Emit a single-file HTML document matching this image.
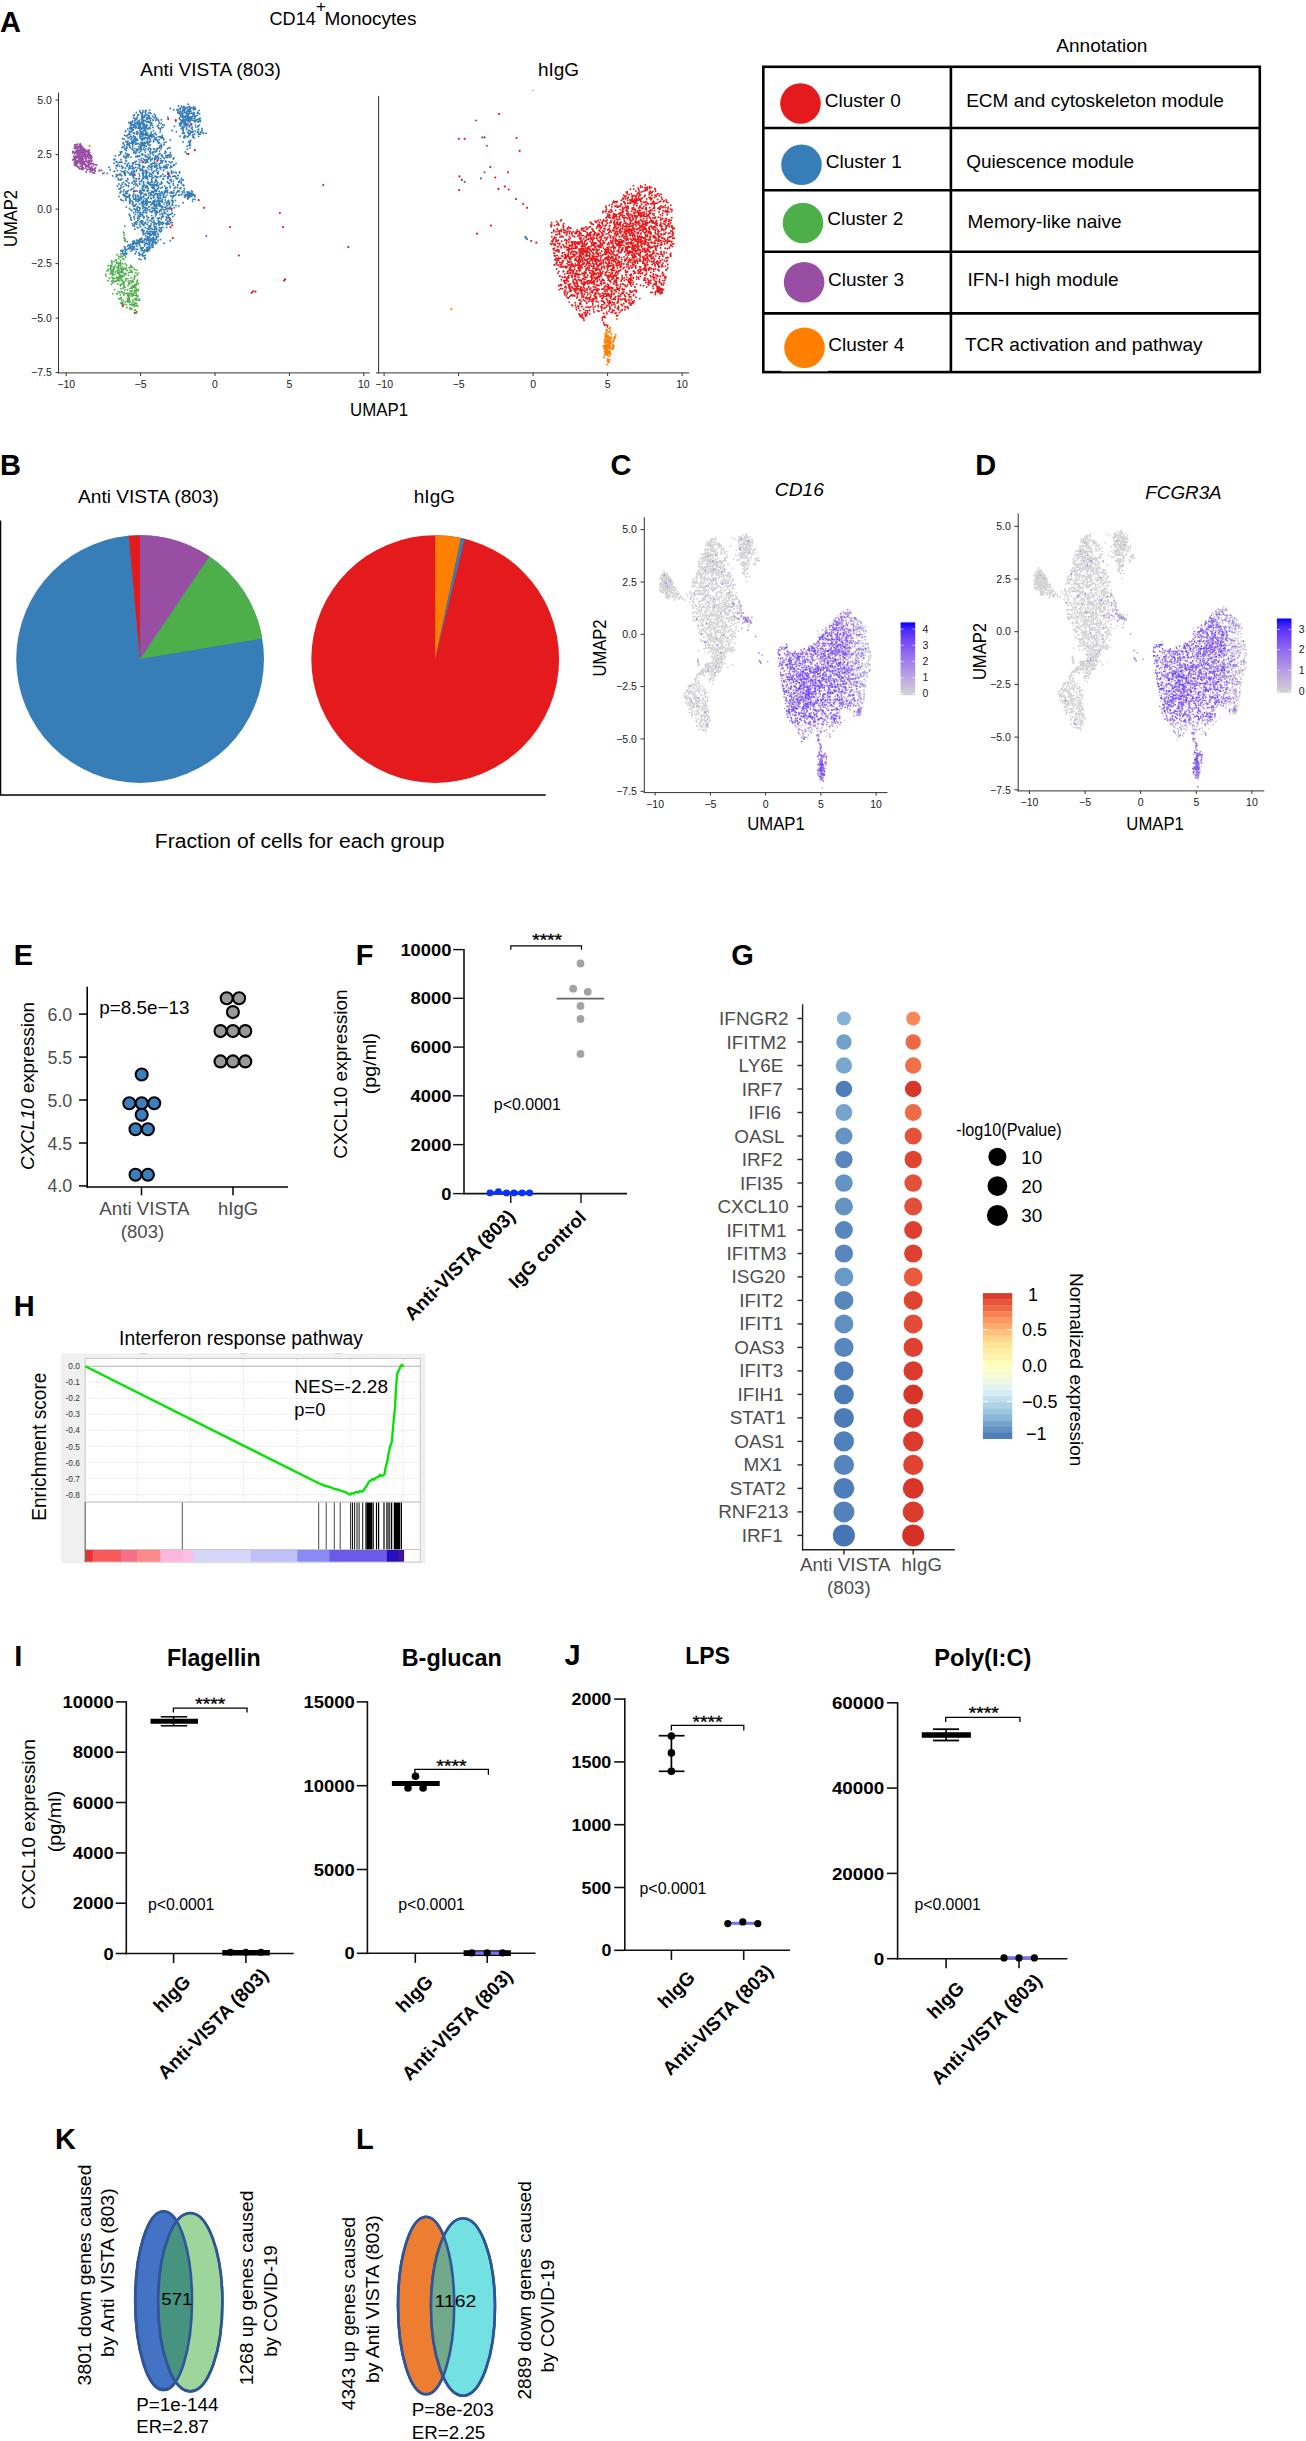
<!DOCTYPE html>
<html><head><meta charset="utf-8"><title>Figure</title>
<style>html,body{margin:0;padding:0;background:#fff}svg{display:block}text{font-family:"Liberation Sans",sans-serif}</style>
</head><body>
<svg width="1306" height="2441" viewBox="0 0 1306 2441">
<rect width="1306" height="2441" fill="#fff"/>
<text x="0.0" y="31.8" font-size="29" font-weight="bold">A</text>
<text x="269.5" y="25.1" font-size="18.5" textLength="46.3" lengthAdjust="spacingAndGlyphs">CD14</text>
<text x="316.0" y="12.0" font-size="17">+</text>
<text x="324.5" y="25.1" font-size="19" textLength="91.9" lengthAdjust="spacingAndGlyphs">Monocytes</text>
<text x="210.6" y="75.6" font-size="19" text-anchor="middle" textLength="140.6" lengthAdjust="spacingAndGlyphs">Anti VISTA (803)</text>
<text x="558.5" y="75.6" font-size="19" text-anchor="middle">hIgG</text>
<line x1="531.5" y1="90.2" x2="534.5" y2="90.2" stroke="#b0b0b0" stroke-width="1"/>
<line x1="58.5" y1="92.8" x2="58.5" y2="373.4" stroke="#333" stroke-width="1"/>
<line x1="58.0" y1="372.9" x2="369.7" y2="372.9" stroke="#333" stroke-width="1"/>
<line x1="55.5" y1="100.1" x2="58.5" y2="100.1" stroke="#333" stroke-width="1"/>
<text x="51.8" y="103.8" font-size="10.5" text-anchor="end" fill="#1a1a1a">5.0</text>
<line x1="55.5" y1="154.6" x2="58.5" y2="154.6" stroke="#333" stroke-width="1"/>
<text x="51.8" y="158.3" font-size="10.5" text-anchor="end" fill="#1a1a1a">2.5</text>
<line x1="55.5" y1="209.1" x2="58.5" y2="209.1" stroke="#333" stroke-width="1"/>
<text x="51.8" y="212.8" font-size="10.5" text-anchor="end" fill="#1a1a1a">0.0</text>
<line x1="55.5" y1="263.6" x2="58.5" y2="263.6" stroke="#333" stroke-width="1"/>
<text x="51.8" y="267.3" font-size="10.5" text-anchor="end" fill="#1a1a1a">−2.5</text>
<line x1="55.5" y1="318.1" x2="58.5" y2="318.1" stroke="#333" stroke-width="1"/>
<text x="51.8" y="321.8" font-size="10.5" text-anchor="end" fill="#1a1a1a">−5.0</text>
<line x1="55.5" y1="372.6" x2="58.5" y2="372.6" stroke="#333" stroke-width="1"/>
<text x="51.8" y="376.3" font-size="10.5" text-anchor="end" fill="#1a1a1a">−7.5</text>
<line x1="66.2" y1="372.9" x2="66.2" y2="376.0" stroke="#333" stroke-width="1"/>
<text x="66.2" y="388.3" font-size="10.5" text-anchor="middle" fill="#1a1a1a">−10</text>
<line x1="384.1" y1="372.9" x2="384.1" y2="376.0" stroke="#333" stroke-width="1"/>
<text x="384.1" y="388.3" font-size="10.5" text-anchor="middle" fill="#1a1a1a">−10</text>
<line x1="140.6" y1="372.9" x2="140.6" y2="376.0" stroke="#333" stroke-width="1"/>
<text x="140.6" y="388.3" font-size="10.5" text-anchor="middle" fill="#1a1a1a">−5</text>
<line x1="458.6" y1="372.9" x2="458.6" y2="376.0" stroke="#333" stroke-width="1"/>
<text x="458.6" y="388.3" font-size="10.5" text-anchor="middle" fill="#1a1a1a">−5</text>
<line x1="215.0" y1="372.9" x2="215.0" y2="376.0" stroke="#333" stroke-width="1"/>
<text x="215.0" y="388.3" font-size="10.5" text-anchor="middle" fill="#1a1a1a">0</text>
<line x1="533.1" y1="372.9" x2="533.1" y2="376.0" stroke="#333" stroke-width="1"/>
<text x="533.1" y="388.3" font-size="10.5" text-anchor="middle" fill="#1a1a1a">0</text>
<line x1="289.4" y1="372.9" x2="289.4" y2="376.0" stroke="#333" stroke-width="1"/>
<text x="289.4" y="388.3" font-size="10.5" text-anchor="middle" fill="#1a1a1a">5</text>
<line x1="607.6" y1="372.9" x2="607.6" y2="376.0" stroke="#333" stroke-width="1"/>
<text x="607.6" y="388.3" font-size="10.5" text-anchor="middle" fill="#1a1a1a">5</text>
<line x1="363.8" y1="372.9" x2="363.8" y2="376.0" stroke="#333" stroke-width="1"/>
<text x="363.8" y="388.3" font-size="10.5" text-anchor="middle" fill="#1a1a1a">10</text>
<line x1="682.1" y1="372.9" x2="682.1" y2="376.0" stroke="#333" stroke-width="1"/>
<text x="682.1" y="388.3" font-size="10.5" text-anchor="middle" fill="#1a1a1a">10</text>
<line x1="378.6" y1="95.9" x2="378.6" y2="373.4" stroke="#333" stroke-width="1"/>
<line x1="376.0" y1="372.9" x2="689.0" y2="372.9" stroke="#333" stroke-width="1"/>
<text font-size="19" text-anchor="middle" textLength="57.0" lengthAdjust="spacingAndGlyphs" transform="translate(17.3 218.5) rotate(-90)">UMAP2</text>
<text x="379.0" y="415.8" font-size="19" text-anchor="middle" textLength="58.0" lengthAdjust="spacingAndGlyphs">UMAP1</text>
<path d="M140.3 240.0h0M159.5 206.2h0M149.5 135.2h0M162.4 201.9h0M139.5 136.1h0M167.2 205.7h0M170.6 195.8h0M151.9 218.4h0M132.1 174.9h0M149.0 145.4h0M116.1 161.5h0M171.6 172.0h0M154.4 160.1h0M146.6 159.9h0M146.9 128.3h0M160.4 129.0h0M135.6 197.2h0M132.2 188.7h0M145.4 176.2h0M156.8 168.2h0M147.2 200.6h0M142.3 254.8h0M134.1 209.0h0M152.9 188.2h0M142.3 222.7h0M135.7 204.8h0M158.1 142.4h0M132.0 183.0h0M135.7 156.7h0M184.0 190.7h0M121.0 162.3h0M177.6 187.6h0M141.9 139.9h0M147.0 117.9h0M126.3 136.0h0M142.8 178.3h0M156.5 118.4h0M134.3 216.4h0M136.0 196.7h0M141.6 193.6h0M147.8 121.8h0M151.8 234.6h0M127.3 191.4h0M139.4 183.8h0M121.8 175.8h0M177.7 185.5h0M190.3 195.5h0M155.7 155.9h0M153.2 120.2h0M123.6 194.5h0M119.3 162.2h0M125.7 153.2h0M148.2 188.1h0M125.9 196.6h0M129.4 214.1h0M160.9 195.0h0M168.2 182.8h0M134.4 241.8h0M161.8 155.0h0M173.3 196.3h0M150.0 211.5h0M135.1 243.1h0M139.5 216.8h0M155.5 235.3h0M175.9 177.0h0M154.4 133.7h0M141.8 136.4h0M147.8 209.2h0M136.6 224.4h0M126.0 191.5h0M140.0 208.0h0M153.7 184.3h0M138.0 227.7h0M146.5 212.8h0M176.1 163.4h0M123.2 182.4h0M171.3 156.0h0M159.8 167.5h0M155.7 180.9h0M153.9 203.8h0M170.0 157.2h0M156.6 191.3h0M151.7 219.0h0M131.3 172.4h0M183.9 185.7h0M132.4 124.8h0M151.8 215.6h0M141.0 133.6h0M145.6 202.4h0M143.6 196.7h0M137.2 118.1h0M155.2 231.7h0M175.5 195.1h0M152.8 208.3h0M168.2 217.0h0M130.0 123.5h0M151.4 240.9h0M142.0 248.0h0M161.5 127.5h0M147.7 181.6h0M156.2 166.6h0M135.3 223.9h0M146.9 122.2h0M158.6 158.6h0M153.2 177.6h0M132.2 122.1h0M167.5 155.2h0M157.3 172.7h0M139.6 192.4h0M133.9 225.3h0M154.9 158.7h0M141.5 198.8h0M156.6 231.5h0M131.2 143.3h0M155.3 232.9h0M125.7 199.5h0M169.2 203.9h0M137.0 209.0h0M143.6 137.6h0M144.9 120.5h0M147.9 138.3h0M142.8 221.4h0M134.9 151.9h0M134.5 190.5h0M145.0 223.7h0M164.5 211.5h0M129.6 146.7h0M142.3 114.3h0M136.1 249.2h0M173.6 193.0h0M165.9 161.3h0M161.3 206.2h0M134.8 223.3h0M160.4 210.6h0M156.6 228.7h0M154.3 138.9h0M186.9 191.9h0M163.9 166.5h0M134.3 171.3h0M181.2 178.4h0M146.4 178.6h0M126.2 155.4h0M138.7 115.0h0M145.0 201.6h0M143.8 233.2h0M147.7 135.5h0M153.1 237.7h0M119.7 166.2h0M158.0 119.7h0M147.6 133.3h0M130.7 201.5h0M116.2 176.7h0M163.6 178.9h0M147.7 172.5h0M152.0 195.2h0M154.8 228.6h0M151.6 235.1h0M124.4 196.0h0M156.3 204.9h0M155.2 116.1h0M155.9 120.6h0M156.5 213.6h0M127.8 141.3h0M167.9 208.5h0M164.3 125.1h0M166.9 203.0h0M143.1 145.0h0M162.9 160.7h0M163.9 196.6h0M131.5 173.5h0M167.3 187.9h0M121.8 166.1h0M148.2 222.1h0M160.4 209.9h0M134.9 123.6h0M148.7 225.6h0M128.7 169.4h0M140.7 216.0h0M176.5 192.5h0M132.1 246.3h0M141.0 149.6h0M160.4 197.1h0M135.9 164.3h0M134.9 229.2h0M132.4 124.5h0M152.5 135.8h0M149.6 151.8h0M132.3 166.0h0M142.5 241.0h0M171.7 167.1h0M117.4 170.5h0M167.1 218.4h0M140.6 197.6h0M136.5 152.1h0M149.4 142.6h0M159.0 229.9h0M155.2 139.2h0M142.3 132.3h0M173.5 185.2h0M165.9 207.5h0M145.3 125.7h0M158.3 148.4h0M143.4 210.9h0M169.8 147.7h0M179.6 172.9h0M133.5 212.7h0M175.9 194.5h0M146.6 142.4h0M167.5 190.5h0M148.0 149.6h0M161.4 147.3h0M167.3 191.6h0M121.3 200.0h0M165.9 223.8h0M165.2 202.1h0M128.5 163.3h0M127.3 143.1h0M120.2 174.9h0M157.0 165.7h0M148.2 115.5h0M147.9 143.4h0M143.1 253.0h0M148.4 154.8h0M132.8 149.3h0M131.1 139.1h0M124.2 144.9h0M153.2 173.6h0M143.5 166.4h0M152.5 217.8h0M144.5 223.5h0M136.5 224.0h0M149.0 165.7h0M124.6 135.2h0M169.3 224.0h0M132.5 143.0h0M164.1 144.7h0M128.4 156.7h0M149.7 127.4h0M151.9 240.6h0M160.4 130.1h0M152.1 178.1h0M145.1 198.6h0M168.3 164.8h0M140.2 112.0h0M173.5 164.9h0M142.8 190.2h0M129.9 195.3h0M153.9 221.2h0M140.8 212.7h0M165.2 167.9h0M169.9 192.9h0M169.5 207.8h0M160.6 222.1h0M138.9 198.6h0M117.7 175.5h0M192.2 194.1h0M147.7 247.7h0M164.9 153.2h0M134.4 114.7h0M114.1 163.2h0M140.1 148.8h0M143.2 173.8h0M124.4 139.1h0M165.7 197.3h0M163.2 216.8h0M142.5 170.0h0M162.8 214.4h0M143.7 158.9h0M149.5 174.7h0M162.5 222.3h0M141.2 250.4h0M130.4 147.8h0M164.2 158.5h0M134.7 148.5h0M153.7 171.6h0M127.6 154.0h0M147.3 183.1h0M121.9 166.2h0M163.7 209.8h0M161.5 223.7h0M158.7 128.3h0M165.3 199.9h0M133.6 178.2h0M169.7 202.2h0M135.9 210.1h0M169.7 217.9h0M134.3 243.7h0M132.6 120.9h0M126.1 192.6h0M151.8 211.7h0M174.8 176.0h0M135.9 198.8h0M126.4 185.2h0M153.6 218.1h0M145.6 110.5h0M129.1 196.3h0M128.0 145.1h0M164.8 185.9h0M165.6 155.4h0M175.5 200.5h0M128.3 134.5h0M145.4 171.3h0M151.8 182.4h0M139.3 152.3h0M156.6 181.3h0M128.3 245.0h0M162.0 182.9h0M154.9 185.3h0M146.2 243.0h0M125.3 175.4h0M146.5 199.3h0M146.7 119.1h0M131.4 210.1h0M118.9 184.0h0M133.6 198.7h0M150.2 185.2h0M167.4 222.8h0M158.8 121.3h0M157.9 196.4h0M139.6 162.3h0M135.3 191.3h0M137.7 199.5h0M120.8 180.1h0M161.9 161.2h0M151.6 179.4h0M139.5 224.3h0M146.2 172.7h0M159.9 184.1h0M138.2 143.8h0M188.1 194.8h0M150.8 149.3h0M141.8 160.4h0M183.0 185.0h0M178.1 191.4h0M176.4 172.7h0M162.0 200.8h0M164.0 204.1h0M145.7 176.8h0M155.8 193.7h0M124.8 174.6h0M149.5 122.8h0M162.3 187.3h0M156.8 184.3h0M142.3 169.3h0M171.3 181.5h0M145.7 177.5h0M151.1 166.8h0M158.5 136.6h0M189.2 197.4h0M156.7 184.6h0M165.3 167.3h0M147.6 140.2h0M155.3 176.2h0M162.3 199.2h0M156.5 137.6h0M174.3 207.7h0M161.9 208.9h0M150.4 167.2h0M139.9 125.5h0M155.2 115.7h0M137.9 128.1h0M144.0 234.3h0M158.2 203.3h0M143.0 224.4h0M170.3 208.9h0M150.8 134.9h0M141.6 149.8h0M155.6 227.7h0M143.8 225.5h0M156.5 177.6h0M145.1 162.1h0M146.8 247.7h0M141.0 160.1h0M143.6 185.5h0M140.2 226.8h0M138.0 201.8h0M114.9 159.2h0M147.9 162.3h0M139.3 204.1h0M150.0 157.6h0M122.6 138.8h0M172.2 204.4h0M137.5 249.4h0M167.6 192.7h0M149.8 184.4h0M136.1 179.1h0M160.0 224.1h0M147.8 231.3h0M173.4 159.0h0M157.5 194.8h0M139.0 125.7h0M140.1 138.0h0M126.5 161.1h0M144.2 230.8h0M129.2 154.8h0M140.2 190.3h0M120.8 152.8h0M121.6 187.4h0M168.7 223.6h0M129.6 166.8h0M127.7 143.8h0M143.3 176.6h0M161.8 167.8h0M155.4 185.3h0M150.9 113.6h0M150.4 233.6h0M136.2 161.2h0M141.0 197.2h0M137.4 195.1h0M129.1 248.7h0M170.4 167.8h0M167.3 214.9h0M171.8 193.2h0M143.8 172.9h0M161.5 201.4h0M133.9 248.4h0M154.8 176.3h0M122.1 184.2h0M146.3 250.7h0M159.9 153.5h0M147.2 236.9h0M134.0 205.5h0M130.8 217.8h0M126.4 146.7h0M161.0 137.8h0M170.9 222.6h0M122.5 138.5h0M137.2 156.8h0M140.5 239.7h0M128.0 138.0h0M153.9 239.4h0M131.0 125.6h0M126.3 207.1h0M146.9 208.4h0M139.2 258.9h0M170.1 219.6h0M133.3 175.8h0M161.7 145.7h0M166.6 164.6h0M138.7 146.8h0M166.4 209.3h0M139.7 110.7h0M144.1 241.9h0M151.0 194.7h0M138.4 216.8h0M141.9 142.8h0M119.0 188.9h0M145.8 233.3h0M142.3 240.6h0M140.3 148.5h0M171.6 210.5h0M116.1 165.4h0M163.8 223.3h0M165.2 151.1h0M157.8 172.9h0M164.2 212.8h0M149.8 220.4h0M153.6 163.1h0M117.4 185.9h0M167.5 211.1h0M141.4 122.8h0M117.1 162.3h0M116.4 174.8h0M135.2 195.4h0M132.1 173.5h0M135.4 211.7h0M125.9 158.6h0M162.7 124.9h0M143.9 143.5h0M126.0 149.3h0M141.5 123.8h0M132.7 141.3h0M155.7 227.0h0M140.4 126.9h0M124.8 195.5h0M125.0 149.3h0M143.6 187.0h0M136.2 251.9h0M147.6 177.1h0M170.8 162.8h0M145.2 212.5h0M145.5 203.3h0M134.1 168.3h0M171.6 214.1h0M141.0 113.4h0M132.8 167.1h0M172.7 202.6h0M170.1 214.3h0M131.7 166.3h0M152.4 152.1h0M157.8 182.5h0M126.4 136.1h0M145.5 135.4h0M181.3 182.5h0M146.3 110.7h0M153.7 140.7h0M170.5 206.5h0M144.4 210.4h0M130.3 174.9h0M140.6 226.1h0M130.2 199.2h0M143.9 255.7h0M172.9 216.6h0M146.2 174.2h0M144.5 160.1h0M158.8 187.6h0M114.1 171.4h0M152.5 125.5h0M156.0 137.6h0M171.1 179.5h0M178.3 175.5h0M174.7 188.0h0M149.9 173.1h0M143.6 183.0h0M136.0 221.7h0M157.1 197.9h0M157.9 205.1h0M162.9 207.3h0M157.8 200.3h0M135.8 138.8h0M150.2 118.3h0M180.8 187.7h0M148.2 159.2h0M118.9 155.3h0M137.3 227.5h0M145.4 163.0h0M120.6 192.6h0M137.6 210.6h0M153.5 130.8h0M136.2 126.2h0M142.1 117.9h0M141.3 191.9h0M127.9 141.3h0M159.3 142.4h0M121.7 162.3h0M142.7 205.8h0M141.7 134.2h0M155.8 179.6h0M126.0 180.6h0M129.7 200.2h0M131.7 128.9h0M153.5 141.9h0M132.7 146.8h0M157.4 218.2h0M161.2 228.0h0M134.0 170.7h0M166.0 157.4h0M182.3 191.9h0M193.1 199.2h0M133.5 150.6h0M142.4 240.5h0M142.4 112.8h0M154.1 188.7h0M130.5 168.3h0M120.3 152.0h0M163.9 197.6h0M134.3 133.2h0M150.3 226.3h0M170.4 152.4h0M146.7 251.1h0M142.5 173.0h0M164.3 191.9h0M142.6 133.6h0M172.1 196.6h0M124.4 157.3h0M130.7 127.5h0M147.3 186.4h0M151.7 137.4h0M121.9 178.9h0M145.8 121.1h0M117.4 166.0h0M143.2 162.0h0M158.2 159.5h0M145.2 112.0h0M170.1 176.6h0M142.1 242.4h0M124.9 172.7h0M145.9 148.6h0M160.4 198.4h0M145.0 116.4h0M162.2 136.8h0M125.0 184.0h0M139.2 253.6h0M140.6 194.9h0M147.0 203.8h0M128.8 122.5h0M139.7 240.7h0M160.6 160.6h0M143.2 121.9h0M166.8 223.2h0M143.0 117.5h0M118.7 180.1h0M148.6 138.0h0M167.2 157.5h0M142.2 203.4h0M127.7 129.1h0M155.3 133.1h0M147.1 172.5h0M125.7 160.9h0M123.6 156.0h0M135.2 253.7h0M131.0 251.1h0M161.6 138.2h0M166.2 209.3h0M131.7 138.8h0M183.3 179.9h0M166.1 152.0h0M156.8 170.2h0M152.6 241.8h0M173.2 192.3h0M147.6 217.7h0M157.3 193.8h0M161.9 155.3h0M174.5 164.9h0M127.3 165.7h0M143.4 125.8h0M123.6 142.7h0M153.8 136.1h0M161.1 183.9h0M176.0 205.7h0M131.0 172.7h0M154.4 163.7h0M121.9 171.4h0M151.1 174.1h0M152.5 202.8h0M132.9 164.1h0M132.6 204.5h0M167.4 148.7h0M133.5 118.1h0M129.2 137.6h0M123.0 143.4h0M159.3 136.6h0M163.9 139.7h0M159.4 218.0h0M151.7 244.7h0M150.4 246.1h0M142.7 250.5h0M144.2 216.9h0M171.3 170.9h0M146.6 170.8h0M150.4 125.5h0M150.6 153.3h0M143.2 212.3h0M134.6 199.3h0M141.1 146.6h0M181.9 179.8h0M139.0 165.4h0M156.5 163.5h0M146.9 125.0h0M137.9 123.4h0M127.4 197.0h0M135.1 223.0h0M162.4 162.9h0M138.9 252.9h0M144.3 240.1h0M136.3 144.1h0M138.4 201.1h0M170.7 220.1h0M169.0 173.2h0M168.7 174.9h0M144.7 150.3h0M133.9 206.6h0M133.8 139.4h0M145.1 207.6h0M149.1 244.6h0M153.9 235.0h0M122.3 251.5h0M177.8 178.3h0M151.8 212.4h0M144.5 244.6h0M169.5 183.5h0M176.3 179.0h0M165.4 161.2h0M132.4 171.2h0M150.8 239.5h0M149.0 158.2h0M130.9 189.7h0M139.7 198.9h0M127.6 135.5h0M133.7 193.7h0M157.7 173.7h0M161.6 192.0h0M195.0 199.4h0M139.0 218.9h0M149.5 183.1h0M169.1 183.5h0M169.6 174.9h0M172.1 222.5h0M158.7 157.9h0M165.6 192.0h0M170.5 154.4h0M133.1 196.8h0M148.2 115.5h0M148.4 197.5h0M142.8 154.3h0M144.5 116.9h0M167.2 168.0h0M129.3 144.2h0M128.1 155.8h0M135.6 153.5h0M141.1 181.5h0M154.0 222.9h0M125.8 250.0h0M135.1 142.1h0M155.7 234.5h0M172.0 204.4h0M121.2 171.1h0M132.0 249.7h0M167.0 224.7h0M159.6 151.1h0M130.9 219.4h0M129.9 215.7h0M140.7 151.4h0M158.1 240.5h0M152.9 231.6h0M157.2 208.4h0M153.9 224.7h0M139.7 191.3h0M146.1 195.3h0M151.7 164.6h0M123.3 191.8h0M179.4 195.0h0M127.0 181.6h0M127.0 144.8h0M136.2 150.4h0M152.7 116.3h0M152.5 153.3h0M141.7 223.5h0M127.2 147.7h0M149.2 137.6h0M135.0 205.9h0M145.4 243.5h0M148.8 166.3h0M134.4 124.6h0M169.1 204.8h0M159.2 212.0h0M172.2 161.9h0M159.0 191.2h0M131.0 210.0h0M140.9 259.6h0M152.9 203.6h0M139.9 166.4h0M139.1 128.7h0M162.2 135.5h0M148.1 128.1h0M144.9 207.4h0M114.6 171.3h0M148.1 248.9h0M131.9 149.1h0M149.4 206.8h0M129.4 214.9h0M127.6 178.8h0M143.7 120.5h0M157.3 126.3h0M156.1 119.7h0M149.0 169.4h0M148.4 183.8h0M132.5 223.6h0M129.8 174.6h0M136.3 134.1h0M193.9 194.6h0M123.2 195.0h0M141.5 144.3h0M126.0 200.4h0M140.1 184.1h0M148.6 113.0h0M152.8 232.7h0M126.6 254.3h0M146.7 207.9h0M172.8 200.8h0M143.7 166.5h0M148.7 217.5h0M162.3 156.5h0M159.9 200.5h0M152.8 184.9h0M143.6 181.7h0M152.8 210.7h0M143.4 201.4h0M158.2 218.7h0M126.9 156.7h0M161.4 119.8h0M149.9 235.3h0M146.6 249.8h0M173.8 165.5h0M127.3 171.7h0M142.9 111.9h0M143.6 149.0h0M149.7 141.8h0M143.0 202.7h0M146.9 156.6h0M181.4 183.6h0M147.1 160.7h0M149.4 115.9h0M165.0 213.6h0M139.9 144.9h0M125.7 130.9h0M124.0 146.9h0M163.3 197.3h0M137.0 246.2h0M121.0 187.7h0M167.6 218.3h0M149.7 176.6h0M150.3 128.5h0M153.2 245.2h0M167.3 202.9h0M152.3 192.5h0M142.3 118.9h0M128.4 185.4h0M167.3 181.8h0M154.1 136.9h0M125.7 158.1h0M152.9 186.0h0M159.8 146.0h0M125.4 173.5h0M160.1 214.5h0M167.7 176.8h0M143.1 117.9h0M143.0 167.1h0M159.7 231.2h0M147.2 125.2h0M129.4 133.4h0M135.0 127.6h0M122.1 147.5h0M146.2 162.1h0M173.9 176.3h0M163.6 138.6h0M161.1 176.0h0M149.0 227.2h0M120.1 188.8h0M152.4 186.2h0M119.7 162.6h0M156.6 118.2h0M139.8 213.9h0M149.8 237.2h0M126.9 166.3h0M141.4 248.8h0M156.1 238.0h0M131.9 201.1h0M141.2 222.6h0M146.7 156.7h0M120.4 179.5h0M120.8 185.6h0M170.3 187.5h0M152.9 241.1h0M169.7 157.0h0M139.3 255.4h0M141.7 154.6h0M136.4 112.4h0M121.2 152.4h0M145.5 159.6h0M143.7 128.4h0M128.9 183.0h0M144.3 184.8h0M135.7 185.5h0M158.4 222.1h0M179.7 180.8h0M156.3 204.1h0M154.3 149.3h0M142.6 214.3h0M132.1 143.6h0M167.1 155.8h0M144.5 258.2h0M141.9 247.9h0M154.4 204.8h0M149.6 195.4h0M137.2 121.9h0M149.4 234.3h0M149.9 202.2h0M144.0 144.4h0M114.0 159.7h0M130.3 131.8h0M162.8 174.2h0M139.9 164.5h0M138.3 197.0h0M133.3 129.7h0M145.4 258.9h0M133.6 143.1h0M132.5 168.8h0M159.8 203.8h0M132.8 145.9h0M120.5 191.8h0M143.7 196.4h0M173.3 183.6h0M155.4 185.4h0M130.2 127.1h0M165.3 175.8h0M121.8 162.1h0M140.4 132.0h0M146.6 239.3h0M151.1 198.5h0M151.0 133.7h0M170.1 186.3h0M127.3 164.4h0M156.0 214.7h0M154.6 167.3h0M169.9 180.1h0M160.4 228.0h0M160.7 146.1h0M150.1 136.4h0M137.8 122.6h0M160.3 169.2h0M172.8 192.7h0M137.1 149.0h0M172.4 201.2h0M157.6 185.5h0M142.6 229.1h0M168.7 200.5h0M156.5 140.2h0M143.5 137.4h0M166.5 187.7h0M132.7 195.6h0M133.5 135.6h0M150.6 159.5h0M120.9 199.5h0M131.3 129.2h0M128.7 172.9h0M157.4 195.3h0M178.0 175.4h0M161.2 162.3h0M118.1 164.5h0M161.0 148.9h0M134.0 249.5h0M154.4 223.2h0M144.5 142.1h0M140.5 248.0h0M147.5 119.1h0M155.4 194.4h0M184.3 188.7h0M168.4 176.4h0M133.9 177.5h0M144.4 127.5h0M166.9 166.7h0M129.6 165.4h0M140.3 170.5h0M170.3 219.6h0M160.4 137.4h0M143.6 234.4h0M147.6 244.2h0M150.7 228.0h0M146.3 146.2h0M150.4 144.9h0M158.7 198.3h0M132.9 176.5h0M150.5 120.7h0M139.3 152.6h0M124.0 190.0h0M132.2 249.9h0M134.4 226.1h0M192.5 201.3h0M172.0 173.4h0M154.7 233.8h0M162.7 215.3h0M155.9 226.8h0M155.4 151.4h0M134.4 138.1h0M153.2 152.2h0M121.0 191.1h0M148.7 206.9h0M167.6 201.5h0M179.9 188.8h0M161.2 229.8h0M126.2 150.5h0M140.7 131.5h0M151.5 204.3h0M120.4 154.3h0M134.5 219.0h0M160.4 136.7h0M135.9 199.9h0M161.1 144.1h0M161.9 213.2h0M169.2 161.7h0M150.9 192.8h0M122.3 168.3h0M157.3 212.6h0M150.6 141.4h0M120.0 193.1h0M146.8 115.0h0M179.6 171.8h0M154.3 203.1h0M140.9 169.6h0M148.3 136.9h0M145.4 222.9h0M158.4 205.0h0M121.8 151.8h0M124.1 173.0h0M137.1 123.4h0M133.5 173.5h0M142.0 180.0h0M151.8 180.8h0M165.5 190.4h0M133.3 202.5h0M157.6 168.4h0M156.2 201.9h0M127.9 179.5h0M155.7 117.1h0M147.0 178.8h0M141.4 238.2h0M173.7 172.2h0M156.8 242.7h0M139.0 159.7h0M161.3 219.1h0M173.4 158.0h0M179.0 191.7h0M121.0 159.8h0M148.4 193.5h0M133.1 143.4h0M158.8 154.5h0M137.8 220.2h0M141.3 220.6h0M155.4 205.7h0M151.6 176.3h0M133.6 247.0h0M127.0 196.4h0M146.0 134.4h0M123.2 167.4h0M168.7 215.6h0M152.3 192.1h0M145.1 133.7h0M153.3 197.8h0M143.5 200.1h0M144.8 245.8h0M163.5 194.2h0M143.6 196.3h0M162.9 179.0h0M137.8 185.9h0M161.4 230.8h0M142.8 143.0h0M178.7 195.3h0M168.7 155.2h0M118.1 178.4h0M165.8 219.7h0M182.5 194.1h0M168.3 202.7h0M158.9 164.1h0M133.3 133.1h0M174.5 214.8h0M137.6 150.2h0M162.5 137.6h0M159.5 204.1h0M129.4 142.9h0M135.0 162.0h0M150.4 150.8h0M158.5 171.6h0M139.9 209.5h0M175.8 172.5h0M122.9 146.9h0M134.1 181.4h0M162.6 224.5h0M151.0 124.4h0M130.6 244.5h0M162.0 193.0h0M142.4 123.1h0M154.5 210.5h0M133.5 181.4h0M155.8 159.1h0M149.6 110.2h0M158.1 236.5h0M178.9 191.0h0M145.7 113.3h0M138.8 156.6h0M144.3 139.0h0M139.4 178.8h0M172.5 197.9h0M190.8 196.5h0M148.9 117.3h0M115.4 155.9h0M125.3 184.6h0M187.8 197.5h0M150.7 164.3h0M157.1 184.1h0M139.4 243.6h0M138.8 149.4h0M164.1 142.7h0M130.5 248.2h0M157.9 177.1h0M167.7 172.2h0M148.3 197.5h0M143.1 202.2h0M146.0 194.4h0M137.1 191.0h0M132.9 225.5h0M153.1 201.3h0M123.7 171.7h0M153.2 239.9h0M171.1 191.6h0M163.2 195.6h0M131.7 210.6h0M150.9 136.2h0M141.7 117.9h0M147.4 167.8h0M139.7 168.5h0M134.3 170.9h0M150.5 122.6h0M141.2 203.2h0M153.7 204.2h0M149.2 118.2h0M157.3 157.4h0M142.6 155.1h0M141.5 158.1h0M174.2 195.9h0M130.2 136.6h0M133.9 217.1h0M135.2 182.9h0M150.8 225.8h0M142.5 255.9h0M169.2 208.6h0M167.7 157.2h0M116.1 168.1h0M150.1 119.1h0M166.2 161.9h0M155.6 190.2h0M125.0 170.8h0M137.8 132.5h0M147.4 239.8h0M146.5 242.4h0M160.1 201.2h0M142.1 121.2h0M178.5 181.9h0M140.0 200.3h0M140.0 242.1h0M145.3 208.4h0M151.8 137.2h0M157.2 148.9h0M173.0 202.2h0M160.1 204.9h0M181.3 182.0h0M149.3 175.8h0M170.8 165.9h0M158.7 143.3h0M146.5 186.5h0M137.4 150.2h0M143.6 128.4h0M159.1 139.6h0M174.2 188.1h0M142.0 154.0h0M119.0 174.4h0M160.2 193.1h0M154.7 209.5h0M125.5 168.2h0M150.2 140.0h0M160.6 206.1h0M146.0 185.9h0M135.5 137.0h0M139.4 198.6h0M148.3 237.3h0M156.8 223.7h0M161.5 207.0h0M144.2 137.6h0M138.2 132.6h0M141.6 230.2h0M145.3 227.5h0M159.3 227.6h0M125.4 193.7h0M155.9 165.2h0M148.1 240.4h0M147.5 251.4h0M119.0 196.4h0M144.7 137.7h0M144.9 160.3h0M150.8 231.3h0M148.3 121.2h0M154.4 114.1h0M136.5 169.9h0M149.9 156.5h0M135.4 127.6h0M165.6 213.4h0M133.7 152.7h0M133.5 142.3h0M136.4 119.5h0M150.5 239.3h0M154.1 197.3h0M151.8 167.0h0M144.9 257.8h0M136.2 181.2h0M156.3 157.3h0M168.0 214.2h0M159.1 193.8h0M137.5 133.9h0M137.2 117.0h0M156.3 223.8h0M143.0 171.3h0M135.0 209.1h0M155.4 156.2h0M152.9 242.5h0M132.3 128.1h0M142.8 215.6h0M161.4 209.5h0M148.5 190.3h0M152.8 172.5h0M131.9 131.0h0M155.7 185.3h0M156.9 236.6h0M144.1 117.4h0M143.5 130.6h0M138.0 167.9h0M159.4 165.6h0M138.3 122.6h0M143.5 206.5h0M177.8 191.0h0M157.5 160.1h0M140.4 142.9h0M165.6 188.3h0M141.9 127.9h0M138.3 121.1h0M147.3 129.1h0M166.7 195.3h0M120.5 174.0h0M145.4 152.1h0M145.0 137.5h0M145.8 194.1h0M142.2 248.0h0M133.9 162.7h0M173.0 205.3h0M166.0 142.2h0M143.2 131.0h0M136.2 143.9h0M142.6 120.0h0M147.9 191.0h0M142.8 116.9h0M144.1 167.1h0M133.8 136.6h0M143.6 127.9h0M142.7 242.2h0M144.4 204.4h0M158.5 200.2h0M143.5 216.7h0M151.7 191.5h0M139.4 254.6h0M123.6 186.6h0M146.5 126.6h0M126.6 197.6h0M143.9 251.1h0M156.5 212.2h0M161.7 202.0h0M144.2 144.3h0M145.2 255.4h0M142.8 193.1h0M156.3 231.4h0M143.3 174.9h0M135.7 128.3h0M143.5 134.8h0M137.2 133.1h0M154.7 229.7h0M141.0 222.3h0M129.9 134.3h0M146.9 199.2h0M139.7 122.1h0M130.7 139.4h0M152.3 182.4h0M142.0 138.6h0M157.0 211.0h0M129.5 208.5h0M123.1 200.6h0M152.9 191.5h0M126.3 157.0h0M149.2 242.7h0M177.7 185.0h0M152.4 163.4h0M156.7 148.8h0M133.9 132.8h0M131.9 137.3h0M154.3 226.8h0M168.8 174.3h0M158.6 185.6h0M140.4 193.2h0M132.5 163.5h0M142.4 140.4h0M139.9 134.3h0M139.5 128.3h0M157.8 233.5h0M157.2 186.1h0M145.1 238.7h0M148.0 236.6h0M142.6 174.1h0M149.7 231.7h0M147.7 231.5h0M152.1 231.9h0M165.0 207.1h0M135.2 195.1h0M150.9 198.0h0M137.1 208.1h0M155.9 179.8h0M136.8 139.0h0M153.7 229.6h0M154.1 187.2h0M140.2 147.1h0M129.1 195.0h0M129.2 131.3h0M152.0 243.8h0M131.2 124.8h0M154.0 118.0h0M150.8 234.6h0M150.4 113.0h0M131.3 220.1h0M154.0 187.3h0M154.7 151.6h0M136.2 204.1h0M163.8 176.4h0M146.5 125.2h0M142.4 224.0h0M141.3 129.3h0M149.6 226.4h0M147.2 220.0h0M147.8 144.0h0M151.7 170.2h0M156.8 139.8h0M162.5 216.4h0M141.9 142.4h0M141.7 138.8h0M150.9 118.4h0M145.0 130.8h0M147.1 156.7h0M133.3 205.4h0M160.4 231.8h0M147.3 204.7h0M142.3 135.6h0M149.7 243.7h0M141.4 147.8h0M172.8 176.6h0M129.6 201.9h0M145.9 133.3h0M144.4 124.4h0M158.9 202.2h0M151.7 168.5h0M151.8 187.2h0M156.6 151.2h0M137.4 212.8h0M150.2 148.5h0M141.8 146.3h0M153.3 155.0h0M152.1 159.0h0M150.2 248.1h0M164.3 193.4h0M136.9 143.2h0M151.2 132.1h0M174.1 190.4h0M144.8 130.0h0M147.1 228.8h0M143.4 133.7h0M146.0 131.7h0M136.1 178.8h0M146.9 190.7h0M146.7 178.3h0M146.8 231.6h0M154.8 232.6h0M139.1 199.6h0M158.5 142.6h0M140.3 126.8h0M149.0 138.2h0M131.8 127.6h0M153.4 239.0h0M135.5 123.4h0M154.5 200.6h0M137.1 122.9h0M155.0 200.0h0M131.7 141.5h0M160.9 158.6h0M143.3 170.6h0M144.0 176.5h0M160.6 167.4h0M138.3 124.5h0M153.7 239.5h0M143.1 134.9h0M153.8 232.5h0M167.6 220.9h0M169.3 221.5h0M150.5 202.0h0M148.6 136.6h0M141.9 201.7h0M149.0 249.0h0M157.8 188.7h0M149.5 242.3h0M148.4 239.2h0M153.6 237.2h0M166.6 227.4h0M129.7 128.5h0M164.5 192.7h0M150.0 235.5h0M133.3 130.0h0M140.6 190.4h0M159.0 225.3h0M147.6 238.0h0M137.0 222.3h0M147.2 224.3h0M152.2 182.4h0M139.1 244.6h0M141.7 238.9h0M146.9 125.4h0M138.9 207.5h0M149.5 229.3h0M155.6 151.8h0M168.4 178.3h0M143.2 203.2h0M179.1 182.4h0M142.9 189.3h0M136.3 242.6h0M154.2 224.7h0M137.9 164.6h0M153.0 127.6h0M139.8 134.6h0M168.8 173.8h0M149.1 250.4h0M155.5 208.0h0M148.8 148.3h0M141.8 238.4h0M157.6 156.0h0M139.2 173.8h0M138.7 126.9h0M143.8 218.0h0M144.6 145.7h0M145.7 130.6h0M150.8 194.2h0M163.3 170.6h0M147.4 239.7h0M133.5 125.2h0M145.2 154.9h0M154.9 170.9h0M151.9 208.0h0M158.3 220.9h0M142.6 114.8h0M142.7 124.1h0M136.2 139.4h0M137.9 195.8h0M135.1 125.5h0M143.5 124.0h0M167.6 224.1h0M159.8 210.4h0M159.2 221.4h0M153.5 237.9h0M131.4 122.9h0M139.7 156.0h0M147.4 134.8h0M142.3 214.1h0M140.4 196.7h0M153.9 206.3h0M156.6 184.8h0M143.3 247.7h0M147.0 117.5h0M140.0 124.0h0M127.0 142.7h0M151.0 182.5h0M142.6 208.5h0M142.3 186.1h0M155.3 216.1h0M157.3 200.9h0M135.0 118.4h0M132.6 149.4h0M130.6 136.3h0M142.8 132.5h0M146.3 205.2h0M166.6 204.1h0M145.0 129.5h0M166.2 167.8h0M155.0 157.7h0M159.4 221.7h0M167.7 178.4h0M142.8 110.7h0M142.0 188.3h0M148.8 239.1h0M150.6 159.8h0M158.1 173.5h0M135.5 214.4h0M146.2 135.2h0M135.4 144.1h0M154.4 201.9h0M133.4 140.5h0M173.4 181.2h0M162.1 192.1h0M141.0 133.5h0M133.2 127.4h0M149.2 195.6h0M134.5 172.6h0M133.9 187.7h0M143.8 185.8h0M129.2 197.7h0M156.9 176.6h0M142.9 197.3h0M134.6 122.0h0M161.6 217.2h0M133.5 115.9h0M141.3 139.6h0M148.8 229.0h0M153.7 195.7h0M135.7 167.4h0M142.7 166.4h0M161.1 210.7h0M155.4 210.7h0M143.1 175.3h0M166.2 217.0h0M148.2 198.2h0M163.9 194.8h0M147.6 188.3h0M140.3 125.5h0M163.7 169.9h0M171.7 200.3h0M153.5 197.6h0M158.4 125.3h0M143.5 184.0h0M158.3 234.6h0M147.6 238.1h0M139.1 212.1h0M153.8 192.7h0M151.2 198.8h0M148.5 202.3h0M147.3 244.4h0M125.1 148.6h0M155.0 233.9h0M161.1 123.5h0M149.6 247.2h0M131.1 132.1h0M154.3 166.0h0M146.6 239.2h0M146.2 138.3h0M145.6 187.8h0M167.9 173.9h0M137.7 140.1h0M152.9 120.0h0M146.2 173.4h0M142.7 134.0h0M151.2 223.9h0M127.4 193.5h0M140.2 245.9h0M134.0 141.3h0M165.8 209.3h0M163.0 227.5h0M129.1 167.8h0M156.3 177.3h0M142.9 116.5h0M143.3 135.1h0M173.4 195.4h0M144.5 138.1h0M135.0 120.3h0M149.5 243.4h0M144.4 194.4h0M151.1 184.7h0M152.9 233.5h0M146.0 173.7h0M128.6 186.6h0M153.1 222.4h0M136.9 133.3h0M156.7 206.6h0M161.3 137.4h0M154.0 242.6h0M136.7 184.3h0M143.5 207.8h0M152.6 158.5h0M143.5 139.1h0M149.8 242.4h0M147.7 142.3h0M138.8 124.5h0M139.4 120.3h0M142.8 221.0h0M152.6 172.6h0M151.8 182.0h0M125.9 197.6h0M158.8 223.5h0M160.1 132.1h0M133.8 184.5h0M146.6 216.0h0M142.6 128.6h0M154.0 220.6h0M134.4 180.7h0M152.5 219.0h0M141.6 115.8h0M125.0 163.4h0M175.5 187.3h0M140.8 214.9h0M149.5 229.3h0M141.1 197.4h0M156.1 179.9h0M131.1 157.1h0M147.2 141.3h0M143.7 178.4h0M145.8 235.8h0M142.6 201.6h0M151.4 221.4h0M156.7 229.3h0M137.0 131.5h0M148.1 248.9h0M134.1 126.0h0M153.6 148.6h0M154.2 232.1h0M157.5 156.9h0M145.5 222.3h0M141.6 119.3h0M145.2 160.0h0M153.1 242.8h0M155.6 243.5h0M142.4 168.3h0M139.9 221.7h0M152.1 238.4h0M156.3 189.4h0M159.1 202.4h0M155.3 191.3h0M149.9 209.8h0M161.7 230.7h0M153.0 247.2h0M163.0 157.1h0M132.3 204.0h0M139.5 181.6h0M158.7 127.8h0M128.4 190.4h0M154.2 233.7h0M147.8 157.6h0M150.7 240.7h0M153.9 242.8h0M150.2 139.1h0M141.6 145.7h0M152.5 134.8h0M146.4 185.7h0M162.4 216.8h0M159.6 195.5h0M149.1 193.0h0M168.6 217.8h0M136.7 140.5h0M154.9 162.1h0M144.5 252.1h0M155.0 212.7h0M154.4 194.6h0M140.7 254.4h0M145.2 156.4h0M148.2 240.3h0M140.1 136.0h0M160.9 188.1h0M131.8 201.3h0M137.8 242.3h0M154.9 182.5h0M130.8 122.1h0M150.7 160.7h0M163.0 127.4h0M164.0 167.4h0M149.2 240.0h0M149.7 148.1h0M159.3 147.8h0M166.5 190.2h0M147.7 179.1h0M156.2 242.3h0M138.4 178.8h0M137.7 114.8h0M141.2 170.3h0M143.0 126.1h0M151.8 123.0h0M150.9 204.9h0M162.5 206.5h0M173.7 157.9h0M156.6 150.1h0M160.2 176.7h0M169.3 154.8h0M151.7 244.5h0M160.0 163.4h0M144.8 115.3h0M152.1 166.2h0M157.8 141.1h0M148.3 128.9h0M164.7 212.5h0M125.9 141.4h0M139.9 130.6h0M155.1 223.1h0M136.2 139.6h0M140.2 138.0h0M143.0 234.4h0M137.4 206.7h0M172.3 212.9h0M147.8 250.0h0M137.5 217.8h0M137.4 155.6h0M145.2 210.3h0M152.1 240.3h0M132.6 163.1h0M142.2 193.0h0M149.3 244.8h0M156.3 224.5h0M156.2 134.7h0M140.8 128.5h0M148.5 118.2h0M137.9 132.4h0M146.5 240.3h0M136.7 156.6h0M155.1 239.7h0M152.3 247.1h0M156.5 238.9h0M148.2 246.6h0M141.1 238.9h0M153.8 208.5h0M136.5 126.7h0M157.8 196.7h0M144.8 129.5h0M142.1 121.0h0M148.1 181.8h0M142.3 205.7h0M161.3 155.4h0M147.0 210.8h0M157.1 201.3h0M138.4 215.2h0M147.6 233.9h0M152.1 229.0h0M161.4 181.9h0M147.4 238.3h0M145.6 143.5h0M141.9 249.4h0M139.6 176.0h0M154.7 191.0h0M152.1 247.3h0M144.3 190.0h0M146.2 201.9h0M144.7 250.0h0M142.7 205.3h0M147.5 201.7h0M125.5 131.6h0M138.9 210.6h0M165.7 206.9h0M159.2 123.1h0M132.8 144.3h0M137.2 243.6h0M141.5 242.2h0M150.4 153.8h0M145.6 127.5h0M137.2 124.3h0M144.1 190.9h0M142.7 230.7h0M135.4 140.2h0M142.9 232.2h0M144.9 194.5h0M144.5 125.4h0M144.2 146.9h0M139.4 126.1h0M155.0 241.4h0M143.1 201.1h0M147.6 249.4h0M148.8 242.2h0M134.4 133.3h0M136.1 201.1h0M144.3 143.3h0M136.5 171.1h0M149.1 122.3h0M156.6 237.3h0M148.2 239.1h0M144.3 123.8h0M129.7 203.3h0M145.4 170.5h0M139.1 124.1h0M141.6 116.1h0M129.7 146.0h0M145.8 200.6h0M152.1 175.8h0M146.9 176.0h0M148.5 233.0h0M165.2 165.9h0M146.5 242.8h0M137.1 123.7h0M190.4 140.9h0M190.9 111.2h0M200.4 120.8h0M188.5 153.6h0M187.2 107.8h0M200.3 121.5h0M180.3 113.9h0M193.5 114.2h0M191.8 118.3h0M198.6 136.4h0M200.1 134.3h0M194.8 107.4h0M198.9 119.3h0M181.8 112.7h0M183.4 129.3h0M192.8 131.4h0M182.2 115.0h0M193.9 116.1h0M187.6 115.2h0M176.9 109.9h0M188.2 104.3h0M189.6 135.0h0M193.8 120.8h0M184.6 112.6h0M193.5 136.4h0M188.2 118.1h0M177.8 112.7h0M197.8 126.8h0M190.2 109.8h0M189.9 125.9h0M193.4 106.9h0M188.0 121.3h0M194.8 118.0h0M182.6 133.5h0M188.8 111.4h0M195.5 125.1h0M192.5 134.9h0M190.1 120.5h0M190.5 133.2h0M190.7 140.5h0M181.3 128.7h0M183.8 137.3h0M189.4 130.4h0M189.5 144.8h0M198.2 129.8h0M186.3 123.7h0M198.6 129.2h0M194.1 115.5h0M197.9 131.5h0M186.5 127.9h0M192.4 127.1h0M202.1 130.3h0M193.9 118.6h0M187.1 146.2h0M182.1 126.9h0M189.1 145.5h0M199.1 110.4h0M195.5 116.3h0M183.0 119.3h0M201.4 132.4h0M189.2 141.1h0M181.5 107.3h0M190.0 148.1h0M206.0 133.2h0M179.9 108.8h0M202.9 132.8h0M188.6 121.0h0M203.5 133.4h0M189.5 144.3h0M186.7 153.8h0M197.0 115.4h0M192.4 129.3h0M195.1 108.2h0M184.7 120.9h0M188.3 136.2h0M197.9 132.4h0M180.2 109.3h0M200.4 118.4h0M192.4 113.7h0M179.9 136.3h0M182.9 130.6h0M180.8 116.0h0M180.5 123.2h0M195.8 127.1h0M191.3 113.1h0M188.1 110.2h0M193.0 132.6h0M202.2 130.5h0M183.9 137.8h0M191.8 116.8h0M189.3 126.7h0M187.4 137.2h0M191.4 108.0h0M191.3 128.1h0M199.5 118.4h0M199.2 119.9h0M197.8 112.2h0M185.4 107.9h0M187.6 132.1h0M190.0 108.5h0M185.4 152.0h0M188.4 114.9h0M198.1 112.9h0M184.6 137.9h0M180.1 110.9h0M188.8 134.2h0M190.8 118.9h0M178.5 106.0h0M190.1 142.7h0M184.3 133.3h0M185.6 136.3h0M190.0 117.0h0M187.9 124.9h0M194.6 134.2h0M180.2 108.5h0M192.8 134.9h0M187.4 149.1h0M194.8 116.2h0M198.2 126.1h0M188.3 120.3h0M183.0 141.9h0M179.5 112.6h0M192.4 131.8h0M200.4 132.2h0M188.7 130.4h0M198.6 121.8h0M184.6 135.7h0M180.3 126.0h0M188.8 132.9h0M187.6 113.2h0M197.1 119.5h0M192.6 137.1h0M187.0 111.2h0M186.7 129.5h0M188.7 119.3h0M184.6 107.2h0M193.4 109.5h0M195.0 122.1h0M196.1 120.5h0M194.1 138.1h0M197.4 113.3h0M197.2 132.4h0M195.1 131.0h0M188.9 142.0h0M195.2 109.4h0M191.7 132.0h0M178.1 109.5h0M191.7 124.3h0M199.5 113.9h0M194.3 112.8h0M189.6 113.5h0M192.5 129.4h0M192.0 120.3h0M181.6 124.4h0M182.4 117.4h0M198.7 134.0h0M192.1 117.1h0M187.6 109.7h0M190.4 145.4h0M179.8 124.4h0M194.1 109.0h0M201.9 128.5h0M194.0 114.4h0M190.8 118.2h0M183.3 120.8h0M189.2 119.5h0M188.8 118.4h0M178.8 113.1h0M184.6 122.7h0M190.7 131.5h0M185.9 116.3h0M183.6 122.2h0M185.3 123.2h0M191.1 117.8h0M182.0 120.7h0M187.3 123.8h0M185.4 121.0h0M187.7 117.9h0M182.4 122.3h0M184.2 126.0h0M186.8 112.2h0M184.8 116.5h0M179.4 118.7h0M187.7 116.2h0M184.6 124.6h0M195.3 120.2h0M179.6 113.7h0M185.9 124.8h0M185.2 125.4h0M188.8 119.1h0M199.4 125.2h0M184.0 127.3h0M185.5 122.3h0M184.1 109.7h0M189.1 116.9h0M181.7 106.2h0M185.1 121.6h0M189.7 106.4h0M178.0 111.2h0M184.0 121.4h0M179.4 123.5h0M185.7 122.3h0M191.7 119.0h0M187.1 107.2h0M193.6 109.5h0M183.2 128.8h0M182.3 117.3h0M193.2 115.7h0M181.2 121.9h0M184.9 110.1h0M186.7 115.2h0M182.3 113.5h0M180.8 111.6h0M193.7 112.5h0M190.0 130.7h0M186.6 113.2h0M181.4 124.2h0M185.4 116.0h0M182.8 115.8h0M189.0 106.8h0M186.8 118.6h0M182.8 111.0h0M180.6 119.9h0M183.0 115.8h0M182.5 116.0h0M183.0 113.5h0M185.5 119.2h0M180.3 114.2h0M188.8 109.4h0M187.4 120.6h0M184.6 109.9h0M186.2 112.6h0M189.5 107.4h0M182.8 115.9h0M184.5 120.1h0M184.7 112.7h0M189.4 120.6h0M197.7 121.7h0M182.8 109.2h0M190.3 118.1h0M184.0 125.0h0M190.6 123.4h0M193.2 108.7h0M188.3 124.8h0M186.6 126.3h0M183.1 128.9h0M184.5 116.6h0M181.3 122.1h0M179.7 117.7h0M183.9 121.3h0M189.4 111.6h0M189.2 122.1h0M189.4 110.5h0M184.3 123.4h0M181.0 124.5h0M183.5 107.7h0M184.0 117.2h0M182.8 127.1h0M183.8 119.7h0M185.1 119.7h0M188.8 113.7h0M186.7 119.6h0M181.3 123.1h0M185.7 118.0h0M183.2 131.8h0M185.2 108.8h0M183.9 106.4h0M191.0 118.0h0M190.1 121.0h0M184.6 111.3h0M187.9 195.6h0M192.5 191.9h0M192.7 194.0h0M188.3 192.9h0M187.2 196.0h0M189.7 194.5h0M184.5 196.6h0M185.4 195.2h0M188.6 192.0h0M188.5 192.2h0M189.1 194.2h0M187.8 199.0h0M184.2 192.5h0M194.8 196.7h0M184.7 195.7h0M185.2 197.2h0M191.1 193.2h0M190.8 193.4h0M193.2 194.7h0M186.6 194.7h0M190.3 194.4h0M193.2 195.0h0M191.7 194.2h0M189.9 195.6h0M188.8 196.2h0M191.6 195.4h0M191.6 196.0h0M195.1 195.4h0M188.3 197.7h0M191.5 190.9h0M189.5 192.7h0M188.7 194.2h0M192.8 195.4h0M190.7 196.3h0M187.9 193.4h0M190.3 194.2h0M187.3 194.1h0M188.7 194.9h0M192.4 194.5h0M189.7 194.2h0M184.8 195.5h0M181.5 194.8h0M189.4 195.0h0M185.5 194.5h0M187.5 196.8h0M170.3 108.5h0M167.8 117.1h0M172.1 130.5h0M174.5 126.2h0M170.3 140.3h0M169.0 147.7h0M173.9 109.7h0M175.8 121.3h0M176.4 131.8h0M183.1 202.8h0M178.8 205.9h0M164.1 243.2h0M160.5 239.6h0M170.3 240.8h0M124.9 226.1h0M104.1 172.8h0M107.2 173.4h0M110.2 169.7h0M112.7 175.9h0M109.0 167.3h0M137.5 243.2h0M140.2 241.2h0M139.0 242.7h0M130.0 247.1h0M120.9 250.7h0M123.0 253.9h0M133.4 247.2h0M124.7 248.6h0M124.8 247.0h0M132.9 241.8h0M132.4 243.8h0M134.5 241.5h0M128.3 248.2h0M133.4 240.9h0M130.9 246.8h0M126.7 253.2h0M122.6 253.3h0M136.2 244.2h0M133.3 247.9h0M136.4 242.8h0M127.0 249.6h0M127.2 241.7h0M123.8 253.8h0M121.5 250.2h0M124.4 246.7h0M131.9 248.7h0M138.2 240.4h0M133.1 244.6h0M124.9 255.1h0M138.7 241.0h0M130.7 247.4h0M123.4 250.5h0M127.7 246.1h0M125.4 247.9h0M125.4 251.2h0M133.6 243.0h0M139.6 239.2h0M137.8 242.0h0M129.7 245.8h0M125.2 253.0h0M139.6 239.5h0M136.5 240.2h0M123.7 254.9h0M129.5 248.8h0M134.6 246.8h0" stroke="#377EB8" stroke-width="1.9" stroke-linecap="round" fill="none"/>
<path d="M83.1 167.5h0M80.4 152.7h0M76.2 152.2h0M82.4 146.9h0M89.0 158.2h0M76.6 166.0h0M79.9 149.6h0M81.5 157.5h0M87.0 156.3h0M76.3 146.6h0M86.2 155.7h0M89.0 167.2h0M87.9 162.1h0M81.4 168.2h0M73.2 159.8h0M76.1 158.6h0M79.9 161.7h0M84.0 162.1h0M89.1 169.2h0M85.1 156.9h0M99.7 170.3h0M74.4 165.0h0M82.2 155.7h0M77.3 157.6h0M75.7 164.6h0M86.2 172.0h0M90.7 158.9h0M79.4 155.8h0M84.6 156.0h0M78.9 153.0h0M75.3 156.9h0M74.6 153.9h0M82.7 155.0h0M85.9 161.6h0M86.4 154.5h0M90.0 172.0h0M89.0 162.4h0M74.9 163.0h0M89.2 153.9h0M84.1 162.8h0M89.7 160.6h0M75.6 162.9h0M75.2 158.6h0M81.8 164.8h0M91.8 160.4h0M92.1 170.5h0M82.4 164.3h0M85.3 149.7h0M76.0 165.4h0M85.7 164.6h0M88.1 153.0h0M79.6 147.8h0M81.3 148.4h0M81.9 157.8h0M90.7 170.6h0M89.2 161.1h0M95.4 171.1h0M73.9 156.3h0M87.2 169.7h0M81.6 153.0h0M77.8 166.7h0M75.4 145.6h0M94.4 170.5h0M93.7 164.8h0M74.7 161.7h0M77.7 157.6h0M73.5 151.7h0M80.6 162.8h0M83.3 167.9h0M81.6 169.3h0M79.6 144.4h0M78.8 167.8h0M89.2 150.3h0M81.5 169.3h0M90.6 156.0h0M76.1 151.4h0M82.2 158.2h0M99.2 170.8h0M80.8 153.5h0M87.9 161.4h0M81.3 160.6h0M94.7 168.9h0M91.1 162.0h0M87.6 162.5h0M88.7 153.5h0M81.7 163.6h0M83.8 153.3h0M74.7 145.0h0M83.9 154.5h0M79.6 168.8h0M84.0 150.3h0M77.2 148.2h0M88.3 150.2h0M88.1 157.3h0M92.5 172.4h0M74.4 148.2h0M75.3 157.0h0M84.9 164.8h0M86.5 160.2h0M83.1 155.4h0M91.6 156.1h0M96.6 165.0h0M79.9 156.6h0M95.6 167.7h0M88.6 163.4h0M84.7 156.6h0M92.8 163.4h0M82.4 165.0h0M74.7 152.6h0M85.0 153.2h0M79.9 158.6h0M79.5 154.7h0M87.7 152.2h0M90.0 167.7h0M92.7 168.5h0M90.4 154.9h0M94.6 172.9h0M86.3 160.2h0M87.0 157.6h0M91.0 163.6h0M72.9 151.4h0M75.3 148.2h0M90.6 168.7h0M78.0 146.1h0M76.4 150.2h0M91.4 156.2h0M82.8 160.1h0M77.6 149.6h0M82.1 157.3h0M81.9 155.7h0M86.3 165.3h0M81.8 146.4h0M80.6 149.8h0M90.8 163.9h0M79.2 150.3h0M80.4 144.0h0M82.1 161.0h0M77.3 144.3h0M89.0 166.4h0M88.2 164.9h0M78.8 158.1h0M82.3 162.1h0M93.1 169.8h0M90.8 158.3h0M78.8 154.1h0M76.3 144.4h0M86.9 169.3h0M77.4 148.7h0M82.4 154.6h0M84.2 162.6h0M94.9 164.6h0M92.0 166.4h0M79.2 147.0h0M102.9 173.6h0M91.5 168.1h0M77.0 146.9h0M76.0 146.8h0M94.9 170.5h0M101.7 170.4h0M93.8 173.1h0M76.8 165.0h0M81.6 169.4h0M86.6 151.4h0M91.5 168.8h0M88.8 160.4h0M80.9 160.2h0M76.5 157.7h0M83.0 153.7h0M74.9 146.9h0M78.1 160.4h0M80.6 144.6h0M89.7 152.5h0M73.8 159.3h0M85.7 166.2h0M87.4 166.3h0M78.5 152.2h0M89.0 155.7h0M77.5 157.3h0M75.2 160.3h0M90.7 164.6h0M77.2 163.2h0M82.7 154.5h0M82.6 151.3h0M82.3 153.5h0M90.3 170.0h0M82.8 154.4h0M86.3 158.3h0M82.1 152.0h0M85.2 164.0h0M82.9 169.4h0M82.0 162.1h0M74.2 162.6h0M75.1 152.7h0M76.7 153.3h0M87.5 157.4h0M78.7 152.0h0M85.3 168.1h0M83.3 163.7h0M78.8 151.4h0M78.8 154.2h0M79.8 145.1h0M77.2 151.0h0M90.2 169.7h0M82.8 163.1h0M84.5 149.8h0M80.1 159.1h0M77.1 160.8h0M78.7 166.7h0M80.6 151.0h0M90.1 155.7h0M83.9 156.2h0M84.7 149.4h0M80.7 145.6h0M82.3 166.6h0M82.7 153.0h0M79.1 158.2h0M81.3 150.5h0M91.3 158.2h0M79.6 144.6h0M88.0 162.9h0M84.7 151.4h0M85.7 158.8h0M78.9 158.7h0M83.5 154.0h0M83.1 159.6h0M77.9 162.1h0M77.9 157.4h0M76.1 155.8h0M79.6 158.3h0M82.9 163.6h0M82.4 160.2h0M87.3 155.2h0M80.1 157.3h0M82.2 155.6h0M79.5 159.2h0M80.7 152.5h0M80.2 156.9h0M85.5 153.1h0M76.0 151.1h0M85.0 152.2h0M84.1 162.1h0M77.6 153.9h0M80.8 166.2h0M80.1 153.5h0M81.1 149.1h0M81.2 148.6h0M81.8 156.6h0M81.7 158.6h0M79.6 159.9h0M82.3 158.0h0M78.3 162.6h0M83.9 161.7h0M83.8 158.4h0M88.4 151.3h0M80.2 155.1h0M81.8 148.4h0M87.1 166.8h0M76.4 161.3h0M74.0 158.1h0M83.7 148.4h0M84.8 161.5h0M83.8 162.2h0M83.9 164.4h0M81.3 160.9h0M91.3 161.6h0M75.6 157.3h0M82.4 167.8h0M79.4 151.3h0M85.0 156.8h0M80.0 157.8h0M76.1 161.5h0M77.3 156.8h0M86.0 155.7h0M84.8 152.7h0M82.5 149.9h0M79.2 151.1h0M82.9 149.8h0M83.0 154.7h0M86.5 160.2h0M89.4 154.5h0M88.7 164.7h0M83.1 151.5h0M74.7 165.2h0M91.8 158.0h0M83.3 168.7h0M72.7 152.8h0M83.7 154.4h0M81.9 157.4h0M79.3 158.1h0M82.1 161.8h0M77.8 156.0h0M90.6 157.2h0M87.0 151.0h0M76.2 161.3h0M77.3 162.8h0M79.4 157.5h0M78.2 152.2h0M82.2 156.7h0M78.6 155.5h0M78.6 153.5h0M80.1 159.3h0M82.9 161.1h0M78.0 157.1h0M89.2 161.5h0M81.4 149.2h0M78.3 147.6h0M90.1 163.9h0M76.2 163.8h0M80.7 146.9h0M84.9 155.5h0M85.5 152.2h0M79.9 164.1h0M88.4 154.6h0M72.8 160.0h0M83.2 148.7h0M91.2 161.2h0M78.3 156.7h0M78.3 161.5h0M83.1 163.4h0M83.7 155.8h0M93.2 163.9h0M81.0 145.5h0M88.9 162.5h0M85.3 155.8h0M83.7 163.4h0M89.1 156.1h0M81.0 157.0h0M86.7 150.6h0M75.6 160.7h0M82.5 167.6h0" stroke="#984EA3" stroke-width="1.9" stroke-linecap="round" fill="none"/>
<path d="M128.7 297.4h0M122.7 305.9h0M125.5 269.1h0M120.5 276.7h0M136.0 288.3h0M132.6 300.5h0M127.9 295.5h0M113.8 281.4h0M131.0 293.9h0M137.7 296.6h0M134.4 287.2h0M120.3 265.7h0M110.7 270.3h0M125.6 257.0h0M117.1 271.0h0M128.5 275.3h0M139.6 300.2h0M123.1 283.1h0M121.0 297.8h0M131.2 288.0h0M137.0 283.3h0M134.7 292.2h0M111.0 266.7h0M118.0 270.0h0M131.5 286.9h0M124.1 259.4h0M109.4 278.2h0M128.6 272.4h0M134.3 269.1h0M132.7 294.6h0M112.6 273.7h0M122.5 271.8h0M130.2 281.0h0M108.2 269.4h0M135.3 287.1h0M119.3 276.0h0M135.9 272.9h0M138.5 273.3h0M127.7 300.2h0M129.2 295.8h0M124.7 293.8h0M127.5 299.5h0M117.2 254.7h0M137.5 280.3h0M139.3 299.3h0M119.6 292.5h0M108.0 280.7h0M123.6 282.7h0M118.9 263.3h0M126.6 293.2h0M112.2 270.4h0M112.6 271.9h0M135.9 299.1h0M131.5 282.8h0M128.9 283.7h0M106.1 276.1h0M123.7 292.6h0M111.5 260.9h0M118.5 265.3h0M122.9 258.6h0M135.4 310.2h0M122.8 256.6h0M119.2 276.8h0M124.0 304.2h0M132.2 288.0h0M122.8 292.7h0M122.3 263.7h0M130.2 269.8h0M116.8 294.0h0M136.3 305.2h0M117.3 293.6h0M118.7 298.8h0M110.8 267.3h0M122.8 281.1h0M120.2 262.8h0M117.1 262.7h0M136.3 289.9h0M122.2 263.7h0M118.3 291.6h0M115.2 281.2h0M124.5 286.2h0M114.7 289.6h0M123.7 287.1h0M137.7 306.0h0M123.4 269.2h0M130.2 301.9h0M121.4 291.8h0M125.4 274.3h0M134.3 299.1h0M113.8 270.0h0M118.6 277.7h0M117.9 283.9h0M127.2 270.6h0M127.6 295.2h0M120.3 294.8h0M123.3 300.5h0M120.9 277.8h0M126.1 267.6h0M127.8 299.1h0M107.8 270.9h0M132.3 272.5h0M131.8 293.7h0M112.0 261.8h0M118.4 267.5h0M118.7 269.5h0M113.0 269.5h0M114.1 261.5h0M130.1 307.6h0M125.9 278.5h0M134.4 310.1h0M118.6 270.4h0M130.4 280.9h0M129.0 267.6h0M137.1 296.0h0M131.7 271.0h0M122.1 304.0h0M121.3 255.9h0M134.9 269.7h0M132.3 281.7h0M112.9 280.1h0M113.0 278.2h0M120.5 264.1h0M136.1 313.3h0M124.3 281.9h0M111.4 284.3h0M136.5 303.4h0M122.0 302.1h0M105.7 274.1h0M127.8 294.0h0M129.5 293.3h0M110.2 268.7h0M120.4 285.7h0M121.7 269.9h0M133.3 304.9h0M136.9 281.4h0M132.3 304.3h0M134.9 285.1h0M138.4 300.4h0M125.0 287.4h0M120.6 257.2h0M112.9 282.7h0M123.1 288.2h0M128.3 297.1h0M121.3 299.8h0M121.9 272.1h0M115.8 259.8h0M136.7 298.5h0M134.9 276.8h0M114.6 278.5h0M111.6 261.8h0M135.2 303.2h0M111.5 281.3h0M125.1 263.7h0M122.9 302.6h0M136.8 295.3h0M136.0 300.6h0M128.8 294.1h0M129.4 299.6h0M107.1 270.9h0M119.6 271.8h0M131.1 266.4h0M118.9 256.5h0M137.1 312.1h0M123.8 295.0h0M127.6 289.8h0M110.3 265.5h0M125.5 302.0h0M120.2 277.6h0M120.7 260.8h0M121.3 277.8h0M137.0 270.1h0M132.3 280.4h0M134.5 303.9h0M134.4 278.2h0M118.5 263.7h0M134.6 275.8h0M136.3 284.4h0M120.8 253.8h0M138.0 289.4h0M138.2 290.5h0M127.9 278.6h0M122.3 304.2h0M128.0 285.8h0M126.6 265.3h0M118.1 273.4h0M110.9 268.2h0M131.1 277.7h0M119.6 298.6h0M128.8 283.4h0M116.3 281.2h0M108.2 265.7h0M133.3 302.2h0M130.1 308.8h0M132.6 267.5h0M127.2 300.9h0M125.9 274.0h0M133.1 281.7h0M120.5 277.9h0M131.1 309.3h0M120.9 303.3h0M138.3 283.7h0M134.4 285.5h0M115.0 274.2h0M112.9 293.6h0M124.1 268.1h0M113.3 272.0h0M116.9 262.6h0M121.9 277.5h0M124.5 273.8h0M134.6 306.2h0M121.2 297.7h0M120.9 288.7h0M116.7 263.1h0M110.3 273.5h0M121.4 275.9h0M137.8 296.0h0M114.4 268.2h0M121.8 279.9h0M121.8 284.3h0M120.3 284.6h0M124.0 285.0h0M129.2 301.6h0M132.7 285.9h0M130.3 291.1h0M123.1 270.0h0M132.3 296.0h0M136.8 311.8h0M127.7 294.8h0M111.8 265.7h0M131.3 304.4h0M132.0 304.0h0M120.1 275.0h0M121.0 279.9h0M116.7 278.0h0M126.4 269.5h0M126.0 279.1h0M113.4 267.6h0M124.9 273.4h0M134.8 298.9h0M136.4 299.6h0M136.4 291.2h0M120.6 268.3h0M130.0 288.6h0M123.6 283.7h0M131.7 291.2h0M126.0 273.8h0M129.5 283.8h0M130.0 304.6h0M121.2 271.2h0M126.4 304.7h0M135.4 285.0h0M112.0 263.8h0M131.2 295.9h0M118.7 268.6h0M126.9 307.4h0M118.0 269.2h0M118.4 273.5h0M116.9 267.2h0M134.3 291.0h0M134.8 284.5h0M134.3 290.1h0M134.2 279.1h0M129.6 302.2h0M111.6 272.3h0M125.7 280.4h0M128.2 281.2h0M127.9 301.8h0M136.3 285.3h0M115.5 271.9h0M110.7 274.0h0M134.1 305.8h0M116.3 260.8h0M122.8 276.0h0M133.7 286.5h0M131.4 267.0h0M119.6 276.5h0M124.0 275.9h0M122.1 266.9h0M132.4 305.6h0M128.2 298.0h0M122.1 280.2h0M133.9 295.0h0M113.1 274.3h0M129.3 298.8h0M111.2 271.0h0M112.9 275.3h0M131.8 290.8h0M134.7 290.4h0M136.1 298.9h0M129.8 283.8h0M130.6 291.4h0M128.7 297.4h0M116.6 277.2h0M118.9 273.8h0M118.6 266.4h0M115.5 265.3h0M118.8 258.6h0M119.1 281.0h0M114.0 266.8h0M130.8 265.5h0M132.0 293.9h0M129.5 300.4h0M130.5 267.1h0M133.4 281.4h0M130.4 272.2h0M116.9 277.2h0M117.3 280.4h0M121.0 269.1h0M135.6 295.4h0M120.7 272.4h0M117.5 273.0h0M119.6 271.7h0M135.5 298.9h0M117.6 279.4h0M124.8 289.9h0M131.8 308.8h0M127.8 301.3h0M118.9 272.8h0M125.5 273.7h0M122.4 269.0h0M133.2 293.5h0M123.4 273.5h0M119.5 278.3h0M134.0 286.1h0M137.2 275.0h0M112.0 277.4h0M128.8 282.9h0M119.0 280.1h0M136.1 293.4h0M133.6 287.3h0M124.0 237.7h0M125.4 239.4h0M125.1 241.0h0M123.6 232.6h0M123.9 233.1h0M124.3 238.3h0M125.2 240.6h0M124.6 240.4h0M124.3 235.2h0M123.6 232.3h0" stroke="#4DAF4A" stroke-width="1.9" stroke-linecap="round" fill="none"/>
<path d="M168.2 119.1h0M175.7 120.2h0M191.2 124.6h0M194.9 150.2h0M188.2 154.0h0M142.6 162.4h0M157.4 161.0h0M134.7 174.9h0M168.2 174.1h0M133.8 191.5h0M198.7 200.2h0M204.2 207.8h0M171.7 208.7h0M169.9 219.7h0M172.2 225.3h0M170.5 227.3h0M172.8 238.1h0M230.1 227.0h0M238.9 255.5h0M279.9 213.0h0M283.1 227.0h0M323.2 185.1h0M348.3 247.1h0M284.0 280.5h0M285.1 279.4h0M251.7 292.8h0M253.1 291.3h0M255.5 291.6h0M134.7 312.8h0M122.8 305.9h0" stroke="#E41A1C" stroke-width="2.2" stroke-linecap="round" fill="none"/>
<path d="M206.3 236.0h0" stroke="#377EB8" stroke-width="2.2" stroke-linecap="round" fill="none"/>
<path d="M89.6 145.8h0" stroke="#FF7F00" stroke-width="2.2" stroke-linecap="round" fill="none"/>
<path d="M576.1 307.5h0M656.6 281.6h0M616.9 271.1h0M618.5 213.8h0M650.3 255.0h0M556.7 221.5h0M593.4 300.7h0M623.8 292.0h0M654.4 236.1h0M669.2 241.2h0M656.5 261.8h0M596.1 222.5h0M656.5 221.0h0M582.1 235.4h0M554.1 244.8h0M642.2 226.6h0M599.2 241.4h0M622.8 289.8h0M586.0 244.8h0M621.5 200.3h0M632.9 227.7h0M664.8 239.3h0M606.1 234.1h0M591.1 291.7h0M575.8 283.2h0M559.0 250.5h0M595.1 287.3h0M632.6 248.4h0M635.9 244.8h0M673.0 235.5h0M572.6 295.9h0M643.8 280.1h0M624.1 232.0h0M652.8 252.1h0M617.7 315.4h0M602.8 293.2h0M607.7 213.6h0M575.1 233.6h0M633.3 234.7h0M659.3 290.7h0M594.5 298.7h0M576.6 265.2h0M646.0 252.0h0M668.9 219.7h0M609.8 215.6h0M602.0 233.0h0M560.1 237.0h0M632.0 199.4h0M622.0 248.8h0M638.3 224.3h0M656.4 283.5h0M596.8 234.8h0M662.7 272.4h0M658.8 286.9h0M583.6 253.4h0M596.4 256.5h0M570.4 284.0h0M594.3 282.4h0M654.4 208.1h0M592.4 272.0h0M637.5 250.7h0M639.6 222.9h0M635.9 268.0h0M616.5 278.5h0M655.5 217.2h0M591.4 275.6h0M646.3 269.4h0M579.9 303.3h0M581.7 241.2h0M603.4 261.7h0M628.9 229.4h0M622.4 283.9h0M631.7 275.1h0M644.3 214.1h0M642.6 212.4h0M584.0 228.2h0M582.6 264.0h0M648.1 259.2h0M563.9 246.0h0M595.9 263.7h0M627.7 243.3h0M653.5 257.2h0M632.6 252.2h0M555.0 259.8h0M648.2 244.5h0M602.6 255.0h0M649.7 188.2h0M601.4 281.0h0M613.9 201.2h0M621.7 263.8h0M634.7 272.4h0M669.3 248.1h0M637.4 233.8h0M561.0 246.7h0M650.2 197.4h0M657.7 245.9h0M590.6 238.7h0M617.8 272.6h0M571.0 245.5h0M553.1 239.1h0M560.6 285.0h0M629.7 294.4h0M564.7 274.1h0M574.0 283.4h0M604.0 308.3h0M574.5 242.0h0M594.6 246.6h0M632.3 197.9h0M586.0 307.3h0M582.4 306.6h0M615.0 206.3h0M579.1 234.3h0M634.5 235.6h0M657.6 199.5h0M561.3 266.9h0M660.3 214.6h0M568.3 247.1h0M580.1 267.0h0M588.9 235.3h0M649.3 229.4h0M550.6 243.6h0M645.7 244.1h0M568.8 286.9h0M625.2 299.0h0M578.9 289.0h0M617.9 301.8h0M650.9 280.1h0M594.3 272.4h0M616.6 275.1h0M625.0 236.5h0M587.8 263.3h0M562.7 266.9h0M568.1 254.9h0M600.1 276.6h0M645.4 255.4h0M576.8 281.3h0M655.1 265.9h0M589.1 301.1h0M566.1 246.4h0M613.0 245.0h0M614.5 213.9h0M603.9 289.3h0M566.9 240.5h0M624.8 229.9h0M575.0 288.7h0M574.0 295.4h0M584.2 276.5h0M599.0 289.4h0M620.6 233.6h0M622.5 227.6h0M610.0 222.9h0M632.3 267.6h0M660.1 293.8h0M629.5 259.0h0M609.5 303.5h0M647.1 235.3h0M635.1 217.0h0M595.0 221.1h0M621.4 293.9h0M557.6 234.2h0M666.1 210.5h0M598.1 220.4h0M609.7 257.3h0M600.9 274.9h0M581.1 265.6h0M599.7 226.0h0M637.7 210.9h0M591.4 301.4h0M670.9 253.4h0M610.6 301.8h0M602.0 289.2h0M631.8 220.4h0M615.8 272.6h0M630.6 275.2h0M609.1 214.8h0M663.0 263.1h0M603.0 234.3h0M585.5 316.2h0M638.6 272.3h0M659.5 231.6h0M617.9 234.7h0M613.6 304.0h0M599.6 276.5h0M625.0 296.1h0M611.6 294.1h0M568.6 251.3h0M630.4 222.6h0M594.8 233.0h0M583.9 285.5h0M561.4 285.6h0M611.3 251.2h0M609.4 300.8h0M570.0 287.9h0M597.3 269.7h0M647.6 203.0h0M588.2 280.8h0M625.1 233.3h0M668.3 223.8h0M670.6 244.9h0M551.8 241.3h0M614.7 270.4h0M627.4 191.9h0M664.6 260.6h0M583.3 299.9h0M598.3 253.9h0M629.6 300.8h0M653.9 215.6h0M656.3 262.8h0M593.9 271.9h0M625.8 223.0h0M644.8 195.5h0M595.8 252.6h0M657.3 225.6h0M619.1 256.6h0M609.4 225.9h0M587.0 277.2h0M592.1 300.3h0M658.8 265.9h0M590.5 235.6h0M619.8 243.9h0M640.7 271.4h0M613.1 216.4h0M617.5 245.6h0M640.5 252.4h0M615.6 210.4h0M651.0 242.7h0M658.4 254.3h0M615.7 255.5h0M630.3 238.5h0M563.2 236.9h0M614.4 227.7h0M606.9 305.4h0M626.6 300.4h0M585.0 260.2h0M567.7 278.3h0M633.1 256.2h0M616.7 277.9h0M640.7 187.3h0M596.5 297.2h0M618.3 243.1h0M657.6 261.0h0M577.5 283.0h0M613.1 238.5h0M584.8 259.0h0M634.8 236.0h0M564.9 292.7h0M571.3 262.1h0M585.6 273.9h0M636.1 196.3h0M601.1 236.2h0M557.6 246.9h0M617.1 303.1h0M626.4 226.0h0M655.6 230.0h0M601.7 222.8h0M610.8 265.5h0M641.2 269.6h0M660.7 201.2h0M606.3 211.1h0M655.1 189.5h0M559.0 252.0h0M559.3 232.7h0M660.9 234.0h0M613.1 251.9h0M592.6 240.3h0M650.5 218.3h0M638.2 273.4h0M567.1 256.4h0M619.5 263.9h0M580.0 299.8h0M555.7 250.8h0M606.6 295.0h0M595.4 269.4h0M561.8 236.3h0M582.3 289.7h0M667.3 248.7h0M626.5 238.0h0M633.3 265.9h0M652.9 191.6h0M645.0 252.3h0M565.6 255.8h0M603.3 295.1h0M593.4 286.7h0M572.3 295.5h0M633.8 270.9h0M553.9 249.9h0M604.5 238.1h0M648.8 283.3h0M637.7 263.3h0M643.4 202.3h0M563.5 226.7h0M603.0 235.5h0M645.7 267.4h0M607.5 252.0h0M587.7 294.8h0M669.4 224.1h0M608.7 242.8h0M570.0 272.3h0M593.6 249.5h0M615.5 225.9h0M657.3 223.5h0M608.1 249.1h0M565.5 266.4h0M663.4 238.4h0M556.1 263.4h0M566.3 258.0h0M633.5 261.9h0M653.6 278.6h0M605.0 249.7h0M615.3 243.1h0M592.1 224.0h0M630.7 221.2h0M573.5 281.4h0M611.2 312.4h0M663.7 274.9h0M628.7 268.9h0M641.3 216.6h0M653.7 263.2h0M579.3 263.5h0M672.9 232.7h0M620.5 264.6h0M572.4 251.2h0M630.1 305.0h0M661.9 237.6h0M647.8 242.9h0M627.0 249.7h0M646.1 274.6h0M635.4 266.8h0M622.7 215.9h0M588.7 286.5h0M661.0 194.3h0M638.2 188.3h0M658.5 239.3h0M645.2 277.9h0M597.3 221.4h0M610.7 240.4h0M587.6 228.3h0M571.9 294.6h0M567.1 273.2h0M622.3 289.5h0M569.2 245.1h0M650.5 191.1h0M571.4 252.4h0M612.2 270.9h0M598.2 233.4h0M613.4 283.5h0M568.8 239.3h0M581.7 292.5h0M609.4 232.1h0M569.3 288.7h0M638.0 233.3h0M639.7 199.8h0M645.3 237.2h0M636.1 199.3h0M625.5 270.2h0M637.3 239.4h0M614.6 227.5h0M635.0 236.8h0M638.8 208.0h0M616.4 234.8h0M615.2 299.6h0M668.2 257.6h0M611.6 270.3h0M655.8 203.2h0M616.2 265.2h0M623.7 237.0h0M617.2 250.9h0M587.7 312.2h0M612.4 252.9h0M623.6 240.9h0M578.7 292.5h0M589.2 267.7h0M640.1 194.7h0M579.4 238.0h0M554.3 255.8h0M622.8 293.3h0M667.0 243.4h0M551.6 225.3h0M568.0 298.1h0M641.7 215.8h0M593.1 236.7h0M613.0 237.2h0M615.9 257.2h0M564.2 280.4h0M582.0 317.4h0M661.8 266.8h0M668.8 211.7h0M633.4 295.6h0M603.7 283.0h0M645.8 207.6h0M633.1 277.5h0M617.2 207.2h0M606.6 218.0h0M610.5 280.7h0M662.4 273.4h0M649.5 186.8h0M666.1 228.3h0M653.2 277.4h0M628.6 299.5h0M629.5 279.1h0M609.4 230.1h0M582.5 251.9h0M606.2 250.5h0M579.9 290.0h0M647.3 187.2h0M625.1 198.1h0M668.9 221.6h0M620.9 239.4h0M661.9 290.0h0M591.4 242.9h0M594.0 254.3h0M629.9 251.0h0M573.6 270.7h0M640.3 217.0h0M564.5 294.6h0M669.7 240.8h0M636.0 196.2h0M664.0 206.8h0M651.6 242.0h0M562.9 260.5h0M556.8 260.7h0M633.1 227.4h0M569.3 302.1h0M610.9 250.0h0M636.7 217.6h0M575.1 266.0h0M634.0 239.7h0M575.7 276.6h0M578.7 274.2h0M659.0 270.8h0M594.1 245.5h0M570.3 288.0h0M592.4 292.8h0M634.1 245.2h0M623.5 208.7h0M664.0 282.8h0M627.1 193.7h0M557.1 255.4h0M665.9 258.1h0M601.0 276.4h0M615.3 241.0h0M632.9 217.7h0M596.9 277.1h0M606.1 224.9h0M607.1 257.2h0M583.1 246.0h0M602.8 293.0h0M586.7 253.9h0M664.0 234.5h0M617.0 205.6h0M601.9 304.9h0M609.7 262.9h0M655.4 227.1h0M582.6 261.2h0M611.4 296.2h0M660.4 217.8h0M590.8 288.3h0M654.5 197.4h0M669.7 241.6h0M632.5 226.1h0M659.1 290.5h0M614.2 230.4h0M667.8 202.5h0M647.2 250.9h0M620.5 204.9h0M610.5 209.7h0M666.5 220.2h0M621.1 281.3h0M637.5 193.3h0M586.8 303.4h0M643.0 249.3h0M669.8 236.6h0M640.6 267.3h0M655.2 246.8h0M660.3 276.3h0M647.8 248.5h0M667.3 214.7h0M649.5 228.7h0M661.0 225.0h0M598.7 265.9h0M644.7 259.4h0M558.7 285.8h0M620.3 232.2h0M654.4 226.2h0M654.8 277.2h0M645.8 282.7h0M650.9 276.7h0M611.6 273.6h0M625.1 203.3h0M589.6 261.3h0M661.0 283.3h0M579.3 234.6h0M612.9 287.9h0M578.7 308.3h0M582.0 291.2h0M647.2 245.5h0M575.1 278.8h0M616.9 245.3h0M623.2 268.5h0M652.5 202.3h0M616.3 279.9h0M644.2 278.6h0M632.9 200.6h0M569.5 233.6h0M603.2 220.5h0M628.7 231.1h0M618.2 300.1h0M664.0 200.8h0M661.5 219.4h0M571.8 232.8h0M598.0 240.6h0M655.9 285.0h0M631.6 229.2h0M620.6 226.4h0M623.7 264.1h0M564.1 292.1h0M643.5 224.5h0M634.1 300.6h0M631.0 282.7h0M643.2 228.4h0M625.6 247.4h0M631.2 274.1h0M627.8 211.2h0M666.8 269.8h0M626.0 210.1h0M647.5 257.5h0M596.5 298.8h0M653.7 202.4h0M654.6 259.1h0M666.2 200.0h0M608.8 295.7h0M606.4 209.1h0M558.9 225.0h0M594.2 273.4h0M632.9 284.2h0M653.4 274.5h0M598.5 266.3h0M639.5 210.1h0M633.2 219.5h0M634.4 234.8h0M649.9 267.5h0M585.0 250.5h0M574.9 274.4h0M561.8 256.0h0M610.4 308.3h0M643.7 268.6h0M601.8 310.2h0M665.0 277.7h0M656.3 250.3h0M581.6 316.3h0M657.6 275.4h0M558.0 249.8h0M592.7 305.3h0M643.2 215.6h0M634.2 255.9h0M667.2 260.4h0M629.9 275.2h0M660.2 245.0h0M643.8 256.9h0M629.1 194.4h0M566.1 295.8h0M576.6 288.3h0M578.9 270.2h0M573.2 288.9h0M566.2 287.7h0M628.9 246.6h0M599.4 222.5h0M642.5 187.1h0M641.9 273.5h0M645.8 224.3h0M607.8 264.7h0M661.0 226.4h0M604.6 242.7h0M593.2 281.5h0M658.6 240.3h0M590.3 241.3h0M587.0 263.9h0M612.4 309.9h0M650.0 236.1h0M668.2 207.2h0M619.3 246.9h0M664.9 233.8h0M608.0 302.6h0M658.4 262.8h0M661.4 230.0h0M568.6 298.2h0M660.2 261.0h0M596.2 243.6h0M620.2 295.3h0M647.3 253.8h0M601.1 247.3h0M632.4 301.7h0M615.1 247.5h0M632.5 232.6h0M580.9 289.3h0M614.2 202.0h0M606.8 294.6h0M600.3 219.9h0M584.3 243.2h0M565.0 293.3h0M616.6 222.7h0M604.4 302.3h0M629.2 228.5h0M670.8 230.9h0M628.3 232.8h0M610.2 253.2h0M602.8 245.9h0M632.1 195.9h0M673.5 238.2h0M617.7 262.8h0M632.6 255.5h0M599.2 224.7h0M652.0 198.3h0M581.7 265.0h0M569.2 262.4h0M653.3 288.4h0M617.6 272.2h0M613.3 258.8h0M581.7 258.0h0M640.8 201.3h0M576.2 293.1h0M595.9 270.6h0M632.7 195.9h0M559.8 276.2h0M609.9 217.6h0M560.0 230.6h0M612.2 291.4h0M592.8 303.5h0M647.6 278.7h0M635.3 250.4h0M661.6 243.8h0M586.8 229.3h0M555.0 237.5h0M627.9 247.1h0M655.0 188.4h0M648.1 282.4h0M581.2 301.4h0M572.8 254.2h0M646.0 188.1h0M644.6 263.5h0M622.6 207.2h0M570.8 273.7h0M610.0 288.5h0M618.8 308.0h0M622.5 288.7h0M630.9 259.9h0M585.1 312.6h0M626.6 209.4h0M574.1 248.4h0M567.5 232.0h0M635.7 200.8h0M558.1 223.3h0M580.5 265.1h0M649.3 281.9h0M627.5 257.2h0M600.3 271.7h0M580.6 291.0h0M598.3 235.2h0M616.0 282.1h0M628.6 213.7h0M630.7 214.8h0M554.5 248.1h0M635.6 222.8h0M635.5 209.1h0M592.2 238.6h0M672.7 228.2h0M581.4 257.1h0M615.1 307.3h0M673.8 228.3h0M628.5 282.1h0M667.5 210.9h0M582.8 278.8h0M653.9 237.5h0M672.8 238.3h0M655.4 268.8h0M580.1 269.6h0M646.3 258.7h0M655.0 246.1h0M627.8 206.1h0M598.4 266.5h0M605.0 228.9h0M629.3 253.2h0M579.2 265.1h0M614.1 276.2h0M647.1 262.8h0M640.5 229.8h0M637.7 243.3h0M610.0 225.8h0M637.8 244.4h0M574.7 276.2h0M587.4 298.7h0M625.7 271.5h0M577.2 246.9h0M641.2 198.8h0M592.8 245.1h0M601.5 232.7h0M597.3 238.7h0M612.9 256.4h0M633.2 238.3h0M617.4 271.5h0M582.4 259.2h0M577.7 236.1h0M621.9 259.6h0M659.8 262.7h0M587.8 234.8h0M630.0 200.0h0M639.6 236.4h0M614.5 260.1h0M571.5 248.8h0M665.2 248.2h0M593.2 266.3h0M632.1 255.4h0M655.4 294.5h0M622.3 292.7h0M646.0 189.7h0M563.7 229.3h0M640.2 255.9h0M604.3 228.8h0M597.3 280.4h0M617.6 206.8h0M628.9 282.2h0M582.2 314.2h0M596.0 293.4h0M617.4 288.5h0M606.3 257.9h0M613.1 202.4h0M633.8 302.3h0M612.5 288.3h0M634.3 200.5h0M670.5 209.3h0M584.5 291.0h0M625.7 205.4h0M661.0 240.8h0M667.9 267.9h0M578.1 267.9h0M612.7 230.3h0M552.7 243.4h0M590.4 299.4h0M627.4 226.4h0M627.9 198.3h0M649.8 207.8h0M603.7 313.4h0M555.9 234.8h0M653.8 227.2h0M620.2 223.8h0M648.4 243.0h0M587.0 232.6h0M579.9 233.1h0M569.3 239.9h0M575.5 305.3h0M603.1 260.4h0M665.1 211.5h0M658.6 193.6h0M638.2 200.1h0M674.2 228.3h0M557.9 273.3h0M654.6 218.2h0M628.4 255.1h0M666.3 201.8h0M575.7 273.4h0M656.0 221.8h0M611.3 222.0h0M628.6 245.9h0M582.8 318.0h0M631.5 200.4h0M628.5 279.2h0M563.9 232.4h0M597.1 256.4h0M614.5 233.5h0M657.9 264.7h0M618.1 285.6h0M558.2 230.9h0M603.2 297.5h0M605.7 240.1h0M650.8 209.9h0M620.3 286.7h0M606.0 211.0h0M618.4 300.1h0M622.1 214.1h0M592.7 242.0h0M654.5 204.3h0M627.1 246.8h0M595.4 259.5h0M617.3 233.9h0M654.3 206.1h0M602.5 223.7h0M604.7 228.8h0M609.4 205.2h0M650.8 272.4h0M657.4 229.1h0M587.0 235.1h0M625.6 296.5h0M614.8 313.2h0M660.7 240.9h0M608.5 255.4h0M574.4 290.9h0M554.3 238.2h0M642.2 249.2h0M609.4 235.2h0M606.7 299.2h0M650.9 292.5h0M644.1 190.6h0M643.6 258.7h0M617.5 254.8h0M585.4 292.0h0M666.4 227.1h0M626.6 264.2h0M650.6 203.7h0M648.9 228.0h0M598.9 261.6h0M651.9 258.1h0M616.8 287.5h0M609.8 306.8h0M603.1 243.3h0M551.8 236.6h0M580.1 232.5h0M654.5 280.2h0M607.5 248.2h0M576.5 309.7h0M584.2 263.0h0M580.0 310.6h0M565.3 286.3h0M654.2 207.8h0M609.9 296.4h0M602.9 301.3h0M658.0 208.3h0M587.9 307.2h0M571.1 289.7h0M620.8 269.6h0M626.2 279.6h0M655.0 223.4h0M664.7 280.3h0M598.1 292.9h0M645.8 189.4h0M604.8 316.8h0M591.7 223.9h0M648.8 215.9h0M561.7 241.3h0M670.7 256.4h0M672.4 243.9h0M671.0 220.4h0M619.1 219.2h0M646.9 230.8h0M644.2 242.4h0M594.7 244.6h0M588.6 287.4h0M640.7 185.6h0M616.2 285.3h0M573.0 272.9h0M628.7 294.8h0M638.5 249.6h0M573.2 288.6h0M596.5 289.4h0M618.5 309.8h0M658.5 289.9h0M586.5 315.3h0M623.0 198.0h0M645.0 240.4h0M610.6 212.1h0M672.0 227.4h0M592.2 245.3h0M645.5 209.0h0M634.7 228.5h0M628.5 229.2h0M569.4 236.5h0M567.0 234.0h0M568.3 281.6h0M577.2 230.0h0M580.4 268.1h0M598.9 275.8h0M638.0 270.6h0M590.9 223.0h0M640.3 276.5h0M557.7 258.8h0M632.4 245.4h0M638.9 228.5h0M641.6 236.7h0M656.3 196.2h0M627.2 231.5h0M561.4 231.5h0M665.8 232.5h0M589.7 313.9h0M565.1 287.5h0M639.5 261.1h0M627.6 200.3h0M628.5 294.5h0M636.3 290.5h0M631.4 251.5h0M603.0 240.7h0M593.3 256.1h0M653.6 284.4h0M644.8 250.0h0M672.4 226.5h0M665.3 229.2h0M632.0 244.2h0M661.7 228.4h0M645.2 195.4h0M650.2 275.6h0M637.3 239.1h0M641.0 233.1h0M588.1 235.2h0M626.6 250.6h0M651.1 225.9h0M619.2 231.6h0M553.7 231.5h0M653.3 221.0h0M610.5 217.7h0M615.6 290.1h0M645.8 266.2h0M632.0 280.4h0M665.0 224.5h0M652.8 286.3h0M603.4 263.7h0M663.5 201.8h0M600.7 296.5h0M649.2 245.8h0M626.4 207.1h0M553.0 241.2h0M642.9 257.2h0M626.7 239.9h0M609.8 275.9h0M619.0 257.9h0M657.1 263.4h0M600.1 245.1h0M629.3 296.7h0M622.5 278.7h0M641.3 201.4h0M646.6 231.3h0M609.5 301.5h0M619.9 230.5h0M565.1 276.9h0M649.1 240.2h0M586.0 297.8h0M588.6 246.7h0M596.2 274.6h0M572.3 242.5h0M568.6 227.0h0M568.2 262.0h0M627.6 237.9h0M656.5 240.1h0M635.1 272.8h0M642.1 198.3h0M624.8 196.3h0M610.6 237.4h0M651.7 221.7h0M564.0 230.4h0M659.2 240.0h0M659.7 279.1h0M615.1 240.3h0M649.9 281.5h0M657.7 246.0h0M594.5 295.7h0M608.2 293.6h0M594.6 260.9h0M647.5 260.9h0M646.3 213.7h0M582.0 228.1h0M672.2 231.3h0M591.6 282.0h0M572.6 305.7h0M556.0 237.6h0M652.1 192.4h0M624.6 203.1h0M612.2 312.3h0M593.3 307.6h0M666.8 226.0h0M638.2 233.5h0M559.2 232.3h0M609.1 211.5h0M584.7 241.3h0M610.5 282.2h0M634.8 286.9h0M656.9 253.5h0M667.3 242.3h0M620.5 245.3h0M655.1 223.2h0M661.9 284.7h0M564.8 240.1h0M622.3 305.5h0M618.8 293.1h0M651.1 233.0h0M635.0 257.1h0M610.4 275.2h0M644.3 242.4h0M669.2 226.8h0M613.8 217.9h0M654.8 218.2h0M586.1 270.4h0M571.6 264.2h0M566.0 283.3h0M578.3 279.7h0M635.9 265.8h0M563.0 244.7h0M633.4 219.0h0M616.1 234.8h0M593.6 309.8h0M636.4 201.8h0M632.3 257.7h0M558.2 246.6h0M649.6 269.4h0M583.4 248.7h0M624.9 285.0h0M624.4 277.9h0M632.8 201.6h0M621.4 257.6h0M638.2 270.5h0M612.7 218.5h0M587.2 256.0h0M636.1 226.1h0M662.1 199.2h0M603.1 260.0h0M664.0 252.0h0M614.2 217.7h0M649.9 213.4h0M587.5 255.7h0M618.9 271.0h0M633.5 233.1h0M656.0 248.2h0M619.5 262.6h0M659.3 282.5h0M554.5 225.6h0M608.2 294.0h0M651.5 261.8h0M616.5 215.6h0M624.3 215.6h0M603.0 301.6h0M604.1 280.6h0M597.9 272.6h0M585.0 279.2h0M568.6 242.2h0M554.6 244.0h0M583.8 289.9h0M576.5 243.0h0M596.7 285.0h0M575.7 246.8h0M646.2 241.4h0M631.5 299.4h0M624.0 223.4h0M589.6 282.4h0M616.2 219.3h0M629.4 203.3h0M640.0 225.5h0M610.4 298.3h0M589.1 262.2h0M672.3 226.3h0M659.3 281.1h0M649.0 251.3h0M614.2 276.3h0M661.0 251.5h0M652.8 217.9h0M562.1 277.3h0M614.7 226.9h0M658.6 239.5h0M624.9 309.7h0M567.6 260.7h0M614.0 247.7h0M646.0 236.0h0M553.2 239.7h0M607.4 289.1h0M568.1 254.2h0M672.4 246.5h0M584.4 288.3h0M593.9 289.4h0M638.5 214.7h0M633.4 185.6h0M670.7 205.2h0M603.6 242.2h0M654.9 264.7h0M654.7 284.0h0M561.5 229.8h0M606.8 239.0h0M619.1 261.8h0M599.0 311.2h0M648.4 268.5h0M642.8 240.9h0M659.6 281.1h0M586.6 313.8h0M651.4 256.2h0M616.0 258.2h0M665.8 276.8h0M585.1 277.0h0M596.6 228.3h0M585.9 227.0h0M646.2 270.9h0M635.1 203.0h0M595.1 297.0h0M653.6 203.5h0M654.0 213.9h0M575.4 286.5h0M573.3 231.6h0M661.9 206.3h0M608.3 259.2h0M575.6 276.1h0M607.3 291.2h0M665.2 276.7h0M600.7 260.2h0M574.6 236.7h0M661.6 244.7h0M587.4 280.6h0M620.7 243.4h0M572.0 277.4h0M590.5 276.7h0M608.0 233.6h0M606.4 293.4h0M576.8 290.3h0M636.4 292.0h0M655.2 232.3h0M561.7 264.9h0M664.8 241.7h0M613.7 222.6h0M633.4 218.7h0M602.8 298.1h0M604.0 296.4h0M643.8 243.3h0M574.9 243.6h0M579.6 253.1h0M589.5 299.2h0M581.6 280.2h0M623.0 211.9h0M590.2 222.1h0M556.0 239.7h0M554.5 253.3h0M583.8 309.3h0M661.2 253.0h0M664.6 244.0h0M578.5 306.3h0M593.1 298.8h0M625.7 239.1h0M558.2 265.2h0M603.6 302.1h0M617.3 254.1h0M650.2 247.2h0M619.5 245.7h0M577.5 285.8h0M612.3 257.8h0M649.5 229.5h0M598.1 225.7h0M646.8 225.0h0M574.8 233.1h0M558.3 260.1h0M655.2 292.8h0M654.3 237.9h0M627.4 306.7h0M654.9 195.1h0M649.5 260.9h0M574.1 283.7h0M600.6 258.2h0M656.0 239.1h0M576.9 273.3h0M667.0 257.5h0M600.0 225.5h0M556.0 258.2h0M644.4 280.1h0M577.5 273.8h0M671.7 211.6h0M599.2 234.2h0M631.9 260.2h0M561.7 284.6h0M623.8 303.8h0M593.9 254.1h0M634.0 248.1h0M647.0 216.2h0M634.2 213.3h0M634.3 246.6h0M640.3 206.1h0M589.3 267.9h0M582.1 294.1h0M662.9 266.1h0M550.9 224.9h0M654.8 217.8h0M587.4 292.6h0M650.0 191.7h0M596.0 269.6h0M580.2 235.7h0M604.8 303.0h0M650.0 212.5h0M664.9 221.2h0M564.4 252.6h0M578.9 314.1h0M645.0 187.8h0M594.4 249.8h0M652.6 228.6h0M603.6 304.4h0M585.0 283.9h0M652.9 276.3h0M639.0 190.0h0M571.2 242.1h0M611.9 256.8h0M643.2 214.1h0M601.0 306.7h0M638.8 255.0h0M594.1 264.1h0M655.3 230.6h0M603.0 289.0h0M623.7 195.3h0M559.3 258.7h0M629.5 243.6h0M566.4 267.7h0M590.0 254.0h0M658.4 287.4h0M611.0 290.8h0M628.0 308.0h0M586.0 240.3h0M613.8 249.0h0M582.3 245.0h0M605.5 272.8h0M633.2 253.6h0M635.9 297.3h0M629.0 217.6h0M585.6 277.2h0M557.3 228.9h0M625.5 307.4h0M626.7 293.1h0M647.4 203.1h0M613.2 267.2h0M573.5 271.3h0M628.2 280.4h0M654.0 260.7h0M666.0 226.2h0M589.0 307.5h0M642.8 221.0h0M616.1 217.1h0M654.9 236.8h0M618.2 289.3h0M618.6 288.8h0M663.1 210.8h0M640.4 242.3h0M579.5 249.7h0M572.0 241.7h0M613.2 277.3h0M567.7 280.8h0M636.8 221.9h0M584.7 249.7h0M580.2 239.0h0M598.0 254.2h0M608.9 305.1h0M646.4 204.8h0M648.5 250.1h0M654.4 262.6h0M551.5 244.5h0M628.4 308.3h0M648.8 232.8h0M633.9 204.9h0M656.5 220.5h0M665.4 266.1h0M651.1 254.5h0M582.3 259.0h0M607.9 260.2h0M653.7 251.3h0M574.8 289.1h0M585.0 266.5h0M658.1 233.4h0M590.9 282.2h0M555.0 244.2h0M634.9 272.3h0M652.4 213.7h0M581.0 252.1h0M597.4 310.6h0M662.1 238.2h0M653.4 202.9h0M597.5 245.7h0M593.2 224.5h0M615.7 296.8h0M557.9 243.2h0M659.5 209.5h0M630.9 296.9h0M625.5 259.5h0M652.3 292.4h0M636.4 241.1h0M588.6 246.8h0M621.0 241.6h0M640.3 257.0h0M555.4 255.9h0M578.2 262.8h0M640.9 212.9h0M640.8 199.2h0M615.0 305.1h0M605.8 296.3h0M605.4 225.4h0M633.9 259.1h0M639.0 215.3h0M620.7 205.5h0M626.2 240.5h0M590.8 258.1h0M639.8 253.9h0M636.6 284.1h0M593.0 229.8h0M667.7 241.3h0M627.4 243.7h0M564.5 258.0h0M607.1 220.2h0M633.1 245.6h0M606.5 299.0h0M587.2 288.7h0M626.9 277.1h0M616.6 315.8h0M609.2 261.7h0M603.1 301.7h0M668.3 233.5h0M611.6 295.1h0M600.2 294.1h0M577.5 288.7h0M645.7 205.0h0M595.5 292.6h0M563.9 266.8h0M583.7 318.5h0M650.8 248.0h0M579.2 244.2h0M583.5 283.7h0M569.5 285.6h0M631.3 292.3h0M611.9 305.3h0M560.7 288.6h0M589.9 247.1h0M652.8 221.5h0M604.4 228.8h0M613.7 261.6h0M621.3 299.7h0M610.7 269.6h0M609.9 280.8h0M593.8 268.2h0M648.9 284.9h0M653.0 201.9h0M641.3 214.0h0M606.2 289.6h0M570.1 270.2h0M603.2 211.3h0M644.9 229.4h0M615.0 297.7h0M652.0 242.8h0M574.2 283.3h0M631.6 254.9h0M571.6 270.6h0M591.7 283.4h0M665.6 278.2h0M624.8 252.1h0M651.9 195.4h0M611.8 206.7h0M628.1 208.3h0M608.4 252.6h0M672.5 232.0h0M591.9 291.3h0M605.7 293.1h0M655.5 243.6h0M648.3 215.4h0M611.3 232.1h0M614.6 220.7h0M610.7 303.4h0M622.1 245.0h0M649.6 193.3h0M662.3 215.5h0M647.3 248.3h0M594.8 235.1h0M671.8 241.7h0M565.7 280.4h0M636.9 253.6h0M577.8 293.4h0M572.2 295.1h0M653.0 258.2h0M605.5 258.6h0M589.7 255.1h0M583.6 228.7h0M649.2 197.4h0M581.3 229.6h0M631.9 248.6h0M654.1 242.9h0M670.0 237.2h0M645.6 232.4h0M651.4 187.4h0M585.7 310.8h0M625.0 306.8h0M632.4 291.7h0M585.3 314.7h0M640.9 234.1h0M650.9 283.3h0M642.8 261.9h0M596.5 258.3h0M629.5 230.1h0M655.6 191.3h0M626.1 272.6h0M660.9 206.2h0M621.1 222.0h0M610.5 258.0h0M559.7 234.3h0M655.5 281.8h0M553.2 248.8h0M664.2 238.4h0M608.7 229.3h0M579.1 231.4h0M587.6 283.8h0M653.8 269.2h0M571.1 252.8h0M620.9 310.7h0M558.6 257.5h0M566.3 244.0h0M630.0 278.5h0M635.4 246.3h0M608.1 278.3h0M602.4 223.2h0M590.5 226.6h0M673.7 243.6h0M567.4 256.4h0M618.2 242.3h0M637.6 261.2h0M651.8 268.9h0M636.6 279.1h0M563.9 223.6h0M587.4 239.4h0M642.9 269.6h0M665.5 205.1h0M648.6 280.5h0M579.7 314.3h0M575.3 291.9h0M640.7 199.2h0M666.5 252.5h0M645.7 280.3h0M574.7 244.5h0M633.9 228.5h0M590.0 281.9h0M601.0 281.9h0M595.5 247.4h0M671.1 220.3h0M663.5 284.8h0M629.3 282.3h0M625.9 275.0h0M601.6 227.1h0M555.8 259.9h0M580.1 315.3h0M645.4 184.9h0M655.8 227.6h0M617.4 223.3h0M554.1 265.0h0M641.3 227.8h0M608.8 303.1h0M606.7 306.5h0M581.9 240.1h0M629.0 251.4h0M556.0 231.7h0M582.0 241.4h0M570.7 259.3h0M632.7 247.0h0M569.9 228.1h0M642.2 226.1h0M614.0 218.2h0M593.7 264.8h0M628.8 229.8h0M602.6 280.2h0M596.0 296.6h0M650.5 256.7h0M598.4 306.7h0M639.8 225.5h0M616.6 289.4h0M610.6 241.2h0M655.6 291.6h0M649.7 222.0h0M633.2 234.8h0M583.0 254.7h0M618.6 257.5h0M565.2 258.8h0M604.1 231.1h0M590.8 237.3h0M595.2 306.5h0M657.3 203.1h0M569.0 249.7h0M632.1 247.5h0M583.8 264.1h0M670.8 255.6h0M579.9 280.7h0M613.8 294.4h0M582.0 230.1h0M587.6 312.5h0M657.9 276.5h0M582.2 289.2h0M586.4 302.1h0M641.1 239.0h0M611.6 277.1h0M612.4 274.1h0M570.1 287.3h0M603.7 219.6h0M666.0 240.6h0M589.1 283.6h0M561.4 279.8h0M663.4 223.5h0M605.3 221.0h0M639.5 259.0h0M662.8 280.6h0M606.5 254.2h0M575.6 245.3h0M568.4 298.3h0M619.3 290.2h0M558.9 271.4h0M605.4 307.7h0M602.4 221.8h0M560.2 264.5h0M603.3 316.8h0M592.6 291.6h0M645.0 275.5h0M650.8 198.2h0M569.0 285.5h0M614.9 280.3h0M611.6 293.0h0M580.0 271.0h0M571.6 251.1h0M613.8 213.8h0M630.0 281.8h0M622.2 277.4h0M606.1 207.4h0M587.8 275.2h0M621.8 212.5h0M656.1 223.3h0M658.9 286.8h0M667.8 264.5h0M660.7 247.9h0M660.8 222.9h0M583.9 297.3h0M643.2 262.0h0M605.0 274.5h0M651.1 210.3h0M624.6 299.5h0M557.1 229.2h0M659.3 195.8h0M621.3 304.5h0M581.8 306.6h0M598.5 273.7h0M601.4 263.2h0M611.0 247.8h0M622.5 235.3h0M576.7 233.4h0M632.1 303.6h0M640.3 273.5h0M619.7 243.5h0M637.0 194.9h0M560.0 276.1h0M667.0 257.7h0M624.0 245.4h0M603.4 263.3h0M665.5 218.4h0M610.0 302.8h0M598.1 245.8h0M551.8 232.8h0M615.7 232.3h0M580.1 280.0h0M581.7 266.3h0M627.3 218.1h0M660.6 260.7h0M562.5 288.8h0M569.7 291.0h0M615.2 238.3h0M636.1 256.9h0M570.8 245.8h0M592.7 262.4h0M618.1 296.0h0M632.4 235.1h0M601.6 300.8h0M624.3 289.5h0M671.2 226.0h0M667.7 239.3h0M607.0 313.8h0M597.0 281.8h0M579.1 300.3h0M559.7 243.4h0M664.0 221.1h0M622.4 309.7h0M590.0 265.6h0M563.2 227.2h0M653.9 201.7h0M583.1 295.9h0M608.8 262.5h0M659.2 201.9h0M620.3 215.1h0M564.7 281.7h0M644.8 250.8h0M608.1 277.0h0M613.9 267.6h0M613.1 310.8h0M617.7 219.6h0M588.5 301.4h0M628.9 260.1h0M571.8 234.4h0M565.5 256.5h0M631.2 200.9h0M629.9 290.7h0M654.1 245.9h0M672.8 229.0h0M646.7 235.7h0M575.8 259.5h0M633.2 282.1h0M642.3 225.2h0M589.3 227.3h0M609.9 230.6h0M601.4 269.0h0M560.7 220.8h0M628.9 302.9h0M559.7 262.2h0M610.8 296.7h0M614.3 302.8h0M600.0 242.0h0M645.9 229.2h0M616.2 202.5h0M672.0 209.7h0M642.1 241.3h0M563.6 271.3h0M638.2 253.2h0M594.7 249.2h0M639.9 241.7h0M598.4 253.7h0M643.7 206.5h0M594.6 284.3h0M606.3 266.1h0M577.4 231.7h0M667.3 212.5h0M602.3 279.2h0M602.6 224.0h0M589.6 310.3h0M617.7 307.9h0M619.0 249.0h0M671.0 245.5h0M582.5 315.6h0M635.0 287.1h0M629.7 252.4h0M626.2 192.1h0M592.6 301.5h0M645.6 260.6h0M607.1 222.9h0M649.5 251.7h0M596.0 301.6h0M618.9 296.6h0M609.9 309.0h0M633.9 273.6h0M594.0 312.0h0M592.6 248.9h0M587.4 229.1h0M565.7 239.8h0M582.0 295.9h0M584.0 320.2h0M671.6 242.1h0M587.3 289.7h0M606.8 296.0h0M632.1 216.3h0M616.0 241.3h0M630.2 291.7h0M627.9 262.4h0M653.0 236.3h0M553.8 229.9h0M624.8 226.6h0M568.0 229.8h0M662.5 259.6h0M674.5 238.1h0M554.3 237.2h0M569.0 250.6h0M659.7 225.3h0M647.2 254.7h0M640.1 226.5h0M601.9 298.6h0M626.2 301.9h0M662.6 275.6h0M633.7 212.6h0M653.7 271.3h0M576.9 253.6h0M657.8 241.4h0M635.8 191.1h0M600.1 273.6h0M638.3 270.3h0M662.9 256.3h0M559.5 230.9h0M617.0 223.2h0M585.9 298.2h0M563.2 225.3h0M648.7 231.4h0M663.8 230.4h0M616.8 244.6h0M618.0 224.8h0M619.3 252.5h0M641.6 204.3h0M630.8 266.0h0M623.5 211.9h0M652.8 261.6h0M576.1 231.9h0M637.0 199.4h0M662.6 207.6h0M635.2 263.0h0M656.4 278.6h0M669.6 220.6h0M587.7 234.7h0M617.7 227.9h0M660.7 254.1h0M563.4 260.9h0M574.7 285.1h0M596.8 261.1h0M649.8 238.8h0M610.0 309.4h0M614.2 293.2h0M599.8 270.5h0M586.7 268.5h0M588.4 248.6h0M653.4 274.0h0M599.4 279.8h0M595.8 286.9h0M648.8 211.4h0M562.8 256.3h0M634.1 290.7h0M646.2 201.5h0M633.7 202.2h0M570.3 257.4h0M628.3 207.0h0M556.0 264.6h0M601.4 281.5h0M670.1 254.4h0M561.4 229.8h0M632.3 197.4h0M630.9 202.3h0M647.4 236.2h0M614.7 298.7h0M581.2 293.6h0M664.2 253.6h0M645.4 269.3h0M611.1 254.6h0M639.2 212.9h0M576.8 247.7h0M580.2 242.9h0M649.4 187.5h0M602.7 297.9h0M671.8 217.7h0M666.4 226.3h0M629.8 233.5h0M567.4 297.4h0M568.0 249.3h0M662.7 218.5h0M665.7 222.4h0M583.6 243.9h0M640.0 195.5h0M673.2 233.4h0M623.1 199.0h0M612.0 279.2h0M653.2 223.0h0M610.8 220.7h0M605.2 237.4h0M670.7 222.7h0M608.2 295.4h0M623.2 284.3h0M610.5 275.3h0M566.8 247.6h0M625.3 301.0h0M625.5 286.3h0M645.5 216.6h0M619.5 312.4h0M639.8 269.2h0M660.7 222.9h0M580.4 303.3h0M613.2 260.6h0M631.1 231.0h0M644.5 265.3h0M661.3 242.8h0M580.1 316.5h0M654.8 242.6h0M568.4 264.9h0M608.1 257.3h0M641.2 243.0h0M628.2 262.4h0M551.1 226.8h0M672.4 234.3h0M668.0 237.5h0M643.7 219.0h0M599.8 247.4h0M645.8 264.5h0M612.0 242.3h0M565.1 290.3h0M606.7 312.1h0M622.1 275.6h0M661.6 197.2h0M568.6 252.4h0M586.6 297.1h0M600.3 244.0h0M602.8 212.5h0M637.9 246.0h0M626.7 211.0h0M572.2 244.3h0M578.8 242.3h0M608.9 311.1h0M586.9 253.3h0M658.7 267.4h0M569.0 275.8h0M612.4 302.1h0M618.4 302.2h0M630.3 199.9h0M657.2 194.3h0M634.5 199.3h0M561.6 236.2h0M636.9 246.9h0M633.9 264.6h0M666.6 219.0h0M608.9 289.3h0M593.0 273.9h0M633.7 264.7h0M653.9 243.0h0M647.5 189.9h0M639.1 271.9h0M598.2 224.4h0M555.9 241.8h0M612.0 288.4h0M557.0 224.8h0M631.2 286.0h0M614.2 310.4h0M584.1 246.4h0M604.1 231.9h0M630.5 303.3h0M617.4 308.5h0M642.6 272.6h0M619.5 288.4h0M594.8 277.8h0M648.2 232.9h0M645.3 250.1h0M630.7 226.3h0M650.9 193.4h0M660.8 224.6h0M621.3 200.2h0M609.1 252.7h0M667.9 208.8h0M643.7 227.5h0M600.1 296.5h0M638.6 197.0h0M618.4 306.2h0M668.1 225.1h0M588.8 265.8h0M624.5 294.9h0M607.8 215.7h0M625.2 298.8h0M663.1 241.1h0M646.9 220.4h0M619.7 219.4h0M623.2 211.7h0M650.2 198.8h0M608.6 256.7h0M606.2 263.4h0M651.5 268.4h0M643.1 262.9h0M630.5 243.7h0M567.5 228.5h0M653.1 208.6h0M651.1 220.0h0M596.5 301.2h0M639.6 266.6h0M632.8 264.6h0M623.0 298.9h0M611.0 242.0h0M577.5 242.2h0M653.6 250.9h0M624.1 218.8h0M638.9 221.0h0M648.7 270.1h0M606.5 220.8h0M637.0 259.2h0M628.2 265.7h0M650.2 213.4h0M557.3 240.8h0M640.8 220.1h0M659.6 256.7h0M570.6 295.6h0M642.6 191.6h0M581.1 240.1h0M562.4 252.7h0M576.9 286.8h0M590.0 232.8h0M605.8 262.0h0M612.4 272.9h0M669.9 232.9h0M578.8 265.9h0M601.2 307.3h0M577.5 294.7h0M580.0 265.6h0M632.3 263.3h0M599.3 294.3h0M608.0 270.1h0M622.4 250.2h0M614.4 281.8h0M578.8 264.3h0M611.7 263.3h0M644.8 248.3h0M628.4 239.8h0M605.4 254.0h0M637.4 236.0h0M570.9 264.8h0M613.8 222.3h0M631.5 193.7h0M577.7 244.3h0M625.9 254.9h0M565.9 267.7h0M581.6 283.0h0M578.5 286.4h0M581.5 241.6h0M569.1 258.0h0M608.6 288.6h0M634.7 229.0h0M584.8 244.7h0M600.3 226.5h0M568.8 277.8h0M640.7 215.4h0M592.8 253.0h0M579.2 235.5h0M582.7 259.7h0M606.7 252.2h0M593.4 276.5h0M592.0 259.7h0M588.3 263.6h0M598.7 246.8h0M653.7 235.7h0M626.5 227.9h0M596.5 290.4h0M649.5 217.4h0M635.3 210.7h0M635.2 290.3h0M602.1 273.3h0M571.1 291.0h0M600.4 264.1h0M564.5 247.5h0M600.0 273.7h0M574.0 295.3h0M638.3 243.1h0M608.7 275.5h0M570.4 248.8h0M636.8 229.3h0M559.3 289.6h0M614.0 246.8h0M639.2 191.9h0M600.0 263.8h0M596.0 278.1h0M665.7 207.6h0M646.2 231.7h0M615.1 259.4h0M597.1 267.9h0M601.0 264.0h0M598.3 259.7h0M618.4 298.4h0M627.7 284.7h0M574.4 295.5h0M604.2 267.4h0M630.0 253.1h0M583.9 274.1h0M569.2 265.0h0M645.9 222.6h0M578.1 264.3h0M607.3 216.3h0M644.6 250.3h0M625.2 226.6h0M566.5 242.3h0M655.8 255.9h0M616.4 216.5h0M630.1 220.4h0M619.8 241.9h0M596.8 262.8h0M635.3 241.1h0M646.6 189.6h0M616.5 243.8h0M659.0 258.5h0M592.9 258.5h0M575.8 258.5h0M664.7 277.0h0M599.1 285.4h0M594.4 274.4h0M631.1 304.9h0M652.4 222.7h0M621.0 245.2h0M626.0 230.6h0M644.2 212.3h0M627.3 253.2h0M617.0 283.9h0M638.0 222.4h0M580.2 274.6h0M609.4 228.4h0M583.5 231.1h0M628.6 261.8h0M635.8 239.7h0M596.7 264.4h0M581.1 237.9h0M600.3 253.2h0M631.4 225.7h0M624.0 241.6h0M644.3 196.7h0M649.5 213.8h0M558.0 265.1h0M623.6 217.9h0M594.1 266.6h0M634.3 200.1h0M592.9 268.6h0M620.3 244.7h0M592.9 270.6h0M596.7 261.3h0M638.9 279.1h0M571.7 257.0h0M607.5 300.7h0M584.9 282.8h0M628.3 242.6h0M653.2 204.1h0M572.5 244.9h0M605.9 259.2h0M611.1 273.2h0M626.7 267.1h0M647.5 215.7h0M621.5 266.2h0M634.8 201.4h0M620.2 224.3h0M607.5 223.2h0M575.4 251.7h0M625.7 249.5h0M642.8 251.5h0M660.7 220.0h0M620.4 299.3h0M633.7 189.1h0M572.6 256.7h0M611.4 247.6h0M629.9 297.1h0M575.4 254.4h0M620.1 247.0h0M608.6 248.3h0M579.5 258.9h0M590.9 273.4h0M594.0 284.5h0M615.9 226.8h0M567.1 278.7h0M640.5 236.7h0M586.3 268.5h0M568.9 284.6h0M658.3 217.3h0M644.4 214.4h0M637.5 247.9h0M630.4 189.3h0M646.9 239.6h0M597.6 265.7h0M589.1 234.3h0M647.6 234.9h0M582.0 297.6h0M601.9 266.9h0M644.7 223.9h0M642.8 223.4h0M622.0 241.6h0M601.0 239.5h0M632.5 223.6h0M578.0 260.5h0M614.8 216.2h0M608.0 264.0h0M573.0 279.9h0M646.1 223.5h0M587.5 282.3h0M592.8 263.1h0M628.1 251.8h0M565.7 254.7h0M629.1 247.4h0M607.4 268.6h0M636.9 229.8h0M607.1 247.3h0M655.0 264.8h0M629.3 242.9h0M580.6 255.1h0M632.9 233.0h0M577.5 296.8h0M582.3 267.9h0M582.1 283.8h0M578.5 286.0h0M599.0 264.5h0M628.1 253.2h0M591.4 251.5h0M600.7 272.3h0M659.6 207.1h0M605.8 250.7h0M631.9 247.2h0M577.0 274.3h0M588.4 269.0h0M637.1 241.8h0M635.1 250.1h0M607.8 237.1h0M606.7 253.5h0M575.5 273.5h0M650.0 252.0h0M581.1 255.7h0M631.2 239.4h0M581.2 287.1h0M613.0 265.3h0M651.3 247.0h0M593.2 234.6h0M652.5 254.4h0M592.9 252.9h0M625.6 271.9h0M635.1 248.8h0M647.2 254.3h0M607.3 257.6h0M635.8 215.6h0M562.6 261.2h0M646.6 216.2h0M593.5 257.0h0M616.7 281.3h0M613.5 215.1h0M577.9 306.2h0M585.3 255.8h0M648.1 284.5h0M637.7 249.7h0M603.4 260.9h0M617.5 221.7h0M579.4 261.3h0M590.7 234.8h0M615.4 247.8h0M634.1 195.5h0M607.6 266.7h0M604.7 286.7h0M584.0 275.4h0M617.1 201.5h0M618.4 306.2h0M630.0 246.9h0M664.5 224.3h0M644.4 227.0h0M639.9 254.1h0M630.2 252.8h0M578.5 241.9h0M638.2 212.7h0M661.2 254.0h0M651.3 226.2h0M650.9 256.6h0M580.0 266.3h0M638.5 193.2h0M654.5 253.4h0M597.3 250.8h0M563.7 280.7h0M629.1 224.6h0M587.5 249.1h0M617.9 273.8h0M596.1 273.4h0M583.5 278.7h0M604.5 287.5h0M619.9 270.6h0M585.5 248.1h0M609.2 272.6h0M622.3 216.9h0M616.8 228.7h0M567.1 293.9h0M632.7 225.8h0M574.7 269.2h0M620.1 214.4h0M590.2 288.9h0M562.4 253.4h0M593.1 266.4h0M649.0 255.8h0M587.5 262.5h0M631.3 267.9h0M618.2 227.4h0M629.2 267.7h0M590.7 237.5h0M591.1 276.5h0M636.6 251.3h0M576.8 271.0h0M581.9 242.7h0M633.9 256.2h0M621.8 214.9h0M632.6 209.3h0M635.9 260.6h0M590.6 264.0h0M589.6 256.3h0M621.9 236.3h0M624.8 229.2h0M611.6 210.1h0M656.5 246.2h0M595.5 242.8h0M588.5 298.3h0M622.8 225.1h0M607.2 275.7h0M658.3 230.8h0M575.3 246.7h0M626.6 231.3h0M580.3 259.9h0M622.5 242.7h0M580.6 261.9h0M561.0 285.6h0M622.9 209.0h0M562.3 262.9h0M617.5 268.3h0M597.0 236.1h0M640.2 207.6h0M616.2 214.5h0M574.9 279.2h0M644.8 244.5h0M617.8 277.8h0M599.7 294.5h0M651.2 259.1h0M632.7 236.5h0M586.1 260.4h0M583.1 248.5h0M662.0 291.4h0M607.1 249.6h0M601.8 251.2h0M630.6 242.8h0M588.1 258.9h0M581.9 251.6h0M591.8 278.0h0M607.4 244.3h0M634.3 238.7h0M607.3 284.1h0M600.7 255.6h0M662.7 213.3h0M624.2 220.8h0M616.2 313.1h0M614.1 283.9h0M606.8 238.3h0M608.8 279.9h0M651.9 210.6h0M638.2 248.6h0M597.9 285.3h0M640.2 237.4h0M654.0 235.9h0M631.4 241.5h0M640.5 245.3h0M584.3 231.1h0M604.8 259.1h0M600.2 246.1h0M597.9 277.2h0M648.8 247.2h0M640.4 253.4h0M620.6 242.6h0M616.8 234.6h0M626.3 244.0h0M569.7 245.8h0M594.6 256.7h0M582.3 243.7h0M597.8 246.5h0M571.5 263.7h0M591.3 246.1h0M591.9 274.8h0M630.9 252.1h0M645.2 238.8h0M578.2 263.1h0M623.5 201.7h0M579.0 277.4h0M635.0 231.7h0M592.8 291.0h0M631.3 231.8h0M637.9 233.2h0M608.9 211.9h0M592.7 249.3h0M588.7 239.4h0M580.5 287.0h0M621.4 280.1h0M631.0 275.0h0M639.6 195.0h0M615.3 206.2h0M649.1 239.1h0M601.3 284.7h0M600.2 228.7h0M593.1 231.3h0M569.7 259.0h0M645.5 229.4h0M597.2 226.7h0M581.7 257.5h0M617.1 255.3h0M590.4 297.0h0M660.4 208.2h0M658.5 237.1h0M630.6 214.3h0M560.7 258.3h0M608.8 287.2h0M631.4 225.6h0M604.8 283.3h0M600.4 240.3h0M634.8 261.2h0M652.9 227.4h0M652.2 221.0h0M627.8 226.4h0M616.5 264.3h0M584.2 262.9h0M558.4 240.2h0M587.5 243.1h0M590.6 258.4h0M589.9 289.7h0M584.0 281.9h0M578.6 259.5h0M644.7 267.6h0M640.6 186.6h0M613.6 259.8h0M613.5 246.6h0M628.2 197.2h0M557.1 262.4h0M640.9 252.0h0M591.5 280.3h0M575.6 273.5h0M619.5 225.2h0M605.4 257.7h0M634.5 215.5h0M606.0 275.5h0M632.1 249.0h0M626.1 236.2h0M580.9 304.1h0M651.4 199.6h0M581.3 246.2h0M644.8 202.5h0M644.5 229.0h0M560.2 285.0h0M636.2 200.7h0M639.8 206.2h0M642.8 208.5h0M630.2 218.2h0M644.8 238.8h0M610.6 265.7h0M568.2 254.6h0M587.3 261.4h0M571.5 248.2h0M596.9 291.1h0M645.5 232.4h0M628.2 212.9h0M606.7 258.6h0M628.9 215.7h0M616.1 283.0h0M604.0 254.4h0M579.2 255.0h0M584.5 271.9h0M638.4 232.1h0M614.1 281.5h0M572.5 244.0h0M604.1 228.8h0M646.9 218.4h0M605.3 211.7h0M654.9 241.2h0M626.1 234.6h0M635.8 216.7h0M640.5 239.8h0M633.6 207.5h0M574.7 256.1h0M586.7 281.9h0M621.4 261.7h0M582.2 293.8h0M592.0 228.9h0M618.0 278.4h0M568.1 270.9h0M557.3 251.1h0M620.2 265.8h0M572.8 235.9h0M595.5 268.6h0M618.5 241.5h0M606.7 251.8h0M634.7 222.4h0M587.2 251.5h0M596.8 267.6h0M586.6 263.8h0M608.8 285.0h0M630.5 223.5h0M622.8 224.6h0M635.0 255.5h0M635.2 252.3h0M669.3 247.1h0M591.0 270.5h0M642.5 222.0h0M584.0 262.7h0M613.7 299.0h0M592.2 260.5h0M636.0 218.7h0M572.5 245.9h0M620.2 267.4h0M655.0 241.1h0M613.4 215.1h0M627.9 231.8h0M584.5 281.8h0M624.2 201.7h0M599.1 249.7h0M645.2 221.3h0M613.2 270.1h0M594.2 243.0h0M643.4 260.4h0M645.6 225.4h0M570.5 238.1h0M596.0 293.1h0M629.7 283.2h0M617.9 233.8h0M589.8 249.0h0M579.0 268.6h0M599.5 245.2h0M578.2 267.6h0M613.6 264.6h0M639.6 236.0h0M625.2 251.4h0M633.0 202.2h0M594.1 231.5h0M603.7 248.3h0M600.5 283.2h0M615.7 280.7h0M592.0 258.3h0M567.0 250.1h0M618.6 250.5h0M639.4 222.8h0M561.2 247.8h0M653.8 229.4h0M636.4 198.8h0M591.2 275.9h0M606.0 217.6h0M608.1 294.1h0M640.0 210.8h0M590.6 306.8h0M606.9 238.8h0M579.1 251.5h0M629.3 226.5h0M573.5 242.3h0M632.1 243.3h0M627.5 223.8h0M658.4 235.4h0M610.8 236.1h0M651.1 221.4h0M631.3 242.3h0M609.1 244.0h0M577.2 282.8h0M624.2 267.4h0M567.5 271.2h0M647.0 250.2h0M633.8 257.6h0M647.9 245.3h0M650.2 210.6h0M601.4 256.6h0M570.6 253.9h0M638.3 213.6h0M626.7 286.6h0M587.3 267.4h0M643.0 231.2h0M595.6 246.8h0M627.2 248.3h0M616.1 229.0h0M630.6 231.1h0M612.2 204.3h0M573.4 282.0h0M582.4 250.3h0M627.3 253.4h0M586.9 250.0h0M649.9 236.4h0M616.7 216.6h0M585.6 255.6h0M647.1 188.9h0M572.0 270.3h0M602.0 295.7h0M612.6 276.2h0M557.1 249.7h0M633.4 278.3h0M634.0 209.5h0M615.0 274.1h0M657.5 234.3h0M581.3 266.0h0M571.4 264.1h0M569.3 269.2h0M580.5 248.8h0M565.3 230.4h0M583.1 235.7h0M634.6 250.0h0M605.9 206.2h0M632.7 230.0h0M585.2 241.6h0M627.0 236.1h0M604.9 291.0h0M612.9 240.2h0M632.4 215.5h0M577.3 261.2h0M640.8 240.8h0M587.3 259.5h0M615.4 215.3h0M650.6 237.1h0M612.1 299.4h0M608.5 285.4h0M642.0 208.3h0M597.1 278.6h0M580.3 260.6h0M560.1 266.8h0M586.2 290.0h0M621.8 236.6h0M649.3 228.7h0M614.4 224.7h0M569.7 261.5h0M659.5 208.5h0M591.2 239.0h0M641.0 201.8h0M638.3 238.8h0M616.1 291.7h0M594.0 243.9h0M648.1 214.4h0M665.9 269.8h0M662.2 226.6h0M597.7 290.5h0M626.2 250.3h0M645.5 266.9h0M568.0 276.6h0M598.2 305.4h0M644.3 229.4h0M601.9 307.1h0M569.4 231.7h0M638.7 198.6h0M638.3 277.5h0M642.3 244.1h0M613.5 230.9h0M661.4 234.7h0M638.0 237.3h0M605.7 285.9h0M586.2 236.8h0M618.8 249.4h0M626.3 225.1h0M626.0 271.8h0M633.4 271.3h0M585.6 247.2h0M631.8 220.1h0M584.4 284.7h0M573.0 264.7h0M582.0 246.8h0M607.1 286.6h0M655.9 237.6h0M638.3 238.4h0M659.3 240.8h0M606.5 294.9h0M634.1 231.1h0M635.6 261.5h0M612.2 273.3h0M607.2 249.7h0M642.8 224.1h0M585.1 236.4h0M586.4 251.9h0M578.7 249.1h0M586.1 237.4h0M555.4 245.2h0M625.6 231.3h0M626.9 258.4h0M619.2 247.3h0M634.3 254.1h0M652.7 247.3h0M582.4 258.6h0M568.5 273.4h0M644.8 268.6h0M650.2 231.6h0M616.1 234.8h0M635.7 220.7h0M653.7 222.7h0M598.0 253.2h0M603.8 266.2h0M631.4 279.2h0M609.9 287.2h0M640.6 219.4h0M643.5 238.0h0M630.5 279.2h0M621.8 293.7h0M566.3 231.8h0M572.6 272.1h0M614.4 276.3h0M589.0 255.8h0M599.1 230.5h0M568.0 273.3h0M613.3 254.2h0M635.7 222.2h0M568.9 256.5h0M639.6 214.3h0M640.2 210.4h0M559.5 244.8h0M577.3 284.3h0M614.3 247.7h0M616.9 266.0h0M622.3 210.5h0M624.3 280.4h0M569.5 257.8h0M628.7 232.2h0M642.8 263.3h0M645.4 190.8h0M633.1 264.1h0M580.5 242.1h0M635.1 238.8h0M616.3 259.4h0M621.0 252.4h0M616.2 231.1h0M654.4 207.4h0M630.1 223.7h0M641.8 208.4h0M598.9 269.0h0M589.6 257.9h0M605.3 290.9h0M567.7 255.6h0M576.2 280.2h0M580.5 250.5h0M574.8 285.4h0M659.3 236.8h0M640.8 269.9h0M664.6 220.7h0M565.3 266.2h0M615.5 261.7h0M607.7 257.1h0M596.5 251.2h0M642.1 246.2h0M566.0 291.1h0M654.5 210.5h0M611.7 257.8h0M639.1 214.7h0M652.1 264.4h0M649.3 226.9h0M621.8 231.9h0M630.7 203.1h0M586.1 282.6h0M631.0 277.1h0M581.7 251.6h0M638.0 247.0h0M596.9 253.7h0M570.7 258.7h0M668.1 241.2h0M569.8 267.3h0M627.4 238.6h0M642.3 241.8h0M614.1 251.3h0M594.2 295.4h0M600.2 231.4h0M645.1 224.5h0M651.3 227.1h0M614.0 223.4h0M653.5 201.2h0M611.8 243.4h0M627.4 218.8h0M631.3 252.2h0M595.5 294.4h0M637.4 216.2h0M595.7 297.6h0M589.4 297.9h0M572.7 264.1h0M580.8 253.4h0M597.1 249.4h0M642.8 229.9h0M633.2 250.3h0M586.3 264.7h0M627.6 203.3h0M640.6 261.2h0M626.1 196.4h0M612.4 268.7h0M577.1 256.9h0M578.1 260.4h0M623.1 293.4h0M596.2 262.3h0M618.2 260.7h0M597.5 276.7h0M586.2 254.6h0M647.1 222.4h0M641.0 192.1h0M590.0 250.1h0M613.8 227.7h0M584.4 294.2h0M580.8 241.6h0M591.1 260.2h0M600.7 245.1h0M634.2 213.5h0M631.7 251.7h0M615.6 258.7h0M620.2 209.6h0M627.2 226.6h0M615.6 241.4h0M632.4 240.1h0M636.2 222.2h0M585.5 272.6h0M625.6 198.8h0M621.3 251.0h0M586.3 260.3h0M616.1 224.3h0M638.7 239.5h0M575.4 258.4h0M643.0 256.5h0M591.2 232.3h0M638.8 246.5h0M608.3 249.8h0M614.8 255.1h0M583.7 257.3h0M566.5 280.3h0M617.4 221.8h0M592.9 278.6h0M600.6 258.1h0M597.8 253.1h0M641.7 247.1h0M637.1 203.6h0M635.6 212.6h0M582.4 273.1h0M568.2 284.6h0M566.3 235.1h0M608.2 280.4h0M623.9 263.7h0M606.7 271.5h0M641.2 220.6h0M601.2 269.3h0M612.8 246.8h0M645.5 222.7h0M575.5 265.6h0M572.4 265.4h0M584.1 283.6h0M613.0 252.1h0M592.6 256.9h0M599.0 226.8h0M600.8 272.6h0M620.1 212.8h0M583.8 238.8h0M644.3 268.0h0M584.2 251.7h0M628.4 247.5h0M662.9 229.3h0M640.0 250.7h0M578.2 277.5h0M583.8 250.3h0M605.6 249.2h0M609.9 259.7h0M584.0 273.1h0M601.5 236.2h0M616.3 239.5h0M658.2 264.9h0M572.5 287.6h0M631.4 233.1h0M599.5 261.1h0M639.7 230.5h0M593.5 250.4h0M564.5 277.4h0M645.0 227.2h0M626.3 233.4h0M637.1 233.0h0M646.2 228.7h0M629.6 235.4h0M598.2 302.1h0M554.0 253.0h0M603.0 271.5h0M613.8 266.7h0M606.0 253.3h0M587.5 310.6h0M616.0 262.9h0M606.6 272.6h0M594.0 238.7h0M598.8 256.0h0M643.2 216.0h0M611.3 243.1h0M586.0 272.4h0M576.8 298.0h0M640.3 250.9h0M589.5 252.7h0M573.8 288.7h0M603.2 235.0h0M622.9 226.1h0M627.3 214.7h0M632.8 248.6h0M580.3 256.2h0M608.9 232.5h0M613.9 276.2h0M575.7 290.1h0M628.4 262.9h0M579.4 259.5h0M620.1 230.2h0M612.9 242.7h0M590.0 272.9h0M628.1 265.0h0M591.9 244.2h0M600.2 273.3h0M645.1 242.9h0M581.5 229.3h0M655.8 195.7h0M585.7 252.3h0M644.9 270.2h0M613.5 245.7h0M641.3 238.0h0M632.0 208.1h0M612.8 241.1h0M599.2 265.0h0M600.7 243.0h0M621.6 250.1h0M564.7 283.1h0M605.6 253.2h0M615.3 233.7h0M644.3 232.7h0M646.7 198.9h0M623.6 234.5h0M598.6 261.0h0M636.6 276.9h0M646.5 211.1h0M575.4 274.5h0M607.9 277.9h0M614.4 223.0h0M573.0 266.3h0M625.7 248.0h0M608.8 250.5h0M647.1 256.8h0M619.1 216.8h0M626.6 249.5h0M571.8 286.6h0M607.6 229.8h0M613.8 276.1h0M622.1 248.5h0M633.3 223.6h0M585.1 250.4h0M619.2 239.7h0M576.9 252.5h0M651.3 203.9h0M624.0 256.9h0M596.4 238.0h0M610.2 237.7h0M593.1 274.9h0M594.1 234.5h0M592.9 282.7h0M639.2 241.3h0M604.5 293.9h0M609.6 294.5h0M594.1 266.4h0M574.6 254.7h0M580.9 262.1h0M572.9 248.3h0M619.6 217.2h0M567.2 263.6h0M628.5 216.1h0M639.1 237.0h0M622.8 229.0h0M588.8 251.7h0M589.2 258.5h0M595.7 261.0h0M570.9 266.8h0M661.0 223.1h0M581.6 248.7h0M620.5 295.8h0M587.8 247.7h0M635.9 224.6h0M609.7 301.8h0M620.8 228.7h0M593.6 243.5h0M579.7 256.0h0M628.0 230.8h0M585.7 269.7h0M622.9 248.0h0M590.0 272.6h0M658.3 238.4h0M583.2 287.1h0M604.6 252.2h0M581.5 282.0h0M646.4 209.2h0M582.1 259.3h0M613.8 247.4h0M655.5 233.9h0M584.8 300.8h0M630.6 284.3h0M578.1 275.2h0M574.8 296.0h0M634.8 246.0h0M591.2 250.6h0M576.9 271.0h0M596.8 258.5h0M595.0 293.4h0M649.3 192.6h0M601.0 264.8h0M624.3 238.5h0M578.3 266.1h0M650.4 221.1h0M588.3 238.4h0M611.7 260.8h0M609.9 217.7h0M582.2 253.8h0M630.2 280.8h0M575.5 241.9h0M576.1 260.3h0M570.0 231.4h0M630.3 217.4h0M610.1 266.1h0M599.5 237.5h0M595.7 233.0h0M626.2 259.7h0M598.9 246.1h0M615.8 201.8h0M610.0 275.9h0M647.8 264.8h0M608.8 217.3h0M659.1 212.0h0M650.5 239.7h0M648.2 203.7h0M613.3 278.5h0M624.9 217.6h0M586.6 251.1h0M582.8 260.8h0M642.5 237.5h0M630.1 229.7h0M581.2 241.5h0M640.2 259.4h0M619.6 261.7h0M591.8 278.7h0M618.6 206.8h0M627.2 229.8h0M622.7 249.1h0M564.8 232.9h0M627.8 251.3h0M631.7 211.2h0M596.6 249.1h0M573.1 282.2h0M648.0 222.7h0M641.1 243.3h0M605.2 226.2h0M626.1 242.9h0M644.8 229.4h0M657.1 276.2h0M587.1 235.3h0M610.1 230.9h0M621.6 231.4h0M580.7 288.8h0M589.1 263.1h0M567.4 266.6h0M586.8 243.9h0M584.1 313.0h0M569.9 296.6h0M634.2 213.3h0M620.1 232.5h0M618.3 265.3h0M613.4 278.0h0M619.7 222.7h0M625.5 247.3h0M608.4 267.0h0M634.5 261.0h0M652.3 222.2h0M616.7 259.7h0M637.4 211.4h0M612.1 289.1h0M629.4 260.6h0M590.9 295.1h0M626.6 207.6h0M635.6 197.0h0M647.5 223.3h0M617.8 245.4h0M586.4 260.6h0M609.6 263.3h0M601.9 308.3h0M650.9 199.9h0M583.1 254.2h0M604.2 287.1h0M631.2 286.0h0M626.2 210.3h0M630.5 262.1h0M596.6 243.6h0M627.7 271.8h0M624.9 207.6h0M589.8 281.0h0M622.0 240.6h0M599.3 276.8h0M587.5 233.5h0M644.5 221.6h0M590.2 233.9h0M632.3 291.9h0M599.1 277.6h0M629.6 219.5h0M620.2 206.0h0M571.9 304.9h0M597.6 288.6h0M656.0 224.7h0M624.9 261.0h0M636.4 253.9h0M612.4 268.1h0M567.8 292.4h0M594.2 238.2h0M587.0 248.9h0M618.6 251.7h0M584.7 272.4h0M619.5 236.7h0M663.6 274.6h0M645.3 234.4h0M573.6 254.5h0M602.9 230.9h0M591.4 277.2h0M594.1 259.5h0M602.9 225.4h0M609.5 214.6h0M589.3 249.3h0M645.6 255.0h0M573.8 251.8h0M589.6 293.4h0M662.7 255.0h0M638.7 210.9h0M641.0 243.2h0M595.6 279.3h0M663.4 234.3h0M635.3 203.7h0M586.5 254.8h0M637.1 228.9h0M612.1 211.5h0M618.6 244.0h0M587.2 252.9h0M640.9 230.3h0M643.0 229.7h0M589.1 270.5h0M564.9 254.9h0M636.5 223.0h0M614.2 268.1h0M660.1 236.4h0M613.7 228.2h0M561.4 262.8h0M591.7 223.5h0M612.5 265.6h0M585.1 260.1h0M570.6 269.0h0M581.1 233.6h0M671.5 236.4h0M593.0 290.8h0M565.2 255.5h0M571.6 275.7h0M611.4 287.5h0M601.3 262.3h0M657.9 269.8h0M633.7 242.9h0M575.2 273.7h0M568.9 248.2h0M601.6 274.6h0M617.3 231.7h0M655.8 274.8h0M594.2 280.7h0M655.4 249.1h0M596.6 259.6h0M639.2 193.8h0M609.2 246.4h0M651.1 234.0h0M570.9 228.1h0M653.4 253.2h0M584.8 250.5h0M646.2 207.6h0M601.6 227.6h0M619.4 229.6h0M608.0 287.3h0M658.0 243.8h0M574.2 266.8h0M634.1 250.3h0M580.1 304.6h0M639.9 249.6h0M628.1 207.2h0M556.6 269.0h0M645.6 242.2h0M636.9 205.8h0M574.9 260.0h0M582.0 273.8h0M641.8 225.7h0M639.4 210.4h0M601.1 236.7h0M662.0 264.8h0M601.7 284.0h0M575.3 264.0h0M621.6 240.1h0M617.5 240.9h0M621.3 204.0h0M602.4 233.7h0M588.9 235.7h0M619.2 224.1h0M620.4 284.5h0M626.6 240.2h0M645.1 240.0h0M616.2 275.9h0M650.1 233.2h0M585.5 231.3h0M645.3 258.2h0M601.8 267.8h0M626.3 235.0h0M637.3 200.3h0M649.0 194.6h0M622.8 210.3h0M626.4 274.6h0M575.2 302.8h0M650.2 221.4h0M578.9 256.9h0M665.8 211.6h0M633.6 250.1h0M602.1 244.5h0M591.7 266.2h0M607.4 248.8h0M592.2 255.5h0M575.8 248.5h0M637.6 212.5h0M644.1 216.3h0M643.7 249.2h0M594.9 258.9h0M579.3 258.2h0M616.3 235.7h0M624.6 203.5h0M563.2 271.8h0M626.6 213.8h0M624.6 259.9h0M625.5 222.2h0M586.4 256.0h0M615.1 275.7h0M595.3 289.5h0M646.4 273.2h0M572.4 275.8h0M638.2 241.3h0M625.2 259.3h0M572.5 248.3h0M635.4 272.4h0M573.2 273.6h0M585.1 277.1h0M624.4 226.5h0M609.7 276.9h0M639.2 228.2h0M566.7 278.2h0M616.3 244.1h0M580.1 267.5h0M638.4 228.1h0M564.3 277.1h0M633.9 294.5h0M666.3 261.6h0M630.1 252.1h0M632.6 246.6h0M625.7 217.4h0M573.9 255.9h0M595.9 243.0h0M633.7 224.8h0M604.7 268.3h0M614.2 290.3h0M601.4 238.1h0M603.4 279.7h0M630.7 235.3h0M659.6 266.1h0M658.0 231.7h0M609.0 265.7h0M614.4 236.1h0M658.7 288.0h0M659.6 292.1h0M659.7 290.6h0M657.1 288.0h0M660.9 289.5h0M659.6 290.9h0M658.3 290.2h0M661.0 288.6h0M657.3 287.0h0M659.2 288.4h0M660.3 289.1h0M658.9 288.2h0M660.0 292.2h0M663.6 289.6h0M657.7 292.1h0M658.5 289.1h0M657.9 289.2h0M658.3 289.4h0M657.3 290.7h0M659.2 288.1h0M658.8 291.3h0M662.1 289.2h0M657.1 286.2h0M661.7 291.3h0M659.5 290.5h0M660.2 288.6h0M662.9 289.1h0M657.2 289.5h0M659.8 290.6h0M661.5 284.2h0M658.7 290.9h0M659.2 290.1h0M661.5 293.1h0M658.6 288.1h0M659.9 288.3h0M661.1 288.5h0M658.9 291.2h0M662.2 292.9h0M657.2 291.0h0M657.2 291.5h0M602.1 317.9h0M604.7 325.3h0M604.2 324.4h0M607.7 325.6h0M606.4 324.9h0M602.5 320.0h0M603.7 322.5h0M604.5 316.3h0M607.5 326.8h0M604.9 317.6h0M640.5 285.2h0M643.5 285.8h0M646.6 287.0h0M639.8 298.6h0M633.1 302.9h0M561.4 219.6h0M551.6 222.7h0" stroke="#E41A1C" stroke-width="1.9" stroke-linecap="round" fill="none"/>
<path d="M607.3 347.7h0M608.1 347.6h0M607.8 350.1h0M605.5 352.2h0M604.6 351.6h0M610.1 332.3h0M603.4 346.0h0M607.9 337.4h0M609.3 338.0h0M610.2 347.3h0M609.8 345.4h0M613.5 340.8h0M606.0 354.6h0M607.0 332.8h0M613.3 347.4h0M614.9 337.7h0M606.3 345.2h0M605.3 350.1h0M607.5 353.9h0M613.2 342.0h0M614.2 339.5h0M611.4 334.3h0M606.7 331.5h0M609.2 337.8h0M607.8 360.2h0M614.5 336.7h0M612.5 348.8h0M604.7 345.8h0M606.9 335.2h0M609.7 351.5h0M608.9 351.3h0M610.8 338.3h0M607.6 346.5h0M604.8 347.4h0M609.6 337.5h0M607.5 339.9h0M615.6 337.4h0M607.4 359.1h0M605.2 336.8h0M610.3 330.1h0M609.0 339.1h0M615.7 334.8h0M609.3 340.7h0M611.5 348.9h0M608.0 335.5h0M609.2 328.6h0M610.2 341.1h0M611.6 337.7h0M607.1 329.8h0M613.9 345.9h0M606.2 335.6h0M614.4 337.6h0M613.2 349.0h0M613.4 348.0h0M610.8 340.2h0M612.9 345.6h0M613.8 339.3h0M608.9 332.0h0M613.1 341.5h0M604.6 339.2h0M609.6 336.7h0M605.8 351.7h0M609.2 340.6h0M606.2 330.2h0M610.2 327.7h0M606.3 341.9h0M606.7 347.6h0M608.3 360.5h0M612.9 344.6h0M607.7 360.1h0M608.8 352.8h0M603.3 346.6h0M605.2 352.8h0M610.7 343.4h0M609.6 354.1h0M608.5 342.9h0M613.0 346.6h0M609.2 356.3h0M607.3 337.5h0M605.3 334.8h0M610.0 359.9h0M606.7 333.1h0M609.6 344.8h0M608.1 345.6h0M605.2 346.5h0M609.0 362.2h0M609.3 346.4h0M607.8 362.1h0M608.3 359.4h0M609.9 342.4h0M607.6 346.1h0M604.5 342.5h0M606.2 349.0h0M607.9 352.0h0M609.6 340.1h0M606.6 338.8h0M610.7 354.6h0M607.6 355.0h0M608.6 346.9h0M610.0 351.5h0M605.8 346.2h0M607.8 351.2h0M606.6 341.7h0M608.8 345.9h0M603.8 357.2h0M606.8 337.6h0M604.8 346.7h0M605.8 340.0h0M607.2 337.5h0M609.0 344.8h0M607.4 353.5h0M607.4 354.7h0M606.6 348.7h0M606.0 347.0h0M605.0 341.4h0M607.7 347.4h0M606.6 351.7h0M607.9 335.5h0M609.9 352.5h0M608.7 346.4h0M609.8 343.3h0M609.6 347.1h0M607.4 350.5h0M607.3 352.2h0M606.7 337.4h0M606.3 345.2h0M607.5 345.0h0M608.2 342.2h0M608.4 346.7h0M609.2 342.8h0M604.7 355.3h0M605.2 348.7h0M605.2 353.1h0M609.3 351.1h0M605.6 344.0h0M609.9 345.2h0M608.5 345.8h0M609.3 352.3h0M609.1 353.1h0M608.7 341.0h0M604.3 349.0h0M607.3 348.7h0M610.3 352.3h0M606.2 353.4h0M607.7 341.9h0M611.1 342.5h0M609.8 344.9h0M608.8 351.5h0M608.7 345.8h0M607.6 347.4h0M607.2 341.6h0M608.4 350.6h0M609.3 345.7h0M606.6 346.1h0M609.3 343.5h0M605.1 347.2h0M607.1 364.6h0M611.5 338.1h0M609.0 340.2h0M607.0 347.3h0M606.7 336.0h0M608.4 352.7h0M609.9 349.1h0M608.4 342.2h0M607.8 347.0h0M606.0 337.6h0M607.8 348.0h0M605.6 353.5h0M605.3 342.5h0M608.1 347.0h0M609.5 353.4h0M608.0 344.5h0M607.0 348.3h0M609.9 348.0h0M609.1 343.3h0M607.6 360.6h0M606.7 349.5h0M605.1 333.6h0M607.6 353.2h0M607.9 348.3h0M608.6 342.3h0M607.5 348.9h0M606.5 351.8h0M607.7 344.0h0M607.8 343.6h0M607.2 349.5h0M608.7 352.3h0M612.5 347.3h0M610.5 343.4h0M608.5 351.8h0" stroke="#FF7F00" stroke-width="1.9" stroke-linecap="round" fill="none"/>
<path d="M499.1 114.1h0M458.9 138.8h0M464.7 138.8h0M484.5 137.4h0M516.5 138.0h0M519.7 150.8h0M490.3 167.1h0M508.1 172.3h0M495.3 177.5h0M459.5 176.4h0M461.8 179.9h0M504.9 186.6h0M498.5 188.9h0M508.7 189.5h0M459.2 190.1h0M515.9 199.1h0M523.2 204.0h0M527.0 207.8h0M490.9 225.6h0M477.0 233.7h0M531.1 241.0h0M536.3 242.7h0" stroke="#E41A1C" stroke-width="2.2" stroke-linecap="round" fill="none"/>
<path d="M476.1 120.5h0M482.2 137.4h0M486.9 145.8h0M484.5 172.3h0M481.0 178.4h0M464.7 181.9h0M525.3 236.9h0M526.1 238.1h0M527.0 239.2h0" stroke="#377EB8" stroke-width="2.2" stroke-linecap="round" fill="none"/>
<path d="M451.4 309.1h0M616.9 318.9h0" stroke="#FF7F00" stroke-width="2.2" stroke-linecap="round" fill="none"/>
<text x="1056.3" y="52.1" font-size="19" textLength="91.1" lengthAdjust="spacingAndGlyphs">Annotation</text>
<rect x="763.3" y="66.8" width="496.5" height="305.3" fill="none" stroke="#000" stroke-width="2.6"/>
<line x1="950.9" y1="66.8" x2="950.9" y2="372.1" stroke="#000" stroke-width="2.6"/>
<line x1="763.3" y1="128.0" x2="1259.8" y2="128.0" stroke="#000" stroke-width="2.6"/>
<line x1="763.3" y1="190.2" x2="1259.8" y2="190.2" stroke="#000" stroke-width="2.6"/>
<line x1="763.3" y1="251.8" x2="1259.8" y2="251.8" stroke="#000" stroke-width="2.6"/>
<line x1="763.3" y1="313.4" x2="1259.8" y2="313.4" stroke="#000" stroke-width="2.6"/>
<rect x="781.0" y="369.4" width="47.0" height="1.9" fill="#fff"/>
<circle cx="800.5" cy="103.5" r="20.3" fill="#E41A1C"/>
<text x="824.7" y="106.6" font-size="19">Cluster 0</text>
<text x="966.2" y="106.6" font-size="19">ECM and cytoskeleton module</text>
<circle cx="801.5" cy="164.8" r="20.3" fill="#377EB8"/>
<text x="825.7" y="167.8" font-size="19">Cluster 1</text>
<text x="966.2" y="167.8" font-size="19">Quiescence module</text>
<circle cx="803.0" cy="223.0" r="20.3" fill="#4DAF4A"/>
<text x="827.2" y="225.1" font-size="19">Cluster 2</text>
<text x="967.5" y="227.5" font-size="19">Memory-like naive</text>
<circle cx="804.1" cy="282.2" r="20.3" fill="#984EA3"/>
<text x="828.0" y="286.0" font-size="19">Cluster 3</text>
<text x="967.5" y="286.0" font-size="19">IFN-I high module</text>
<circle cx="804.5" cy="347.7" r="20.3" fill="#FF7F00"/>
<text x="828.2" y="351.1" font-size="19">Cluster 4</text>
<text x="965.0" y="351.1" font-size="19">TCR activation and pathway</text>
<text x="0.0" y="474.6" font-size="29" font-weight="bold">B</text>
<text x="148.5" y="503.4" font-size="19" text-anchor="middle" textLength="141.0" lengthAdjust="spacingAndGlyphs">Anti VISTA (803)</text>
<text x="434.4" y="503.4" font-size="19" text-anchor="middle">hIgG</text>
<line x1="0.6" y1="520.4" x2="0.6" y2="795.6" stroke="#000" stroke-width="1.3"/>
<line x1="0.0" y1="795.0" x2="545.7" y2="795.0" stroke="#000" stroke-width="1.3"/>
<circle cx="140.1" cy="659.1" r="123.9" fill="#377EB8"/>
<path d="M140.1 659.1L128.7 535.7A123.9 123.9 0 0 1 140.1 535.2Z" fill="#E41A1C"/>
<path d="M140.1 659.1L140.1 535.2A123.9 123.9 0 0 1 209.4 556.4Z" fill="#984EA3"/>
<path d="M140.1 659.1L209.4 556.4A123.9 123.9 0 0 1 262.3 638.4Z" fill="#4DAF4A"/>
<circle cx="435.2" cy="659.1" r="123.9" fill="#E41A1C"/>
<path d="M435.2 659.1L435.2 535.2A123.9 123.9 0 0 1 461.0 537.9Z" fill="#FF7F00"/>
<path d="M435.2 659.1L461.0 537.9A123.9 123.9 0 0 1 464.8 538.8Z" fill="#377EB8"/>
<text x="299.7" y="847.9" font-size="19.5" text-anchor="middle" textLength="289.8" lengthAdjust="spacingAndGlyphs">Fraction of cells for each group</text>
<text x="610.6" y="474.6" font-size="29" font-weight="bold">C</text>
<text x="799.3" y="496.2" font-size="19" text-anchor="middle" font-style="italic" textLength="49.0" lengthAdjust="spacingAndGlyphs">CD16</text>
<line x1="644.3" y1="517.1" x2="644.3" y2="793.1" stroke="#333" stroke-width="1"/>
<line x1="643.8" y1="792.6" x2="887.5" y2="792.6" stroke="#333" stroke-width="1"/>
<line x1="640.5" y1="529.6" x2="644.3" y2="529.6" stroke="#333" stroke-width="1"/>
<text x="636.9" y="533.4" font-size="10.5" text-anchor="end" fill="#1a1a1a">5.0</text>
<line x1="640.5" y1="582.0" x2="644.3" y2="582.0" stroke="#333" stroke-width="1"/>
<text x="636.9" y="585.7" font-size="10.5" text-anchor="end" fill="#1a1a1a">2.5</text>
<line x1="640.5" y1="634.3" x2="644.3" y2="634.3" stroke="#333" stroke-width="1"/>
<text x="636.9" y="638.0" font-size="10.5" text-anchor="end" fill="#1a1a1a">0.0</text>
<line x1="640.5" y1="686.6" x2="644.3" y2="686.6" stroke="#333" stroke-width="1"/>
<text x="636.9" y="690.3" font-size="10.5" text-anchor="end" fill="#1a1a1a">−2.5</text>
<line x1="640.5" y1="738.9" x2="644.3" y2="738.9" stroke="#333" stroke-width="1"/>
<text x="636.9" y="742.6" font-size="10.5" text-anchor="end" fill="#1a1a1a">−5.0</text>
<line x1="640.5" y1="791.3" x2="644.3" y2="791.3" stroke="#333" stroke-width="1"/>
<text x="636.9" y="795.0" font-size="10.5" text-anchor="end" fill="#1a1a1a">−7.5</text>
<line x1="655.1" y1="792.6" x2="655.1" y2="795.6" stroke="#333" stroke-width="1"/>
<text x="655.1" y="807.6" font-size="10.5" text-anchor="middle" fill="#1a1a1a">−10</text>
<line x1="710.4" y1="792.6" x2="710.4" y2="795.6" stroke="#333" stroke-width="1"/>
<text x="710.4" y="807.6" font-size="10.5" text-anchor="middle" fill="#1a1a1a">−5</text>
<line x1="765.6" y1="792.6" x2="765.6" y2="795.6" stroke="#333" stroke-width="1"/>
<text x="765.6" y="807.6" font-size="10.5" text-anchor="middle" fill="#1a1a1a">0</text>
<line x1="820.9" y1="792.6" x2="820.9" y2="795.6" stroke="#333" stroke-width="1"/>
<text x="820.9" y="807.6" font-size="10.5" text-anchor="middle" fill="#1a1a1a">5</text>
<line x1="876.1" y1="792.6" x2="876.1" y2="795.6" stroke="#333" stroke-width="1"/>
<text x="876.1" y="807.6" font-size="10.5" text-anchor="middle" fill="#1a1a1a">10</text>
<text font-size="19" text-anchor="middle" textLength="57.0" lengthAdjust="spacingAndGlyphs" transform="translate(605.6 648.0) rotate(-90)">UMAP2</text>
<text x="776.0" y="829.9" font-size="19" text-anchor="middle" textLength="57.5" lengthAdjust="spacingAndGlyphs">UMAP1</text>
<path d="M719.0 603.8h0M722.2 598.0h0M731.3 594.9h0M716.9 561.7h0M721.0 587.9h0M709.6 651.6h0M696.2 677.7h0M725.6 618.3h0M698.4 590.1h0M709.1 554.3h0M709.1 674.3h0M704.7 596.3h0M726.3 557.4h0M717.8 669.9h0M704.8 579.9h0M728.0 641.1h0M724.9 560.6h0M700.6 631.7h0M713.5 554.6h0M733.7 599.4h0M690.1 591.8h0M694.3 607.5h0M712.9 586.0h0M716.7 570.2h0M728.8 630.2h0M695.9 591.6h0M735.9 629.9h0M718.5 561.3h0M691.1 597.0h0M733.2 614.0h0M708.9 585.2h0M717.4 552.9h0M702.7 624.5h0M727.2 638.3h0M718.4 644.2h0M729.0 611.2h0M734.4 599.9h0M729.1 621.1h0M720.5 659.4h0M706.7 636.1h0M728.0 573.1h0M697.0 620.6h0M714.3 603.2h0M730.7 577.8h0M723.3 567.1h0M694.0 621.4h0M711.2 569.1h0M723.0 580.4h0M703.5 606.5h0M730.7 609.8h0M710.1 631.5h0M703.5 560.6h0M725.5 656.5h0M714.5 568.1h0M725.1 625.5h0M707.2 615.3h0M720.2 637.7h0M732.9 637.2h0M696.8 577.1h0M723.0 620.7h0M702.2 593.7h0M710.1 546.0h0M704.8 578.2h0M715.6 584.7h0M721.0 574.0h0M724.5 610.1h0M718.8 572.0h0M722.4 622.5h0M701.1 620.0h0M729.2 626.9h0M706.0 553.2h0M711.9 616.6h0M730.4 591.3h0M731.7 637.2h0M724.4 628.4h0M728.8 575.8h0M713.5 669.1h0M725.3 611.2h0M728.9 573.1h0M700.1 615.2h0M749.1 624.0h0M712.5 644.8h0M707.6 579.9h0M698.7 573.1h0M717.4 615.5h0M722.8 548.7h0M729.4 618.3h0M717.4 587.1h0M726.8 625.2h0M712.2 647.1h0M727.3 593.1h0M706.7 623.5h0M694.4 586.5h0M713.5 614.3h0M716.8 648.7h0M710.3 607.3h0M717.8 630.2h0M725.4 615.1h0M703.6 587.7h0M707.1 663.5h0M712.8 669.9h0M747.9 622.1h0M710.9 627.8h0M705.1 631.8h0M715.1 627.4h0M740.7 607.3h0M701.2 574.4h0M725.1 602.4h0M695.6 590.9h0M731.1 647.9h0M722.4 572.4h0M720.9 608.2h0M748.3 626.7h0M723.2 582.1h0M716.3 667.5h0M713.7 660.1h0M708.7 542.4h0M697.0 590.9h0M692.5 619.3h0M704.3 580.4h0M700.3 572.9h0M721.6 652.5h0M723.0 606.6h0M732.1 650.7h0M713.1 569.7h0M710.6 648.5h0M707.1 605.5h0M720.9 617.1h0M724.8 606.6h0M709.9 639.6h0M718.8 579.1h0M719.4 544.5h0M727.2 618.1h0M728.4 642.1h0M708.0 635.1h0M735.8 637.3h0M733.0 580.4h0M716.0 675.7h0M722.3 592.3h0M714.1 636.9h0M716.1 582.8h0M732.2 595.9h0M711.8 589.2h0M722.4 570.8h0M700.3 573.5h0M712.6 610.7h0M725.7 580.9h0M713.7 615.6h0M723.8 603.4h0M708.0 552.1h0M731.1 642.0h0M714.0 598.7h0M702.7 616.0h0M722.3 647.4h0M718.9 626.3h0M714.6 622.8h0M722.0 607.5h0M709.9 680.0h0M736.2 598.6h0M697.0 619.9h0M692.5 583.4h0M709.1 627.1h0M716.6 565.3h0M726.5 551.5h0M697.5 606.5h0M705.1 641.4h0M714.8 633.4h0M710.6 613.5h0M719.4 653.1h0M721.0 662.9h0M702.9 590.5h0M703.7 641.2h0M713.9 589.1h0M708.6 589.8h0M717.5 608.0h0M727.8 642.0h0M707.8 602.9h0M718.1 573.5h0M720.7 659.9h0M712.7 590.0h0M721.5 562.3h0M727.5 650.5h0M704.8 612.3h0M726.6 581.3h0M717.2 618.8h0M726.0 606.5h0M729.1 606.9h0M700.3 585.5h0M713.0 654.0h0M721.1 573.6h0M719.0 575.7h0M714.4 641.7h0M703.9 648.8h0M718.7 547.5h0M712.0 584.4h0M745.2 616.4h0M701.5 604.2h0M703.1 615.8h0M713.8 676.1h0M714.5 550.4h0M713.1 663.6h0M711.1 628.1h0M710.1 572.2h0M715.0 650.6h0M709.2 623.5h0M707.0 580.1h0M708.3 634.7h0M690.3 593.6h0M702.7 586.4h0M717.4 627.6h0M710.5 611.9h0M715.7 614.4h0M704.6 671.2h0M699.0 601.2h0M715.1 631.7h0M692.6 613.3h0M710.9 648.4h0M713.6 601.5h0M729.1 593.7h0M707.6 564.1h0M698.1 610.1h0M713.9 650.5h0M723.6 594.5h0M711.4 553.5h0M734.9 585.0h0M713.1 645.0h0M704.6 648.5h0M696.6 581.1h0M739.4 613.1h0M705.9 612.0h0M734.7 636.1h0M725.5 625.2h0M732.3 651.6h0M733.0 624.8h0M692.8 580.4h0M708.1 578.0h0M710.0 682.3h0M713.7 642.2h0M707.0 629.3h0M733.9 605.9h0M720.7 667.9h0M729.5 644.3h0M713.1 647.5h0M701.9 557.8h0M692.9 605.8h0M708.4 549.8h0M717.8 563.5h0M712.2 573.5h0M723.4 568.0h0M715.5 568.9h0M725.9 651.7h0M712.6 591.0h0M736.8 605.9h0M712.6 622.2h0M714.0 639.0h0M702.3 554.3h0M717.1 542.7h0M707.5 586.2h0M701.6 633.2h0M729.8 630.6h0M722.6 600.8h0M733.3 619.9h0M713.5 652.7h0M728.9 620.7h0M716.4 555.6h0M721.3 652.6h0M704.9 566.4h0M708.1 590.3h0M739.8 611.6h0M724.7 552.8h0M713.4 670.9h0M713.5 562.1h0M703.4 594.2h0M702.1 587.2h0M710.9 640.0h0M734.0 616.7h0M713.2 657.0h0M709.8 624.5h0M716.2 564.2h0M721.4 545.6h0M704.3 598.3h0M707.6 560.8h0M736.8 597.0h0M715.0 643.4h0M708.1 584.0h0M716.2 666.9h0M716.9 637.3h0M728.2 604.0h0M713.2 580.0h0M690.6 592.3h0M718.9 640.5h0M693.2 616.8h0M703.3 630.5h0M699.6 591.3h0M705.6 567.9h0M698.3 616.5h0M724.5 605.9h0M709.3 610.1h0M722.3 643.3h0M702.9 619.6h0M716.4 597.6h0M699.3 566.7h0M699.8 607.4h0M708.1 544.9h0M709.9 615.5h0M721.2 551.9h0M712.5 622.4h0M718.0 618.7h0M693.0 608.3h0M703.5 670.6h0M720.4 653.1h0M712.6 597.0h0M728.2 597.8h0M722.7 574.5h0M705.8 647.1h0M709.2 584.0h0M710.0 566.4h0M691.5 594.5h0M735.9 626.9h0M739.4 621.9h0M718.5 620.8h0M732.3 604.6h0M708.2 546.0h0M702.0 625.1h0M716.5 632.3h0M720.3 582.9h0M696.7 575.1h0M702.8 633.9h0M726.7 608.3h0M727.3 615.1h0M705.9 578.4h0M713.0 579.5h0M720.6 652.2h0M710.0 560.4h0M725.6 604.0h0M702.1 607.3h0M734.4 632.7h0M708.1 560.1h0M723.7 647.7h0M697.9 613.5h0M707.5 611.2h0M728.4 606.9h0M712.8 568.5h0M713.8 578.7h0M725.8 631.9h0M722.7 658.8h0M721.2 657.8h0M721.3 603.8h0M712.4 583.3h0M726.7 585.6h0M722.8 602.2h0M711.9 634.5h0M705.8 599.6h0M732.7 616.6h0M705.9 616.1h0M704.7 588.0h0M706.0 555.7h0M708.7 638.8h0M715.6 539.1h0M714.5 667.7h0M710.8 568.6h0M726.4 576.1h0M714.1 676.6h0M703.9 556.9h0M711.9 547.2h0M698.9 586.9h0M713.1 665.7h0M711.6 678.0h0M696.7 608.5h0M738.4 608.3h0M703.5 672.9h0M726.2 645.1h0M719.2 597.8h0M700.7 577.0h0M702.8 567.9h0M719.7 658.9h0M728.3 631.1h0M710.4 634.2h0M715.7 605.9h0M695.4 583.3h0M720.7 549.8h0M706.3 602.0h0M694.6 612.3h0M705.3 552.7h0M721.8 634.7h0M705.8 550.0h0M710.5 570.5h0M694.9 585.5h0M701.5 586.4h0M729.9 612.6h0M701.0 592.6h0M711.1 549.5h0M710.2 644.8h0M723.7 616.9h0M702.3 599.2h0M713.0 608.6h0M716.1 624.7h0M717.2 586.0h0M723.2 658.3h0M699.1 602.9h0M734.3 618.3h0M720.0 545.2h0M734.2 620.5h0M725.5 575.2h0M733.8 594.5h0M720.5 670.9h0M720.0 596.4h0M703.1 558.2h0M715.0 553.1h0M734.3 618.9h0M718.1 640.1h0M708.4 571.5h0M744.8 617.2h0M715.2 587.7h0M730.6 586.6h0M702.5 572.9h0M711.9 580.7h0M715.4 537.0h0M693.9 601.6h0M714.3 600.5h0M737.2 598.8h0M725.7 605.6h0M706.5 602.4h0M700.9 594.5h0M707.8 566.6h0M726.5 618.5h0M712.5 573.5h0M733.9 584.9h0M706.9 633.0h0M713.8 588.2h0M706.4 613.9h0M702.9 583.0h0M718.9 638.9h0M726.3 596.0h0M704.6 592.2h0M710.4 620.1h0M700.4 634.2h0M704.2 630.5h0M693.6 582.4h0M724.3 599.6h0M711.2 541.8h0M731.8 582.2h0M707.7 602.3h0M705.5 642.6h0M709.4 598.0h0M743.0 616.7h0M729.0 589.7h0M715.3 628.4h0M723.6 609.4h0M733.1 584.9h0M716.2 606.5h0M722.8 641.1h0M698.9 628.8h0M716.7 574.1h0M701.3 618.3h0M702.9 620.2h0M726.8 592.6h0M710.6 544.7h0M730.5 648.7h0M719.6 543.7h0M730.2 595.2h0M725.7 630.1h0M705.6 645.5h0M705.2 644.4h0M729.5 630.5h0M692.9 612.4h0M709.6 665.3h0M700.2 612.1h0M725.9 649.1h0M718.7 562.5h0M702.6 590.8h0M724.1 629.4h0M721.8 628.6h0M714.9 606.1h0M713.4 580.2h0M707.7 644.5h0M702.0 629.3h0M713.8 597.1h0M727.4 554.5h0M698.5 626.5h0M729.3 643.3h0M702.8 622.2h0M706.2 632.6h0M725.1 635.8h0M721.1 581.1h0M702.6 594.6h0M715.9 660.2h0M724.3 559.1h0M727.9 563.8h0M732.9 579.2h0M726.0 561.0h0M707.5 572.5h0M705.7 597.2h0M729.2 585.3h0M707.1 618.7h0M714.2 549.9h0M720.3 633.1h0M714.9 674.7h0M698.4 624.5h0M717.1 640.7h0M693.9 585.1h0M698.9 570.5h0M731.9 617.6h0M727.7 614.2h0M704.0 589.9h0M710.8 580.1h0M699.6 605.9h0M705.3 603.8h0M710.8 625.5h0M719.4 668.1h0M741.9 613.4h0M713.9 660.1h0M697.2 583.0h0M715.1 589.4h0M712.6 589.6h0M714.2 590.1h0M714.2 667.5h0M706.0 571.7h0M712.2 615.2h0M716.6 645.1h0M728.3 638.5h0M711.3 540.5h0M698.2 565.9h0M716.5 662.9h0M719.6 571.6h0M722.5 625.0h0M717.2 617.5h0M738.3 599.6h0M722.4 655.7h0M725.2 600.0h0M700.1 564.1h0M704.9 553.7h0M704.8 592.0h0M716.9 618.3h0M718.5 585.6h0M713.0 680.6h0M713.6 638.9h0M704.4 579.4h0M708.5 618.3h0M709.3 622.0h0M703.0 554.3h0M708.9 624.6h0M705.0 577.3h0M715.3 604.5h0M732.0 636.3h0M708.6 641.7h0M718.1 608.2h0M731.8 618.0h0M723.2 565.2h0M736.5 596.3h0M713.9 544.7h0M697.9 574.5h0M709.6 555.5h0M694.7 581.6h0M712.1 672.1h0M697.4 618.6h0M715.1 615.5h0M718.5 591.5h0M703.0 578.3h0M705.0 652.3h0M707.8 671.4h0M735.2 617.9h0M721.2 646.1h0M711.2 589.3h0M721.3 554.0h0M732.5 588.7h0M733.0 604.9h0M715.0 649.0h0M716.8 584.1h0M728.0 578.5h0M711.1 675.7h0M732.7 598.9h0M711.6 538.9h0M709.6 626.6h0M715.7 565.1h0M702.1 607.4h0M708.7 552.5h0M722.8 646.7h0M712.2 645.5h0M734.9 599.4h0M699.1 603.2h0M722.7 646.3h0M694.0 586.4h0M708.5 594.9h0M706.4 563.5h0M736.3 608.1h0M723.0 549.8h0M710.1 572.5h0M722.8 643.1h0M711.6 571.5h0M729.1 594.3h0M720.1 622.0h0M709.3 563.9h0M691.6 596.2h0M713.5 551.2h0M711.9 673.2h0M717.1 595.3h0M717.7 564.7h0M705.2 627.9h0M724.6 609.2h0M702.2 613.5h0M695.2 583.3h0M714.9 539.1h0M728.8 614.6h0M727.8 592.8h0M699.9 613.0h0M721.2 552.9h0M711.7 678.8h0M718.0 558.3h0M707.7 594.2h0M699.5 601.4h0M739.6 601.5h0M717.0 666.9h0M731.1 592.3h0M717.8 561.8h0M725.5 625.8h0M706.1 596.1h0M707.2 594.6h0M705.5 559.5h0M711.3 545.4h0M730.9 639.9h0M729.3 649.1h0M698.6 573.5h0M729.0 599.0h0M725.2 651.0h0M716.6 561.3h0M727.9 605.5h0M725.2 650.3h0M707.7 601.2h0M701.3 569.0h0M701.6 674.2h0M730.1 598.1h0M727.8 641.9h0M702.0 579.1h0M728.9 605.7h0M713.3 623.7h0M735.5 596.1h0M736.4 597.7h0M735.1 623.0h0M700.0 609.9h0M699.0 632.6h0M696.2 606.1h0M709.9 545.5h0M725.2 557.4h0M720.9 642.7h0M717.1 624.1h0M729.4 617.8h0M724.4 634.8h0M717.4 582.9h0M705.9 557.1h0M725.7 609.1h0M721.5 561.3h0M710.5 613.7h0M704.6 630.9h0M702.5 614.1h0M721.9 582.8h0M727.4 575.1h0M722.8 658.9h0M695.1 605.0h0M739.0 618.7h0M717.7 608.4h0M698.1 609.8h0M706.8 545.8h0M738.3 612.9h0M732.9 639.3h0M715.2 571.8h0M722.2 665.0h0M714.8 650.0h0M733.3 624.4h0M696.3 612.4h0M704.5 571.7h0M721.4 568.5h0M701.1 609.1h0M729.8 603.5h0M733.6 603.9h0M731.2 650.1h0M728.3 621.6h0M709.4 639.2h0M730.0 576.2h0M717.9 620.7h0M725.0 609.1h0M707.6 615.8h0M701.4 610.9h0M721.0 563.8h0M692.6 601.0h0M716.2 548.9h0M707.1 606.0h0M702.0 574.9h0M724.1 648.0h0M712.3 599.5h0M722.1 575.7h0M728.1 586.5h0M711.8 558.6h0M713.9 629.2h0M700.7 625.8h0M710.8 579.5h0M748.7 625.1h0M712.8 637.6h0M717.0 615.5h0M699.1 586.1h0M715.5 544.5h0M709.1 543.9h0M723.9 587.1h0M709.7 579.1h0M708.6 668.8h0M695.9 578.1h0M721.0 643.2h0M724.0 630.3h0M714.9 563.1h0M723.8 578.4h0M699.8 590.6h0M696.4 573.2h0M716.7 594.9h0M711.6 588.1h0M717.3 608.0h0M728.6 580.3h0M714.3 627.7h0M718.6 646.4h0M728.2 613.6h0M700.9 610.7h0M730.7 585.0h0M717.3 619.2h0M719.3 576.5h0M694.0 579.2h0M697.5 574.4h0M729.7 591.5h0M704.8 675.6h0M699.9 578.4h0M718.4 621.5h0M707.3 554.2h0M725.2 579.6h0M732.2 620.4h0M712.3 577.7h0M707.2 615.7h0M690.9 597.2h0M693.6 603.3h0M719.7 632.5h0M707.2 594.5h0M702.5 600.0h0M724.4 551.4h0M712.3 646.9h0M700.6 672.8h0M721.0 590.0h0M711.4 585.6h0M739.3 612.5h0M698.3 673.5h0M703.1 598.6h0M711.7 666.1h0M728.4 564.5h0M711.8 548.8h0M698.0 611.0h0M726.7 640.2h0M714.4 674.5h0M724.7 590.8h0M728.9 650.3h0M708.8 598.3h0M724.9 651.0h0M694.2 599.0h0M713.0 639.9h0M720.9 566.2h0M701.3 622.9h0M705.9 613.8h0M726.8 588.8h0M701.4 610.4h0M702.3 593.5h0M719.0 672.1h0M694.9 595.9h0M722.9 611.2h0M716.8 567.5h0M704.7 615.3h0M728.6 573.9h0M730.4 577.2h0M707.7 670.3h0M726.1 637.9h0M698.0 610.2h0M724.8 565.9h0M711.6 613.4h0M695.2 591.6h0M701.8 619.3h0M702.3 599.9h0M716.1 636.3h0M697.0 593.5h0M728.9 596.6h0M699.0 620.6h0M703.8 582.7h0M707.6 608.5h0M706.8 619.8h0M711.9 656.0h0M715.5 561.7h0M719.6 599.0h0M718.4 647.7h0M702.6 600.6h0M700.5 639.7h0M711.6 622.6h0M703.5 637.1h0M696.9 620.2h0M691.6 605.3h0M738.1 606.2h0M715.0 559.2h0M710.0 678.9h0M706.3 571.4h0M717.2 599.8h0M723.6 574.2h0M707.0 574.1h0M725.3 627.0h0M693.9 602.5h0M710.9 621.6h0M718.3 546.8h0M701.8 624.5h0M716.5 612.3h0M714.0 649.3h0M710.7 546.8h0M732.8 595.5h0M716.1 551.8h0M710.5 620.4h0M695.6 604.8h0M709.4 603.9h0M702.9 593.8h0M695.0 594.9h0M727.4 557.4h0M714.6 542.7h0M730.2 634.8h0M703.9 593.8h0M701.9 669.5h0M736.1 597.6h0M712.2 540.0h0M733.6 615.2h0M707.2 641.3h0M711.7 615.3h0M700.3 590.6h0M733.2 624.5h0M717.9 558.5h0M703.9 582.4h0M749.3 622.3h0M710.2 639.6h0M708.1 628.3h0M723.7 577.9h0M732.2 592.0h0M703.6 563.1h0M734.8 605.3h0M716.1 652.2h0M709.9 598.4h0M743.1 613.3h0M714.5 561.5h0M693.5 616.0h0M724.4 583.2h0M706.0 544.1h0M711.7 576.0h0M721.2 593.3h0M700.2 601.3h0M713.8 648.4h0M718.5 545.5h0M721.5 666.9h0M713.6 619.0h0M700.4 585.7h0M720.7 626.7h0M704.6 599.5h0M729.6 609.9h0M701.8 630.3h0M718.5 638.9h0M717.7 632.5h0M706.8 549.5h0M724.5 553.0h0M728.4 609.8h0M716.4 563.9h0M732.7 633.8h0M733.0 613.1h0M714.2 580.8h0M721.9 645.2h0M708.5 647.4h0M714.3 623.3h0M697.7 594.3h0M727.7 607.0h0M728.7 572.7h0M742.1 616.9h0M694.6 619.8h0M721.2 616.8h0M705.3 591.6h0M717.8 598.0h0M697.0 582.4h0M709.3 544.8h0M712.4 607.4h0M720.1 615.5h0M726.3 602.4h0M716.4 623.0h0M708.7 605.5h0M716.2 666.7h0M714.7 584.1h0M715.7 581.4h0M720.9 641.3h0M724.7 623.4h0M704.2 637.1h0M706.2 642.4h0M726.2 597.1h0M712.4 554.9h0M726.1 608.1h0M733.7 599.8h0M710.6 638.6h0M724.1 610.4h0M721.5 638.6h0M722.4 623.3h0M725.0 622.2h0M723.2 632.0h0M718.4 646.5h0M692.3 586.6h0M709.4 646.1h0M733.1 647.8h0M721.2 645.7h0M726.4 603.0h0M716.3 626.2h0M722.9 571.9h0M731.5 647.2h0M711.0 548.5h0M702.9 578.1h0M723.8 659.1h0M706.5 591.2h0M713.3 548.0h0M731.2 635.3h0M700.7 605.0h0M731.5 616.6h0M698.6 562.2h0M736.2 626.9h0M731.4 623.2h0M714.3 673.6h0M715.3 554.9h0M712.0 650.3h0M733.3 579.7h0M721.4 643.6h0M706.2 623.9h0M731.4 629.7h0M715.4 577.7h0M720.1 562.5h0M711.7 633.6h0M717.3 554.6h0M734.2 584.8h0M699.5 561.2h0M715.0 550.9h0M693.1 616.5h0M712.4 562.7h0M711.5 633.1h0M691.9 586.6h0M701.0 587.2h0M707.7 642.0h0M702.9 630.1h0M708.3 642.2h0M736.9 622.5h0M701.7 593.7h0M721.2 577.0h0M722.7 549.9h0M717.6 544.4h0M725.9 606.4h0M700.6 581.9h0M710.5 636.8h0M713.2 624.7h0M704.0 618.7h0M701.6 576.6h0M723.6 609.8h0M694.8 620.6h0M704.0 597.2h0M720.4 569.0h0M708.2 592.4h0M731.3 582.7h0M725.3 585.7h0M697.1 599.0h0M706.1 670.7h0M708.1 638.2h0M699.2 591.9h0M701.8 670.5h0M712.5 590.7h0M698.8 574.2h0M706.9 549.3h0M704.4 611.3h0M702.3 583.3h0M725.4 614.0h0M718.6 661.7h0M719.5 575.6h0M731.5 647.8h0M730.6 578.0h0M700.5 609.9h0M716.3 660.5h0M700.3 616.4h0M722.8 645.4h0M733.6 588.2h0M734.8 650.2h0M703.3 570.0h0M711.7 542.1h0M710.6 638.3h0M708.6 636.7h0M709.5 583.2h0M709.5 648.2h0M696.9 587.5h0M712.7 569.3h0M693.9 592.5h0M712.7 684.0h0M693.0 598.1h0M699.6 631.7h0M718.7 610.4h0M703.7 568.9h0M704.9 589.6h0M693.1 582.3h0M700.0 590.5h0M702.1 570.1h0M702.7 583.9h0M721.5 632.1h0M715.6 563.2h0M714.6 604.9h0M714.8 628.4h0M711.5 569.3h0M700.1 558.5h0M719.1 606.0h0M719.1 615.9h0M724.2 647.3h0M718.6 616.9h0M720.4 620.0h0M707.7 645.3h0M728.3 611.0h0M706.8 640.5h0M721.9 640.4h0M713.6 668.7h0M701.2 563.6h0M716.5 566.6h0M724.8 623.7h0M714.8 630.2h0M731.2 594.5h0M703.9 607.7h0M716.4 588.2h0M733.7 631.7h0M724.2 652.8h0M709.4 616.5h0M704.5 576.8h0M708.9 624.5h0M724.8 647.7h0M719.8 604.1h0M697.0 576.5h0M706.2 666.2h0M721.5 606.1h0M694.7 616.9h0M709.9 600.8h0M714.9 612.4h0M703.5 589.0h0M732.2 599.6h0M716.9 623.6h0M722.1 644.0h0M713.2 565.8h0M701.0 582.2h0M731.8 607.2h0M720.2 592.5h0M729.6 597.5h0M728.2 637.3h0M717.0 611.8h0M718.7 573.5h0M712.5 613.8h0M732.8 649.6h0M730.5 651.5h0M729.1 618.5h0M701.3 566.6h0M722.5 617.8h0M702.3 606.8h0M691.6 586.8h0M696.2 581.9h0M711.6 551.0h0M720.8 613.6h0M713.5 648.8h0M728.1 601.2h0M725.2 583.6h0M721.0 545.5h0M737.9 619.6h0M724.7 653.5h0M708.8 671.7h0M730.4 580.5h0M701.8 629.7h0M712.1 570.4h0M716.7 583.2h0M712.0 649.1h0M736.4 597.2h0M725.0 590.0h0M692.0 586.1h0M710.6 597.9h0M698.2 590.3h0M726.8 607.6h0M729.6 605.9h0M718.0 631.5h0M722.0 614.8h0M710.7 596.5h0M730.6 584.3h0M721.8 619.5h0M696.6 612.8h0M726.1 582.7h0M700.7 564.7h0M700.3 567.5h0M737.7 611.2h0M703.9 620.3h0M703.2 628.8h0M709.0 617.0h0M711.2 624.4h0M727.1 583.5h0M710.8 582.0h0M716.5 650.5h0M719.3 607.9h0M722.7 658.7h0M718.1 610.5h0M717.0 623.0h0M731.4 603.8h0M721.0 546.9h0M715.2 540.4h0M719.4 662.8h0M723.3 654.8h0M713.0 558.3h0M704.1 554.1h0M714.2 663.3h0M724.5 548.3h0M711.7 675.2h0M709.5 667.4h0M716.7 649.1h0M718.3 668.8h0M705.7 575.0h0M717.0 632.2h0M712.9 610.0h0M710.6 554.9h0M720.9 560.9h0M716.2 669.9h0M734.8 643.0h0M720.8 567.4h0M715.3 653.0h0M716.7 570.8h0M730.6 625.7h0M717.4 563.9h0M716.3 634.8h0M728.1 632.0h0M716.4 566.3h0M716.7 565.0h0M715.4 672.8h0M716.1 654.8h0M705.4 572.7h0M719.8 586.9h0M708.4 585.2h0M718.8 657.9h0M710.4 630.0h0M718.1 671.9h0M718.1 572.2h0M719.3 546.9h0M733.8 612.3h0M716.0 658.0h0M715.9 663.3h0M708.0 561.8h0M712.5 668.3h0M720.3 656.2h0M718.5 608.4h0M715.9 662.8h0M720.2 658.4h0M718.8 577.2h0M716.1 593.0h0M717.3 656.1h0M697.4 625.6h0M710.0 634.3h0M713.8 665.1h0M708.0 558.8h0M707.4 596.2h0M714.3 619.7h0M708.6 634.2h0M718.0 650.2h0M706.5 563.9h0M708.8 605.7h0M714.8 668.7h0M704.4 558.5h0M720.8 661.0h0M718.8 660.1h0M704.0 600.1h0M720.5 658.0h0M719.0 610.4h0M725.1 636.3h0M705.2 558.1h0M707.7 580.8h0M709.2 578.3h0M709.2 602.0h0M713.5 664.0h0M707.1 557.8h0M719.8 591.5h0M726.6 640.6h0M709.5 595.2h0M714.7 655.5h0M723.2 582.5h0M716.7 640.1h0M709.2 587.6h0M706.9 564.8h0M718.9 611.5h0M706.0 589.7h0M710.3 647.5h0M719.3 659.9h0M710.0 555.7h0M716.4 569.1h0M706.6 553.7h0M723.1 652.1h0M714.0 640.9h0M721.7 636.4h0M710.7 542.5h0M713.9 577.5h0M710.8 561.0h0M709.1 553.0h0M719.5 626.8h0M731.9 620.5h0M709.2 615.0h0M722.5 584.2h0M726.2 624.4h0M718.3 625.1h0M733.0 595.7h0M718.4 623.0h0M720.4 656.0h0M719.3 639.0h0M717.6 661.4h0M712.3 662.0h0M712.8 671.5h0M714.9 551.8h0M728.1 576.4h0M713.9 601.0h0M718.9 670.8h0M714.4 665.3h0M706.4 566.9h0M720.5 659.1h0M721.4 612.4h0M724.6 633.4h0M712.7 544.9h0M709.5 666.0h0M716.5 618.6h0M714.9 662.1h0M708.9 664.1h0M717.4 664.0h0M713.7 614.3h0M711.1 651.0h0M700.7 563.7h0M728.2 598.1h0M712.4 653.3h0M705.5 607.0h0M724.9 611.3h0M716.1 667.2h0M709.3 570.3h0M724.2 589.8h0M720.5 649.2h0M708.3 652.5h0M724.8 612.7h0M711.1 648.3h0M708.6 572.6h0M717.8 657.9h0M736.2 592.9h0M719.1 639.8h0M718.3 652.2h0M711.5 668.1h0M732.1 631.1h0M707.2 559.7h0M702.0 593.7h0M713.3 542.6h0M720.7 653.9h0M732.0 588.8h0M709.3 565.7h0M719.3 671.0h0M719.8 658.5h0M714.8 609.2h0M720.3 659.6h0M713.0 538.9h0M700.0 571.3h0M707.4 557.6h0M718.9 562.2h0M717.9 655.0h0M717.9 599.9h0M711.0 619.2h0M718.2 565.8h0M699.5 567.5h0M712.3 605.3h0M713.8 676.1h0M722.3 628.1h0M704.5 567.7h0M706.9 554.5h0M721.3 653.7h0M726.1 612.7h0M721.9 663.2h0M714.6 658.4h0M711.1 588.2h0M719.0 658.3h0M699.9 621.3h0M697.7 571.2h0M731.4 617.9h0M729.8 634.7h0M716.1 554.4h0M732.4 617.1h0M720.9 630.4h0M718.1 667.8h0M711.4 565.7h0M710.1 558.7h0M707.1 565.7h0M721.1 661.7h0M719.3 630.3h0M705.7 582.8h0M713.3 572.3h0M717.2 654.8h0M721.8 625.4h0M705.2 556.0h0M717.6 638.7h0M717.5 664.2h0M703.7 605.2h0M710.6 633.8h0M710.8 670.8h0M710.9 614.9h0M715.1 627.8h0M728.5 586.9h0M719.7 626.6h0M712.3 602.5h0M711.6 635.6h0M707.2 562.7h0M704.4 567.4h0M707.2 566.3h0M716.2 569.2h0M703.4 573.3h0M716.8 556.4h0M717.7 666.5h0M712.2 565.1h0M714.6 633.6h0M715.4 562.7h0M709.5 644.1h0M722.2 563.4h0M712.7 658.1h0M722.3 611.1h0M725.6 606.0h0M713.9 622.3h0M731.9 633.4h0M709.3 570.4h0M718.3 660.8h0M712.0 568.0h0M722.7 601.0h0M719.5 642.2h0M717.4 667.7h0M712.0 637.1h0M716.2 667.8h0M709.3 671.9h0M722.3 656.5h0M705.0 570.7h0M708.9 619.5h0M717.2 592.2h0M709.5 543.9h0M719.2 618.2h0M712.7 548.7h0M714.5 649.7h0M707.9 559.4h0M700.0 584.0h0M711.8 657.3h0M709.1 541.0h0M721.6 547.9h0M709.4 663.4h0M702.6 554.5h0M718.0 605.0h0M724.9 611.7h0M710.3 558.6h0M707.2 562.5h0M721.2 647.2h0M724.7 598.2h0M704.7 560.9h0M719.6 601.4h0M706.4 621.5h0M710.6 627.7h0M715.2 647.2h0M708.4 583.8h0M719.3 666.2h0M708.0 569.6h0M712.6 568.4h0M716.0 675.6h0M705.6 554.1h0M702.2 672.5h0M716.8 567.3h0M710.6 635.3h0M723.5 560.9h0M726.3 608.2h0M706.5 618.1h0M723.7 655.4h0M724.1 571.0h0M701.5 587.5h0M714.9 579.5h0M712.4 571.1h0M723.7 609.6h0M703.6 674.9h0M707.7 556.4h0M719.2 652.9h0M713.5 677.7h0M727.2 627.7h0M716.0 666.3h0M713.7 564.5h0M720.0 647.9h0M707.2 552.7h0M730.6 619.9h0M714.0 606.2h0M720.9 647.3h0M729.0 646.1h0M714.8 668.2h0M718.0 614.9h0M696.4 617.3h0M709.2 622.8h0M725.5 615.3h0M735.1 633.4h0M717.2 632.8h0M711.5 569.3h0M719.3 640.6h0M713.3 556.8h0M712.0 541.2h0M701.4 580.6h0M727.9 600.7h0M712.8 626.2h0M718.3 652.9h0M706.8 648.5h0M718.0 614.0h0M708.7 559.9h0M710.1 678.1h0M699.8 575.4h0M712.8 666.2h0M716.8 604.6h0M706.8 560.3h0M723.1 638.1h0M717.3 619.2h0M715.0 562.7h0M718.6 649.6h0M710.0 597.7h0M724.4 647.6h0M711.2 539.6h0M705.3 551.3h0M717.4 639.7h0M730.2 573.2h0M721.1 612.0h0M728.2 648.0h0M713.7 611.0h0M713.8 664.1h0M721.4 609.9h0M709.5 567.9h0M715.8 579.3h0M708.4 559.4h0M720.7 621.5h0M721.6 590.5h0M714.2 571.3h0M718.8 658.7h0M711.8 538.8h0M722.0 626.5h0M725.2 559.4h0M701.9 562.2h0M709.8 668.1h0M723.5 638.8h0M727.4 587.4h0M708.9 554.8h0M714.5 605.5h0M702.9 625.8h0M733.0 585.6h0M718.1 660.7h0M706.2 609.9h0M708.1 642.2h0M724.0 579.9h0M703.0 573.5h0M718.4 544.0h0M712.3 582.2h0M723.2 633.4h0M721.8 649.1h0M720.7 668.6h0M712.2 551.0h0M707.4 556.9h0M715.4 599.6h0M727.7 594.8h0M730.4 607.4h0M704.3 560.9h0M720.7 595.8h0M725.0 642.1h0M715.9 572.8h0M718.9 615.4h0M718.7 607.0h0M723.7 626.3h0M730.8 611.5h0M714.1 639.2h0M706.5 609.3h0M705.5 594.6h0M717.1 567.6h0M725.6 571.6h0M712.4 574.7h0M719.7 655.7h0M710.2 625.4h0M700.5 583.7h0M727.3 647.5h0M715.7 665.6h0M714.2 679.8h0M706.2 555.6h0M726.5 594.6h0M715.1 571.3h0M722.5 662.4h0M709.6 607.6h0M716.3 566.5h0M726.1 644.6h0M710.1 603.7h0M724.0 553.6h0M711.1 556.4h0M723.3 652.6h0M718.5 666.2h0M709.0 570.5h0M733.1 636.0h0M702.4 569.4h0M721.3 607.9h0M711.3 669.7h0M726.8 580.6h0M719.2 630.1h0M722.6 664.0h0M713.5 565.3h0M721.6 595.9h0M701.3 554.4h0M712.1 673.0h0M726.6 637.3h0M728.9 644.7h0M705.2 616.9h0M710.2 640.7h0M717.2 659.1h0M702.5 560.4h0M720.0 560.7h0M717.9 605.4h0M710.2 561.8h0M723.4 580.4h0M722.0 647.0h0M716.5 578.2h0M714.8 601.4h0M710.7 546.7h0M713.1 562.9h0M716.1 625.5h0M718.4 609.3h0M725.3 571.4h0M715.5 563.9h0M719.9 640.0h0M704.8 586.6h0M718.2 663.4h0M712.4 661.1h0M718.8 570.2h0M703.7 637.4h0M715.9 661.2h0M719.9 648.6h0M708.6 569.6h0M721.2 661.7h0M707.8 607.0h0M722.0 617.6h0M721.7 656.7h0M708.4 543.2h0M715.9 616.6h0M707.8 626.6h0M712.3 588.3h0M718.6 661.0h0M716.3 640.1h0M709.9 625.6h0M716.5 671.0h0M715.3 561.3h0M713.6 560.6h0M711.0 544.7h0M717.3 660.6h0M710.8 571.0h0M716.1 575.4h0M701.8 610.6h0M720.9 619.9h0M711.8 641.4h0M727.0 613.3h0M718.6 668.2h0M723.7 576.1h0M717.7 618.9h0M701.7 635.0h0M710.9 563.1h0M716.5 559.9h0M710.9 560.0h0M709.7 556.1h0M697.8 583.2h0M708.8 556.4h0M715.3 635.6h0M710.9 671.4h0M702.1 576.6h0M709.9 601.1h0M712.6 675.1h0M722.7 661.9h0M713.9 604.8h0M708.5 586.5h0M715.5 657.0h0M706.5 542.6h0M713.7 573.7h0M730.8 596.7h0M715.2 656.2h0M724.8 657.2h0M702.8 567.0h0M708.7 584.0h0M722.3 647.7h0M723.5 577.4h0M708.7 674.2h0M704.0 572.9h0M710.1 563.8h0M724.2 655.1h0M717.8 662.5h0M711.2 551.1h0M716.3 580.3h0M707.0 567.9h0M726.6 652.6h0M711.5 575.7h0M714.4 664.1h0M716.2 620.4h0M722.3 606.8h0M721.3 651.9h0M709.2 679.6h0M710.0 635.0h0M731.1 628.3h0M707.1 629.7h0M701.4 600.9h0M701.2 558.3h0M710.1 582.5h0M708.1 669.9h0M706.8 635.0h0M716.4 631.0h0M722.5 562.4h0M715.5 551.5h0M727.6 618.4h0M719.2 667.5h0M720.9 587.6h0M712.3 554.4h0M713.4 546.3h0M709.4 579.6h0M718.1 574.3h0M708.2 605.9h0M705.0 578.9h0M715.4 665.9h0M719.7 666.1h0M715.3 564.1h0M717.0 640.9h0M702.4 559.0h0M716.9 556.0h0M720.8 635.9h0M710.8 570.5h0M726.6 626.6h0M708.8 561.5h0M717.2 563.1h0M727.4 637.7h0M712.1 554.6h0M703.7 626.3h0M722.1 664.2h0M711.9 663.7h0M727.3 649.3h0M717.0 632.4h0M712.3 600.7h0M715.6 595.7h0M707.8 549.8h0M704.3 592.1h0M711.3 549.0h0M721.6 659.8h0M727.2 601.2h0M716.4 671.3h0M707.5 557.9h0M716.4 667.6h0M698.8 564.2h0M715.6 661.7h0M710.6 663.1h0M720.6 657.1h0M717.4 672.0h0M719.8 664.0h0M711.9 629.5h0M724.4 604.6h0M734.5 635.6h0M709.9 560.6h0M717.5 566.6h0M712.1 555.9h0M713.1 574.0h0M713.8 550.0h0M711.8 553.9h0M708.3 548.6h0M711.4 598.7h0M729.7 617.0h0M722.4 652.7h0M708.5 577.9h0M705.0 549.2h0M721.3 616.5h0M705.7 628.6h0M702.1 574.8h0M724.4 570.8h0M733.0 636.3h0M706.2 595.9h0M709.3 544.4h0M713.0 627.5h0M714.7 561.5h0M730.5 600.8h0M710.3 549.5h0M720.9 603.6h0M696.4 579.1h0M718.1 651.6h0M712.8 566.5h0M709.3 635.7h0M715.0 542.6h0M708.6 643.8h0M702.7 614.8h0M747.1 558.1h0M743.3 566.2h0M740.8 539.0h0M743.0 561.6h0M746.0 534.4h0M743.2 551.5h0M744.9 558.3h0M756.9 560.2h0M738.2 541.3h0M749.7 541.8h0M749.6 546.6h0M745.0 536.0h0M744.0 566.4h0M753.4 550.3h0M740.6 540.1h0M743.8 554.8h0M749.3 540.8h0M742.7 563.8h0M755.1 559.4h0M745.0 571.3h0M746.3 550.6h0M751.2 542.6h0M751.9 545.7h0M751.5 548.5h0M748.5 543.2h0M753.3 551.8h0M745.1 566.5h0M746.4 533.9h0M748.9 552.4h0M739.7 538.8h0M744.7 552.7h0M750.8 540.1h0M759.3 560.7h0M746.5 544.6h0M749.1 563.3h0M748.0 543.6h0M749.8 549.7h0M745.7 576.0h0M744.3 574.7h0M748.5 567.6h0M742.1 562.9h0M755.4 563.9h0M756.8 559.8h0M752.5 542.3h0M758.4 558.1h0M745.0 567.7h0M750.2 551.0h0M755.4 552.6h0M748.0 573.7h0M756.0 560.2h0M748.6 553.6h0M740.3 546.1h0M754.4 562.8h0M740.3 557.5h0M743.1 568.8h0M746.9 547.7h0M743.2 558.1h0M743.0 562.6h0M751.4 554.2h0M747.2 556.0h0M740.7 564.0h0M747.7 565.5h0M743.1 565.7h0M750.1 552.2h0M744.4 556.6h0M752.0 541.2h0M744.1 565.1h0M747.5 536.4h0M741.0 554.5h0M741.5 539.8h0M741.2 552.7h0M755.1 550.0h0M744.0 573.1h0M746.3 557.7h0M756.1 559.8h0M746.7 581.5h0M737.8 555.6h0M750.0 536.9h0M747.1 564.9h0M750.1 547.6h0M743.7 573.0h0M741.5 540.7h0M745.3 549.4h0M748.9 560.1h0M754.3 564.9h0M748.7 558.9h0M745.9 536.5h0M752.3 553.0h0M743.8 572.3h0M742.3 546.8h0M748.9 538.8h0M747.8 560.4h0M743.2 554.6h0M745.5 547.9h0M756.9 558.4h0M749.4 560.7h0M740.6 548.9h0M749.1 563.9h0M744.0 552.9h0M738.7 560.2h0M742.5 572.9h0M759.0 560.9h0M740.5 540.3h0M757.2 558.4h0M745.1 556.2h0M742.5 572.7h0M739.1 543.9h0M740.3 538.3h0M745.5 564.2h0M748.3 541.1h0M746.4 576.6h0M749.0 576.6h0M740.9 564.7h0M745.7 552.1h0M739.9 554.2h0M743.9 562.4h0M739.4 548.8h0M739.8 559.6h0M747.9 545.3h0M745.3 569.7h0M743.6 555.3h0M756.5 560.1h0M745.2 564.3h0M747.3 573.4h0M753.5 554.4h0M744.2 538.7h0M751.1 558.1h0M746.7 543.3h0M745.1 537.4h0M743.1 555.1h0M757.0 560.9h0M744.6 556.3h0M758.4 560.8h0M747.6 568.8h0M746.9 535.0h0M738.5 547.6h0M742.6 562.3h0M750.0 545.2h0M742.6 553.9h0M755.4 548.5h0M744.4 563.7h0M749.2 544.7h0M746.5 563.3h0M747.5 562.1h0M739.0 536.8h0M745.1 555.4h0M745.8 569.8h0M746.6 569.0h0M739.8 538.6h0M744.3 569.7h0M747.1 568.7h0M741.9 544.0h0M750.9 545.5h0M744.2 572.3h0M748.5 551.3h0M751.2 556.8h0M746.5 552.0h0M745.3 561.8h0M740.6 555.3h0M746.2 569.3h0M746.4 547.9h0M752.3 549.5h0M740.2 550.2h0M746.1 552.6h0M747.0 548.4h0M742.0 547.0h0M747.7 540.4h0M745.7 541.4h0M739.2 541.9h0M746.0 549.6h0M743.8 543.0h0M744.2 548.0h0M744.8 553.3h0M750.1 548.9h0M746.9 546.9h0M742.5 546.9h0M738.7 540.2h0M743.1 552.9h0M751.5 542.3h0M745.3 545.8h0M746.7 540.3h0M742.0 558.1h0M741.1 549.7h0M748.1 541.8h0M746.7 543.8h0M744.1 537.3h0M739.4 538.5h0M744.0 544.4h0M747.7 544.9h0M745.8 551.9h0M743.7 547.5h0M745.5 550.8h0M744.8 549.2h0M748.4 545.5h0M740.7 555.3h0M747.8 555.7h0M748.3 542.7h0M748.0 540.1h0M746.7 549.5h0M747.6 555.2h0M742.5 547.8h0M752.9 542.9h0M739.6 538.9h0M741.5 552.6h0M743.1 544.7h0M742.4 555.3h0M740.4 544.7h0M747.4 549.4h0M746.6 545.4h0M744.5 541.8h0M742.5 539.1h0M739.9 556.6h0M748.6 550.4h0M748.5 548.1h0M743.3 555.9h0M739.7 547.0h0M746.5 541.0h0M744.7 544.1h0M740.2 550.2h0M747.9 551.5h0M744.5 550.0h0M745.0 541.2h0M747.3 552.9h0M751.8 545.1h0M744.1 549.2h0M748.9 543.0h0M746.5 546.4h0M749.7 547.7h0M741.5 537.2h0M747.3 545.6h0M745.7 549.2h0M748.8 558.8h0M742.9 540.2h0M740.5 547.3h0M747.1 541.1h0M740.9 536.5h0M740.0 545.6h0M745.0 539.8h0M743.7 548.0h0M744.4 541.9h0M752.8 539.0h0M739.1 553.4h0M741.7 550.0h0M742.8 539.0h0M740.7 548.5h0M740.7 548.4h0M747.0 545.8h0M746.1 548.5h0M745.4 539.0h0M747.1 537.7h0M741.7 554.5h0M741.2 556.8h0M742.8 546.7h0M739.8 547.4h0M742.7 547.1h0M742.9 542.5h0M749.8 543.4h0M745.2 544.0h0M743.8 550.2h0M742.9 534.8h0M747.1 540.0h0M743.1 542.3h0M749.3 542.8h0M743.2 546.1h0M743.8 543.2h0M752.0 545.4h0M744.0 617.7h0M749.2 621.5h0M747.6 621.2h0M748.0 619.6h0M751.1 622.1h0M745.5 619.4h0M744.4 620.8h0M749.3 621.1h0M742.8 623.5h0M748.3 618.8h0M744.5 620.8h0M746.4 619.1h0M748.8 620.8h0M746.1 618.3h0M748.0 618.8h0M747.0 619.8h0M751.2 621.2h0M746.9 620.4h0M732.4 537.7h0M730.6 545.9h0M733.7 558.9h0M735.6 554.7h0M732.4 568.3h0M731.5 575.3h0M735.1 538.9h0M736.5 550.0h0M736.9 560.0h0M738.7 631.2h0M727.8 667.1h0M725.1 663.5h0M732.4 664.7h0M698.7 650.6h0M683.2 599.4h0M685.5 600.0h0M687.8 596.5h0M689.6 602.4h0M686.9 594.2h0M699.2 673.4h0M703.3 672.5h0M707.7 663.5h0M706.0 664.0h0M697.6 674.8h0M706.6 671.2h0M707.0 664.7h0M702.5 670.5h0M701.8 671.1h0M710.0 666.8h0M706.8 667.6h0M705.8 666.9h0M700.4 674.0h0M709.0 665.8h0M709.0 664.6h0M696.4 677.8h0M705.7 667.0h0M697.6 674.0h0M703.7 669.2h0M706.4 665.3h0M708.5 664.4h0M701.0 674.5h0M707.4 666.8h0M701.8 671.6h0M705.1 665.2h0M708.4 666.8h0M706.3 671.8h0M703.7 671.4h0M698.7 674.4h0M696.7 676.1h0M707.7 667.3h0M705.5 668.5h0M695.7 680.7h0M703.2 670.8h0M698.8 677.3h0M700.5 671.5h0M704.2 675.2h0M708.6 668.1h0M707.9 668.2h0M708.7 664.6h0M697.3 674.9h0M707.3 665.4h0M705.8 672.4h0M707.3 665.4h0M702.8 669.3h0M672.6 596.5h0M671.1 592.2h0M670.3 589.7h0M665.2 584.7h0M667.7 575.7h0M662.7 586.7h0M660.1 590.5h0M662.1 579.4h0M667.1 592.0h0M675.6 596.4h0M674.4 593.9h0M669.8 588.1h0M672.6 587.7h0M670.0 587.2h0M668.1 594.1h0M666.0 592.0h0M672.2 597.5h0M665.0 581.0h0M663.1 578.5h0M660.3 583.2h0M678.4 597.6h0M677.6 593.1h0M669.7 594.9h0M666.0 588.3h0M679.7 598.0h0M666.6 581.9h0M675.3 590.7h0M661.3 584.4h0M664.1 581.5h0M672.6 592.7h0M667.3 590.6h0M678.9 599.1h0M666.9 573.1h0M663.5 581.8h0M669.5 589.1h0M675.9 590.1h0M663.5 592.8h0M673.0 583.9h0M680.4 597.1h0M672.7 595.2h0M674.6 600.2h0M671.8 583.5h0M679.5 594.2h0M666.7 588.1h0M667.6 581.3h0M675.4 598.5h0M677.3 595.8h0M663.3 585.1h0M662.0 581.1h0M666.0 589.0h0M668.0 596.9h0M668.4 580.4h0M675.7 598.3h0M662.4 587.6h0M675.9 588.0h0M678.0 591.5h0M671.6 582.3h0M665.1 578.8h0M669.4 581.5h0M666.3 587.4h0M659.8 587.1h0M664.2 590.7h0M670.7 583.1h0M660.9 583.8h0M670.0 584.9h0M664.1 580.2h0M665.4 593.4h0M670.7 581.4h0M674.6 587.0h0M664.0 570.9h0M665.4 593.5h0M664.5 589.7h0M662.7 583.9h0M666.9 595.5h0M674.7 593.3h0M665.7 589.3h0M669.5 577.5h0M675.9 593.2h0M680.9 596.1h0M662.4 580.1h0M667.7 590.3h0M664.7 574.3h0M665.7 587.9h0M661.8 587.0h0M661.3 585.4h0M663.7 575.4h0M662.9 579.2h0M667.4 597.9h0M664.9 580.6h0M676.5 594.9h0M664.0 589.5h0M663.7 584.7h0M667.9 595.1h0M664.5 576.5h0M671.0 582.1h0M664.3 584.7h0M675.3 598.5h0M663.6 589.2h0M660.7 586.9h0M682.6 597.7h0M680.4 596.6h0M664.4 587.1h0M661.2 574.5h0M668.3 596.8h0M668.3 598.3h0M667.3 577.9h0M676.5 595.3h0M662.1 592.1h0M675.6 597.0h0M672.3 588.5h0M667.7 593.1h0M662.1 587.6h0M668.2 584.8h0M669.1 590.7h0M668.4 576.4h0M670.5 595.6h0M664.1 573.8h0M664.6 579.6h0M675.0 595.6h0M665.5 575.8h0M665.7 578.2h0M679.5 598.0h0M661.1 591.1h0M663.7 585.5h0M667.2 584.1h0M664.7 590.7h0M666.4 595.4h0M671.1 580.1h0M662.8 576.1h0M682.7 597.9h0M663.0 583.1h0M665.3 589.9h0M659.9 578.9h0M665.7 580.9h0M665.3 579.2h0M666.1 597.3h0M665.7 597.3h0M669.3 583.5h0M666.9 589.8h0M661.5 578.1h0M670.0 588.8h0M671.1 583.8h0M669.3 583.9h0M669.4 597.2h0M669.6 579.5h0M673.5 590.5h0M668.3 585.2h0M666.2 581.0h0M663.0 575.2h0M673.2 587.5h0M667.7 595.8h0M662.4 587.5h0M668.9 587.9h0M662.5 575.1h0M672.4 589.6h0M672.2 583.1h0M668.3 584.4h0M667.8 585.0h0M663.8 590.0h0M659.8 584.5h0M671.5 582.8h0M664.1 574.8h0M673.1 596.9h0M662.8 583.4h0M665.2 587.4h0M674.7 595.8h0M670.9 590.6h0M674.7 589.3h0M664.6 588.8h0M662.0 581.1h0M660.9 590.2h0M659.9 589.0h0M677.9 593.4h0M670.1 582.8h0M668.4 579.2h0M665.5 592.9h0M660.5 576.9h0M678.3 594.6h0M666.2 595.9h0M663.6 574.4h0M665.8 573.7h0M669.3 585.0h0M671.0 586.8h0M670.8 588.8h0M669.4 584.9h0M673.1 586.8h0M662.7 580.3h0M664.2 585.2h0M664.9 578.9h0M667.3 589.2h0M666.8 579.9h0M666.9 574.1h0M662.9 588.1h0M670.7 580.6h0M673.0 593.1h0M670.3 587.0h0M663.4 577.1h0M664.9 584.4h0M664.0 585.8h0M666.0 578.5h0M669.0 583.2h0M670.7 578.6h0M661.7 587.1h0M669.1 582.9h0M667.8 580.6h0M667.4 592.0h0M663.6 575.3h0M675.6 596.1h0M671.9 591.9h0M671.4 581.3h0M665.9 583.4h0M671.3 585.7h0M666.0 588.7h0M669.3 582.4h0M661.6 586.5h0M665.4 591.4h0M663.4 585.0h0M669.4 581.4h0M669.6 590.5h0M666.3 582.6h0M668.6 578.8h0M668.6 578.6h0M664.4 589.3h0M664.9 587.5h0M667.2 577.7h0M670.5 582.1h0M669.5 586.5h0M661.4 577.7h0M661.7 592.4h0M665.9 593.4h0M662.9 584.9h0M664.5 578.7h0M670.2 584.8h0M666.8 586.1h0M671.1 583.2h0M668.5 579.5h0M662.8 588.7h0M665.2 587.2h0M665.0 579.2h0M664.9 588.8h0M660.6 583.9h0M659.8 584.8h0M667.6 585.9h0M666.2 589.7h0M669.4 589.8h0M668.0 579.2h0M670.8 593.4h0M669.4 583.2h0M670.7 590.9h0M665.5 579.0h0M665.9 576.9h0M665.7 577.6h0M664.8 586.3h0M666.9 585.0h0M667.5 590.2h0M663.8 576.2h0M666.3 583.0h0M665.3 584.8h0M668.0 578.9h0M670.3 590.0h0M667.3 591.3h0M664.5 573.4h0M666.3 592.4h0M664.8 590.7h0M670.6 584.7h0M664.4 576.2h0M663.8 578.2h0M667.4 577.1h0M664.5 587.4h0M663.3 585.4h0M667.9 587.2h0M670.2 584.5h0M666.3 594.4h0M669.0 582.0h0M669.1 581.6h0M669.6 583.5h0M662.4 584.3h0M673.5 593.2h0M668.5 579.8h0M667.6 586.8h0M664.0 584.9h0M664.9 578.9h0M669.0 584.4h0M667.5 585.3h0M669.9 585.8h0M668.7 590.6h0M664.3 587.1h0M668.2 581.4h0M669.7 585.5h0M666.2 578.7h0M660.8 591.3h0M662.7 590.7h0M672.8 587.6h0M666.2 589.2h0M665.9 592.3h0M663.2 580.1h0M664.0 571.9h0M667.6 588.0h0M672.6 581.4h0M666.8 589.5h0M668.1 578.6h0M668.4 588.6h0M663.6 582.7h0M665.5 586.1h0M670.8 592.2h0M670.3 592.1h0M667.0 587.2h0M665.7 578.1h0M665.9 584.4h0M669.3 591.5h0M665.3 586.4h0M671.9 584.5h0M661.2 582.5h0M667.6 579.0h0M669.5 595.0h0M667.3 575.9h0M672.0 585.5h0M661.6 584.0h0M670.3 579.6h0M671.4 587.0h0M665.2 578.1h0M661.6 579.3h0M668.4 580.4h0M664.2 580.4h0M663.8 576.4h0M694.3 698.3h0M698.8 680.4h0M706.5 714.6h0M692.2 714.6h0M706.0 707.8h0M700.1 722.9h0M689.5 708.5h0M705.6 730.2h0M707.7 715.9h0M698.9 710.0h0M705.0 696.9h0M691.0 709.3h0M702.1 695.6h0M706.2 705.1h0M688.7 698.1h0M703.5 688.2h0M697.1 713.2h0M705.2 722.1h0M688.9 692.0h0M699.6 725.5h0M689.5 693.5h0M690.0 700.0h0M705.1 704.1h0M702.3 727.3h0M708.3 712.2h0M686.2 692.7h0M702.4 709.8h0M689.7 708.6h0M687.0 698.0h0M701.6 727.0h0M689.9 709.0h0M691.4 716.4h0M699.9 687.1h0M697.3 697.6h0M694.7 689.1h0M701.9 685.9h0M696.4 721.3h0M693.1 703.0h0M700.1 688.2h0M702.6 706.7h0M698.4 680.9h0M697.0 726.3h0M693.5 706.2h0M691.8 683.8h0M685.9 702.9h0M697.4 689.2h0M698.7 729.6h0M707.6 716.8h0M705.2 692.1h0M698.1 719.4h0M698.7 691.5h0M693.1 686.3h0M705.0 700.0h0M692.1 688.6h0M688.9 694.3h0M707.1 711.0h0M699.1 697.5h0M702.0 715.8h0M697.9 703.8h0M703.4 723.6h0M696.9 714.5h0M706.1 732.1h0M697.9 687.9h0M690.1 697.8h0M700.7 707.4h0M692.0 713.8h0M695.7 679.0h0M707.8 700.6h0M697.2 685.8h0M706.1 727.5h0M707.4 709.3h0M702.0 725.8h0M695.8 695.9h0M702.6 699.1h0M710.4 720.8h0M708.8 716.3h0M703.2 715.8h0M694.1 705.4h0M701.3 694.3h0M698.7 683.6h0M696.9 701.9h0M689.2 698.7h0M697.9 706.1h0M701.7 711.3h0M686.4 697.1h0M699.0 700.2h0M702.6 691.2h0M699.8 725.1h0M686.6 696.4h0M688.9 688.3h0M708.2 722.4h0M685.6 696.5h0M707.2 705.9h0M684.0 693.3h0M686.1 698.3h0M705.0 689.4h0M697.5 714.5h0M688.8 692.9h0M699.2 690.7h0M704.5 690.5h0M698.8 705.5h0M700.7 689.6h0M704.4 693.5h0M706.7 714.9h0M690.6 686.1h0M699.6 723.8h0M687.8 691.1h0M696.2 720.6h0M702.9 729.9h0M694.6 714.5h0M684.5 696.6h0M689.4 712.4h0M707.3 698.3h0M690.1 690.7h0M690.7 705.1h0M706.0 723.5h0M701.2 715.6h0M704.5 710.1h0M705.7 707.4h0M699.2 712.9h0M705.7 703.6h0M705.3 706.4h0M692.8 708.3h0M706.7 723.0h0M700.1 703.6h0M697.9 682.7h0M707.8 727.3h0M707.9 724.8h0M698.5 681.1h0M699.5 684.5h0M705.8 726.3h0M699.3 700.5h0M709.4 717.9h0M698.7 707.4h0M691.7 715.1h0M705.0 717.2h0M702.7 719.5h0M694.4 707.2h0M695.2 684.8h0M686.5 691.1h0M691.6 712.5h0M693.9 684.4h0M702.1 708.9h0M704.8 716.3h0M701.9 702.3h0M702.8 690.6h0M689.4 702.1h0M696.3 696.6h0M689.5 685.2h0M707.3 714.9h0M709.2 720.2h0M706.3 715.6h0M703.2 699.8h0M703.3 700.1h0M704.1 713.1h0M687.1 699.2h0M703.7 729.6h0M704.1 726.1h0M707.7 692.7h0M695.0 679.0h0M689.6 704.7h0M696.7 722.0h0M692.4 710.9h0M703.2 706.8h0M696.8 725.7h0M686.1 701.3h0M696.9 713.5h0M698.2 690.6h0M699.1 693.2h0M698.1 707.0h0M705.2 692.8h0M694.8 691.7h0M702.6 699.0h0M695.8 718.1h0M684.6 695.8h0M698.2 713.3h0M695.6 681.6h0M703.2 724.1h0M690.9 706.7h0M695.5 679.7h0M705.3 694.8h0M691.3 691.7h0M704.6 692.7h0M696.0 683.4h0M700.2 721.5h0M707.6 709.6h0M700.8 721.8h0M687.9 689.6h0M705.3 702.0h0M704.3 711.9h0M705.5 729.4h0M703.5 715.4h0M690.1 704.8h0M684.3 693.8h0M703.0 702.9h0M707.5 698.9h0M687.3 695.5h0M694.4 696.9h0M695.2 714.4h0M702.3 706.0h0M705.8 708.1h0M687.9 704.2h0M685.2 698.1h0M703.6 730.7h0M707.4 718.7h0M693.6 695.2h0M690.4 702.1h0M707.4 701.2h0M699.2 701.1h0M708.1 710.2h0M705.9 692.2h0M694.3 678.9h0M687.8 704.8h0M703.2 706.2h0M694.7 691.3h0M691.9 703.0h0M691.1 699.1h0M701.3 719.1h0M692.9 707.7h0M707.4 715.7h0M693.8 699.2h0M695.6 702.1h0M704.2 715.0h0M693.2 685.1h0M688.3 686.8h0M689.9 705.1h0M691.9 692.6h0M693.7 704.1h0M703.3 708.8h0M707.7 697.4h0M702.6 709.3h0M697.5 690.4h0M698.1 701.7h0M706.7 714.0h0M707.7 719.2h0M691.3 692.9h0M705.3 716.6h0M696.8 705.4h0M696.0 710.9h0M694.1 712.0h0M695.8 694.4h0M699.1 707.2h0M693.4 695.5h0M696.1 702.5h0M703.1 698.1h0M702.5 721.1h0M703.7 704.0h0M703.6 723.7h0M696.6 703.7h0M697.5 700.8h0M701.8 726.3h0M686.5 690.7h0M701.4 718.3h0M696.0 698.5h0M688.7 697.3h0M707.1 708.8h0M695.1 698.2h0M690.7 702.1h0M698.5 701.6h0M694.7 693.5h0M700.9 715.5h0M696.7 697.3h0M703.8 716.4h0M704.8 721.0h0M704.4 712.7h0M694.8 704.6h0M693.5 694.7h0M699.8 688.2h0M699.2 708.4h0M691.1 700.0h0M699.5 723.1h0M697.7 711.2h0M698.9 705.5h0M695.5 700.0h0M692.8 707.0h0M704.9 702.0h0M696.2 685.8h0M705.7 702.5h0M697.5 698.0h0M699.1 691.7h0M705.4 713.1h0M697.2 710.3h0M704.9 708.0h0M693.5 704.4h0M708.5 711.7h0M698.6 701.0h0M700.2 725.7h0M698.5 719.2h0M706.1 696.7h0M701.2 716.8h0M700.5 726.0h0M707.5 723.6h0M690.1 692.9h0M707.0 725.4h0M691.2 685.7h0M695.8 701.0h0M701.1 729.1h0M700.9 720.7h0M693.9 687.5h0M696.9 703.2h0M700.7 700.6h0M706.4 724.7h0M696.4 696.6h0M696.8 700.7h0M691.3 691.1h0M689.2 685.4h0M699.0 701.9h0M700.9 714.7h0M688.3 702.9h0M702.7 698.2h0M702.2 699.1h0M704.5 718.6h0M696.3 690.8h0M692.7 694.3h0M695.9 697.8h0M690.8 703.0h0M704.7 705.2h0M693.0 691.9h0M694.1 703.4h0M692.4 705.8h0M696.0 699.7h0M706.1 711.4h0M704.5 705.8h0M697.8 658.8h0M698.5 659.9h0M699.1 664.7h0M699.3 665.0h0M698.4 664.2h0M697.9 662.5h0M698.8 663.0h0M698.3 665.5h0M697.6 659.6h0M838.0 689.8h0M830.3 718.0h0M824.0 646.4h0M861.4 655.8h0M863.9 628.7h0M836.1 708.3h0M867.5 647.6h0M848.3 636.9h0M837.5 658.5h0M848.4 658.1h0M839.6 719.9h0M850.8 694.0h0M818.7 728.3h0M802.7 739.1h0M850.2 611.5h0M835.7 649.5h0M854.3 682.2h0M861.1 696.0h0M854.2 621.7h0M862.4 665.7h0M800.0 734.9h0M834.3 698.8h0M809.0 680.2h0M830.7 689.9h0M818.0 716.5h0M791.8 680.5h0M854.2 665.4h0M820.3 648.1h0M865.0 687.8h0M841.5 617.1h0M818.9 731.6h0M854.7 633.2h0M855.9 672.1h0M818.3 693.9h0M826.3 640.4h0M838.7 683.1h0M828.1 654.9h0M804.3 693.3h0M857.4 651.2h0M853.7 713.6h0M796.4 658.7h0M854.2 703.7h0M799.4 725.3h0M798.2 728.1h0M835.3 619.9h0M867.9 664.4h0M802.8 686.3h0M829.8 727.6h0M799.4 722.3h0M785.7 684.4h0M842.7 668.7h0M832.2 691.8h0M829.5 726.1h0M862.4 686.2h0M816.1 697.9h0M821.0 729.2h0M866.8 672.3h0M854.1 653.9h0M864.1 696.8h0M859.7 700.3h0M852.8 700.3h0M815.4 725.6h0M855.6 626.6h0M849.2 700.6h0M859.4 670.3h0M843.4 614.8h0M864.4 648.9h0M810.7 672.5h0M857.1 681.4h0M862.9 698.9h0M865.3 666.7h0M803.8 686.2h0M782.0 663.3h0M862.2 628.6h0M839.7 649.4h0M857.0 622.9h0M783.8 670.4h0M850.9 689.8h0M868.9 647.5h0M790.9 652.4h0M802.1 717.0h0M860.6 690.6h0M838.9 636.4h0M863.7 689.8h0M824.5 685.8h0M861.4 700.0h0M853.5 647.4h0M805.7 713.5h0M847.9 616.9h0M827.0 702.5h0M816.4 696.5h0M851.1 628.5h0M824.3 665.9h0M869.3 664.7h0M847.1 644.4h0M796.5 703.8h0M780.7 658.7h0M798.6 659.7h0M820.9 645.3h0M842.5 663.4h0M833.7 629.0h0M857.9 678.5h0M826.4 696.7h0M852.8 665.8h0M791.3 685.0h0M829.2 670.0h0M782.0 675.2h0M806.9 736.7h0M810.9 699.2h0M826.1 736.1h0M868.8 652.5h0M836.4 671.7h0M858.2 628.4h0M869.2 649.7h0M836.3 629.2h0M818.0 659.2h0M795.2 714.3h0M865.7 665.0h0M855.1 617.9h0M846.8 672.9h0M851.8 643.1h0M842.1 684.3h0M846.5 641.4h0M856.3 648.7h0M829.5 671.3h0M839.8 669.8h0M845.4 682.5h0M830.3 735.7h0M846.7 689.7h0M820.0 685.8h0M839.8 685.4h0M808.0 738.1h0M857.1 694.3h0M842.3 642.6h0M853.8 672.7h0M787.2 670.7h0M808.0 686.8h0M848.8 666.9h0M856.0 704.5h0M804.8 711.4h0M840.1 700.9h0M865.6 680.1h0M846.0 704.6h0M860.3 628.2h0M818.0 636.5h0M816.9 735.1h0M862.8 707.1h0M785.8 696.9h0M838.9 639.8h0M795.4 703.6h0M853.2 628.1h0M823.0 713.1h0M801.7 691.2h0M848.6 689.7h0M862.6 640.4h0M827.5 698.6h0M842.7 696.8h0M794.7 724.2h0M860.8 624.1h0M842.0 683.8h0M803.3 692.2h0M821.0 685.2h0M865.6 655.3h0M869.1 659.8h0M853.7 634.1h0M834.8 675.1h0M851.9 679.5h0M841.5 627.4h0M822.1 684.8h0M818.6 731.2h0M796.8 726.6h0M858.1 709.9h0M800.3 726.6h0M837.9 691.6h0M782.3 659.4h0M834.1 697.8h0M785.9 699.9h0M862.3 707.9h0M863.7 697.7h0M845.7 647.0h0M822.8 726.8h0M868.0 662.8h0M799.0 665.9h0M831.0 692.4h0M795.8 702.6h0M851.9 685.0h0M861.8 684.1h0M856.3 634.2h0M856.5 625.7h0M860.9 628.6h0M846.3 622.1h0M861.9 646.0h0M865.0 649.8h0M853.8 641.2h0M855.9 655.7h0M853.6 699.9h0M850.8 699.7h0M814.0 700.2h0M854.5 703.5h0M850.6 710.2h0M857.8 683.7h0M852.2 673.9h0M850.1 629.2h0M823.6 721.3h0M795.9 690.5h0M868.3 663.8h0M830.2 699.1h0M802.4 737.6h0M822.0 717.5h0M843.6 632.5h0M858.2 646.3h0M814.0 675.6h0M862.1 683.7h0M860.4 640.9h0M800.0 712.9h0M831.9 639.4h0M838.8 671.9h0M830.1 735.5h0M809.5 685.5h0M819.6 688.2h0M868.0 662.0h0M824.3 661.7h0M860.5 621.0h0M854.4 623.5h0M806.7 728.2h0M804.0 651.8h0M840.5 640.6h0M858.9 686.2h0M864.4 664.3h0M870.1 669.6h0M780.9 673.8h0M846.8 636.4h0M805.0 692.3h0M858.2 626.3h0M846.4 639.1h0M820.8 708.9h0M865.7 663.4h0M818.2 680.1h0M861.6 685.0h0M858.7 649.2h0M808.7 659.3h0M866.4 643.2h0M860.9 626.0h0M859.6 683.4h0M822.6 695.6h0M812.2 664.0h0M831.1 715.0h0M789.5 669.1h0M862.3 642.7h0M829.4 721.9h0M825.6 641.8h0M845.0 612.6h0M848.9 646.9h0M830.1 657.2h0M802.6 733.9h0M860.1 632.0h0M817.4 727.1h0M858.9 713.5h0M857.3 688.7h0M825.4 718.5h0M792.5 686.6h0M854.5 677.9h0M808.3 730.2h0M802.9 710.2h0M859.8 677.0h0M860.2 695.7h0M870.0 664.6h0M855.3 642.6h0M794.3 654.3h0M816.8 734.5h0M856.4 685.3h0M851.1 636.5h0M862.2 668.7h0M803.1 662.9h0M859.6 696.5h0M865.3 681.4h0M780.3 675.2h0M861.8 646.4h0M830.4 691.5h0M864.2 646.7h0M847.2 644.7h0M849.0 650.9h0M852.9 660.7h0M856.4 632.2h0M808.9 645.8h0M828.5 718.3h0M801.9 664.8h0M838.4 688.2h0M860.2 667.0h0M846.7 666.5h0M797.6 678.7h0M837.1 627.1h0M819.8 650.1h0M856.6 683.0h0M828.6 664.3h0M810.0 670.7h0M819.2 661.1h0M825.0 653.7h0M858.2 667.2h0M804.7 658.6h0M853.1 698.8h0M863.6 658.5h0M831.8 683.7h0M835.2 691.6h0M866.7 663.3h0M844.3 649.1h0M865.4 674.4h0M862.4 701.5h0M834.9 620.3h0M857.5 712.2h0M838.0 673.9h0M798.2 702.8h0M787.5 683.9h0M813.1 677.3h0M862.0 627.0h0M865.2 672.8h0M840.7 626.6h0M843.1 700.6h0M794.4 721.6h0M839.4 679.2h0M867.7 645.4h0M870.6 651.9h0M864.2 684.1h0M863.0 634.5h0M840.5 669.2h0M827.6 718.9h0M870.6 658.2h0M836.8 701.2h0M817.7 631.1h0M798.0 721.8h0M831.8 636.0h0M857.0 631.8h0M862.7 627.1h0M841.4 695.2h0M852.7 701.0h0M784.9 661.9h0M859.8 695.9h0M855.1 654.9h0M851.0 612.7h0M839.9 651.1h0M854.0 712.0h0M840.3 677.6h0M857.6 673.6h0M853.6 621.0h0M845.2 677.7h0M826.6 730.2h0M830.1 626.0h0M864.5 654.9h0M850.4 610.7h0M840.9 630.0h0M865.2 636.5h0M860.5 694.2h0M805.7 698.9h0M826.0 674.1h0M845.2 644.6h0M819.1 644.4h0M836.1 622.9h0M869.9 655.3h0M867.0 673.4h0M853.6 705.4h0M817.9 697.0h0M819.0 736.1h0M801.8 716.2h0M825.0 664.7h0M842.3 640.1h0M858.2 693.9h0M839.1 705.0h0M866.3 630.1h0M811.5 684.2h0M810.9 700.0h0M823.0 715.6h0M857.0 713.4h0M844.7 654.0h0M838.0 643.2h0M862.7 626.3h0M785.8 687.4h0M826.6 720.3h0M837.3 615.7h0M849.1 631.1h0M856.2 689.3h0M841.0 627.3h0M857.7 621.5h0M852.2 686.4h0M818.5 685.9h0M849.1 696.5h0M803.2 710.1h0M838.5 657.0h0M794.9 712.8h0M852.1 691.4h0M867.8 664.6h0M850.9 638.4h0M864.8 646.5h0M869.1 664.3h0M859.1 631.4h0M785.1 647.2h0M817.4 730.3h0M847.7 656.0h0M849.9 622.6h0M825.1 681.5h0M827.1 732.8h0M837.1 683.2h0M836.7 727.5h0M853.7 653.5h0M823.6 699.7h0M855.1 629.7h0M841.2 616.7h0M827.1 667.6h0M844.2 629.5h0M803.8 692.0h0M815.6 682.3h0M869.0 671.7h0M823.2 720.8h0M846.0 651.0h0M786.5 646.9h0M792.1 667.4h0M807.2 669.8h0M856.2 626.0h0M839.3 664.0h0M824.8 714.0h0M851.9 652.9h0M802.7 724.5h0M808.0 687.2h0M831.9 719.2h0M859.7 650.6h0M805.2 725.8h0M845.4 643.7h0M846.6 655.8h0M833.5 675.3h0M833.9 650.5h0M847.0 653.3h0M826.4 634.5h0M792.6 689.6h0M826.0 676.6h0M816.8 713.2h0M858.0 662.2h0M812.9 697.1h0M801.2 671.4h0M831.3 707.1h0M824.8 666.6h0M832.0 636.8h0M840.8 659.1h0M856.6 705.6h0M805.6 699.1h0M808.1 689.6h0M859.6 654.9h0M856.3 658.5h0M845.5 668.5h0M851.3 661.7h0M859.4 627.0h0M843.8 627.6h0M852.9 652.0h0M812.8 671.4h0M842.7 668.6h0M806.7 688.0h0M812.6 670.3h0M808.8 667.8h0M839.6 624.1h0M839.1 716.3h0M823.4 671.3h0M794.8 671.9h0M838.7 620.4h0M809.7 722.9h0M857.3 699.5h0M847.4 666.3h0M851.8 640.7h0M785.9 669.7h0M822.1 658.9h0M845.7 672.9h0M825.8 690.1h0M847.6 652.2h0M796.8 726.1h0M836.9 693.7h0M827.6 634.3h0M839.8 649.8h0M817.7 698.0h0M832.3 725.0h0M855.6 681.6h0M798.4 673.4h0M851.1 656.4h0M849.2 681.4h0M840.4 658.3h0M803.9 692.3h0M831.2 650.9h0M830.3 632.3h0M863.9 674.4h0M804.7 717.2h0M836.5 643.0h0M821.6 655.2h0M827.9 663.4h0M821.2 707.6h0M821.5 669.2h0M842.5 659.5h0M809.2 703.2h0M830.3 655.8h0M801.1 678.6h0M816.7 688.0h0M803.1 717.1h0M848.0 699.3h0M801.6 691.3h0M803.3 733.2h0M844.2 672.6h0M859.0 692.0h0M853.4 663.9h0M850.9 690.2h0M834.1 668.3h0M797.7 676.5h0M801.9 664.6h0M827.0 716.6h0M815.6 706.8h0M815.8 659.6h0M833.8 656.8h0M848.8 651.9h0M858.9 625.9h0M844.5 640.6h0M824.9 674.8h0M799.3 701.0h0M828.1 676.2h0M838.0 679.7h0M799.0 725.4h0M826.0 641.4h0M862.4 675.0h0M812.9 677.7h0M858.7 640.4h0M846.5 637.7h0M860.1 674.3h0M827.3 682.0h0M830.4 691.3h0M851.4 617.8h0M834.4 670.6h0M841.7 673.4h0M863.8 683.9h0M850.8 674.8h0M806.0 673.3h0M850.7 680.2h0M823.4 634.2h0M859.8 650.8h0M844.6 642.0h0M828.5 673.3h0M858.8 704.5h0M832.7 637.6h0M795.8 701.4h0M847.4 661.1h0M798.0 714.8h0M842.7 630.6h0M859.3 677.8h0M867.7 677.4h0M852.3 659.1h0M833.3 642.6h0M845.8 647.8h0M821.1 671.3h0M792.4 713.6h0M809.7 663.0h0M832.3 638.2h0M858.9 668.6h0M816.4 663.8h0M808.2 686.6h0M863.6 673.9h0M840.0 691.9h0M801.9 725.1h0M857.0 658.9h0M848.2 643.2h0M856.1 630.3h0M854.5 641.9h0M854.6 667.1h0M816.0 649.2h0M834.6 704.6h0M839.6 715.7h0M801.0 674.2h0M849.5 667.1h0M816.0 664.4h0M848.0 672.0h0M816.4 709.9h0M821.3 656.4h0M861.9 660.5h0M847.7 670.1h0M868.4 660.9h0M820.2 701.1h0M819.2 634.3h0M851.3 685.3h0M807.2 728.1h0M833.2 665.6h0M849.3 646.0h0M841.6 671.6h0M837.7 711.8h0M841.0 708.7h0M811.0 697.2h0M844.1 616.6h0M856.9 637.8h0M838.0 708.1h0M822.2 681.2h0M801.2 680.3h0M840.1 616.0h0M840.1 622.7h0M825.0 637.7h0M859.0 661.7h0M832.8 681.1h0M815.1 698.5h0M853.0 707.3h0M830.2 624.1h0M844.8 652.7h0M796.0 727.2h0M827.1 682.1h0M797.8 707.2h0M788.2 677.5h0M825.2 685.8h0M819.1 658.5h0M828.0 722.6h0M825.5 712.1h0M838.5 677.3h0M827.2 684.6h0M813.7 675.1h0M823.8 655.2h0M851.4 638.1h0M793.8 686.7h0M840.3 626.7h0M835.4 688.1h0M855.0 658.0h0M834.0 651.0h0M791.4 685.8h0M816.5 676.3h0M847.5 658.2h0M833.7 648.7h0M861.5 649.4h0M840.2 644.5h0M794.1 696.6h0M846.9 681.8h0M807.1 675.3h0M807.9 698.3h0M838.1 639.9h0M788.5 678.3h0M811.6 727.9h0M833.0 661.2h0M807.5 680.2h0M856.7 642.0h0M845.7 654.7h0M838.9 651.4h0M812.7 711.5h0M804.2 701.3h0M849.5 672.6h0M817.1 687.0h0M838.0 664.3h0M791.3 686.9h0M817.1 690.4h0M848.3 674.6h0M851.4 648.0h0M806.5 706.0h0M860.4 711.4h0M860.9 710.1h0M860.9 714.1h0M858.8 711.3h0M860.9 712.9h0M858.3 711.8h0M858.1 709.6h0M859.1 712.7h0M858.7 710.7h0M858.0 709.3h0M858.5 709.1h0M859.0 712.1h0M860.8 709.6h0M858.6 712.6h0M859.9 711.9h0M858.6 708.2h0M859.4 710.0h0M860.3 713.4h0M861.2 711.0h0M859.7 708.2h0M860.2 711.6h0M857.2 713.1h0M820.7 747.5h0M817.4 741.6h0M817.5 740.6h0M818.4 742.8h0M844.8 720.3h0M779.3 647.3h0M821.7 748.7h0M821.6 757.4h0M822.6 777.0h0M820.9 756.5h0M825.2 756.6h0M826.0 761.4h0M825.5 758.6h0M824.1 771.5h0M826.3 757.1h0M821.1 767.5h0M820.4 765.4h0M820.6 771.6h0M820.0 764.6h0M822.4 767.6h0M821.0 763.8h0M822.7 767.8h0M818.6 770.3h0M822.8 757.7h0M821.1 765.2h0M821.0 759.0h0M821.3 764.5h0M819.1 769.2h0M860.8 676.1h0M869.3 657.4h0M868.3 656.6h0M840.8 662.8h0M791.1 704.4h0M829.5 627.6h0M792.7 697.9h0M826.5 724.7h0M860.9 622.8h0M852.9 669.4h0M850.0 617.5h0M822.3 667.2h0M860.4 642.8h0M820.7 765.0h0M864.4 633.6h0M810.6 692.1h0M864.8 670.0h0M845.6 679.6h0M840.7 615.2h0M812.0 687.9h0M818.0 735.4h0M808.0 667.4h0M858.5 679.6h0M868.1 666.4h0M840.2 692.7h0M856.9 648.9h0M854.5 680.7h0M853.6 630.3h0M821.8 725.1h0M867.6 676.4h0M847.5 692.8h0M852.8 624.4h0M803.6 688.1h0M821.8 728.0h0M857.7 653.2h0M853.2 622.6h0M820.2 775.9h0M864.1 652.8h0M845.6 631.2h0M848.7 665.3h0" stroke="#d3d3d3" stroke-width="1.75" stroke-linecap="round" fill="none"/>
<path d="M860.9 693.4h0M864.3 673.2h0M839.8 724.4h0M864.8 685.1h0M864.0 691.1h0M828.5 658.9h0M838.4 680.8h0M863.4 655.5h0M807.7 660.2h0M869.9 669.5h0M838.6 649.9h0M811.5 647.8h0M815.3 726.6h0M860.5 683.3h0M832.7 637.2h0M869.9 652.0h0M856.5 670.3h0M838.5 649.2h0M852.5 670.6h0M810.5 701.9h0M851.7 643.4h0M854.9 669.2h0M840.1 683.8h0M848.7 685.0h0M859.9 714.3h0M828.1 656.0h0M860.1 648.6h0M814.8 682.1h0M865.2 630.8h0M807.7 658.6h0M830.7 652.3h0M846.6 614.6h0M867.5 651.1h0M860.0 681.0h0M814.3 643.9h0M839.4 712.0h0M820.1 779.5h0M817.2 658.3h0M860.7 686.9h0M858.4 695.8h0M813.7 724.6h0M844.6 676.2h0M859.7 629.3h0M864.0 699.7h0M831.9 725.3h0M821.3 775.5h0M803.1 731.8h0M857.2 712.5h0M837.6 726.3h0M784.0 674.9h0M855.9 627.1h0M846.4 617.3h0M802.6 669.2h0M849.4 653.4h0M831.7 723.5h0M851.4 683.0h0M801.5 688.9h0M839.6 686.6h0M831.7 654.9h0M821.9 754.7h0M859.3 631.4h0M839.8 635.2h0M857.6 658.6h0M848.3 677.8h0M863.9 684.6h0M868.7 659.5h0M805.3 703.4h0M858.0 700.8h0M830.9 625.6h0M804.1 676.7h0M833.7 683.4h0M827.9 694.7h0M866.0 631.8h0M846.1 668.4h0M851.1 652.8h0M820.6 770.0h0M860.0 673.0h0M828.9 656.8h0M865.2 626.5h0M815.2 697.8h0M825.2 654.1h0M819.1 770.3h0M793.9 697.7h0M857.0 624.0h0M842.5 625.7h0M860.5 668.4h0M850.3 654.7h0M860.6 623.1h0M855.3 646.0h0M854.2 647.0h0M818.6 734.8h0M855.7 661.1h0M747.8 620.7h0M822.4 788.1h0M870.7 655.8h0M809.9 702.1h0M850.9 657.0h0M740.1 606.3h0M862.6 653.9h0M858.4 708.6h0M835.8 667.1h0M744.2 621.4h0M856.4 657.6h0M815.0 671.3h0M781.0 663.5h0M826.0 685.7h0M854.8 620.2h0M820.4 766.9h0M808.5 734.9h0M865.8 686.1h0M808.7 723.3h0M845.3 631.3h0M805.9 653.3h0M837.6 623.6h0M821.1 731.8h0M849.2 643.4h0M836.1 648.7h0M842.3 643.5h0M840.2 613.7h0M854.9 644.4h0M831.8 710.1h0M863.1 645.9h0M848.4 670.9h0M859.1 650.3h0M855.8 701.3h0M795.8 670.6h0M822.9 645.7h0M840.8 704.4h0M739.2 608.0h0M747.1 620.5h0M868.2 648.1h0M839.4 691.3h0M820.3 769.7h0M821.9 700.0h0M851.1 630.5h0M855.4 677.4h0M852.7 703.9h0M844.7 637.0h0M824.3 702.0h0M863.2 628.0h0M855.2 641.8h0M845.3 676.6h0M787.1 662.3h0M856.2 634.6h0M780.3 649.9h0M805.5 700.5h0M800.7 692.0h0M798.6 732.2h0M835.2 641.4h0M865.4 639.8h0M853.2 685.1h0M832.9 715.2h0M847.0 678.2h0M857.8 627.9h0M859.9 711.3h0M848.6 661.9h0M861.6 681.8h0M809.3 680.8h0M798.3 691.0h0M825.9 729.9h0M818.9 709.8h0M825.7 651.0h0M743.4 618.5h0M856.8 643.2h0M743.4 618.9h0M759.1 660.2h0M845.1 613.3h0M859.7 706.6h0M859.2 660.5h0M840.5 633.2h0M817.6 680.4h0M869.4 651.8h0M809.8 707.7h0M820.3 769.2h0M826.4 668.0h0M857.2 675.8h0M863.5 671.9h0M858.3 640.8h0M864.1 696.5h0M856.3 690.9h0M864.3 693.6h0M840.8 676.1h0M854.8 701.4h0M866.2 675.8h0M847.4 669.2h0M847.1 625.2h0M819.7 740.4h0" stroke="#c3b2dd" stroke-width="1.7" stroke-linecap="round" fill="none"/>
<path d="M855.0 643.7h0M839.4 709.7h0M863.8 673.2h0M783.2 674.8h0M852.7 666.1h0M857.9 624.5h0M747.1 620.6h0M823.0 773.8h0M835.2 687.6h0M812.1 729.6h0M801.3 679.9h0M860.7 656.7h0M748.7 619.8h0M854.3 695.3h0M792.2 659.2h0M820.8 770.1h0M842.4 635.9h0M811.1 678.0h0M729.2 592.7h0M859.6 655.0h0M858.0 624.6h0M780.5 661.4h0M845.9 670.4h0M856.8 668.1h0M861.3 622.3h0M838.0 686.7h0M823.9 765.9h0M716.1 665.5h0M861.6 652.8h0M788.0 691.0h0M852.6 645.9h0M823.4 777.5h0M829.9 726.4h0M821.6 770.6h0M833.8 676.0h0M847.9 613.4h0M736.0 612.6h0M802.2 667.3h0M817.9 641.7h0M740.9 605.7h0M843.2 691.3h0M857.8 669.8h0M699.1 594.1h0M857.9 715.1h0M821.2 775.3h0M851.8 689.5h0M821.3 773.8h0M746.3 620.9h0M811.0 670.5h0M858.7 711.1h0M706.1 720.4h0M854.3 627.3h0M834.3 674.1h0M862.5 637.7h0M827.0 664.4h0M839.0 640.0h0M865.6 651.7h0M715.7 555.3h0M864.0 694.6h0M848.8 629.8h0M811.2 682.2h0M804.5 684.0h0M821.2 776.9h0M741.9 628.3h0M859.3 693.6h0M812.5 687.7h0M825.6 673.9h0M851.1 700.2h0M818.9 768.8h0M859.0 698.0h0M796.6 656.3h0M713.4 579.5h0M844.9 689.1h0M829.5 633.0h0M854.8 629.5h0M815.3 725.1h0M833.5 622.3h0M803.2 736.0h0M740.9 616.6h0M835.2 638.8h0M812.1 729.5h0M805.9 723.1h0M798.9 733.6h0M819.8 690.9h0M821.1 774.2h0M808.0 678.5h0M746.4 621.4h0M827.1 631.5h0M824.8 693.8h0M849.3 632.8h0M807.0 679.8h0M733.7 609.0h0M858.0 667.1h0M810.8 680.0h0M788.9 701.3h0M821.3 745.6h0M810.1 731.2h0M812.1 694.7h0M840.7 647.9h0M858.3 657.0h0M856.6 663.2h0M860.7 698.3h0M854.5 692.3h0M814.4 725.5h0M807.8 661.9h0M815.2 720.4h0M826.3 759.1h0M741.6 612.6h0M838.4 675.1h0M690.4 599.0h0M819.9 650.8h0M836.9 699.3h0M793.6 685.5h0M804.9 653.2h0M752.0 617.4h0M797.8 696.1h0M842.2 668.9h0M818.2 773.1h0M842.9 673.1h0M804.5 739.2h0M820.0 762.0h0M728.1 582.8h0M845.3 633.6h0M836.5 623.3h0M848.9 679.4h0M812.9 682.4h0M863.0 655.1h0M863.0 658.4h0M784.6 708.5h0M822.0 758.9h0M830.8 676.4h0M762.3 655.2h0M823.4 775.6h0M751.5 622.7h0M822.5 771.4h0M858.4 643.3h0M791.9 701.1h0M843.6 657.4h0M814.5 692.5h0M841.9 645.9h0M746.9 621.0h0M821.6 691.0h0M830.3 736.9h0M850.3 640.3h0M800.3 656.3h0M831.6 664.8h0M804.9 667.4h0M741.2 538.9h0M823.8 637.0h0M818.4 650.6h0M843.3 687.2h0M827.9 700.3h0M831.9 666.9h0M850.5 657.7h0M708.1 556.2h0M823.8 755.2h0M800.7 673.1h0M851.6 703.4h0M859.0 643.7h0M856.5 654.3h0M802.6 662.6h0M855.3 659.1h0M828.6 639.2h0M840.7 693.9h0M858.2 714.3h0M664.6 582.4h0M838.5 625.3h0M737.8 618.3h0M714.1 599.1h0M822.1 765.6h0M749.5 553.0h0M848.5 669.8h0M821.0 765.9h0M840.7 661.9h0M734.0 604.8h0M833.6 658.8h0M819.8 711.0h0M839.8 622.3h0M866.1 667.4h0M837.4 621.3h0M862.9 652.6h0M795.0 715.7h0M859.5 696.3h0M799.8 661.9h0M839.0 652.7h0M844.2 647.9h0M701.8 641.0h0M838.2 628.1h0M750.8 622.9h0M798.3 700.0h0M806.3 676.0h0M854.4 617.7h0M852.6 661.6h0M821.9 768.5h0M817.1 668.9h0M833.2 730.8h0M854.1 715.9h0M826.9 685.8h0M798.3 732.2h0M859.6 666.7h0M849.0 656.8h0M852.2 621.2h0M829.5 687.2h0M832.8 726.0h0M786.1 647.8h0M847.1 612.3h0M846.2 674.0h0M798.8 704.2h0M844.8 632.6h0M814.8 652.6h0M822.9 778.6h0M786.8 715.1h0M845.8 653.6h0M785.7 658.1h0M714.8 672.9h0M822.8 766.2h0M806.6 704.6h0M848.0 659.4h0M804.8 729.4h0M867.8 643.7h0M863.0 643.6h0M790.9 676.1h0M829.5 734.1h0M818.8 768.0h0M825.2 705.5h0M860.0 627.1h0M818.6 705.4h0M842.2 637.2h0M808.4 666.3h0M799.8 697.8h0M802.1 683.7h0M697.0 706.6h0M837.4 641.4h0M860.2 676.6h0M831.5 652.4h0M808.3 694.1h0M858.8 664.6h0M742.6 622.9h0M812.0 700.3h0M839.4 691.7h0M822.3 769.0h0M850.3 706.6h0M808.7 660.9h0M856.3 711.9h0M836.9 646.4h0M857.2 685.9h0M853.7 685.0h0M866.1 649.0h0M857.3 674.3h0M850.7 634.0h0M826.5 671.5h0M820.6 702.7h0M859.6 709.1h0M805.2 716.0h0M802.5 674.3h0M839.4 717.0h0M801.4 654.6h0M849.4 618.0h0M670.2 580.9h0M789.3 713.0h0M818.0 764.7h0M832.1 652.1h0M842.0 628.2h0M767.8 661.5h0M818.2 736.8h0M798.6 675.6h0M862.3 672.7h0M829.3 634.8h0M804.6 669.6h0M800.5 703.4h0M801.3 700.8h0M789.5 693.1h0M737.7 613.5h0M710.5 561.5h0M804.2 721.6h0M719.6 567.0h0M838.0 617.6h0M844.3 701.8h0M847.5 638.6h0M842.6 622.6h0M791.7 669.0h0M732.1 606.6h0M815.8 721.3h0M809.4 659.9h0M814.3 696.5h0M748.0 619.0h0M820.6 657.2h0M819.8 768.2h0M741.6 612.9h0M823.2 764.2h0M832.8 662.5h0M802.0 737.4h0M849.7 648.0h0M796.3 703.4h0M826.2 757.6h0M814.7 685.5h0M741.0 609.4h0M843.8 630.0h0M807.7 679.2h0M740.6 610.4h0M821.0 765.0h0M848.6 622.8h0M743.8 618.3h0M743.5 613.0h0M822.2 762.6h0M841.9 625.4h0M815.4 672.7h0M806.3 679.3h0M842.8 632.5h0M819.2 703.5h0M800.2 716.0h0M850.0 678.9h0M809.0 668.7h0M792.4 655.3h0M743.7 618.7h0M869.8 664.8h0M849.2 650.3h0M807.7 659.8h0M842.9 657.4h0M832.9 629.9h0M857.4 642.6h0M851.6 618.5h0M862.0 665.8h0M836.3 669.0h0M818.6 773.1h0M833.9 706.9h0M831.9 721.7h0M848.0 696.9h0M858.2 658.7h0M820.6 775.5h0M855.4 629.3h0M828.8 714.8h0M846.8 674.2h0M739.1 603.7h0M845.5 668.3h0M816.8 728.6h0M861.6 629.2h0M795.3 725.6h0M847.6 671.2h0M852.9 663.0h0M842.4 629.3h0M864.2 679.0h0M857.9 711.9h0M793.5 656.3h0M821.5 714.2h0M831.2 671.7h0M849.5 632.4h0M858.6 713.4h0M852.6 673.3h0M720.5 612.8h0M839.2 674.0h0M739.2 613.5h0M813.0 655.3h0M836.9 675.4h0M814.1 707.6h0M793.4 700.0h0M859.7 715.7h0M796.3 678.6h0M832.4 653.1h0M815.4 667.9h0M852.4 699.1h0M802.7 672.8h0M837.0 652.0h0M843.3 625.6h0M820.0 779.2h0M820.2 772.9h0M849.8 709.1h0M834.4 680.9h0M824.0 634.2h0M856.6 715.4h0M691.8 701.2h0M736.7 618.1h0M799.6 697.4h0M855.6 643.3h0M836.5 698.8h0M867.2 672.5h0M790.7 663.3h0M843.6 640.4h0M825.0 656.5h0M820.3 767.1h0M798.0 698.5h0" stroke="#b69ce3" stroke-width="1.7" stroke-linecap="round" fill="none"/>
<path d="M789.8 696.1h0M808.1 701.9h0M826.2 761.8h0M819.9 707.3h0M821.8 767.2h0M789.3 681.0h0M825.2 768.3h0M858.9 712.2h0M842.3 648.7h0M842.2 645.2h0M856.7 683.1h0M851.3 637.4h0M821.0 657.3h0M858.1 700.0h0M828.3 653.7h0M821.9 680.4h0M739.2 619.1h0M791.5 705.5h0M822.0 760.1h0M836.2 623.4h0M827.6 650.8h0M865.1 636.6h0M812.4 667.1h0M862.2 663.7h0M848.3 652.2h0M821.0 747.6h0M798.9 659.8h0M841.5 624.9h0M830.7 691.9h0M813.7 726.1h0M824.0 712.9h0M790.5 674.8h0M858.9 621.1h0M747.2 621.9h0M834.2 620.4h0M789.1 706.8h0M822.1 766.7h0M822.8 719.1h0M869.5 670.5h0M799.5 663.3h0M821.2 747.1h0M821.8 756.9h0M863.1 630.7h0M822.7 661.0h0M846.2 703.9h0M822.7 639.5h0M858.6 705.3h0M807.6 653.9h0M837.1 624.0h0M791.7 706.0h0M745.8 620.2h0M821.9 656.3h0M831.6 631.4h0M853.5 674.2h0M858.8 677.6h0M818.0 665.1h0M821.2 769.3h0M698.8 698.1h0M821.6 768.6h0M860.3 711.7h0M822.7 768.1h0M854.9 662.9h0M840.5 704.6h0M838.9 692.4h0M795.8 663.7h0M813.5 651.0h0M845.2 644.8h0M783.3 675.5h0M724.6 569.3h0M844.5 630.4h0M820.0 662.1h0M846.1 672.4h0M746.5 619.6h0M733.0 603.1h0M863.7 676.1h0M829.1 693.7h0M791.4 692.7h0M851.3 669.4h0M829.5 629.5h0M822.8 695.0h0M786.8 682.0h0M804.9 737.1h0M849.6 641.1h0M848.3 703.4h0M807.5 706.0h0M851.0 690.3h0M798.5 712.4h0M821.1 758.6h0M820.3 750.0h0M803.1 678.4h0M856.5 619.7h0M807.8 656.2h0M851.4 624.1h0M860.5 709.5h0M807.5 694.5h0M824.2 731.2h0M858.7 640.7h0M804.0 656.4h0M817.1 683.4h0M848.7 672.1h0M723.4 635.3h0M839.4 690.2h0M792.5 679.6h0M835.9 635.8h0M819.6 761.7h0M787.3 651.2h0M788.6 707.0h0M815.5 678.2h0M849.3 669.9h0M823.1 706.2h0M705.2 712.1h0M712.7 561.2h0M839.4 702.6h0M790.8 686.7h0M811.5 663.4h0M811.0 681.2h0M790.1 658.5h0M826.0 638.7h0M795.3 720.2h0M841.9 641.4h0M837.8 630.4h0M819.9 776.2h0M862.5 703.3h0M817.6 646.4h0M787.8 677.3h0M836.4 681.1h0M792.7 653.6h0M824.9 679.4h0M832.5 653.1h0M821.8 770.1h0M818.6 734.7h0M853.9 669.7h0M800.8 688.2h0M750.1 620.7h0M792.8 655.3h0M847.4 665.7h0M850.4 648.0h0M826.0 627.8h0M835.2 716.1h0M817.3 700.7h0M798.2 675.2h0M822.4 635.3h0M851.1 620.7h0M806.6 654.4h0M800.8 677.3h0M741.3 615.5h0M808.6 688.5h0M799.8 660.8h0M796.4 658.9h0M717.0 645.2h0M845.3 625.4h0M800.9 692.2h0M819.9 683.4h0M839.7 716.1h0M823.0 769.7h0M794.5 674.9h0M848.9 654.5h0M845.6 692.2h0M798.1 693.2h0M821.0 687.6h0M838.5 662.2h0M822.1 660.8h0M851.3 642.8h0M842.3 691.1h0M733.7 603.7h0M859.4 648.4h0M857.7 703.2h0M835.7 679.4h0M803.7 704.3h0M845.1 628.9h0M806.5 706.6h0M802.1 730.4h0M824.8 663.1h0M843.5 692.7h0M690.1 686.3h0M838.4 689.6h0M750.8 622.4h0M821.7 764.5h0M838.0 645.4h0M803.0 653.6h0M787.2 656.1h0M817.0 672.2h0M827.3 644.2h0M822.9 756.7h0M845.3 671.6h0M833.0 693.5h0M783.9 660.4h0M747.1 620.3h0M803.9 687.3h0M787.7 695.3h0M785.9 679.5h0M831.3 693.0h0M803.3 733.7h0M813.5 669.6h0M796.6 705.3h0M849.3 647.3h0M811.1 653.6h0M847.0 641.3h0M805.1 713.1h0M802.5 708.3h0M834.4 628.0h0M823.5 757.2h0M787.8 666.4h0M797.8 654.0h0M842.8 681.6h0M805.3 662.7h0M852.6 654.6h0M814.9 644.7h0M840.0 644.7h0M831.3 647.3h0M801.4 650.9h0M858.3 712.1h0M781.6 676.4h0M840.3 684.3h0M826.7 668.9h0M858.7 711.5h0M852.7 674.7h0M810.9 664.3h0M817.0 716.2h0M810.2 727.0h0M804.9 713.8h0M851.3 687.3h0M807.0 710.7h0M846.7 673.8h0M847.6 613.1h0M841.0 685.0h0M743.8 618.2h0M849.2 635.5h0M838.9 659.5h0M844.9 658.3h0M816.0 668.2h0M818.6 740.7h0M822.6 638.8h0M822.2 712.3h0M783.0 688.3h0M848.9 672.8h0M824.1 651.3h0M806.9 658.7h0M837.5 646.3h0M852.0 643.2h0M822.5 630.0h0M824.7 651.3h0M860.5 627.6h0M814.8 687.0h0M860.5 702.3h0M856.6 643.5h0M789.7 721.0h0M833.4 646.8h0M821.5 768.2h0M822.9 669.6h0M794.3 667.8h0M851.3 640.0h0M847.8 626.3h0M859.0 713.6h0M739.3 601.3h0M796.5 675.7h0M863.4 650.0h0M830.3 644.8h0M820.9 763.1h0M788.9 659.2h0M795.2 706.0h0M824.7 637.9h0M833.7 679.2h0M847.7 609.7h0M863.7 686.2h0M826.7 708.7h0M834.6 619.8h0M799.0 653.2h0M834.6 633.7h0M798.3 653.8h0M708.2 670.3h0M821.8 714.4h0M855.3 664.0h0M819.2 770.0h0M838.2 681.0h0M861.6 650.3h0M761.1 663.2h0M849.5 681.5h0M827.1 692.4h0M848.7 676.0h0M760.4 662.1h0M809.4 648.8h0M816.9 711.2h0M825.4 633.8h0M831.8 685.2h0M785.4 681.1h0M795.5 698.7h0M843.1 612.1h0M791.5 682.8h0M809.9 670.9h0M808.4 688.0h0M818.1 739.4h0M801.0 649.6h0M840.1 657.1h0M834.3 674.1h0M804.9 694.9h0M837.6 639.2h0M810.1 646.1h0M838.5 618.9h0M820.9 762.3h0M841.0 680.1h0M804.6 718.2h0M850.3 620.6h0M862.5 654.0h0M722.4 584.2h0M850.0 667.8h0M740.8 605.3h0M809.6 677.4h0M845.8 659.5h0M798.7 693.7h0M784.2 681.9h0M790.4 701.9h0M855.3 674.9h0M782.6 661.7h0M848.9 705.0h0M842.4 702.1h0M839.1 622.0h0M843.2 663.7h0M818.6 705.1h0M800.5 654.3h0M817.5 650.6h0M858.3 711.1h0M785.5 664.5h0M792.4 664.3h0M835.3 655.8h0M795.6 657.7h0M803.6 705.3h0M805.5 694.0h0M836.9 660.1h0M837.0 635.8h0M793.0 675.0h0M845.1 690.1h0M848.7 694.9h0M820.5 768.1h0M808.4 717.4h0M833.6 720.0h0M836.1 647.3h0M832.4 654.5h0M807.4 691.1h0M807.1 696.1h0M825.9 648.7h0M826.6 704.3h0M782.5 664.8h0M804.3 648.6h0M837.7 632.6h0M826.1 667.4h0M821.0 769.0h0M796.0 687.9h0M829.8 681.1h0M789.4 703.2h0M792.0 669.5h0M837.5 665.4h0M824.6 697.5h0M798.2 698.0h0M817.7 641.2h0M861.5 676.2h0M811.4 697.7h0M822.2 768.4h0M824.2 643.8h0M844.7 680.0h0M830.7 640.3h0M858.5 709.5h0M697.7 661.2h0M842.3 668.0h0M828.5 651.0h0M808.5 678.5h0M823.1 707.3h0M804.6 660.0h0M790.6 703.0h0M844.8 675.3h0M820.5 760.9h0M840.6 651.6h0M859.3 691.7h0M856.5 655.9h0M823.4 656.1h0M857.0 655.3h0M822.3 770.3h0M838.6 622.3h0M830.8 658.9h0M816.2 647.3h0M812.7 659.2h0M846.0 688.1h0M783.9 662.7h0M820.4 777.3h0M819.8 687.0h0M806.6 709.1h0M810.7 682.1h0M820.5 760.2h0M833.5 680.7h0M806.3 701.3h0M851.4 684.0h0M829.8 689.6h0M826.5 629.6h0M859.3 635.8h0M864.7 671.8h0M820.7 759.3h0M818.3 667.1h0M838.7 689.7h0M842.8 683.9h0M860.9 666.9h0M732.8 602.4h0M806.0 731.0h0M815.1 669.3h0M833.9 686.7h0M818.2 697.6h0M806.1 686.7h0M834.3 640.1h0M820.8 700.1h0M836.5 718.9h0M840.2 675.4h0M807.3 672.6h0M854.0 681.8h0M808.9 689.7h0M804.5 678.3h0M858.2 649.0h0M819.5 761.3h0M837.1 664.7h0M744.9 622.1h0M824.0 640.0h0M850.8 630.9h0M854.8 700.6h0M825.3 705.4h0M833.3 630.1h0M796.4 692.0h0M843.1 634.9h0M815.2 678.2h0M835.1 656.3h0M706.5 586.2h0M811.1 724.8h0M820.8 731.2h0M800.2 718.6h0M851.2 613.0h0M845.4 689.1h0M815.2 694.4h0M747.2 620.9h0M804.9 704.7h0M830.9 675.7h0M840.1 622.3h0M815.6 681.6h0M821.9 763.6h0M789.7 656.9h0M804.3 709.3h0M789.9 673.4h0M843.8 652.7h0M819.3 764.7h0M842.4 670.8h0M792.0 721.3h0M851.2 674.0h0M836.0 631.1h0M852.9 673.9h0M795.1 685.8h0M857.0 681.7h0M815.8 644.9h0M816.6 654.0h0M809.4 724.0h0M822.3 719.0h0M796.6 708.2h0M826.9 722.0h0M803.2 661.0h0M807.3 672.6h0M834.2 701.7h0M721.3 652.7h0M828.5 654.6h0M865.5 644.0h0M819.3 765.4h0M820.4 744.9h0M825.2 672.4h0M814.8 665.0h0M846.3 656.1h0M835.8 621.0h0M806.2 666.6h0M835.1 702.2h0M803.6 683.6h0M860.4 648.4h0M850.9 635.0h0M714.1 607.1h0M850.3 678.1h0M847.5 707.9h0M822.6 764.4h0M834.5 660.2h0M841.4 696.9h0M830.1 674.4h0M849.5 643.6h0M826.6 715.2h0M805.9 654.7h0M822.5 699.2h0M841.1 691.5h0M829.0 685.6h0M815.4 693.9h0M835.8 645.5h0M816.0 703.6h0M785.7 703.5h0M822.5 763.7h0M797.4 698.9h0M844.4 617.5h0M807.0 684.0h0M842.7 646.2h0M810.3 722.7h0M786.1 675.1h0M814.6 714.4h0M805.7 679.5h0M780.2 649.8h0M755.7 636.4h0M861.6 656.2h0M823.8 722.8h0M839.4 650.1h0M833.2 625.8h0M853.4 698.2h0M831.8 709.8h0M797.9 708.4h0M817.8 671.1h0M786.5 676.7h0M803.9 667.4h0M821.3 769.5h0M817.6 770.0h0M822.0 772.2h0M831.5 687.2h0M812.0 718.8h0M838.1 654.2h0M851.6 618.6h0M859.8 687.0h0M721.6 572.1h0M836.6 655.2h0M842.3 702.1h0M862.7 684.3h0M796.0 670.0h0M831.4 629.5h0M803.3 672.9h0M746.2 618.3h0M821.2 746.0h0M819.4 680.7h0M817.0 735.7h0M844.3 697.3h0M829.7 625.7h0M819.3 692.7h0M836.2 634.9h0M802.9 691.0h0M779.8 664.1h0M798.7 655.9h0M851.6 670.2h0M846.4 677.6h0M829.5 726.0h0M844.8 646.5h0M822.9 651.4h0M828.2 689.5h0M820.2 670.8h0M857.4 692.1h0M831.7 640.8h0M819.4 680.5h0M829.1 649.6h0M804.7 673.9h0M849.7 649.0h0M832.8 629.3h0M845.3 655.0h0M825.8 700.9h0M817.5 710.1h0M806.7 708.4h0M824.2 688.2h0M797.8 665.2h0M813.0 684.6h0M734.8 616.3h0M828.7 649.7h0M786.6 665.2h0M855.6 682.0h0M809.7 688.3h0M815.7 693.3h0M822.1 770.8h0M831.3 632.3h0M842.3 643.4h0M859.9 712.5h0M824.6 773.0h0M806.2 680.0h0M837.6 645.5h0M840.7 655.3h0M796.4 690.3h0M701.4 634.1h0M833.5 650.8h0M848.7 678.4h0M830.7 700.7h0M835.9 709.9h0M830.7 671.0h0M807.4 660.2h0M820.0 696.2h0M826.0 764.6h0M821.2 723.5h0M838.8 675.3h0M839.1 652.8h0M811.9 691.8h0M802.3 656.7h0M785.9 673.5h0M745.5 619.2h0M782.7 668.4h0M837.0 636.2h0M814.5 719.7h0M829.2 643.9h0M842.1 670.3h0M795.4 702.1h0M805.2 682.7h0M823.8 672.9h0M814.1 717.0h0M803.8 685.4h0M804.5 699.7h0M667.4 586.4h0M796.3 715.0h0M816.0 711.0h0M795.0 662.1h0M847.5 700.9h0M847.9 634.8h0M845.9 699.1h0M820.9 682.7h0M815.5 665.7h0M848.0 638.2h0M849.1 680.6h0M853.1 629.4h0M836.5 639.7h0M820.8 769.3h0" stroke="#a886e8" stroke-width="1.7" stroke-linecap="round" fill="none"/>
<path d="M817.3 699.1h0M848.3 667.8h0M823.1 666.9h0M848.9 635.9h0M819.4 667.5h0M796.9 720.1h0M849.6 703.3h0M824.0 678.0h0M814.3 649.8h0M799.9 678.3h0M837.7 668.5h0M843.2 681.8h0M837.7 684.2h0M813.5 654.8h0M806.1 660.1h0M835.6 660.7h0M783.0 674.9h0M792.9 677.3h0M820.7 732.5h0M834.1 639.2h0M804.3 665.4h0M842.3 672.9h0M835.2 658.3h0M838.6 624.0h0M778.5 654.1h0M840.4 659.4h0M842.8 700.5h0M811.2 693.6h0M839.6 623.6h0M819.8 761.7h0M825.8 643.4h0M844.9 693.1h0M714.0 569.6h0M746.2 620.2h0M707.2 725.0h0M745.3 617.9h0M746.4 620.8h0M852.6 653.9h0M832.8 658.3h0M819.2 688.6h0M848.6 669.2h0M832.5 657.5h0M826.8 724.5h0M845.2 646.3h0M821.2 649.5h0M799.2 674.0h0M798.9 714.7h0M846.6 701.7h0M829.3 646.2h0M818.8 775.8h0M860.9 707.9h0M801.4 713.4h0M848.6 651.4h0M815.0 679.8h0M822.3 775.3h0M845.0 617.2h0M794.4 664.3h0M853.1 679.2h0M818.8 759.1h0M843.3 643.7h0M807.2 697.6h0M803.9 714.7h0M849.5 695.3h0M834.6 681.7h0M841.4 668.5h0M828.6 639.1h0M833.8 704.0h0M846.9 634.5h0M842.8 644.9h0M821.5 767.1h0M808.7 704.8h0M821.7 701.2h0M805.2 692.7h0M844.9 658.2h0M812.1 649.7h0M810.1 653.8h0M846.5 669.6h0M813.6 721.5h0M838.4 676.4h0M842.6 627.4h0M801.8 684.9h0M849.2 651.0h0M716.0 638.5h0M783.6 686.1h0M835.9 629.1h0M855.6 706.0h0M858.3 628.2h0M804.3 700.7h0M824.9 654.1h0M839.6 706.2h0M822.5 679.0h0M841.3 647.1h0M853.4 633.1h0M842.0 699.5h0M859.1 634.4h0M797.7 658.9h0M815.9 665.4h0M830.1 692.6h0M795.0 651.3h0M822.7 718.5h0M792.9 714.7h0M817.5 651.8h0M840.3 630.3h0M810.4 656.4h0M806.8 711.5h0M853.6 705.4h0M833.5 709.5h0M856.2 660.9h0M810.1 669.3h0M846.6 634.0h0M808.4 698.2h0M816.6 643.6h0M811.1 716.2h0M847.9 662.9h0M834.8 673.1h0M790.0 661.7h0M845.9 620.3h0M843.7 677.9h0M800.3 673.8h0M821.4 778.4h0M794.8 679.1h0M785.6 700.0h0M830.0 693.9h0M822.9 678.0h0M821.4 751.7h0M811.8 680.6h0M855.7 618.4h0M843.7 646.6h0M830.4 699.5h0M805.9 673.8h0M813.7 722.3h0M813.3 679.8h0M845.3 653.8h0M809.5 714.4h0M822.0 773.4h0M829.9 661.6h0M759.0 653.1h0M799.0 660.1h0M806.8 712.1h0M802.5 679.8h0M813.8 722.3h0M817.3 735.0h0M824.6 701.6h0M788.4 711.7h0M845.2 613.1h0M837.6 651.8h0M854.8 700.3h0M851.3 668.4h0M784.1 697.1h0M821.1 687.0h0M828.7 650.8h0M858.4 653.3h0M840.8 702.4h0M825.5 630.9h0M810.1 699.6h0M808.4 716.3h0M847.8 641.5h0M839.4 664.0h0M782.3 684.0h0M813.4 709.5h0M746.3 619.4h0M813.8 712.7h0M835.2 696.1h0M819.4 676.7h0M854.0 683.8h0M807.4 717.9h0M817.3 713.0h0M803.9 708.7h0M804.4 677.7h0M825.7 650.4h0M825.0 707.3h0M798.6 729.4h0M839.8 663.3h0M785.1 691.1h0M817.9 646.3h0M816.2 686.6h0M837.9 649.6h0M825.7 638.8h0M850.9 636.1h0M850.4 634.6h0M854.4 618.2h0M747.9 630.1h0M820.2 777.0h0M828.9 679.7h0M809.7 668.4h0M808.1 693.1h0M800.4 699.4h0M814.6 660.5h0M840.3 646.3h0M846.5 664.6h0M828.8 654.5h0M759.8 661.0h0M797.6 655.5h0M791.9 676.0h0M747.1 621.2h0M785.9 655.1h0M828.3 643.3h0M839.5 668.9h0M853.9 630.9h0M809.9 686.9h0M784.0 660.3h0M800.9 696.1h0M787.0 701.6h0M820.3 765.3h0M797.3 673.3h0M806.5 651.0h0M813.8 705.6h0M748.1 617.4h0M834.2 647.7h0M705.5 570.1h0M840.9 671.2h0M836.3 643.6h0M819.1 637.9h0M805.3 731.3h0M798.3 672.1h0M830.9 684.7h0M694.3 593.8h0M798.1 679.5h0M838.1 713.3h0M832.4 705.9h0M794.7 657.1h0M791.0 686.2h0M855.6 685.4h0M817.6 685.0h0M821.1 770.8h0M799.9 701.0h0M821.3 776.7h0M820.9 663.1h0M856.7 688.7h0M849.8 629.8h0M851.5 679.2h0M666.2 583.0h0M817.2 671.1h0M837.1 634.6h0M841.0 613.7h0M748.1 541.3h0M802.1 688.6h0M835.6 654.9h0M848.4 631.9h0M799.7 696.7h0M830.4 691.6h0M811.4 732.5h0M819.8 754.9h0M841.2 628.0h0M812.9 717.1h0M785.0 648.8h0M820.7 709.7h0M862.0 636.8h0M795.1 652.2h0M836.5 641.3h0M853.6 630.4h0M783.1 667.9h0M818.3 764.2h0M790.5 700.0h0M816.3 714.1h0M800.1 712.5h0M806.6 715.7h0M803.1 682.8h0M846.9 654.5h0M842.2 706.8h0M834.8 629.7h0M820.7 648.5h0M842.7 656.1h0M817.9 774.1h0M808.9 728.0h0M821.5 751.7h0M823.4 767.5h0M791.4 699.1h0M818.6 711.2h0M838.2 695.1h0M814.0 644.1h0M839.3 637.6h0M696.6 619.1h0M788.0 710.2h0M858.3 710.5h0M823.7 656.3h0M794.1 692.9h0M801.4 699.8h0M830.2 696.6h0M833.2 717.7h0M801.2 696.5h0M793.2 694.1h0M811.6 663.0h0M827.5 695.5h0M800.7 692.4h0M783.9 647.3h0M799.8 675.4h0M828.3 678.7h0M824.4 643.5h0M841.3 678.6h0M834.6 652.8h0M800.0 686.3h0M794.8 696.1h0M822.8 764.5h0M804.2 649.1h0M781.1 647.2h0M813.0 655.7h0M806.8 654.1h0M800.5 669.6h0M845.0 684.0h0M845.8 643.2h0M835.6 674.6h0M841.4 616.5h0M810.8 724.3h0M823.0 638.1h0M824.6 756.0h0M822.8 696.5h0M842.1 705.0h0M786.5 686.3h0M799.2 722.3h0M840.7 633.9h0M838.5 672.4h0M852.2 695.6h0M792.3 666.4h0M814.5 718.2h0M837.7 645.7h0M822.0 778.2h0M836.8 649.7h0M802.4 713.5h0M799.8 729.3h0M850.5 670.9h0M834.1 647.5h0M784.0 649.3h0M856.5 649.8h0M842.2 619.0h0M812.7 660.7h0M860.4 674.5h0M836.6 625.6h0M664.3 575.0h0M798.1 677.5h0M849.9 642.0h0M804.6 716.7h0M824.4 646.0h0M803.8 698.1h0M830.4 713.6h0M833.3 645.2h0M787.3 646.8h0M842.7 664.7h0M806.2 699.0h0M786.4 659.7h0M819.5 718.5h0M834.6 709.5h0M856.0 678.2h0M805.3 705.3h0M848.5 629.6h0M843.0 616.7h0M812.7 704.5h0M797.6 705.0h0M854.4 711.1h0M837.5 651.7h0M792.9 664.5h0M850.5 683.9h0M826.2 681.2h0M790.0 712.7h0M814.6 715.1h0M854.1 697.7h0M833.2 718.6h0M804.1 697.2h0M789.9 653.2h0M793.8 653.4h0M820.5 762.5h0M807.2 686.9h0M818.4 720.4h0M840.7 684.8h0M825.9 666.6h0M858.9 662.6h0M796.4 671.5h0M829.5 670.9h0M781.7 681.1h0M802.8 678.5h0M841.6 623.3h0M839.7 637.6h0M807.8 703.9h0M842.0 689.3h0M834.5 680.7h0M839.8 699.4h0M803.3 706.5h0M797.5 701.5h0M807.7 692.0h0M814.6 702.9h0M795.7 722.0h0M863.9 657.7h0M842.1 705.3h0M793.7 697.8h0M839.3 718.2h0M812.8 702.7h0M802.2 658.0h0M808.2 689.8h0M828.4 654.2h0M807.8 698.4h0M778.6 658.3h0M810.5 683.5h0M808.8 647.9h0M796.0 708.7h0M823.0 721.5h0M704.9 642.2h0M814.1 651.9h0M826.5 651.4h0M830.4 702.7h0M818.3 666.8h0M819.1 685.8h0M819.0 645.7h0M847.6 654.0h0M853.0 678.4h0M706.6 623.7h0M789.5 696.3h0M817.7 655.1h0M810.9 705.9h0M825.8 666.1h0M816.2 702.7h0M813.2 647.5h0M822.8 646.1h0M829.3 656.2h0M815.9 672.6h0M811.5 668.2h0M796.6 681.0h0M821.2 769.7h0M844.8 681.6h0M848.3 614.9h0M815.4 722.2h0M826.2 679.1h0M828.2 661.6h0M802.7 676.6h0M803.0 716.8h0M739.9 549.1h0M841.8 638.7h0M852.3 668.9h0M824.3 754.0h0M834.4 690.4h0M828.5 640.6h0M835.0 661.6h0M825.0 658.7h0M789.0 688.0h0M836.5 664.0h0M778.8 658.1h0M829.0 668.9h0M809.3 668.6h0M853.3 641.1h0M840.4 664.4h0M802.9 660.8h0M790.8 668.7h0M837.6 685.4h0M810.9 703.9h0M804.8 737.6h0M858.2 635.3h0M809.5 688.2h0M810.1 690.1h0M841.7 695.1h0M852.5 689.9h0M824.0 659.3h0M807.5 685.5h0M827.6 717.2h0M842.8 673.4h0M836.8 709.5h0M834.6 654.6h0M850.8 678.5h0M831.3 636.6h0M841.1 686.4h0M823.5 696.4h0M856.9 629.3h0M844.0 672.6h0M797.4 690.3h0M826.3 676.5h0M853.2 624.4h0M837.2 653.8h0M793.0 700.2h0M793.8 659.5h0M833.4 703.0h0M821.5 686.7h0M811.0 702.2h0M817.4 685.5h0M801.2 679.6h0M789.2 713.6h0M803.5 670.2h0M795.7 690.2h0M812.5 719.0h0M821.4 770.6h0M801.8 741.7h0M824.3 675.9h0M803.6 702.6h0M790.5 658.9h0M840.6 630.0h0M837.9 647.4h0M835.5 723.2h0M840.5 617.3h0M808.5 675.2h0M839.3 638.3h0M782.5 662.7h0M852.3 666.2h0M847.0 690.1h0M791.7 677.0h0M811.2 717.3h0M846.1 614.3h0M857.9 677.1h0M831.9 651.3h0M839.2 677.7h0M846.6 653.8h0M833.3 662.9h0M817.7 702.7h0M800.5 673.3h0M790.0 666.8h0M809.0 673.5h0M843.4 704.4h0M834.9 624.5h0M853.4 653.5h0M820.5 773.5h0M841.2 642.0h0M803.4 686.7h0M822.5 634.5h0M806.6 678.3h0M851.3 654.9h0M824.6 655.6h0M833.3 722.8h0M820.2 747.5h0M805.1 661.1h0M841.3 649.7h0M827.5 685.7h0M829.2 634.2h0M800.5 699.4h0M792.3 702.6h0M829.7 657.4h0M810.5 697.8h0M847.5 644.6h0M837.6 696.3h0M850.4 642.0h0M804.8 685.6h0M813.8 712.8h0M839.5 703.5h0M820.0 770.4h0M823.8 649.6h0M838.0 666.2h0M832.6 667.1h0M836.6 721.4h0M837.7 623.3h0M790.3 664.9h0M850.3 662.0h0M791.3 662.2h0M843.4 686.8h0M819.1 666.9h0M845.3 647.0h0M817.9 770.2h0M825.1 753.4h0M828.0 706.4h0M844.6 658.0h0M825.2 681.4h0M813.7 692.2h0M839.5 662.5h0M840.7 679.4h0M832.3 660.9h0M839.4 688.8h0M818.4 668.7h0M833.3 700.0h0M812.8 683.9h0M794.0 706.9h0M796.4 680.6h0M838.2 644.8h0M804.5 656.9h0M831.3 680.2h0M779.9 654.6h0M809.5 722.6h0M810.6 688.4h0M814.2 704.6h0M822.6 775.5h0M832.0 716.3h0M832.2 645.6h0M803.2 681.8h0M825.7 763.0h0M803.4 686.8h0M850.4 705.3h0M816.1 693.1h0M844.6 650.6h0M804.1 672.9h0M860.9 684.3h0M810.2 713.9h0M796.3 664.2h0M841.2 708.5h0M779.7 663.2h0M842.1 680.8h0M784.4 671.1h0M824.1 685.4h0M823.1 674.5h0M788.8 690.4h0M813.9 714.3h0M843.9 636.2h0M800.2 689.6h0M836.0 629.4h0M832.2 671.5h0M826.4 682.8h0M805.7 670.3h0M802.1 697.5h0M801.6 716.1h0M809.4 698.1h0M802.2 684.6h0M811.9 646.8h0M823.8 642.8h0M806.6 705.3h0M842.2 676.6h0M797.7 700.5h0M825.9 704.5h0M839.4 619.6h0M818.2 670.7h0M823.4 770.5h0M833.3 661.3h0M844.8 671.6h0M821.6 768.7h0M843.3 660.1h0M787.1 713.5h0M821.0 669.8h0M813.4 709.1h0M802.4 693.1h0M810.9 701.6h0M800.2 665.3h0M821.7 647.9h0M794.8 708.2h0M831.1 653.9h0M799.5 676.2h0M810.6 702.0h0M819.3 654.7h0M844.9 655.0h0M804.2 711.0h0M805.8 694.6h0M791.7 696.0h0M849.4 694.3h0M814.1 721.9h0M792.5 703.9h0M829.0 697.8h0M793.3 682.3h0M818.2 770.9h0M857.1 661.3h0M805.4 673.0h0M819.6 680.7h0M820.8 699.0h0M820.9 768.0h0M815.6 701.1h0M816.4 643.3h0M844.4 681.4h0M811.9 650.9h0M799.8 682.9h0M844.6 665.8h0M844.9 647.3h0M789.2 709.0h0M791.4 660.8h0M862.9 649.1h0M822.9 685.0h0M804.9 665.3h0M794.1 693.4h0M811.1 712.9h0M817.8 648.6h0M838.5 688.2h0M798.1 697.5h0M829.5 685.4h0M813.4 684.8h0M830.2 685.7h0M791.6 720.1h0M820.1 648.5h0M828.3 666.9h0M811.9 667.9h0M814.4 721.7h0M791.6 677.4h0M823.1 756.1h0M791.8 679.3h0M791.2 694.0h0M823.2 711.7h0M819.5 687.4h0M813.4 704.3h0M806.5 706.4h0M830.0 653.3h0M837.2 637.6h0M820.5 776.6h0M802.6 693.8h0M835.8 617.8h0M794.4 653.2h0M822.6 703.3h0M843.5 651.5h0M790.8 700.1h0" stroke="#9a73ed" stroke-width="1.7" stroke-linecap="round" fill="none"/>
<path d="M849.4 612.7h0M841.6 627.6h0M799.9 702.7h0M821.7 755.8h0M789.3 712.8h0M831.3 716.8h0M814.8 673.2h0M834.8 691.8h0M809.8 721.4h0M837.7 698.4h0M790.7 660.7h0M809.2 713.3h0M835.4 690.6h0M805.7 698.3h0M838.9 700.3h0M807.9 687.1h0M786.2 691.7h0M846.7 636.1h0M812.4 685.9h0M840.8 722.5h0M811.5 648.1h0M793.2 676.5h0M839.6 627.8h0M860.8 634.4h0M836.1 654.1h0M809.9 693.6h0M855.7 663.6h0M821.3 770.5h0M800.7 663.5h0M820.7 777.3h0M817.9 674.3h0M831.6 643.2h0M836.9 716.0h0M846.5 623.0h0M829.5 689.4h0M830.1 685.5h0M825.5 632.7h0M812.5 657.0h0M790.1 679.2h0M838.1 636.7h0M821.3 668.0h0M810.5 669.9h0M851.5 642.5h0M822.4 648.9h0M792.1 664.9h0M813.0 659.5h0M838.9 644.1h0M794.3 692.8h0M839.4 649.6h0M796.7 653.7h0M841.9 698.3h0M793.0 676.5h0M802.4 696.3h0M790.1 669.5h0M846.8 669.7h0M828.9 680.1h0M847.2 624.6h0M826.5 679.4h0M836.3 663.8h0M822.8 639.3h0M828.7 688.2h0M803.4 688.2h0M830.1 671.7h0M813.0 676.7h0M830.6 648.3h0M834.0 680.4h0M791.5 718.5h0M844.9 654.6h0M799.0 704.0h0M788.3 688.0h0M836.6 625.2h0M853.5 625.9h0M795.1 686.6h0M800.0 706.9h0M781.9 648.7h0M841.3 703.2h0M787.3 706.0h0M796.7 661.5h0M835.8 700.1h0M826.8 639.1h0M819.4 719.2h0M826.5 668.2h0M827.1 668.2h0M830.9 712.7h0M803.7 738.6h0M814.7 691.3h0M788.5 661.2h0M798.9 676.4h0M849.4 687.3h0M823.7 769.0h0M804.6 687.0h0M788.5 710.6h0M811.9 671.8h0M787.8 679.4h0M809.9 666.8h0M844.3 654.3h0M810.2 716.2h0M786.6 664.7h0M829.7 627.1h0M801.4 720.4h0M782.1 678.5h0M810.7 717.3h0M809.3 648.5h0M801.6 685.3h0M805.7 673.4h0M852.5 675.2h0M858.8 709.7h0M817.1 666.5h0M822.3 760.9h0M813.6 705.9h0M805.6 695.1h0M786.6 692.4h0M847.1 641.8h0M821.7 664.8h0M835.2 649.5h0M840.3 699.8h0M823.3 781.0h0M818.0 671.0h0M847.9 629.5h0M793.6 706.9h0M843.5 652.8h0M819.3 643.3h0M850.5 695.8h0M806.7 653.2h0M827.0 670.6h0M828.7 662.7h0M793.5 668.3h0M810.4 704.3h0M791.2 657.5h0M830.6 678.1h0M799.3 687.5h0M829.5 700.0h0M837.2 699.5h0M836.8 646.8h0M793.2 722.5h0M806.0 695.2h0M788.5 652.4h0M808.7 675.3h0M784.0 681.7h0M828.6 665.3h0M834.9 684.7h0M808.6 677.3h0M805.1 679.6h0M795.8 681.2h0M792.2 667.9h0M828.2 650.9h0M821.4 763.8h0M836.1 634.0h0M828.6 680.4h0M821.7 761.4h0M828.4 691.2h0M833.9 717.8h0M823.4 654.0h0M839.9 655.2h0M824.6 652.0h0M802.5 672.3h0M849.4 672.7h0M831.6 634.1h0M820.5 682.6h0M781.6 668.7h0M847.3 671.5h0M827.5 636.1h0M827.7 657.2h0M819.2 752.2h0M778.1 652.5h0M825.0 762.7h0M822.5 767.8h0M830.0 683.1h0M811.9 660.0h0M824.5 672.0h0M806.6 719.0h0M817.8 669.2h0M831.2 718.7h0M846.4 632.0h0M802.1 654.3h0M843.7 626.6h0M815.8 685.8h0M824.8 661.0h0M828.1 710.5h0M816.0 701.3h0M786.2 690.9h0M800.5 686.4h0M830.7 675.8h0M839.8 673.8h0M860.8 698.5h0M789.1 676.6h0M800.6 653.7h0M845.8 640.1h0M778.5 649.5h0M811.9 693.2h0M821.8 779.7h0M830.7 643.5h0M804.6 720.6h0M801.9 667.4h0M829.9 650.3h0M832.3 686.3h0M801.7 710.7h0M814.0 721.1h0M787.4 651.4h0M843.3 634.7h0M814.2 685.1h0M835.4 715.0h0M834.4 660.2h0M843.8 704.0h0M852.8 695.3h0M813.9 682.4h0M797.2 690.8h0M836.4 679.3h0M822.7 680.6h0M821.9 756.5h0M830.8 665.7h0M816.1 669.7h0M801.4 716.6h0M847.7 616.4h0M817.3 663.2h0M827.6 660.4h0M835.2 687.6h0M798.9 702.9h0M814.1 682.2h0M824.3 704.3h0M820.2 672.9h0M799.9 675.3h0M822.7 687.8h0M794.0 704.3h0M809.6 670.6h0M800.0 685.7h0M782.5 657.8h0M823.8 635.4h0M800.4 699.9h0M826.6 756.1h0M830.4 705.4h0M842.7 629.3h0M838.2 651.7h0M823.0 710.2h0M822.3 686.0h0M807.9 649.5h0M842.7 653.7h0M815.8 671.3h0M790.1 715.0h0M865.6 648.6h0M789.7 699.9h0M834.1 702.9h0M846.5 628.3h0M843.2 620.6h0M856.9 634.8h0M855.1 678.9h0M810.2 685.4h0M815.5 675.7h0M806.4 675.6h0M852.8 638.2h0M859.0 649.0h0M811.0 693.3h0M821.7 678.2h0M820.3 669.2h0M814.7 685.3h0M835.3 621.6h0M836.6 663.1h0M788.4 710.2h0M849.8 702.0h0M815.7 682.7h0M830.7 652.7h0M800.0 718.9h0M814.0 676.1h0M786.6 644.4h0M827.0 632.8h0M848.6 676.2h0M841.6 652.5h0M847.2 647.9h0M802.6 699.6h0M808.2 699.8h0M782.5 685.7h0M835.8 648.9h0M822.9 765.4h0M838.9 650.0h0M791.7 679.1h0M818.6 669.9h0M818.5 641.7h0M823.0 674.4h0M797.7 681.9h0M793.4 699.9h0M842.8 702.6h0M839.4 651.6h0M794.5 679.2h0M817.8 642.0h0M808.2 698.2h0M834.8 628.1h0M836.5 628.6h0M810.7 689.7h0M788.5 673.9h0M838.1 722.7h0M859.5 711.0h0M836.9 660.1h0M789.1 659.5h0M829.3 702.8h0M797.0 676.8h0M821.1 656.3h0M847.0 645.3h0M810.1 651.1h0M819.4 691.5h0M789.8 673.4h0M843.8 657.3h0M812.9 706.1h0M803.9 713.1h0M813.4 651.0h0M792.7 708.7h0M827.3 657.3h0M796.3 674.4h0M792.6 722.8h0M839.5 697.1h0M803.5 678.8h0M820.8 639.1h0M791.7 711.5h0M788.0 717.2h0M831.2 644.0h0M806.1 687.1h0M808.8 702.8h0M830.2 666.0h0M846.2 640.1h0M791.2 687.2h0M795.4 693.1h0M795.0 721.9h0M805.2 673.9h0M813.0 691.5h0M819.8 769.2h0M843.1 654.3h0M844.4 657.5h0M794.0 710.5h0M791.7 697.4h0M799.3 701.1h0M795.6 718.6h0M806.6 667.7h0M794.6 672.0h0M799.9 675.7h0M822.7 648.7h0M790.4 668.4h0M827.7 693.5h0M808.8 699.3h0M846.7 683.5h0M828.8 677.7h0M831.7 635.1h0M840.6 666.1h0M801.3 679.5h0M834.8 650.5h0M786.7 690.4h0M816.1 678.0h0M814.2 673.9h0M837.0 675.2h0M787.3 654.2h0M815.3 689.6h0M861.5 653.4h0M845.4 684.4h0M789.2 709.3h0M826.9 682.6h0M844.3 662.3h0M795.5 707.5h0M812.7 716.9h0M797.4 690.3h0M802.8 660.6h0M781.8 665.8h0M803.3 708.2h0M844.6 686.7h0M805.8 690.5h0M790.6 663.1h0M820.6 754.8h0M816.3 711.1h0M800.0 694.4h0M838.9 645.0h0M841.3 676.9h0M838.0 632.8h0M809.3 650.2h0M799.3 665.8h0M817.2 667.6h0M806.1 708.7h0M841.0 668.2h0M828.5 709.9h0M814.5 689.2h0M820.3 749.0h0M780.5 672.3h0M788.9 703.3h0M832.1 642.2h0M823.0 699.3h0M789.0 654.9h0M824.6 694.4h0M851.0 702.7h0M827.6 702.3h0M820.1 681.4h0M825.4 694.1h0M844.2 669.4h0M799.0 663.3h0M828.6 676.6h0M778.8 650.6h0M823.4 644.0h0M851.0 665.6h0M828.6 677.0h0M796.2 695.9h0M815.8 683.7h0M781.4 664.7h0M823.3 695.3h0M829.7 658.1h0M847.7 650.8h0M799.8 700.7h0M834.2 714.3h0M803.8 687.8h0M843.6 632.3h0M797.6 668.6h0M796.7 687.9h0M800.9 685.0h0M839.4 672.3h0M822.5 643.5h0M808.3 665.8h0M821.0 652.4h0M828.5 692.1h0M846.4 670.0h0M825.9 716.4h0M812.6 672.6h0M841.4 692.3h0M807.7 673.7h0M858.2 668.1h0M784.5 653.7h0M812.7 676.3h0M807.4 710.7h0M797.4 681.0h0M827.5 632.8h0M841.8 703.3h0M826.1 674.3h0M802.4 671.6h0M798.9 669.0h0M820.3 693.9h0M844.9 654.0h0M818.7 673.5h0M790.8 688.9h0M797.2 660.1h0M831.3 647.9h0M817.7 689.9h0M834.0 668.2h0M790.5 696.4h0M841.5 620.8h0M824.3 687.2h0M849.9 647.0h0M836.5 637.4h0M793.4 702.0h0M815.4 650.9h0M809.0 691.5h0M825.8 632.8h0M802.9 708.2h0M784.4 694.2h0M807.9 688.8h0M815.0 709.7h0M812.0 695.9h0M804.3 659.6h0M809.3 715.8h0M820.4 765.3h0M805.7 697.5h0M847.3 640.8h0M810.3 704.1h0M846.5 700.5h0M792.4 711.1h0M854.2 699.3h0M803.4 706.8h0M789.1 679.7h0M830.5 635.9h0M836.3 649.4h0M813.5 672.6h0M841.4 618.4h0M814.7 682.6h0M820.5 669.2h0M794.6 701.9h0M823.3 773.7h0M787.4 706.5h0M841.4 703.5h0M792.3 722.0h0M839.8 717.9h0M812.3 685.8h0M811.7 657.7h0M818.0 676.5h0M797.3 717.9h0M788.7 692.6h0M836.7 686.9h0M836.6 627.7h0M824.4 668.3h0M793.7 690.4h0M793.3 680.8h0M826.1 679.8h0M831.1 649.5h0M811.1 693.3h0M807.3 669.5h0M833.1 650.6h0M838.7 663.4h0M801.8 698.0h0M857.8 682.0h0M799.5 683.5h0M833.6 715.3h0M780.7 658.6h0M843.7 667.1h0M808.9 686.5h0M823.4 674.0h0M796.2 654.4h0M811.6 654.5h0M824.5 690.0h0M784.8 692.0h0M800.2 700.3h0M790.1 662.8h0M794.5 693.2h0M831.8 625.7h0M820.9 717.8h0M823.1 697.8h0M833.7 671.0h0M784.1 688.6h0M825.7 675.3h0M848.4 647.8h0M807.9 707.3h0M828.7 656.4h0M826.2 682.5h0M796.8 708.3h0M828.0 635.6h0M847.4 648.2h0M836.4 673.6h0M837.3 674.9h0M823.5 693.9h0M793.9 682.6h0M783.7 680.6h0M792.7 704.0h0M807.2 689.8h0M830.5 667.2h0M797.0 695.1h0M790.0 677.6h0M836.4 690.8h0M830.9 648.0h0M844.2 681.1h0M819.3 687.9h0M845.6 652.4h0M805.3 714.3h0M820.8 709.7h0M825.0 645.6h0M846.5 683.0h0M848.0 636.1h0M817.2 656.3h0M820.1 705.7h0M844.8 693.5h0M791.1 717.4h0M813.6 721.3h0M807.2 703.2h0M809.0 692.3h0M805.9 706.7h0M797.7 702.4h0M832.8 678.5h0M793.9 693.1h0M822.7 702.7h0M808.7 694.1h0M855.3 651.8h0M820.7 771.5h0M816.4 702.7h0M845.4 638.8h0M790.3 663.9h0M841.9 699.2h0M793.9 655.4h0M794.6 669.8h0M790.1 683.0h0M812.0 718.3h0M801.8 681.9h0M827.7 640.0h0M789.6 671.3h0M786.4 700.4h0M815.7 714.6h0M821.9 761.9h0M838.4 671.8h0M810.5 715.9h0M850.0 682.0h0M817.9 652.6h0M821.1 759.3h0M821.8 767.2h0M819.7 743.8h0M836.6 713.0h0M812.1 697.3h0M795.4 662.3h0M827.1 662.4h0M786.7 690.9h0M831.7 663.5h0M802.2 699.2h0M828.7 687.0h0M841.0 681.3h0M814.5 652.2h0M804.2 662.8h0M821.1 660.0h0M808.6 650.5h0M820.5 765.4h0M828.9 681.2h0M801.2 671.7h0M811.6 654.7h0M828.2 697.0h0M839.5 640.8h0M835.0 699.0h0M834.6 647.5h0M803.9 689.8h0M831.2 682.9h0M833.1 632.2h0M845.2 707.3h0M829.1 696.6h0M789.9 705.1h0M815.8 694.7h0M805.7 673.4h0M829.9 633.2h0M810.9 672.7h0M828.1 692.5h0M806.1 715.6h0M807.6 705.0h0M782.8 686.0h0M793.7 681.2h0M779.1 665.9h0M811.8 679.6h0M829.6 639.6h0M802.0 713.2h0M790.6 695.0h0M856.4 686.4h0M802.1 664.1h0M793.2 706.5h0M827.1 699.6h0M830.9 660.6h0M844.8 667.4h0M804.1 682.7h0M792.8 709.8h0M819.8 676.6h0" stroke="#895ff1" stroke-width="1.7" stroke-linecap="round" fill="none"/>
<path d="M837.4 634.4h0M842.6 678.1h0M798.7 706.0h0M839.0 665.3h0M809.2 693.9h0M806.9 675.2h0M821.3 653.8h0M844.3 647.2h0M789.6 679.8h0M844.0 633.9h0M796.3 708.9h0M845.2 653.6h0M843.9 668.0h0M814.9 710.2h0M797.9 723.9h0M832.0 684.4h0M808.0 694.4h0M825.3 700.1h0M821.1 764.0h0M819.1 754.0h0M818.0 723.8h0M815.0 650.4h0M797.5 700.0h0M795.1 715.3h0M832.1 687.4h0M794.3 669.1h0M834.6 721.3h0M821.3 700.1h0M802.4 652.3h0M802.3 675.0h0M832.5 673.2h0M813.8 696.8h0M796.6 699.4h0M832.8 627.5h0M822.5 636.5h0M834.0 690.4h0M807.6 676.6h0M787.7 667.8h0M820.8 768.1h0M813.2 648.4h0M833.4 624.0h0M796.1 666.4h0M843.5 683.8h0M853.2 694.6h0M803.0 676.0h0M844.2 662.1h0M788.0 664.2h0M815.4 691.2h0M814.2 671.7h0M836.9 622.0h0M836.6 716.0h0M809.6 716.1h0M839.9 639.7h0M798.8 656.5h0M805.8 703.7h0M821.9 764.1h0M818.4 739.3h0M819.4 688.1h0M839.0 676.8h0M818.4 700.3h0M822.2 704.9h0M834.1 690.4h0M808.6 681.6h0M836.5 708.2h0M786.4 665.3h0M789.2 711.7h0M823.5 653.8h0M819.7 639.7h0M837.0 625.2h0M800.7 674.8h0M832.8 639.5h0M832.8 692.5h0M846.2 637.6h0M809.9 693.2h0M818.0 719.0h0M820.6 670.5h0M821.9 684.2h0M796.3 683.8h0M827.9 670.4h0M808.5 695.8h0M835.6 670.6h0M798.0 723.3h0M828.3 651.0h0M837.3 639.2h0M803.5 671.1h0M803.5 701.1h0M844.4 672.9h0M805.7 696.7h0M830.4 693.0h0M819.6 680.3h0M791.1 709.6h0M847.7 663.8h0M809.8 671.4h0M835.3 659.5h0M834.4 644.3h0M827.3 670.4h0M820.5 685.4h0M799.0 658.3h0M809.7 696.5h0M820.2 675.0h0M806.7 704.3h0M830.4 676.5h0M842.3 651.1h0M822.9 724.3h0M805.5 662.0h0M808.3 723.4h0M790.6 688.5h0M804.0 706.9h0M821.7 636.9h0M822.7 677.2h0M819.8 690.5h0M820.0 658.5h0M809.5 649.5h0M837.1 645.6h0M783.5 690.0h0M834.5 682.1h0M823.1 674.7h0M842.3 642.1h0M801.1 680.0h0M793.1 671.6h0M797.6 657.3h0M824.5 774.9h0M822.2 636.8h0M814.1 669.3h0M826.0 658.7h0M824.9 713.7h0M787.3 685.0h0M805.8 669.1h0M808.9 695.0h0M815.3 654.0h0M789.8 660.7h0M818.1 668.1h0M827.6 663.4h0M824.5 771.1h0M810.4 662.2h0M812.6 680.8h0M811.9 646.3h0M844.0 657.5h0M835.2 718.4h0M780.8 674.8h0M850.3 691.7h0M804.4 684.3h0M827.3 636.5h0M800.6 686.3h0M823.2 774.5h0M822.5 710.8h0M806.7 678.8h0M832.5 693.1h0M830.4 665.5h0M840.7 662.4h0M808.2 706.9h0M792.4 679.0h0M820.7 770.4h0M823.6 679.1h0M815.8 680.0h0M807.4 687.5h0M835.2 670.3h0M832.3 651.8h0M787.4 677.3h0M803.6 693.2h0M816.6 716.3h0M810.6 702.7h0M821.0 717.6h0M810.5 680.1h0M806.5 694.1h0M823.6 667.8h0M799.1 682.5h0M797.3 720.8h0M831.7 638.8h0M837.7 684.7h0M820.4 763.8h0M835.3 686.4h0M817.9 756.2h0M813.9 648.2h0M800.2 679.7h0M806.8 691.7h0M835.9 642.8h0M818.4 681.1h0M804.3 681.9h0M799.0 713.7h0M838.2 669.7h0M819.6 683.0h0M823.1 669.5h0M810.1 716.7h0M784.1 691.5h0M847.8 679.7h0M808.8 689.5h0M835.9 651.9h0M847.8 705.7h0M799.9 656.7h0M813.1 694.2h0M818.2 685.9h0M802.3 708.6h0M839.2 700.3h0M815.7 653.5h0M794.9 686.7h0M832.4 666.1h0M815.1 688.2h0M833.2 653.5h0M795.0 711.7h0M791.7 706.9h0M838.3 630.4h0M818.0 673.9h0M820.3 637.4h0M834.0 629.4h0M806.7 682.3h0M839.5 663.3h0M799.0 689.5h0M792.1 653.8h0M798.3 688.5h0M837.5 694.9h0M845.6 687.7h0M817.5 700.3h0M793.6 709.4h0M786.4 698.1h0M821.5 773.7h0M845.9 649.0h0M790.6 667.0h0M800.2 718.8h0M786.6 710.9h0M841.9 691.5h0M822.0 765.1h0M837.7 709.5h0M789.8 663.5h0M832.0 710.0h0M816.8 672.1h0M805.5 722.4h0M840.0 634.4h0M786.2 647.7h0M824.8 720.0h0M832.1 643.3h0M804.6 678.5h0M834.3 719.7h0M824.2 661.2h0M810.3 709.0h0M835.2 666.6h0M808.9 691.3h0M814.4 704.0h0M831.2 704.9h0M840.3 644.7h0M823.7 664.3h0M832.2 670.4h0M822.7 658.1h0M804.0 716.2h0M779.5 654.9h0M796.1 712.6h0M827.7 651.1h0M825.1 655.8h0M799.8 688.4h0" stroke="#673df8" stroke-width="1.7" stroke-linecap="round" fill="none"/>
<defs><linearGradient id="gC" x1="0" y1="1" x2="0" y2="0"><stop offset="0" stop-color="#d3d3d3"/><stop offset="0.1" stop-color="#cac1d9"/><stop offset="0.2" stop-color="#c1aede"/><stop offset="0.3" stop-color="#b69ce3"/><stop offset="0.4" stop-color="#aa89e7"/><stop offset="0.5" stop-color="#9d77ec"/><stop offset="0.6" stop-color="#8e65f0"/><stop offset="0.7" stop-color="#7c51f4"/><stop offset="0.8" stop-color="#673df8"/><stop offset="0.9" stop-color="#4926fb"/><stop offset="1" stop-color="#0000ff"/></linearGradient></defs>
<rect x="900.6" y="622.4" width="14.6" height="72.8" fill="url(#gC)"/>
<text x="922.4" y="632.8" font-size="10.5" fill="#1a1a1a">4</text>
<line x1="900.6" y1="629.1" x2="903.6" y2="629.1" stroke="#fff" stroke-width="0.6"/>
<line x1="912.2" y1="629.1" x2="915.2" y2="629.1" stroke="#fff" stroke-width="0.6"/>
<text x="922.4" y="649.1" font-size="10.5" fill="#1a1a1a">3</text>
<line x1="900.6" y1="645.4" x2="903.6" y2="645.4" stroke="#fff" stroke-width="0.6"/>
<line x1="912.2" y1="645.4" x2="915.2" y2="645.4" stroke="#fff" stroke-width="0.6"/>
<text x="922.4" y="665.1" font-size="10.5" fill="#1a1a1a">2</text>
<line x1="900.6" y1="661.4" x2="903.6" y2="661.4" stroke="#fff" stroke-width="0.6"/>
<line x1="912.2" y1="661.4" x2="915.2" y2="661.4" stroke="#fff" stroke-width="0.6"/>
<text x="922.4" y="681.4" font-size="10.5" fill="#1a1a1a">1</text>
<line x1="900.6" y1="677.7" x2="903.6" y2="677.7" stroke="#fff" stroke-width="0.6"/>
<line x1="912.2" y1="677.7" x2="915.2" y2="677.7" stroke="#fff" stroke-width="0.6"/>
<text x="922.4" y="697.4" font-size="10.5" fill="#1a1a1a">0</text>
<line x1="900.6" y1="693.7" x2="903.6" y2="693.7" stroke="#fff" stroke-width="0.6"/>
<line x1="912.2" y1="693.7" x2="915.2" y2="693.7" stroke="#fff" stroke-width="0.6"/>
<text x="975.2" y="474.6" font-size="29" font-weight="bold">D</text>
<text x="1183.5" y="498.9" font-size="19" text-anchor="middle" font-style="italic" textLength="76.3" lengthAdjust="spacingAndGlyphs">FCGR3A</text>
<line x1="1018.2" y1="513.4" x2="1018.2" y2="791.4" stroke="#333" stroke-width="1"/>
<line x1="1017.7" y1="790.9" x2="1264.3" y2="790.9" stroke="#333" stroke-width="1"/>
<line x1="1014.4" y1="526.3" x2="1018.2" y2="526.3" stroke="#333" stroke-width="1"/>
<text x="1010.8" y="530.0" font-size="10.5" text-anchor="end" fill="#1a1a1a">5.0</text>
<line x1="1014.4" y1="579.0" x2="1018.2" y2="579.0" stroke="#333" stroke-width="1"/>
<text x="1010.8" y="582.7" font-size="10.5" text-anchor="end" fill="#1a1a1a">2.5</text>
<line x1="1014.4" y1="631.7" x2="1018.2" y2="631.7" stroke="#333" stroke-width="1"/>
<text x="1010.8" y="635.4" font-size="10.5" text-anchor="end" fill="#1a1a1a">0.0</text>
<line x1="1014.4" y1="684.4" x2="1018.2" y2="684.4" stroke="#333" stroke-width="1"/>
<text x="1010.8" y="688.1" font-size="10.5" text-anchor="end" fill="#1a1a1a">−2.5</text>
<line x1="1014.4" y1="737.1" x2="1018.2" y2="737.1" stroke="#333" stroke-width="1"/>
<text x="1010.8" y="740.8" font-size="10.5" text-anchor="end" fill="#1a1a1a">−5.0</text>
<line x1="1014.4" y1="789.8" x2="1018.2" y2="789.8" stroke="#333" stroke-width="1"/>
<text x="1010.8" y="793.5" font-size="10.5" text-anchor="end" fill="#1a1a1a">−7.5</text>
<line x1="1029.5" y1="790.9" x2="1029.5" y2="793.9" stroke="#333" stroke-width="1"/>
<text x="1029.5" y="806.2" font-size="10.5" text-anchor="middle" fill="#1a1a1a">−10</text>
<line x1="1085.1" y1="790.9" x2="1085.1" y2="793.9" stroke="#333" stroke-width="1"/>
<text x="1085.1" y="806.2" font-size="10.5" text-anchor="middle" fill="#1a1a1a">−5</text>
<line x1="1140.7" y1="790.9" x2="1140.7" y2="793.9" stroke="#333" stroke-width="1"/>
<text x="1140.7" y="806.2" font-size="10.5" text-anchor="middle" fill="#1a1a1a">0</text>
<line x1="1196.3" y1="790.9" x2="1196.3" y2="793.9" stroke="#333" stroke-width="1"/>
<text x="1196.3" y="806.2" font-size="10.5" text-anchor="middle" fill="#1a1a1a">5</text>
<line x1="1251.9" y1="790.9" x2="1251.9" y2="793.9" stroke="#333" stroke-width="1"/>
<text x="1251.9" y="806.2" font-size="10.5" text-anchor="middle" fill="#1a1a1a">10</text>
<text font-size="19" text-anchor="middle" textLength="57.0" lengthAdjust="spacingAndGlyphs" transform="translate(985.5 651.6) rotate(-90)">UMAP2</text>
<text x="1155.1" y="830.4" font-size="19" text-anchor="middle" textLength="57.5" lengthAdjust="spacingAndGlyphs">UMAP1</text>
<path d="M1093.8 601.0h0M1097.0 595.2h0M1106.2 592.0h0M1091.7 558.6h0M1095.8 585.0h0M1084.4 649.1h0M1069.0 590.9h0M1070.8 675.4h0M1100.4 615.6h0M1073.1 587.2h0M1083.9 551.1h0M1083.8 672.0h0M1079.4 593.4h0M1101.2 554.3h0M1092.6 667.6h0M1079.5 577.0h0M1099.7 557.5h0M1075.3 629.1h0M1088.3 551.4h0M1108.6 596.6h0M1064.7 588.9h0M1069.0 604.7h0M1087.7 583.0h0M1091.4 567.2h0M1070.5 588.7h0M1110.8 627.3h0M1093.3 558.1h0M1065.7 594.2h0M1108.0 611.3h0M1083.6 582.2h0M1092.2 549.7h0M1077.4 621.8h0M1102.0 635.7h0M1093.2 641.7h0M1103.9 608.4h0M1109.3 597.1h0M1104.0 618.4h0M1095.3 657.0h0M1081.5 633.5h0M1102.8 570.1h0M1071.7 617.9h0M1089.1 600.4h0M1105.6 574.8h0M1098.1 564.0h0M1085.9 566.1h0M1097.8 577.5h0M1078.2 603.7h0M1105.6 607.1h0M1084.9 628.9h0M1078.2 557.4h0M1100.3 654.1h0M1089.3 565.0h0M1100.0 622.8h0M1081.9 612.5h0M1095.1 635.1h0M1107.8 634.6h0M1097.8 618.0h0M1076.9 590.8h0M1079.6 575.2h0M1090.4 581.7h0M1095.8 571.0h0M1099.3 607.4h0M1093.6 568.9h0M1097.2 619.8h0M1075.8 617.2h0M1104.0 624.3h0M1080.8 550.0h0M1086.7 613.9h0M1105.3 588.4h0M1106.5 634.6h0M1099.2 625.7h0M1103.7 572.8h0M1088.3 666.7h0M1100.2 608.4h0M1103.8 570.1h0M1074.8 612.5h0M1124.1 621.4h0M1087.3 642.3h0M1082.4 577.0h0M1073.4 570.0h0M1092.2 612.8h0M1097.7 545.5h0M1104.3 615.6h0M1092.2 584.1h0M1101.7 622.6h0M1087.0 644.5h0M1102.2 590.2h0M1081.4 620.8h0M1069.0 583.6h0M1088.3 611.6h0M1091.6 646.2h0M1085.1 604.5h0M1092.6 627.5h0M1100.2 612.4h0M1078.3 584.8h0M1081.8 661.1h0M1087.5 667.5h0M1122.9 619.4h0M1085.7 625.1h0M1079.8 629.1h0M1089.8 624.8h0M1115.7 604.5h0M1075.9 571.4h0M1099.9 599.6h0M1099.5 566.3h0M1070.2 588.0h0M1106.0 645.4h0M1097.3 569.4h0M1095.7 605.4h0M1123.3 624.0h0M1098.0 579.1h0M1091.1 665.2h0M1088.5 657.7h0M1083.4 539.2h0M1071.6 588.0h0M1067.2 616.6h0M1079.0 577.5h0M1075.0 569.8h0M1096.4 650.0h0M1097.8 603.8h0M1107.0 648.3h0M1087.9 566.6h0M1085.3 646.0h0M1081.9 602.7h0M1095.7 614.4h0M1099.6 603.8h0M1084.6 637.1h0M1093.6 576.1h0M1094.2 541.3h0M1102.1 615.3h0M1103.2 639.6h0M1082.7 632.5h0M1110.7 634.8h0M1107.9 577.4h0M1090.8 673.4h0M1097.1 589.4h0M1088.9 634.3h0M1090.9 579.8h0M1107.0 593.1h0M1086.6 586.3h0M1097.2 567.7h0M1075.0 570.5h0M1087.4 608.0h0M1088.4 612.8h0M1098.7 600.6h0M1082.8 548.9h0M1106.0 639.4h0M1088.7 595.8h0M1077.4 613.3h0M1097.1 644.9h0M1093.7 623.6h0M1089.3 620.1h0M1096.8 604.7h0M1084.6 677.8h0M1111.2 595.7h0M1071.7 617.2h0M1067.2 580.5h0M1083.9 624.5h0M1091.4 562.2h0M1101.4 548.3h0M1072.2 603.8h0M1079.8 638.8h0M1089.5 630.8h0M1085.4 610.7h0M1094.2 650.7h0M1095.8 660.5h0M1077.6 587.6h0M1078.5 638.7h0M1088.7 586.2h0M1079.6 639.6h0M1083.3 586.9h0M1092.3 605.2h0M1102.7 639.5h0M1082.6 600.1h0M1092.9 570.5h0M1095.5 657.4h0M1087.4 587.0h0M1096.4 559.1h0M1102.3 648.0h0M1079.5 609.6h0M1101.5 578.3h0M1092.0 616.1h0M1100.8 603.7h0M1104.0 604.1h0M1075.0 582.6h0M1087.8 651.6h0M1095.9 570.5h0M1093.8 572.7h0M1089.2 639.2h0M1078.6 646.3h0M1093.5 544.3h0M1086.7 581.4h0M1120.2 613.6h0M1088.8 566.5h0M1076.2 601.4h0M1077.8 613.1h0M1088.6 673.8h0M1089.3 547.2h0M1085.9 625.4h0M1084.9 569.1h0M1089.8 648.1h0M1084.0 620.8h0M1081.7 577.1h0M1083.0 632.1h0M1064.9 590.7h0M1077.4 583.5h0M1092.2 624.9h0M1085.2 609.1h0M1090.4 611.7h0M1079.3 668.9h0M1073.7 598.3h0M1089.8 629.1h0M1067.2 610.6h0M1085.6 645.9h0M1081.3 583.3h0M1088.4 598.6h0M1104.0 590.8h0M1082.3 561.0h0M1072.8 607.3h0M1088.7 648.0h0M1098.4 591.6h0M1086.1 550.3h0M1109.8 582.0h0M1087.9 642.5h0M1079.3 646.0h0M1071.2 578.1h0M1114.3 610.4h0M1080.7 609.2h0M1109.6 633.5h0M1100.4 622.6h0M1107.2 649.2h0M1107.9 622.1h0M1067.5 577.4h0M1082.8 575.0h0M1084.8 680.0h0M1088.5 639.6h0M1081.7 626.6h0M1108.8 603.1h0M1095.5 665.6h0M1104.4 641.7h0M1087.9 645.0h0M1076.6 554.6h0M1067.5 603.0h0M1083.2 546.6h0M1092.6 560.4h0M1087.0 570.5h0M1098.3 564.9h0M1090.3 565.9h0M1100.8 649.2h0M1087.3 588.1h0M1087.3 619.6h0M1088.8 636.5h0M1077.0 551.2h0M1091.9 539.5h0M1082.2 583.3h0M1076.3 630.6h0M1104.7 628.0h0M1097.4 597.9h0M1108.2 617.2h0M1088.3 650.3h0M1103.8 618.0h0M1091.2 552.4h0M1096.1 650.1h0M1115.6 607.6h0M1079.6 563.3h0M1082.8 587.4h0M1114.7 608.8h0M1099.5 549.6h0M1088.2 668.5h0M1088.3 558.9h0M1078.1 591.3h0M1076.8 584.2h0M1085.7 637.4h0M1103.0 579.9h0M1108.9 613.9h0M1088.0 654.6h0M1084.6 621.8h0M1096.2 542.3h0M1079.1 595.5h0M1082.3 557.7h0M1111.7 594.2h0M1089.8 640.9h0M1082.8 581.0h0M1090.9 664.5h0M1091.7 634.7h0M1103.1 601.2h0M1088.0 577.0h0M1065.2 589.4h0M1093.7 637.9h0M1067.8 614.0h0M1078.0 627.8h0M1074.3 588.4h0M1080.4 564.9h0M1073.0 613.8h0M1099.3 603.1h0M1084.1 607.3h0M1097.1 640.7h0M1077.6 616.9h0M1091.2 594.7h0M1074.0 563.6h0M1074.5 604.6h0M1082.8 541.6h0M1084.6 612.8h0M1096.0 548.7h0M1087.3 619.7h0M1092.8 616.0h0M1067.7 605.5h0M1078.2 668.3h0M1095.3 650.6h0M1087.3 594.1h0M1103.0 594.9h0M1097.5 571.4h0M1080.5 644.6h0M1083.9 581.0h0M1084.8 563.3h0M1066.1 591.6h0M1110.8 624.2h0M1114.3 619.2h0M1093.3 618.1h0M1107.1 601.8h0M1082.9 542.7h0M1076.7 622.4h0M1091.3 629.7h0M1095.1 580.0h0M1071.3 572.1h0M1077.5 631.3h0M1101.6 605.5h0M1102.1 612.3h0M1080.6 575.4h0M1087.7 576.5h0M1095.4 649.8h0M1084.7 557.3h0M1100.5 601.1h0M1076.8 604.5h0M1114.3 598.5h0M1109.3 630.1h0M1082.8 557.0h0M1098.6 645.2h0M1072.6 610.7h0M1082.3 608.4h0M1103.2 604.1h0M1087.5 565.5h0M1088.6 575.7h0M1100.7 629.3h0M1097.5 656.4h0M1096.1 655.4h0M1096.1 601.0h0M1087.2 580.4h0M1101.5 582.7h0M1097.6 599.3h0M1086.7 631.9h0M1080.5 596.8h0M1107.6 613.9h0M1080.6 613.4h0M1079.5 585.1h0M1080.7 552.6h0M1083.4 636.2h0M1115.7 602.5h0M1090.4 535.8h0M1089.3 665.3h0M1085.6 565.6h0M1101.2 573.1h0M1088.9 674.3h0M1078.7 553.7h0M1086.7 544.0h0M1073.6 584.0h0M1087.9 663.3h0M1086.4 675.7h0M1071.4 605.7h0M1113.3 605.5h0M1078.2 670.6h0M1101.1 642.6h0M1094.1 595.0h0M1075.4 574.0h0M1077.5 564.8h0M1094.5 656.4h0M1103.1 628.5h0M1085.1 631.6h0M1090.5 603.1h0M1070.0 580.4h0M1095.6 546.6h0M1081.1 599.2h0M1069.2 609.5h0M1080.0 549.5h0M1095.4 610.0h0M1096.6 632.1h0M1080.5 546.8h0M1085.3 567.4h0M1069.6 582.6h0M1076.2 583.5h0M1104.8 609.9h0M1108.6 606.2h0M1075.7 589.7h0M1085.8 546.3h0M1085.0 642.3h0M1098.5 614.1h0M1077.0 596.4h0M1087.8 605.8h0M1090.9 622.0h0M1092.0 583.1h0M1098.1 655.9h0M1073.7 600.0h0M1109.2 615.6h0M1094.8 542.0h0M1100.3 572.1h0M1108.7 591.7h0M1095.3 668.6h0M1094.8 593.5h0M1077.8 555.0h0M1089.7 549.9h0M1109.2 616.2h0M1092.9 637.5h0M1083.1 568.4h0M1089.9 584.8h0M1105.5 583.6h0M1077.2 569.8h0M1086.7 577.7h0M1090.2 533.7h0M1068.5 598.8h0M1089.1 597.6h0M1112.1 595.9h0M1100.5 602.8h0M1081.2 599.6h0M1075.6 591.6h0M1082.5 563.5h0M1101.4 615.8h0M1087.3 570.4h0M1108.8 582.0h0M1081.7 630.4h0M1088.5 585.2h0M1081.1 611.2h0M1077.6 580.0h0M1093.7 636.3h0M1101.2 593.1h0M1079.4 589.3h0M1085.2 617.4h0M1075.1 631.6h0M1078.9 627.8h0M1068.2 579.5h0M1099.2 596.8h0M1086.0 538.5h0M1106.7 579.2h0M1082.4 599.4h0M1080.2 640.0h0M1084.1 595.1h0M1118.0 614.0h0M1103.9 586.8h0M1090.1 625.7h0M1098.4 606.6h0M1108.0 582.0h0M1097.7 638.6h0M1073.6 626.1h0M1091.5 571.1h0M1076.0 615.6h0M1077.6 617.5h0M1101.7 589.7h0M1085.4 541.4h0M1105.4 646.2h0M1094.4 540.5h0M1105.1 592.3h0M1100.5 627.5h0M1080.3 643.0h0M1079.9 641.9h0M1104.3 627.9h0M1067.5 609.7h0M1084.4 662.9h0M1074.8 609.3h0M1100.8 646.6h0M1093.5 559.4h0M1077.3 587.9h0M1099.0 626.7h0M1096.6 625.9h0M1089.6 603.3h0M1088.2 577.2h0M1082.5 642.0h0M1076.7 626.6h0M1088.6 594.2h0M1102.3 551.4h0M1073.2 623.9h0M1104.2 640.8h0M1077.5 619.6h0M1080.9 630.0h0M1099.9 633.2h0M1095.9 578.2h0M1090.8 635.9h0M1077.3 591.8h0M1090.7 657.8h0M1099.2 556.0h0M1102.7 560.7h0M1107.8 576.2h0M1100.9 557.9h0M1082.2 569.4h0M1080.5 594.3h0M1104.1 582.4h0M1081.8 616.0h0M1089.0 546.7h0M1095.2 630.5h0M1089.7 672.4h0M1073.0 621.8h0M1091.9 638.2h0M1068.5 582.2h0M1073.6 567.5h0M1106.8 614.9h0M1102.5 611.5h0M1078.7 587.0h0M1085.6 577.1h0M1074.3 603.1h0M1080.0 601.0h0M1085.5 622.8h0M1094.2 665.7h0M1116.9 610.7h0M1088.6 657.7h0M1071.9 580.0h0M1089.9 586.5h0M1087.4 586.6h0M1089.0 587.2h0M1089.0 665.1h0M1080.7 568.7h0M1087.0 612.4h0M1091.4 642.6h0M1103.2 635.9h0M1086.1 537.3h0M1072.9 562.8h0M1091.3 660.5h0M1094.4 568.6h0M1097.3 622.3h0M1108.6 600.9h0M1092.0 614.8h0M1113.2 596.8h0M1097.2 653.3h0M1100.0 597.1h0M1074.8 561.0h0M1079.6 550.5h0M1079.5 589.1h0M1091.7 615.5h0M1093.3 582.7h0M1087.8 678.3h0M1088.3 636.3h0M1079.1 576.5h0M1076.5 638.5h0M1083.3 615.5h0M1084.1 619.3h0M1077.7 551.1h0M1083.7 621.9h0M1079.8 574.3h0M1090.1 601.6h0M1106.9 633.7h0M1083.3 639.2h0M1092.9 605.4h0M1106.7 615.3h0M1098.0 562.2h0M1111.4 593.4h0M1088.7 541.5h0M1072.6 571.5h0M1084.3 552.3h0M1069.4 578.6h0M1086.9 669.8h0M1072.1 615.9h0M1089.8 612.8h0M1093.3 588.6h0M1077.7 575.3h0M1079.7 649.8h0M1082.6 669.0h0M1110.1 615.2h0M1096.1 643.6h0M1085.9 586.4h0M1096.1 550.9h0M1107.3 585.7h0M1107.9 602.1h0M1089.8 646.5h0M1091.6 581.1h0M1102.9 575.5h0M1085.9 673.4h0M1107.5 596.0h0M1104.1 589.8h0M1086.4 535.6h0M1084.3 623.9h0M1090.5 562.0h0M1076.8 604.6h0M1083.4 549.3h0M1097.6 644.2h0M1087.0 643.0h0M1109.8 596.5h0M1073.8 600.4h0M1097.5 643.8h0M1068.7 583.4h0M1083.3 592.0h0M1081.1 560.4h0M1097.8 546.6h0M1084.8 569.5h0M1097.7 640.5h0M1086.4 568.5h0M1103.9 591.4h0M1095.0 619.3h0M1066.3 593.3h0M1088.3 548.0h0M1086.7 670.9h0M1091.9 592.5h0M1092.5 561.6h0M1079.9 625.3h0M1099.4 606.4h0M1076.9 610.7h0M1069.8 580.3h0M1089.6 535.8h0M1103.7 611.8h0M1102.6 589.9h0M1074.6 610.3h0M1096.1 549.8h0M1086.4 676.5h0M1092.8 555.2h0M1082.4 591.4h0M1074.1 598.6h0M1118.8 615.5h0M1114.5 598.6h0M1091.8 664.5h0M1106.0 589.4h0M1092.6 558.6h0M1100.4 623.1h0M1080.8 593.2h0M1081.9 591.8h0M1080.3 556.4h0M1086.0 542.2h0M1105.8 637.3h0M1104.1 646.6h0M1073.3 570.4h0M1103.9 596.2h0M1100.1 648.6h0M1091.4 558.2h0M1102.7 602.7h0M1100.1 647.8h0M1082.4 598.4h0M1076.0 565.9h0M1076.3 671.9h0M1105.0 595.3h0M1102.7 639.4h0M1076.7 576.1h0M1103.8 602.9h0M1088.0 621.1h0M1089.6 670.6h0M1110.4 593.2h0M1107.7 599.6h0M1110.0 620.3h0M1074.7 607.1h0M1122.1 617.9h0M1073.7 630.0h0M1070.9 603.3h0M1084.6 542.2h0M1100.1 554.3h0M1095.7 640.2h0M1091.9 621.4h0M1104.3 615.1h0M1099.2 632.2h0M1092.2 579.9h0M1080.7 553.9h0M1100.6 606.3h0M1096.3 558.1h0M1085.2 611.0h0M1079.3 628.2h0M1077.2 611.4h0M1096.7 579.8h0M1102.3 572.1h0M1097.6 656.5h0M1069.8 602.2h0M1113.9 616.0h0M1092.4 605.6h0M1072.7 607.0h0M1081.5 542.6h0M1113.3 610.2h0M1107.8 636.7h0M1089.9 568.7h0M1097.0 662.6h0M1089.6 647.5h0M1108.2 621.8h0M1071.0 609.6h0M1079.2 568.7h0M1096.3 565.4h0M1075.8 606.4h0M1104.7 600.7h0M1108.5 601.1h0M1106.1 647.6h0M1103.2 618.9h0M1084.1 636.7h0M1104.9 573.2h0M1092.7 618.0h0M1099.9 606.3h0M1082.4 613.0h0M1076.1 608.1h0M1095.8 560.7h0M1067.2 598.2h0M1091.0 545.7h0M1081.8 603.2h0M1076.7 571.8h0M1099.0 645.5h0M1087.0 596.7h0M1096.9 572.7h0M1103.0 583.6h0M1086.6 555.4h0M1088.7 626.5h0M1075.4 623.1h0M1085.6 576.5h0M1123.7 622.5h0M1087.5 635.0h0M1091.8 612.8h0M1073.8 583.1h0M1090.3 541.3h0M1083.9 540.7h0M1098.7 584.2h0M1084.5 576.1h0M1083.3 666.5h0M1070.5 575.1h0M1095.8 640.7h0M1098.8 627.7h0M1089.7 560.0h0M1098.6 575.4h0M1074.5 587.7h0M1071.0 570.1h0M1114.2 605.2h0M1091.5 592.0h0M1086.4 585.1h0M1092.1 605.2h0M1103.5 577.3h0M1089.1 625.1h0M1093.4 643.9h0M1103.1 610.9h0M1075.6 607.9h0M1105.6 582.0h0M1092.1 616.5h0M1094.1 573.5h0M1068.7 576.2h0M1072.2 571.3h0M1104.6 588.6h0M1079.5 673.2h0M1074.6 575.4h0M1093.2 618.8h0M1082.0 551.1h0M1065.0 596.1h0M1100.0 576.7h0M1107.1 617.7h0M1087.0 574.7h0M1082.0 613.0h0M1065.5 594.3h0M1068.3 600.4h0M1094.5 629.9h0M1081.9 591.6h0M1077.2 597.2h0M1099.2 548.2h0M1087.0 644.4h0M1075.3 670.5h0M1098.2 632.7h0M1114.1 616.4h0M1095.8 587.1h0M1086.1 582.7h0M1114.2 609.7h0M1073.0 671.2h0M1086.5 663.7h0M1086.6 545.6h0M1072.7 608.3h0M1101.6 637.7h0M1089.2 672.1h0M1099.5 587.9h0M1103.8 647.8h0M1083.5 595.4h0M1099.7 648.5h0M1068.9 596.1h0M1087.8 637.4h0M1096.1 650.2h0M1095.7 563.1h0M1076.0 620.3h0M1080.6 611.0h0M1101.7 585.8h0M1076.1 607.6h0M1077.0 590.6h0M1093.8 669.7h0M1069.5 593.0h0M1097.8 608.5h0M1091.6 564.4h0M1079.4 612.6h0M1103.5 570.8h0M1105.2 574.2h0M1082.4 667.9h0M1100.9 635.3h0M1072.7 607.4h0M1099.6 562.8h0M1086.4 610.7h0M1069.8 588.7h0M1076.5 616.6h0M1077.0 597.0h0M1090.9 633.7h0M1071.7 590.6h0M1103.8 593.7h0M1073.6 617.9h0M1078.6 579.7h0M1082.3 605.7h0M1081.5 617.1h0M1086.6 653.6h0M1090.2 558.6h0M1094.4 596.1h0M1093.2 645.1h0M1077.3 597.8h0M1075.2 637.2h0M1086.3 619.9h0M1078.2 634.5h0M1071.5 617.5h0M1113.0 603.4h0M1089.7 556.1h0M1084.8 676.6h0M1081.0 568.3h0M1092.0 597.0h0M1098.5 571.1h0M1081.7 571.0h0M1100.2 624.3h0M1068.5 599.6h0M1085.6 618.9h0M1093.1 543.6h0M1076.5 621.8h0M1091.3 609.5h0M1088.7 646.8h0M1085.4 543.5h0M1107.7 592.6h0M1090.9 548.7h0M1085.2 617.7h0M1070.3 602.0h0M1084.1 601.1h0M1077.6 590.9h0M1069.7 592.0h0M1102.3 554.3h0M1089.4 539.4h0M1105.0 632.2h0M1078.6 591.0h0M1076.6 667.1h0M1094.4 563.9h0M1111.0 594.8h0M1087.0 536.7h0M1108.5 612.5h0M1082.0 638.8h0M1075.0 587.7h0M1108.1 621.9h0M1092.7 555.3h0M1078.7 579.5h0M1124.3 619.6h0M1084.9 637.0h0M1082.9 625.7h0M1098.5 574.9h0M1107.0 589.1h0M1078.3 559.9h0M1109.7 602.5h0M1090.9 649.8h0M1084.7 595.6h0M1118.1 610.5h0M1089.3 558.4h0M1068.2 613.3h0M1099.3 580.2h0M1080.8 540.8h0M1086.5 572.9h0M1096.1 590.4h0M1074.9 598.5h0M1088.6 645.9h0M1093.3 542.3h0M1096.3 664.5h0M1088.3 616.3h0M1075.1 582.7h0M1095.5 624.0h0M1079.3 596.6h0M1104.5 607.1h0M1076.5 627.6h0M1093.3 636.4h0M1092.5 629.9h0M1081.5 546.2h0M1099.3 549.8h0M1103.3 607.1h0M1091.1 560.8h0M1115.0 603.5h0M1107.6 631.2h0M1107.8 610.4h0M1088.9 577.8h0M1096.7 642.6h0M1083.2 644.9h0M1089.1 620.6h0M1072.4 591.4h0M1102.6 604.2h0M1103.6 569.7h0M1069.3 617.1h0M1096.0 614.1h0M1080.0 588.7h0M1092.6 595.2h0M1071.6 579.4h0M1084.1 541.5h0M1087.1 604.6h0M1094.9 612.8h0M1091.2 620.3h0M1083.4 602.7h0M1091.0 664.4h0M1071.2 616.3h0M1089.5 581.2h0M1090.4 578.4h0M1095.7 638.7h0M1099.5 620.7h0M1078.9 634.6h0M1080.9 639.8h0M1101.0 594.2h0M1087.1 551.7h0M1101.0 605.3h0M1108.6 597.0h0M1085.4 636.0h0M1098.9 607.7h0M1112.8 615.6h0M1096.4 636.0h0M1097.2 620.6h0M1099.9 619.5h0M1098.1 629.4h0M1093.2 644.0h0M1067.0 583.7h0M1084.1 643.6h0M1108.0 645.3h0M1096.0 643.2h0M1091.1 623.6h0M1097.7 568.8h0M1106.4 644.7h0M1085.7 545.2h0M1077.6 575.1h0M1098.6 656.6h0M1081.2 588.3h0M1088.1 544.8h0M1106.0 632.7h0M1075.4 602.2h0M1106.3 613.9h0M1073.2 559.1h0M1111.2 624.3h0M1106.3 620.5h0M1089.1 671.3h0M1090.1 551.7h0M1086.8 647.8h0M1108.2 576.7h0M1096.2 641.0h0M1080.9 621.2h0M1106.3 627.1h0M1109.7 613.6h0M1090.2 574.7h0M1114.1 610.8h0M1094.9 559.4h0M1086.5 631.0h0M1092.1 551.4h0M1109.1 581.8h0M1074.2 558.1h0M1089.8 547.7h0M1067.8 613.8h0M1087.2 559.6h0M1086.3 630.5h0M1066.5 583.6h0M1075.7 584.3h0M1082.4 639.5h0M1077.6 627.5h0M1083.0 639.7h0M1111.8 619.8h0M1076.4 590.8h0M1096.1 574.0h0M1097.5 546.7h0M1092.4 541.1h0M1100.7 603.6h0M1075.3 578.9h0M1085.3 634.2h0M1088.0 622.0h0M1078.7 615.9h0M1076.3 573.6h0M1098.5 607.0h0M1069.5 617.9h0M1078.8 594.3h0M1095.2 565.9h0M1083.0 589.5h0M1106.2 579.8h0M1119.2 618.7h0M1100.2 582.7h0M1080.2 567.1h0M1071.8 596.2h0M1080.8 668.3h0M1082.8 635.6h0M1073.9 589.0h0M1076.5 668.2h0M1087.3 587.8h0M1073.4 571.1h0M1081.6 546.1h0M1079.1 608.6h0M1077.0 580.4h0M1100.2 611.3h0M1093.4 659.3h0M1094.3 572.6h0M1106.4 645.3h0M1105.5 575.0h0M1075.2 607.1h0M1091.1 658.1h0M1075.0 613.7h0M1107.9 600.3h0M1097.7 642.9h0M1108.5 585.3h0M1109.8 647.7h0M1078.0 567.0h0M1086.4 538.9h0M1085.3 635.7h0M1083.3 634.1h0M1084.2 580.2h0M1084.2 645.7h0M1118.5 610.2h0M1071.6 584.5h0M1087.5 566.3h0M1068.5 589.6h0M1087.5 681.8h0M1067.6 595.3h0M1074.3 629.1h0M1093.5 607.6h0M1078.4 565.8h0M1079.6 586.7h0M1067.7 579.3h0M1074.7 587.6h0M1076.8 567.0h0M1077.4 580.9h0M1096.3 629.5h0M1090.3 560.1h0M1089.4 602.1h0M1089.6 625.8h0M1086.3 566.2h0M1074.7 555.4h0M1093.9 603.2h0M1093.9 613.1h0M1099.1 644.8h0M1093.4 614.2h0M1095.2 617.3h0M1082.4 642.7h0M1103.2 608.2h0M1081.5 638.0h0M1110.9 609.8h0M1096.7 637.8h0M1088.4 666.3h0M1121.2 615.6h0M1075.9 560.5h0M1091.3 563.5h0M1099.6 621.0h0M1089.6 627.6h0M1106.0 591.6h0M1078.6 604.9h0M1091.1 585.2h0M1108.6 629.1h0M1099.0 650.3h0M1084.1 613.8h0M1079.2 573.8h0M1083.6 621.9h0M1099.7 645.2h0M1094.6 601.2h0M1071.7 573.5h0M1080.9 663.8h0M1096.4 603.3h0M1069.4 614.2h0M1084.7 597.9h0M1089.7 609.7h0M1078.2 586.1h0M1091.6 621.0h0M1096.9 641.5h0M1088.0 562.7h0M1075.7 579.2h0M1106.7 604.4h0M1095.0 589.6h0M1104.5 594.6h0M1103.0 634.7h0M1091.8 609.0h0M1093.5 570.5h0M1087.3 611.1h0M1107.7 647.1h0M1105.3 649.0h0M1076.0 563.5h0M1097.3 615.1h0M1077.0 604.0h0M1066.3 583.9h0M1070.9 578.9h0M1086.3 547.8h0M1095.6 610.9h0M1088.3 646.4h0M1102.9 598.3h0M1100.0 580.6h0M1095.8 542.2h0M1112.8 616.9h0M1083.6 669.3h0M1105.2 577.5h0M1076.5 627.0h0M1086.8 567.3h0M1091.5 580.2h0M1086.8 646.6h0M1111.3 594.4h0M1099.8 587.1h0M1066.6 583.2h0M1085.4 595.1h0M1072.8 587.4h0M1101.6 604.8h0M1096.4 569.0h0M1104.4 603.1h0M1092.8 628.9h0M1096.8 612.0h0M1105.5 581.4h0M1096.6 616.8h0M1071.2 610.0h0M1100.9 579.8h0M1075.4 561.6h0M1075.0 564.5h0M1112.6 608.4h0M1078.6 617.6h0M1077.9 626.2h0M1083.7 614.3h0M1085.9 621.7h0M1102.0 580.6h0M1085.5 579.0h0M1091.3 648.0h0M1094.1 605.1h0M1097.5 656.3h0M1092.9 607.8h0M1091.8 620.3h0M1106.3 601.0h0M1095.9 543.7h0M1090.0 537.1h0M1094.2 660.4h0M1098.2 652.3h0M1078.8 550.9h0M1088.9 660.9h0M1099.4 545.1h0M1086.5 672.9h0M1084.3 665.1h0M1091.5 646.6h0M1093.1 666.4h0M1080.5 571.9h0M1091.7 629.6h0M1087.7 607.3h0M1085.4 551.7h0M1095.8 557.8h0M1091.0 667.6h0M1109.8 640.5h0M1095.6 564.3h0M1090.0 650.5h0M1091.5 567.8h0M1105.4 623.1h0M1092.2 560.8h0M1091.1 632.2h0M1102.9 629.3h0M1091.2 563.2h0M1091.5 561.9h0M1090.1 670.5h0M1090.9 652.3h0M1080.1 569.6h0M1094.6 583.9h0M1083.1 582.3h0M1093.6 655.5h0M1085.1 627.4h0M1092.9 669.6h0M1092.8 569.2h0M1094.1 543.6h0M1108.7 609.5h0M1090.8 655.6h0M1090.7 660.9h0M1082.8 558.7h0M1087.3 665.9h0M1095.1 653.8h0M1093.3 605.6h0M1095.0 655.9h0M1093.6 574.1h0M1092.1 653.7h0M1072.0 623.0h0M1084.8 631.7h0M1088.6 662.7h0M1082.7 555.6h0M1082.1 593.3h0M1083.3 631.6h0M1092.8 647.8h0M1081.3 560.7h0M1083.5 602.9h0M1089.6 666.4h0M1079.2 555.3h0M1095.6 658.6h0M1093.6 657.6h0M1078.7 597.2h0M1095.3 655.5h0M1093.8 607.6h0M1099.9 633.7h0M1079.9 555.0h0M1082.4 577.9h0M1083.9 575.3h0M1084.0 599.2h0M1088.3 661.7h0M1081.8 554.7h0M1088.2 576.5h0M1094.6 588.6h0M1101.5 638.1h0M1084.3 592.4h0M1089.5 653.0h0M1098.0 579.5h0M1091.5 637.6h0M1084.0 584.6h0M1085.2 558.4h0M1081.6 561.7h0M1093.7 608.8h0M1080.7 586.8h0M1085.1 645.0h0M1094.1 657.5h0M1084.7 552.5h0M1091.2 566.0h0M1081.4 550.5h0M1097.9 649.6h0M1088.7 638.4h0M1096.5 633.8h0M1085.4 539.3h0M1088.6 574.5h0M1085.6 557.9h0M1083.8 549.9h0M1094.3 624.1h0M1106.8 617.8h0M1084.0 612.3h0M1097.3 581.2h0M1101.0 621.8h0M1093.1 622.4h0M1107.9 592.8h0M1093.2 620.3h0M1095.2 653.5h0M1094.1 636.4h0M1092.4 659.0h0M1087.0 659.6h0M1087.6 669.2h0M1089.7 548.6h0M1103.0 573.4h0M1088.7 598.1h0M1093.7 668.5h0M1089.2 663.0h0M1081.2 563.8h0M1095.3 656.7h0M1096.2 609.7h0M1099.5 630.8h0M1087.5 541.6h0M1084.2 663.7h0M1091.3 615.9h0M1089.7 659.6h0M1083.6 661.7h0M1092.2 661.6h0M1088.5 611.6h0M1085.9 648.5h0M1075.4 560.6h0M1103.1 595.2h0M1087.2 650.8h0M1080.2 604.2h0M1099.7 608.5h0M1090.9 664.9h0M1084.0 567.3h0M1099.0 586.8h0M1095.4 646.7h0M1083.0 650.1h0M1099.6 610.0h0M1085.8 645.8h0M1091.8 642.7h0M1076.0 631.5h0M1083.3 569.5h0M1092.6 655.4h0M1111.1 590.0h0M1093.9 637.3h0M1093.1 649.8h0M1086.2 665.7h0M1107.0 628.5h0M1081.9 556.5h0M1076.7 590.8h0M1088.0 539.4h0M1095.5 651.4h0M1106.9 585.9h0M1084.1 562.6h0M1094.1 668.6h0M1094.6 656.1h0M1089.6 606.4h0M1095.1 657.1h0M1087.8 535.6h0M1074.7 568.2h0M1082.1 554.5h0M1093.7 559.1h0M1092.7 652.6h0M1092.7 597.1h0M1085.7 616.5h0M1093.0 562.7h0M1090.5 552.1h0M1074.2 564.4h0M1087.0 602.5h0M1088.6 673.8h0M1097.2 625.4h0M1079.3 564.6h0M1081.6 551.3h0M1096.2 651.2h0M1101.0 610.0h0M1096.7 660.8h0M1089.4 656.0h0M1085.8 585.2h0M1093.8 655.9h0M1074.6 618.6h0M1072.4 568.1h0M1106.3 615.2h0M1104.6 632.1h0M1090.8 551.3h0M1107.3 614.4h0M1095.7 627.8h0M1092.9 665.5h0M1086.2 562.6h0M1084.9 555.5h0M1081.8 562.6h0M1095.9 659.3h0M1094.1 627.6h0M1080.4 579.9h0M1088.1 569.3h0M1092.0 652.4h0M1096.6 622.8h0M1079.9 552.9h0M1092.4 636.1h0M1092.3 661.9h0M1078.4 602.4h0M1085.3 631.2h0M1085.6 668.5h0M1085.7 612.2h0M1089.9 625.2h0M1103.4 584.0h0M1094.5 624.0h0M1087.1 599.7h0M1086.4 633.0h0M1081.9 559.6h0M1079.1 564.3h0M1082.0 563.2h0M1090.9 566.2h0M1078.1 570.2h0M1091.6 553.3h0M1092.5 664.1h0M1087.0 562.0h0M1089.3 631.0h0M1090.2 559.6h0M1084.2 641.6h0M1097.1 560.3h0M1087.4 655.7h0M1097.1 608.3h0M1100.5 603.2h0M1088.6 619.6h0M1106.8 630.8h0M1084.1 567.3h0M1093.1 658.4h0M1086.8 564.9h0M1097.6 598.2h0M1094.3 639.7h0M1092.2 665.3h0M1086.7 634.5h0M1091.0 665.4h0M1084.0 669.6h0M1079.7 567.7h0M1083.6 616.8h0M1092.0 589.3h0M1084.3 540.6h0M1094.0 615.4h0M1087.5 545.4h0M1089.3 647.2h0M1082.7 556.3h0M1074.7 581.0h0M1086.5 654.9h0M1083.8 537.7h0M1096.4 544.7h0M1084.1 661.1h0M1081.3 621.0h0M1077.3 551.3h0M1092.8 602.2h0M1099.8 608.9h0M1085.1 555.5h0M1081.9 559.4h0M1096.1 644.7h0M1099.6 595.4h0M1079.4 557.7h0M1094.4 598.6h0M1081.1 618.8h0M1085.3 625.1h0M1090.0 644.7h0M1083.1 580.8h0M1094.1 663.9h0M1082.8 566.6h0M1090.8 673.3h0M1076.9 670.1h0M1091.6 564.3h0M1085.4 632.7h0M1098.3 557.8h0M1101.1 605.5h0M1081.2 615.4h0M1098.5 652.9h0M1098.9 568.0h0M1076.2 584.6h0M1089.7 576.5h0M1087.1 568.0h0M1098.6 606.8h0M1078.3 672.5h0M1082.4 553.2h0M1094.0 650.4h0M1088.2 675.4h0M1102.0 625.1h0M1090.7 663.9h0M1088.5 561.4h0M1094.8 645.4h0M1081.9 549.5h0M1105.5 617.2h0M1088.8 603.4h0M1095.8 644.8h0M1103.8 643.5h0M1089.6 665.9h0M1092.8 612.2h0M1071.0 614.6h0M1083.9 620.1h0M1100.3 612.6h0M1110.0 630.8h0M1092.0 630.2h0M1086.3 566.3h0M1094.1 638.1h0M1088.1 553.6h0M1086.8 537.9h0M1076.1 577.6h0M1102.8 597.9h0M1087.5 623.6h0M1093.1 650.4h0M1081.5 646.0h0M1092.8 611.3h0M1083.5 556.8h0M1084.9 675.8h0M1074.5 572.4h0M1087.5 663.8h0M1091.6 601.8h0M1081.5 557.1h0M1097.9 635.5h0M1092.1 616.5h0M1089.8 559.6h0M1093.4 647.1h0M1084.7 594.9h0M1099.2 645.1h0M1086.0 536.3h0M1080.0 548.1h0M1108.9 601.9h0M1082.9 667.9h0M1107.0 603.8h0M1092.2 637.1h0M1105.1 570.2h0M1095.9 609.3h0M1103.1 645.5h0M1088.4 608.2h0M1088.6 661.7h0M1096.2 607.2h0M1084.3 564.8h0M1090.5 576.4h0M1083.2 556.3h0M1095.5 618.8h0M1096.4 587.5h0M1089.0 568.3h0M1093.6 656.2h0M1086.5 535.6h0M1096.8 623.8h0M1100.0 556.3h0M1076.6 559.1h0M1084.5 665.7h0M1098.4 636.2h0M1102.3 584.5h0M1083.6 551.6h0M1089.3 602.7h0M1077.6 623.2h0M1107.9 582.6h0M1092.9 658.3h0M1080.9 607.2h0M1082.8 639.6h0M1098.9 576.9h0M1077.7 570.5h0M1093.2 540.8h0M1087.1 579.2h0M1098.0 630.8h0M1096.6 646.6h0M1095.5 666.2h0M1087.0 547.8h0M1082.1 553.7h0M1090.1 596.8h0M1102.5 591.9h0M1105.3 604.6h0M1079.0 557.8h0M1095.5 592.9h0M1099.8 639.6h0M1090.7 569.7h0M1088.9 596.2h0M1093.7 612.6h0M1093.5 604.2h0M1098.5 623.6h0M1105.7 608.7h0M1088.9 636.7h0M1081.3 606.6h0M1080.2 591.7h0M1091.9 564.5h0M1100.4 568.6h0M1087.2 571.7h0M1094.5 653.3h0M1085.0 622.7h0M1075.2 580.8h0M1102.2 645.0h0M1090.5 663.2h0M1089.0 677.5h0M1080.9 552.5h0M1101.3 591.7h0M1089.9 568.2h0M1097.3 660.0h0M1084.4 604.8h0M1091.1 563.4h0M1101.0 642.1h0M1084.8 600.9h0M1098.8 550.4h0M1085.9 553.2h0M1098.2 650.1h0M1093.3 663.8h0M1083.7 567.4h0M1108.0 633.4h0M1077.1 566.3h0M1096.1 605.1h0M1086.0 667.4h0M1101.7 577.7h0M1094.0 627.4h0M1097.4 661.7h0M1088.3 562.2h0M1096.4 593.0h0M1076.0 551.3h0M1086.9 670.7h0M1101.4 634.7h0M1079.9 614.2h0M1085.0 638.1h0M1092.0 656.7h0M1077.2 557.3h0M1094.8 557.6h0M1092.7 602.6h0M1084.9 558.7h0M1098.2 577.4h0M1096.8 644.5h0M1091.3 575.2h0M1089.6 598.6h0M1085.5 543.5h0M1087.9 559.8h0M1090.9 622.8h0M1093.2 606.5h0M1100.1 568.3h0M1090.3 560.8h0M1094.7 637.4h0M1079.5 583.6h0M1082.8 553.1h0M1093.0 661.0h0M1087.2 658.7h0M1093.6 567.2h0M1078.4 634.9h0M1094.7 646.1h0M1083.3 566.5h0M1096.0 659.3h0M1087.4 558.1h0M1096.9 614.8h0M1096.6 654.3h0M1083.2 540.0h0M1090.7 613.8h0M1082.5 624.0h0M1087.1 585.3h0M1093.4 658.6h0M1091.0 637.5h0M1084.7 622.9h0M1091.3 668.6h0M1090.0 558.2h0M1088.4 557.5h0M1085.8 541.5h0M1092.1 658.2h0M1085.6 568.0h0M1090.9 663.1h0M1090.9 572.4h0M1076.5 607.8h0M1095.7 617.2h0M1086.6 638.9h0M1101.8 610.6h0M1093.4 665.8h0M1098.5 573.1h0M1092.5 616.2h0M1076.4 632.4h0M1085.6 559.9h0M1091.3 556.8h0M1085.6 556.8h0M1084.4 553.0h0M1072.5 580.2h0M1083.5 553.2h0M1085.6 669.1h0M1076.8 573.6h0M1084.7 598.3h0M1087.3 672.8h0M1097.5 659.5h0M1088.6 602.0h0M1083.2 583.6h0M1090.3 654.5h0M1081.2 539.3h0M1088.4 570.7h0M1105.7 593.8h0M1090.0 653.8h0M1099.7 654.8h0M1077.5 564.0h0M1083.4 581.0h0M1097.1 645.2h0M1098.4 574.4h0M1083.5 671.9h0M1078.7 569.9h0M1084.8 560.7h0M1099.0 652.7h0M1092.6 660.1h0M1086.0 547.9h0M1091.1 577.3h0M1081.7 564.9h0M1101.5 650.1h0M1086.3 572.7h0M1089.2 661.7h0M1091.0 617.7h0M1097.1 604.0h0M1096.1 649.4h0M1083.9 677.3h0M1084.8 632.4h0M1106.0 625.7h0M1081.8 627.1h0M1076.1 598.0h0M1075.9 555.1h0M1084.8 579.5h0M1082.8 667.6h0M1081.5 632.4h0M1091.2 628.4h0M1088.8 604.3h0M1097.3 559.3h0M1090.3 548.3h0M1102.5 615.7h0M1094.0 665.1h0M1095.7 584.6h0M1087.1 551.2h0M1088.1 543.1h0M1084.1 576.6h0M1092.9 571.2h0M1082.9 603.1h0M1079.8 575.9h0M1090.2 663.5h0M1094.5 663.7h0M1090.0 561.0h0M1091.8 638.4h0M1077.1 555.9h0M1091.7 552.8h0M1095.6 633.3h0M1085.6 567.4h0M1101.4 624.0h0M1083.6 558.4h0M1092.0 560.0h0M1102.3 635.1h0M1086.9 551.5h0M1078.4 623.7h0M1096.9 661.8h0M1086.6 661.3h0M1102.2 646.8h0M1091.8 629.8h0M1087.1 597.8h0M1090.3 592.8h0M1082.6 546.6h0M1079.0 589.2h0M1086.0 545.8h0M1096.4 657.4h0M1102.1 598.4h0M1091.2 669.0h0M1082.2 554.7h0M1091.2 665.2h0M1073.5 561.1h0M1090.4 659.2h0M1085.3 660.8h0M1095.4 654.7h0M1092.2 669.6h0M1094.6 661.6h0M1086.6 626.9h0M1099.3 601.8h0M1109.4 633.0h0M1084.7 557.5h0M1092.3 563.5h0M1086.8 552.8h0M1087.9 570.9h0M1088.5 546.8h0M1086.6 550.7h0M1083.0 545.4h0M1086.2 595.9h0M1104.6 614.3h0M1097.2 650.2h0M1083.2 574.9h0M1079.7 546.0h0M1096.2 613.8h0M1080.4 626.0h0M1076.8 571.7h0M1099.3 567.7h0M1107.9 633.7h0M1080.9 593.1h0M1084.1 541.1h0M1087.7 624.8h0M1089.4 558.4h0M1105.4 597.9h0M1085.0 546.3h0M1095.8 600.7h0M1071.1 576.1h0M1092.9 649.1h0M1087.5 563.4h0M1097.2 581.2h0M1084.1 633.1h0M1089.8 539.4h0M1083.3 641.3h0M1077.4 612.1h0M1122.1 554.9h0M1118.2 563.1h0M1115.7 535.7h0M1117.9 558.5h0M1121.0 531.1h0M1118.2 548.3h0M1119.8 555.2h0M1131.9 557.1h0M1113.2 538.0h0M1124.7 538.5h0M1124.6 543.4h0M1120.0 532.7h0M1118.9 563.3h0M1128.4 547.1h0M1115.5 536.9h0M1118.8 551.6h0M1124.3 537.5h0M1117.6 560.7h0M1130.2 556.3h0M1120.0 568.2h0M1121.3 547.4h0M1126.2 539.4h0M1126.9 542.5h0M1126.5 545.3h0M1124.5 549.9h0M1123.5 539.9h0M1128.4 548.6h0M1120.1 563.4h0M1121.4 530.6h0M1123.9 549.2h0M1114.6 535.5h0M1119.7 549.5h0M1125.8 536.8h0M1134.3 557.5h0M1121.5 541.4h0M1124.1 560.2h0M1123.0 540.4h0M1124.8 546.5h0M1120.6 572.9h0M1119.3 571.7h0M1123.5 564.6h0M1117.0 559.8h0M1130.4 560.8h0M1131.9 556.7h0M1127.5 539.1h0M1133.4 554.9h0M1120.0 564.7h0M1125.2 547.8h0M1130.4 549.4h0M1123.0 570.7h0M1131.1 557.1h0M1123.6 550.4h0M1115.2 542.8h0M1129.4 559.7h0M1115.3 554.4h0M1118.0 565.7h0M1121.9 544.5h0M1118.0 559.5h0M1126.4 551.0h0M1122.2 552.8h0M1115.7 560.9h0M1122.7 562.4h0M1118.1 562.6h0M1125.1 549.0h0M1119.3 553.4h0M1127.0 537.9h0M1119.1 562.0h0M1122.5 533.1h0M1116.0 551.4h0M1116.5 536.6h0M1116.2 549.5h0M1130.2 546.8h0M1119.0 570.1h0M1121.3 554.5h0M1131.1 556.7h0M1121.7 578.5h0M1112.8 552.4h0M1125.0 533.6h0M1122.0 561.8h0M1125.1 544.3h0M1118.6 569.9h0M1116.4 537.4h0M1120.3 546.2h0M1123.9 557.0h0M1129.3 561.8h0M1123.7 555.7h0M1120.9 533.2h0M1127.4 549.8h0M1118.8 569.2h0M1117.3 543.6h0M1123.9 535.5h0M1122.7 557.3h0M1118.2 551.4h0M1120.4 544.7h0M1131.9 555.2h0M1124.4 557.6h0M1115.5 545.6h0M1124.1 560.8h0M1118.9 549.7h0M1113.6 557.1h0M1117.5 569.9h0M1134.1 557.8h0M1115.4 537.1h0M1132.3 555.2h0M1120.1 553.0h0M1117.5 569.7h0M1114.1 540.7h0M1115.3 535.0h0M1120.5 561.1h0M1123.3 537.9h0M1121.4 573.6h0M1124.0 573.6h0M1115.9 561.6h0M1120.7 548.9h0M1114.8 551.0h0M1118.9 559.3h0M1114.4 545.6h0M1114.7 556.5h0M1122.9 542.0h0M1120.2 566.6h0M1118.6 552.1h0M1131.6 557.0h0M1120.1 561.2h0M1122.3 570.4h0M1128.5 551.3h0M1119.1 535.4h0M1126.1 555.0h0M1121.7 540.1h0M1120.0 534.1h0M1118.0 551.9h0M1132.0 557.8h0M1119.6 553.1h0M1133.5 557.7h0M1121.8 531.7h0M1113.5 544.4h0M1117.6 559.2h0M1125.0 541.9h0M1117.5 550.7h0M1130.5 545.3h0M1119.4 560.6h0M1124.2 541.5h0M1121.4 560.2h0M1122.5 559.0h0M1113.9 533.5h0M1120.1 552.3h0M1120.8 566.7h0M1121.6 565.9h0M1114.7 535.3h0M1119.2 566.6h0M1122.0 565.6h0M1125.9 542.3h0M1119.2 569.2h0M1123.5 548.1h0M1126.2 553.7h0M1121.5 548.8h0M1120.2 558.7h0M1115.5 552.2h0M1116.1 535.6h0M1121.2 566.2h0M1121.4 544.7h0M1127.3 546.3h0M1115.2 547.0h0M1121.1 549.4h0M1121.9 545.2h0M1117.0 543.7h0M1122.7 537.2h0M1120.7 538.1h0M1114.2 538.6h0M1121.0 546.4h0M1118.8 539.7h0M1119.2 544.8h0M1119.8 550.2h0M1125.1 545.6h0M1121.9 543.7h0M1117.4 543.6h0M1113.6 536.9h0M1118.0 549.7h0M1126.5 539.0h0M1120.3 542.6h0M1121.6 537.0h0M1117.0 555.0h0M1116.0 546.5h0M1123.0 538.5h0M1121.7 540.6h0M1119.1 534.0h0M1114.3 535.2h0M1118.9 541.1h0M1122.6 541.6h0M1120.8 548.7h0M1118.7 544.3h0M1120.5 547.6h0M1119.8 545.9h0M1123.4 542.3h0M1115.6 552.1h0M1122.8 552.6h0M1123.3 539.5h0M1123.0 536.9h0M1121.7 546.3h0M1122.6 552.0h0M1117.5 544.5h0M1128.0 539.6h0M1114.6 535.6h0M1116.5 549.4h0M1118.0 541.5h0M1114.9 545.9h0M1117.4 552.2h0M1115.3 541.4h0M1122.4 546.2h0M1121.6 542.2h0M1119.4 538.5h0M1117.4 535.8h0M1114.8 553.4h0M1123.6 547.2h0M1123.5 544.9h0M1118.2 552.8h0M1114.6 543.8h0M1121.5 537.8h0M1119.7 540.8h0M1115.1 547.0h0M1122.9 548.3h0M1119.4 546.8h0M1120.0 538.0h0M1122.3 549.7h0M1126.8 541.8h0M1119.1 546.0h0M1123.9 539.7h0M1121.4 543.2h0M1116.5 533.9h0M1122.3 542.4h0M1120.7 546.0h0M1123.7 555.7h0M1117.8 536.9h0M1115.4 544.1h0M1122.1 537.8h0M1123.1 538.1h0M1115.8 533.2h0M1114.9 542.3h0M1120.0 536.6h0M1118.7 544.8h0M1119.4 538.6h0M1127.8 535.7h0M1114.1 550.2h0M1116.6 546.8h0M1117.8 535.8h0M1115.7 545.2h0M1115.6 545.2h0M1122.0 542.6h0M1121.1 545.3h0M1120.3 535.7h0M1122.1 534.4h0M1116.6 551.4h0M1116.1 553.7h0M1117.8 543.5h0M1114.7 544.2h0M1117.7 543.9h0M1117.8 539.3h0M1124.8 540.2h0M1120.1 540.8h0M1118.7 547.0h0M1117.9 531.5h0M1122.1 536.7h0M1118.1 539.1h0M1124.3 539.6h0M1118.1 542.9h0M1118.7 540.0h0M1127.1 542.2h0M1121.3 618.2h0M1122.2 619.2h0M1119.0 615.0h0M1123.7 617.1h0M1125.1 618.0h0M1122.6 618.5h0M1123.0 616.9h0M1122.1 618.5h0M1126.1 619.4h0M1120.4 616.7h0M1119.8 619.4h0M1123.0 616.3h0M1127.0 614.7h0M1123.0 614.7h0M1118.7 615.5h0M1121.2 617.5h0M1121.3 616.7h0M1124.3 618.4h0M1121.9 618.3h0M1120.3 615.2h0M1118.3 615.8h0M1123.3 616.1h0M1117.6 620.2h0M1121.3 616.4h0M1122.7 618.0h0M1121.1 615.6h0M1123.0 616.1h0M1121.4 618.7h0M1126.2 618.5h0M1125.9 620.3h0M1121.9 617.7h0M1120.5 616.5h0M1107.3 534.4h0M1105.4 542.7h0M1108.6 555.7h0M1110.5 551.6h0M1107.3 565.2h0M1106.3 572.3h0M1110.0 535.6h0M1111.4 546.8h0M1111.8 556.9h0M1116.9 625.6h0M1113.7 628.6h0M1102.7 664.7h0M1099.9 661.2h0M1107.3 662.3h0M1073.4 648.1h0M1057.8 596.6h0M1060.1 597.2h0M1062.4 593.6h0M1064.2 599.6h0M1061.5 591.3h0M1073.9 671.1h0M1078.0 670.2h0M1082.5 661.1h0M1080.7 661.7h0M1072.3 672.5h0M1081.3 668.8h0M1081.8 662.3h0M1077.2 668.2h0M1076.5 668.7h0M1084.7 664.4h0M1081.5 665.2h0M1080.5 664.5h0M1075.0 671.6h0M1083.7 663.4h0M1083.7 662.3h0M1071.1 675.5h0M1080.4 664.6h0M1072.3 671.6h0M1078.4 666.8h0M1081.1 662.9h0M1083.2 662.0h0M1075.7 672.2h0M1082.1 664.4h0M1076.5 669.3h0M1079.8 662.8h0M1083.2 664.4h0M1081.0 669.4h0M1078.5 669.1h0M1073.4 672.1h0M1071.3 673.8h0M1082.4 664.9h0M1080.2 666.2h0M1070.3 678.4h0M1077.9 668.5h0M1073.5 675.0h0M1075.2 669.2h0M1079.0 672.9h0M1083.4 665.8h0M1082.6 665.9h0M1083.5 662.2h0M1071.9 672.6h0M1082.0 663.1h0M1080.5 670.0h0M1082.1 663.0h0M1077.5 667.0h0M1047.1 593.6h0M1045.6 589.3h0M1044.8 586.8h0M1039.6 581.7h0M1042.2 572.7h0M1037.1 583.8h0M1034.6 587.6h0M1036.5 576.4h0M1041.6 589.1h0M1050.2 593.5h0M1048.9 591.0h0M1044.3 585.1h0M1047.1 584.8h0M1044.5 584.2h0M1042.6 591.2h0M1040.5 589.1h0M1046.8 594.6h0M1039.5 578.0h0M1037.6 575.5h0M1034.7 580.2h0M1052.9 594.8h0M1052.1 590.2h0M1044.2 592.0h0M1040.5 585.4h0M1054.3 595.1h0M1041.1 578.9h0M1049.8 587.8h0M1035.8 581.4h0M1038.6 578.6h0M1047.1 589.8h0M1041.8 587.7h0M1041.3 570.1h0M1038.0 578.8h0M1044.0 586.2h0M1050.4 587.2h0M1038.0 589.9h0M1047.5 581.0h0M1055.0 594.2h0M1047.2 592.3h0M1049.1 597.4h0M1046.3 580.6h0M1054.0 591.3h0M1041.1 585.2h0M1042.1 578.4h0M1050.0 595.6h0M1051.9 592.9h0M1037.7 582.1h0M1036.4 578.1h0M1040.5 586.1h0M1042.4 594.1h0M1042.9 577.4h0M1050.2 595.4h0M1036.8 584.6h0M1050.4 585.1h0M1052.6 588.6h0M1046.1 579.3h0M1039.6 575.8h0M1043.9 578.5h0M1040.8 584.5h0M1034.2 584.2h0M1038.6 587.8h0M1045.2 580.1h0M1035.3 580.8h0M1044.5 581.9h0M1038.6 577.2h0M1039.9 590.5h0M1045.2 578.4h0M1040.7 580.1h0M1049.1 584.1h0M1038.5 567.9h0M1039.8 590.6h0M1039.0 586.7h0M1037.2 580.9h0M1041.4 592.7h0M1049.2 590.4h0M1040.2 586.4h0M1044.0 574.5h0M1050.5 590.3h0M1055.5 593.3h0M1036.8 577.1h0M1042.2 587.4h0M1039.2 571.3h0M1040.2 585.0h0M1036.3 584.1h0M1035.8 582.4h0M1038.1 572.4h0M1037.3 576.2h0M1041.8 595.1h0M1039.3 577.6h0M1051.0 592.0h0M1038.4 586.5h0M1038.2 581.7h0M1042.4 592.2h0M1038.9 573.5h0M1045.5 579.1h0M1038.8 581.8h0M1049.8 595.6h0M1038.1 586.3h0M1035.1 583.9h0M1057.2 594.8h0M1055.0 593.7h0M1038.9 584.1h0M1035.6 571.5h0M1042.7 593.9h0M1042.8 595.4h0M1041.8 574.9h0M1051.1 592.4h0M1036.5 589.2h0M1050.2 594.1h0M1046.8 585.6h0M1042.1 590.2h0M1036.5 584.7h0M1042.7 581.9h0M1043.6 587.8h0M1042.9 573.4h0M1044.9 592.7h0M1044.7 577.9h0M1038.6 570.8h0M1039.1 576.6h0M1049.6 592.7h0M1040.0 572.8h0M1054.0 595.1h0M1035.5 588.2h0M1038.2 582.5h0M1041.7 581.1h0M1039.1 587.8h0M1040.8 592.5h0M1045.6 577.1h0M1037.3 573.0h0M1057.2 595.0h0M1037.4 580.2h0M1038.7 571.9h0M1039.8 587.0h0M1034.3 575.9h0M1040.2 577.9h0M1039.7 576.2h0M1040.5 594.5h0M1040.2 594.4h0M1043.8 580.5h0M1041.4 586.9h0M1035.9 575.1h0M1044.5 585.9h0M1045.6 580.9h0M1043.8 580.9h0M1043.9 594.3h0M1044.1 576.5h0M1048.0 587.6h0M1042.8 582.3h0M1040.7 578.0h0M1037.4 572.1h0M1047.8 584.6h0M1042.2 592.9h0M1036.8 584.6h0M1043.4 585.0h0M1037.0 572.0h0M1047.0 586.6h0M1046.7 580.1h0M1042.7 581.4h0M1042.3 582.1h0M1038.3 587.1h0M1034.3 581.5h0M1046.0 579.8h0M1038.6 571.8h0M1047.6 594.0h0M1037.3 580.5h0M1039.7 584.4h0M1049.2 592.9h0M1045.4 587.7h0M1049.2 586.4h0M1039.1 585.9h0M1035.4 587.3h0M1034.4 586.1h0M1052.4 590.5h0M1044.6 579.8h0M1042.9 576.2h0M1040.0 590.0h0M1035.0 573.9h0M1052.8 591.7h0M1041.9 583.4h0M1040.6 593.0h0M1038.0 571.3h0M1040.2 570.7h0M1043.8 582.0h0M1045.5 583.8h0M1045.3 585.9h0M1043.8 581.9h0M1047.6 583.9h0M1037.1 577.3h0M1038.7 582.2h0M1039.4 575.9h0M1041.8 586.2h0M1041.3 576.9h0M1041.3 571.1h0M1037.4 585.1h0M1045.2 577.6h0M1047.6 590.2h0M1044.8 584.1h0M1037.8 574.1h0M1039.3 581.4h0M1038.5 582.8h0M1040.5 575.5h0M1043.5 580.3h0M1045.2 575.6h0M1036.2 584.1h0M1043.6 579.9h0M1042.3 577.6h0M1041.9 589.1h0M1038.0 572.3h0M1050.2 593.2h0M1046.5 589.0h0M1045.9 578.3h0M1040.4 580.5h0M1045.8 582.8h0M1040.5 585.8h0M1043.8 579.4h0M1036.1 583.5h0M1039.9 588.5h0M1037.8 582.0h0M1044.1 587.6h0M1040.7 579.7h0M1043.1 575.8h0M1043.1 575.6h0M1039.0 579.4h0M1038.8 586.4h0M1039.4 584.6h0M1041.7 574.7h0M1045.0 579.1h0M1044.0 583.5h0M1035.8 574.7h0M1036.2 589.5h0M1040.4 590.5h0M1037.3 581.9h0M1038.9 575.7h0M1044.7 581.9h0M1041.3 583.2h0M1045.6 580.3h0M1043.0 576.5h0M1037.2 585.8h0M1039.7 584.2h0M1039.5 576.2h0M1039.3 585.8h0M1035.0 581.0h0M1034.2 581.8h0M1042.0 582.9h0M1040.7 586.8h0M1043.9 586.9h0M1042.5 576.2h0M1045.3 590.5h0M1043.9 580.2h0M1045.2 588.0h0M1040.0 576.0h0M1040.4 573.9h0M1040.2 574.6h0M1039.3 583.3h0M1041.4 582.0h0M1042.0 587.2h0M1038.2 573.2h0M1040.7 580.0h0M1039.8 581.9h0M1042.4 575.9h0M1044.8 587.1h0M1041.8 588.4h0M1039.0 570.4h0M1040.8 589.5h0M1039.3 587.8h0M1045.1 581.7h0M1038.9 573.2h0M1038.3 575.2h0M1041.9 574.1h0M1039.0 584.5h0M1037.8 582.5h0M1042.4 584.3h0M1044.7 581.5h0M1040.8 591.5h0M1043.5 579.0h0M1043.6 578.7h0M1044.1 580.6h0M1036.9 581.4h0M1048.0 590.3h0M1043.0 576.8h0M1042.1 583.9h0M1038.4 582.0h0M1039.4 575.9h0M1043.5 581.5h0M1042.0 582.4h0M1044.4 582.9h0M1043.2 587.7h0M1038.7 584.2h0M1042.7 578.4h0M1044.2 582.6h0M1040.6 575.7h0M1035.3 588.3h0M1037.1 587.8h0M1047.3 584.6h0M1040.7 586.3h0M1040.4 589.4h0M1037.7 577.1h0M1038.5 568.9h0M1042.0 585.1h0M1047.1 578.4h0M1041.3 586.6h0M1042.6 575.6h0M1042.9 585.7h0M1038.0 579.7h0M1040.0 583.2h0M1045.3 589.3h0M1044.8 589.2h0M1041.5 584.3h0M1040.2 575.1h0M1040.4 581.4h0M1043.8 588.6h0M1039.8 583.4h0M1046.4 581.6h0M1035.6 579.6h0M1042.0 576.0h0M1044.0 592.1h0M1041.7 572.9h0M1046.5 582.6h0M1036.0 581.1h0M1044.8 576.7h0M1045.9 584.1h0M1039.7 575.1h0M1036.0 576.3h0M1042.9 577.4h0M1038.6 577.5h0M1038.2 573.4h0M1069.0 696.2h0M1073.5 678.2h0M1081.2 712.5h0M1066.8 712.5h0M1080.7 705.7h0M1074.8 720.9h0M1064.2 706.5h0M1080.3 728.3h0M1082.4 713.9h0M1073.6 707.9h0M1079.7 694.7h0M1065.7 707.2h0M1076.8 693.4h0M1080.9 703.0h0M1063.3 695.9h0M1078.2 686.0h0M1071.8 711.2h0M1079.9 720.1h0M1063.5 689.8h0M1074.2 723.6h0M1064.1 691.3h0M1064.6 697.8h0M1079.8 702.0h0M1077.0 725.3h0M1083.1 710.2h0M1060.8 690.5h0M1077.1 707.8h0M1064.3 706.5h0M1061.6 695.9h0M1076.3 725.1h0M1073.5 695.9h0M1064.6 706.9h0M1066.0 714.3h0M1074.6 684.9h0M1072.0 695.4h0M1069.4 686.9h0M1076.6 683.7h0M1071.0 719.4h0M1067.8 700.9h0M1074.8 686.0h0M1077.3 704.6h0M1073.0 678.7h0M1071.6 724.3h0M1068.2 704.1h0M1066.4 681.5h0M1060.5 700.8h0M1072.0 687.0h0M1073.4 727.6h0M1082.3 714.8h0M1079.9 689.9h0M1072.8 717.4h0M1073.3 689.3h0M1067.7 684.1h0M1079.7 697.8h0M1066.8 686.4h0M1063.5 692.1h0M1081.8 709.0h0M1073.8 695.3h0M1076.7 713.8h0M1072.6 701.7h0M1078.1 721.6h0M1071.6 712.5h0M1080.9 730.2h0M1072.6 685.6h0M1064.7 695.6h0M1075.4 705.3h0M1066.6 711.8h0M1070.3 676.7h0M1082.5 698.5h0M1071.9 683.6h0M1080.8 725.6h0M1082.1 707.3h0M1076.7 723.8h0M1070.5 693.7h0M1077.3 696.9h0M1085.2 718.8h0M1083.5 714.3h0M1077.9 713.8h0M1068.8 703.3h0M1076.0 692.2h0M1073.4 681.4h0M1071.6 699.8h0M1063.8 696.6h0M1072.6 704.0h0M1076.3 709.2h0M1061.0 695.0h0M1073.7 698.0h0M1077.3 689.0h0M1074.4 723.1h0M1061.2 694.2h0M1063.5 686.1h0M1082.9 720.4h0M1060.2 694.4h0M1081.9 703.8h0M1058.6 691.1h0M1060.7 696.2h0M1079.7 687.2h0M1072.1 712.5h0M1063.4 690.8h0M1073.8 688.5h0M1079.2 688.3h0M1073.5 703.4h0M1075.4 687.3h0M1079.1 691.3h0M1081.4 712.9h0M1065.2 683.9h0M1074.3 721.9h0M1062.4 688.9h0M1070.8 718.7h0M1077.6 728.0h0M1069.3 712.5h0M1059.1 694.4h0M1064.1 710.3h0M1082.0 696.2h0M1064.7 688.5h0M1065.3 703.0h0M1080.7 721.6h0M1075.9 713.6h0M1079.2 708.0h0M1080.4 705.4h0M1073.9 710.9h0M1080.4 701.5h0M1080.0 704.4h0M1067.4 706.2h0M1081.5 721.1h0M1074.8 701.5h0M1072.6 680.5h0M1082.6 725.4h0M1082.6 722.9h0M1073.2 678.8h0M1074.2 682.3h0M1080.6 724.3h0M1073.9 698.3h0M1084.2 715.9h0M1073.3 705.3h0M1066.3 713.1h0M1079.7 715.2h0M1077.4 717.5h0M1069.0 705.2h0M1069.8 682.6h0M1061.1 688.9h0M1066.2 710.5h0M1068.6 682.1h0M1076.8 706.8h0M1079.5 714.3h0M1076.6 700.2h0M1077.5 688.4h0M1064.0 700.0h0M1071.0 694.5h0M1064.1 682.9h0M1082.0 712.8h0M1083.9 718.3h0M1081.1 713.6h0M1077.9 697.7h0M1078.0 698.0h0M1078.8 711.1h0M1061.7 697.1h0M1078.5 727.7h0M1078.8 724.1h0M1082.4 690.5h0M1069.7 676.7h0M1064.3 702.6h0M1071.4 720.0h0M1067.1 708.9h0M1077.9 704.7h0M1071.4 723.8h0M1060.7 699.1h0M1071.6 711.5h0M1072.8 688.4h0M1073.8 691.0h0M1072.8 704.9h0M1079.9 690.6h0M1069.4 689.5h0M1077.3 696.9h0M1070.5 716.1h0M1059.2 693.6h0M1072.9 711.2h0M1070.3 679.3h0M1077.9 722.1h0M1065.6 704.6h0M1070.2 677.5h0M1080.0 692.6h0M1066.0 689.5h0M1079.4 690.5h0M1070.7 681.2h0M1074.9 719.5h0M1082.3 707.6h0M1062.6 687.4h0M1080.1 699.9h0M1079.1 709.8h0M1080.2 727.5h0M1078.2 713.4h0M1064.7 702.7h0M1058.9 691.6h0M1077.7 700.8h0M1082.2 696.8h0M1061.9 693.3h0M1069.0 694.7h0M1069.9 712.4h0M1077.0 703.9h0M1080.5 706.0h0M1062.5 702.1h0M1059.8 696.0h0M1078.3 728.8h0M1082.1 716.7h0M1068.3 693.1h0M1065.0 700.0h0M1082.2 699.1h0M1073.9 699.0h0M1082.8 708.1h0M1080.6 690.0h0M1069.0 676.6h0M1062.4 702.8h0M1077.9 704.1h0M1069.4 689.1h0M1066.5 700.8h0M1065.7 697.0h0M1076.0 717.1h0M1067.5 705.7h0M1082.1 713.6h0M1068.4 697.1h0M1070.3 700.0h0M1078.9 713.0h0M1067.8 682.9h0M1062.9 684.5h0M1064.5 703.0h0M1066.5 690.4h0M1068.3 702.0h0M1078.0 706.8h0M1082.5 695.2h0M1066.4 699.1h0M1079.9 710.1h0M1077.3 707.2h0M1072.1 688.2h0M1072.7 699.6h0M1081.4 712.0h0M1082.4 717.2h0M1066.0 690.7h0M1080.0 714.5h0M1071.4 703.3h0M1070.6 708.9h0M1068.8 709.9h0M1070.5 692.3h0M1073.8 705.1h0M1068.1 693.3h0M1070.8 700.4h0M1077.8 696.0h0M1077.2 719.1h0M1078.4 701.9h0M1078.3 721.7h0M1071.3 701.6h0M1072.2 698.6h0M1076.5 724.3h0M1061.1 688.5h0M1076.1 716.3h0M1070.6 696.3h0M1063.3 695.2h0M1081.8 706.7h0M1069.8 696.1h0M1065.3 699.9h0M1073.2 699.5h0M1069.4 691.3h0M1081.9 723.0h0M1075.6 713.5h0M1071.3 695.1h0M1078.5 714.3h0M1079.5 719.1h0M1079.1 710.7h0M1069.5 702.5h0M1068.2 692.5h0M1074.4 686.0h0M1073.8 706.3h0M1065.8 697.9h0M1074.2 721.2h0M1072.3 709.1h0M1073.5 703.4h0M1070.2 697.8h0M1067.4 704.9h0M1079.6 699.9h0M1070.9 683.6h0M1080.4 700.3h0M1072.1 695.8h0M1073.8 689.5h0M1080.1 711.1h0M1071.9 708.3h0M1079.6 705.9h0M1068.1 702.3h0M1083.2 709.7h0M1073.3 698.9h0M1073.2 717.2h0M1080.8 694.6h0M1075.9 714.8h0M1075.2 724.1h0M1082.2 721.6h0M1064.7 690.8h0M1081.7 723.4h0M1065.8 683.5h0M1070.4 698.8h0M1075.8 727.2h0M1075.6 718.7h0M1068.6 685.3h0M1071.6 701.1h0M1075.4 698.5h0M1081.1 722.7h0M1071.1 694.4h0M1071.5 698.6h0M1065.9 688.9h0M1080.8 718.5h0M1063.8 683.2h0M1073.6 699.7h0M1075.6 712.6h0M1071.7 704.5h0M1062.9 700.8h0M1077.4 696.1h0M1076.9 697.0h0M1079.2 716.6h0M1070.9 688.6h0M1067.3 692.2h0M1064.7 684.1h0M1070.6 695.7h0M1079.5 703.1h0M1067.7 689.7h0M1068.8 701.3h0M1067.0 703.7h0M1070.7 697.6h0M1080.8 709.4h0M1079.2 703.7h0M1072.5 656.4h0M1073.2 657.5h0M1073.8 662.4h0M1074.0 662.6h0M1072.4 658.8h0M1073.0 661.8h0M1072.5 660.1h0M1073.4 660.6h0M1073.0 663.1h0M1072.3 657.2h0M1192.8 733.1h0M1208.9 700.9h0M1234.0 638.2h0M1199.4 643.9h0M1237.1 653.4h0M1220.6 681.8h0M1243.2 645.1h0M1213.0 656.1h0M1232.0 688.7h0M1175.2 676.0h0M1215.2 717.9h0M1198.0 708.7h0M1228.2 652.2h0M1188.4 653.2h0M1178.1 737.3h0M1162.4 711.5h0M1230.0 679.9h0M1216.4 660.4h0M1196.1 707.7h0M1220.9 674.3h0M1186.5 722.9h0M1229.9 619.0h0M1182.8 657.8h0M1158.2 672.6h0M1162.7 649.0h0M1238.1 663.4h0M1220.2 663.4h0M1230.6 666.8h0M1187.5 727.7h0M1216.8 676.3h0M1233.4 701.1h0M1184.1 658.5h0M1180.6 714.0h0M1240.7 685.6h0M1235.6 712.2h0M1207.7 668.0h0M1232.3 713.4h0M1186.9 665.8h0M1239.8 650.3h0M1239.8 694.4h0M1228.5 660.6h0M1238.3 651.5h0M1179.6 691.1h0M1222.7 622.5h0M1155.0 661.7h0M1233.1 648.8h0M1230.9 656.7h0M1188.5 692.0h0M1231.9 658.5h0M1168.4 669.3h0M1171.7 656.3h0M1229.9 701.6h0M1174.7 723.3h0M1210.8 617.2h0M1243.7 662.1h0M1178.1 684.0h0M1233.9 710.0h0M1188.8 648.5h0M1183.8 672.9h0M1241.8 665.0h0M1189.8 723.6h0M1173.8 710.3h0M1225.0 670.4h0M1179.3 712.6h0M1205.0 626.9h0M1208.8 728.9h0M1191.2 668.9h0M1189.5 649.4h0M1204.6 691.5h0M1234.8 647.8h0M1187.5 647.2h0M1227.9 693.5h0M1218.2 666.4h0M1205.0 724.1h0M1217.0 690.1h0M1218.9 685.0h0M1196.5 727.2h0M1175.5 662.9h0M1229.8 651.4h0M1239.8 694.7h0M1235.4 698.1h0M1228.4 698.1h0M1241.1 637.2h0M1176.0 670.8h0M1167.3 651.4h0M1232.2 651.8h0M1222.0 675.4h0M1231.3 624.0h0M1220.9 669.3h0M1217.0 701.4h0M1188.9 670.2h0M1199.8 702.2h0M1193.2 652.7h0M1214.4 642.5h0M1240.2 646.4h0M1175.8 697.3h0M1218.4 698.4h0M1226.7 700.6h0M1238.7 696.7h0M1178.6 670.5h0M1179.1 684.0h0M1166.8 680.6h0M1182.6 701.0h0M1211.5 628.4h0M1178.8 684.5h0M1159.0 668.0h0M1212.4 657.7h0M1189.5 666.9h0M1166.2 649.9h0M1167.2 719.4h0M1239.4 687.6h0M1192.2 726.7h0M1246.5 653.4h0M1212.7 635.0h0M1178.7 731.8h0M1237.1 697.9h0M1191.8 694.3h0M1226.7 625.8h0M1216.7 625.3h0M1198.1 636.2h0M1245.0 662.3h0M1241.5 683.9h0M1155.9 656.3h0M1239.1 653.0h0M1217.8 666.5h0M1174.8 681.3h0M1155.1 652.2h0M1219.0 684.6h0M1218.1 623.0h0M1187.5 727.6h0M1215.8 690.5h0M1173.9 730.3h0M1233.6 676.2h0M1228.5 663.4h0M1166.6 682.8h0M1182.3 734.9h0M1196.2 730.6h0M1225.2 641.1h0M1201.6 734.3h0M1241.3 646.1h0M1178.3 714.8h0M1223.3 661.4h0M1202.6 690.2h0M1244.6 650.0h0M1212.0 669.4h0M1207.4 623.0h0M1217.7 703.2h0M1233.9 625.8h0M1245.0 647.2h0M1214.9 616.9h0M1229.2 703.3h0M1242.0 673.5h0M1170.5 712.3h0M1179.5 646.6h0M1241.4 662.6h0M1231.5 624.4h0M1188.0 670.3h0M1167.5 656.8h0M1227.4 640.6h0M1222.6 638.8h0M1227.0 652.4h0M1196.8 651.4h0M1232.0 646.2h0M1205.0 668.9h0M1236.6 682.1h0M1162.5 653.6h0M1227.6 640.7h0M1205.4 659.2h0M1210.9 713.0h0M1166.6 659.8h0M1236.3 620.4h0M1217.7 702.9h0M1183.4 736.2h0M1239.5 670.9h0M1240.5 682.8h0M1224.0 612.1h0M1167.0 695.3h0M1232.8 692.1h0M1229.5 670.4h0M1162.4 668.4h0M1236.2 681.1h0M1179.0 736.8h0M1231.7 702.4h0M1226.4 676.2h0M1180.1 709.4h0M1232.4 686.5h0M1238.7 641.1h0M1220.6 614.5h0M1241.4 677.8h0M1216.8 706.4h0M1229.1 696.0h0M1204.3 652.0h0M1220.1 627.7h0M1181.5 657.7h0M1219.2 664.7h0M1238.6 705.1h0M1237.2 673.9h0M1161.0 694.7h0M1207.9 663.7h0M1158.7 687.8h0M1220.4 669.3h0M1228.9 625.5h0M1207.6 639.7h0M1188.8 702.2h0M1230.0 624.6h0M1238.3 637.8h0M1204.0 638.1h0M1216.0 662.1h0M1216.6 610.9h0M1179.7 698.6h0M1193.8 718.4h0M1170.0 722.2h0M1164.1 701.2h0M1192.9 649.3h0M1207.0 650.0h0M1238.0 670.4h0M1196.4 682.9h0M1241.3 652.9h0M1205.9 711.6h0M1244.9 657.4h0M1185.8 702.2h0M1168.3 698.1h0M1227.5 677.3h0M1217.1 624.7h0M1222.2 698.4h0M1231.3 703.9h0M1172.1 724.7h0M1233.8 707.8h0M1157.8 659.3h0M1206.4 710.7h0M1167.0 666.7h0M1228.5 635.6h0M1210.7 685.3h0M1170.3 659.7h0M1234.0 625.5h0M1191.0 679.4h0M1157.6 657.0h0M1237.7 663.4h0M1190.7 724.6h0M1238.0 705.8h0M1239.5 695.6h0M1221.3 644.5h0M1161.6 657.3h0M1228.6 667.1h0M1221.0 682.1h0M1222.1 667.3h0M1186.1 715.3h0M1229.2 627.8h0M1180.0 714.7h0M1186.3 661.9h0M1190.2 679.8h0M1207.6 685.2h0M1233.6 713.1h0M1174.3 663.5h0M1227.8 618.5h0M1200.5 643.0h0M1178.2 706.1h0M1227.5 682.7h0M1198.4 635.5h0M1232.0 631.6h0M1222.6 642.8h0M1236.6 620.1h0M1214.0 616.2h0M1222.0 619.4h0M1171.9 651.2h0M1237.6 643.5h0M1163.6 709.7h0M1240.8 647.3h0M1229.5 638.7h0M1226.2 693.7h0M1231.6 653.2h0M1216.3 720.5h0M1245.0 654.9h0M1192.4 733.8h0M1189.4 698.1h0M1195.0 678.0h0M1226.3 708.2h0M1171.7 688.1h0M1222.8 621.9h0M1230.0 693.2h0M1171.2 688.3h0M1244.0 661.4h0M1184.4 690.1h0M1177.7 735.7h0M1168.9 707.3h0M1197.5 715.4h0M1240.0 691.4h0M1176.7 714.6h0M1182.1 650.7h0M1217.8 642.7h0M1189.4 673.3h0M1226.7 627.9h0M1236.1 672.2h0M1237.9 681.4h0M1167.9 720.8h0M1206.4 658.2h0M1170.0 654.7h0M1231.3 683.1h0M1193.2 639.5h0M1243.8 659.6h0M1161.0 655.7h0M1164.4 704.7h0M1229.1 651.0h0M1219.8 678.8h0M1199.7 659.3h0M1236.2 618.3h0M1195.5 656.1h0M1185.0 675.1h0M1208.8 715.7h0M1179.4 649.4h0M1235.9 674.3h0M1240.2 662.0h0M1212.0 626.0h0M1245.8 667.2h0M1156.1 671.5h0M1245.2 649.4h0M1222.4 633.8h0M1186.3 703.9h0M1236.1 640.2h0M1197.8 683.8h0M1196.2 706.9h0M1220.5 651.6h0M1239.7 688.9h0M1225.6 679.8h0M1197.1 699.1h0M1237.3 682.8h0M1193.6 695.5h0M1158.4 672.5h0M1240.4 669.4h0M1168.5 720.6h0M1180.9 720.4h0M1242.1 640.6h0M1236.6 623.4h0M1235.3 681.2h0M1179.3 704.9h0M1161.2 652.7h0M1192.0 714.3h0M1244.5 657.1h0M1238.1 640.2h0M1214.2 619.6h0M1173.3 721.4h0M1215.0 689.1h0M1170.1 694.0h0M1182.3 656.2h0M1238.6 650.2h0M1214.4 641.5h0M1173.9 727.5h0M1224.6 644.4h0M1178.0 732.0h0M1196.6 721.5h0M1207.6 640.8h0M1159.3 695.0h0M1204.0 689.9h0M1197.2 645.4h0M1221.1 666.0h0M1213.7 711.3h0M1185.3 684.7h0M1234.6 711.5h0M1194.0 703.3h0M1164.5 707.3h0M1245.7 667.2h0M1164.4 709.7h0M1230.2 675.6h0M1238.2 701.2h0M1189.7 641.3h0M1175.1 727.4h0M1227.2 615.9h0M1163.3 715.2h0M1178.5 729.9h0M1209.5 688.2h0M1198.3 722.4h0M1213.6 720.7h0M1183.7 728.3h0M1224.8 632.9h0M1235.5 674.7h0M1193.2 646.1h0M1235.9 693.6h0M1245.8 662.2h0M1241.7 629.2h0M1171.7 678.3h0M1186.5 714.1h0M1230.9 640.0h0M1224.6 677.1h0M1183.1 656.2h0M1212.2 684.6h0M1226.8 633.9h0M1201.3 663.7h0M1188.9 648.6h0M1202.8 633.9h0M1197.0 712.1h0M1175.4 710.4h0M1235.3 694.3h0M1220.9 644.5h0M1221.0 686.9h0M1165.4 667.2h0M1193.3 639.1h0M1164.8 690.9h0M1223.3 606.9h0M1229.8 713.9h0M1243.0 670.2h0M1194.9 674.4h0M1183.7 692.0h0M1198.4 643.2h0M1228.9 619.9h0M1237.5 643.9h0M1180.5 690.5h0M1240.0 670.9h0M1205.9 689.3h0M1175.6 698.2h0M1170.3 719.9h0M1233.2 656.1h0M1233.7 621.9h0M1196.2 636.6h0M1224.6 648.4h0M1181.3 652.2h0M1210.1 679.4h0M1217.1 618.1h0M1209.4 704.8h0M1165.7 699.7h0M1201.4 714.4h0M1223.2 636.0h0M1232.1 629.5h0M1183.2 701.8h0M1236.5 631.8h0M1184.3 726.0h0M1216.4 673.8h0M1180.1 735.7h0M1235.9 664.6h0M1226.1 632.0h0M1206.2 698.6h0M1222.3 664.1h0M1228.8 682.9h0M1208.3 636.9h0M1217.5 638.9h0M1199.3 640.3h0M1224.0 701.3h0M1201.4 728.0h0M1225.9 704.6h0M1216.3 645.4h0M1223.6 610.7h0M1218.8 689.1h0M1208.7 623.1h0M1200.5 651.2h0M1232.2 640.9h0M1194.5 683.5h0M1230.7 641.1h0M1228.7 696.7h0M1239.3 656.0h0M1233.0 640.1h0M1198.9 641.4h0M1186.0 689.9h0M1242.4 660.9h0M1217.9 688.9h0M1241.1 672.1h0M1238.1 699.4h0M1160.0 689.8h0M1228.5 693.1h0M1210.4 617.6h0M1233.2 710.2h0M1162.8 681.7h0M1237.7 624.4h0M1161.3 645.2h0M1240.9 670.5h0M1179.9 737.4h0M1218.7 698.5h0M1161.6 662.9h0M1235.2 694.1h0M1234.9 658.1h0M1204.1 674.3h0M1240.5 667.6h0M1243.4 642.8h0M1246.3 649.5h0M1237.9 661.3h0M1238.7 631.9h0M1216.0 666.9h0M1246.4 655.7h0M1206.8 690.8h0M1213.2 724.3h0M1230.2 678.4h0M1212.3 699.1h0M1213.0 631.8h0M1160.9 701.4h0M1193.1 628.4h0M1198.0 633.9h0M1197.2 726.1h0M1212.1 660.7h0M1187.3 648.4h0M1195.4 648.3h0M1167.7 652.9h0M1232.7 629.2h0M1232.6 626.7h0M1238.4 624.4h0M1237.3 653.7h0M1217.0 693.0h0M1203.2 648.6h0M1218.1 619.9h0M1160.1 659.5h0M1235.5 693.7h0M1221.5 617.6h0M1230.8 652.5h0M1215.5 648.6h0M1235.5 684.8h0M1164.4 674.4h0M1182.0 713.7h0M1239.9 676.7h0M1184.6 711.3h0M1209.1 718.0h0M1233.3 671.3h0M1229.2 618.3h0M1237.3 626.6h0M1220.8 675.5h0M1197.7 702.8h0M1240.1 631.0h0M1180.7 729.4h0M1202.0 728.3h0M1219.1 650.4h0M1207.5 707.9h0M1191.1 651.1h0M1226.7 618.0h0M1218.3 653.7h0M1226.0 607.9h0M1174.1 702.1h0M1240.9 633.9h0M1236.2 692.0h0M1225.6 676.6h0M1201.5 671.8h0M1210.7 636.2h0M1215.1 625.2h0M1176.0 661.1h0M1211.7 620.3h0M1189.5 719.9h0M1231.0 672.6h0M1245.6 652.8h0M1242.8 671.1h0M1190.8 651.5h0M1220.7 610.5h0M1229.2 703.3h0M1163.7 649.9h0M1193.3 694.8h0M1194.4 734.2h0M1219.2 637.9h0M1235.0 689.5h0M1213.6 614.9h0M1219.9 659.9h0M1233.9 691.7h0M1215.2 621.0h0M1242.0 627.5h0M1167.3 662.6h0M1199.1 661.9h0M1193.0 682.8h0M1217.2 620.7h0M1234.4 638.2h0M1190.8 720.2h0M1232.7 711.4h0M1232.1 684.2h0M1190.2 670.9h0M1218.8 679.5h0M1220.3 651.5h0M1195.7 634.8h0M1238.4 623.6h0M1199.0 694.2h0M1232.8 658.9h0M1159.1 660.3h0M1215.3 715.9h0M1168.8 653.9h0M1171.7 669.2h0M1166.4 702.3h0M1237.3 647.8h0M1198.5 697.2h0M1169.7 676.9h0M1179.6 679.7h0M1219.8 667.0h0M1205.7 694.4h0M1220.8 610.4h0M1238.7 652.7h0M1236.4 654.2h0M1188.0 678.5h0M1231.8 687.1h0M1177.3 735.6h0M1233.4 618.8h0M1214.5 690.2h0M1227.9 684.2h0M1220.2 655.6h0M1224.7 694.3h0M1210.2 707.5h0M1223.4 623.6h0M1202.6 665.8h0M1165.8 697.9h0M1165.5 662.5h0M1177.1 739.8h0M1208.3 724.1h0M1214.1 622.6h0M1215.9 697.7h0M1162.9 665.4h0M1160.2 646.4h0M1226.5 635.9h0M1221.2 690.0h0M1236.5 673.8h0M1240.5 644.0h0M1213.1 694.2h0M1217.9 639.5h0M1244.9 662.0h0M1215.8 682.1h0M1219.5 665.6h0M1234.7 628.8h0M1239.2 669.5h0M1244.0 645.6h0M1192.8 728.4h0M1236.5 696.4h0M1204.4 654.4h0M1200.6 679.2h0M1157.7 662.5h0M1177.7 649.9h0M1202.6 730.9h0M1191.2 719.4h0M1214.9 700.5h0M1219.9 651.9h0M1169.0 688.2h0M1173.6 697.9h0M1230.8 627.1h0M1234.7 641.2h0M1228.8 692.4h0M1228.1 687.7h0M1199.9 687.8h0M1176.4 677.7h0M1234.3 703.2h0M1237.7 634.2h0M1181.0 694.5h0M1170.9 716.6h0M1202.0 626.9h0M1179.1 689.9h0M1191.0 680.1h0M1235.4 704.6h0M1233.5 667.5h0M1244.7 669.4h0M1221.6 648.5h0M1181.7 673.3h0M1161.7 644.4h0M1167.4 665.0h0M1158.5 673.2h0M1186.8 730.6h0M1232.7 652.9h0M1231.9 623.4h0M1214.9 661.6h0M1214.0 646.7h0M1183.4 685.0h0M1207.4 717.3h0M1184.4 671.2h0M1229.9 644.5h0M1209.6 700.8h0M1238.4 682.1h0M1165.8 692.8h0M1221.0 641.2h0M1232.4 680.9h0M1207.0 685.0h0M1240.8 634.1h0M1193.4 662.7h0M1227.2 667.9h0M1167.9 687.4h0M1170.2 713.7h0M1224.5 633.3h0M1192.2 669.8h0M1207.3 708.0h0M1185.3 691.0h0M1223.7 657.0h0M1239.6 682.4h0M1207.8 649.3h0M1200.3 664.2h0M1228.2 668.3h0M1207.5 634.2h0M1210.8 655.8h0M1187.2 677.3h0M1211.1 652.4h0M1190.0 713.0h0M1221.8 671.7h0M1232.2 703.6h0M1235.2 652.5h0M1189.7 702.5h0M1166.0 684.4h0M1232.0 656.1h0M1215.0 647.6h0M1203.2 637.4h0M1217.3 636.1h0M1235.1 645.9h0M1226.9 659.3h0M1220.5 652.5h0M1207.9 652.1h0M1224.6 652.0h0M1186.0 699.9h0M1207.9 650.7h0M1210.9 657.1h0M1210.8 693.9h0M1235.1 624.4h0M1215.0 649.1h0M1219.4 624.9h0M1171.0 688.0h0M1181.3 693.0h0M1201.7 679.0h0M1225.0 644.8h0M1197.7 710.3h0M1234.5 675.3h0M1193.6 665.7h0M1210.7 664.3h0M1185.2 705.6h0M1184.1 673.0h0M1198.9 669.0h0M1184.3 687.5h0M1208.4 713.2h0M1183.3 665.1h0M1214.2 617.7h0M1227.2 640.0h0M1167.1 698.9h0M1219.6 655.1h0M1171.4 710.6h0M1181.8 648.5h0M1215.0 710.0h0M1223.6 633.5h0M1196.6 653.8h0M1185.8 659.8h0M1230.1 615.5h0M1198.4 672.1h0M1168.2 662.1h0M1195.2 708.9h0M1205.1 630.4h0M1235.7 670.7h0M1223.2 649.8h0M1177.8 670.0h0M1190.5 685.9h0M1208.8 697.8h0M1231.3 679.7h0M1165.3 680.8h0M1229.7 681.6h0M1193.1 695.9h0M1207.8 723.0h0M1237.0 619.6h0M1231.2 679.3h0M1204.5 695.6h0M1233.5 679.8h0M1217.2 650.0h0M1220.9 622.8h0M1224.8 679.1h0M1174.6 699.0h0M1194.4 643.2h0M1228.2 643.4h0M1215.9 655.8h0M1174.4 680.2h0M1216.6 679.1h0M1173.9 673.3h0M1170.4 683.5h0M1202.1 713.2h0M1230.5 698.5h0M1203.3 661.0h0M1184.4 666.4h0M1219.6 670.3h0M1218.1 657.1h0M1228.3 651.4h0M1184.6 701.1h0M1228.2 672.9h0M1192.1 685.8h0M1195.6 679.2h0M1224.8 640.9h0M1189.3 680.2h0M1178.5 715.1h0M1191.4 708.9h0M1176.5 669.3h0M1213.6 634.1h0M1229.7 695.5h0M1231.0 626.6h0M1162.0 679.7h0M1212.0 696.7h0M1161.1 671.2h0M1173.6 730.3h0M1234.5 662.2h0M1171.9 678.7h0M1191.1 691.1h0M1191.0 704.7h0M1163.1 677.2h0M1177.6 706.5h0M1217.9 665.6h0M1175.3 700.6h0M1219.8 659.7h0M1222.5 652.1h0M1171.9 706.2h0M1234.6 623.3h0M1185.8 653.9h0M1189.7 694.4h0M1215.7 673.1h0M1229.6 667.4h0M1185.5 687.9h0M1173.0 700.3h0M1225.4 646.5h0M1212.1 622.5h0M1174.3 723.5h0M1227.0 680.7h0M1190.1 683.0h0M1223.5 626.9h0M1164.2 685.8h0M1231.4 661.2h0M1183.6 687.6h0M1212.2 625.1h0M1186.5 691.1h0M1182.1 676.5h0M1182.9 692.3h0M1211.5 640.2h0M1186.8 695.5h0M1232.9 710.5h0M1189.9 686.9h0M1191.1 712.6h0M1184.3 692.8h0M1200.6 651.6h0M1213.9 687.4h0M1176.1 686.0h0M1232.1 655.2h0M1226.8 650.3h0M1212.0 688.6h0M1192.9 648.2h0M1164.6 678.8h0M1226.0 645.5h0M1234.7 695.9h0M1193.2 668.8h0M1173.6 669.7h0M1226.5 672.4h0M1181.3 670.9h0M1208.9 660.6h0M1183.8 663.9h0M1199.7 658.8h0M1168.2 672.7h0M1235.5 648.3h0M1226.1 668.6h0M1220.5 690.9h0M1192.4 714.2h0M1233.0 672.0h0M1187.4 685.7h0M1191.5 699.2h0M1200.1 653.2h0M1191.3 677.7h0M1171.1 699.3h0M1223.0 658.7h0M1190.6 675.9h0M1193.4 671.9h0M1218.3 628.0h0M1166.1 673.8h0M1209.2 681.1h0M1227.0 666.0h0M1172.5 688.6h0M1178.9 700.5h0M1228.8 676.9h0M1172.9 653.0h0M1230.6 660.5h0M1174.2 700.8h0M1203.4 668.1h0M1175.5 716.8h0M1217.0 666.2h0M1235.0 675.5h0M1243.4 675.1h0M1173.5 695.9h0M1228.0 656.6h0M1161.8 662.3h0M1224.3 692.7h0M1191.2 683.5h0M1203.1 648.3h0M1170.1 676.8h0M1208.1 650.6h0M1171.3 667.7h0M1212.0 620.7h0M1179.2 706.6h0M1226.7 663.2h0M1182.9 683.3h0M1191.9 661.4h0M1177.2 665.1h0M1180.7 703.2h0M1228.5 671.6h0M1175.7 697.3h0M1165.3 659.3h0M1182.6 687.6h0M1183.9 679.3h0M1223.8 640.7h0M1162.5 703.9h0M1224.0 629.3h0M1205.2 655.7h0M1231.7 627.7h0M1205.8 642.3h0M1230.1 639.4h0M1191.5 646.7h0M1200.8 698.0h0M1164.4 677.4h0M1205.0 697.9h0M1243.3 674.1h0M1191.5 662.0h0M1223.6 669.7h0M1191.8 707.9h0M1166.9 704.8h0M1217.8 700.0h0M1187.9 685.4h0M1168.0 695.8h0M1244.2 658.5h0M1213.8 693.0h0M1199.7 686.0h0M1183.2 659.5h0M1212.6 672.9h0M1185.7 707.0h0M1225.7 614.8h0M1202.2 666.6h0M1218.3 651.2h0M1218.9 622.9h0M1182.6 726.2h0M1205.5 680.9h0M1218.4 700.5h0M1233.4 650.7h0M1230.5 641.9h0M1214.1 647.4h0M1182.2 709.4h0M1185.1 694.3h0M1198.0 676.7h0M1238.2 635.1h0M1205.6 669.3h0M1171.6 676.3h0M1224.9 630.1h0M1219.7 613.9h0M1202.0 669.2h0M1191.8 709.1h0M1232.5 635.3h0M1185.6 702.0h0M1165.1 693.9h0M1207.7 649.7h0M1189.1 690.0h0M1215.6 613.3h0M1178.0 666.8h0M1188.1 674.0h0M1177.8 694.1h0M1190.5 696.3h0M1213.3 643.2h0M1222.7 639.2h0M1217.7 678.5h0M1228.4 663.8h0M1228.7 705.2h0M1195.9 680.3h0M1223.2 610.4h0M1217.8 634.6h0M1196.4 680.4h0M1177.1 679.6h0M1171.3 725.3h0M1202.6 679.8h0M1231.1 675.1h0M1216.3 631.3h0M1204.1 674.7h0M1198.2 643.6h0M1167.8 677.3h0M1201.0 710.1h0M1190.8 689.0h0M1226.4 628.3h0M1202.6 682.3h0M1178.7 704.4h0M1195.4 659.7h0M1199.3 652.7h0M1209.7 636.6h0M1189.5 679.9h0M1215.0 660.9h0M1217.0 613.7h0M1216.1 649.1h0M1190.3 642.2h0M1211.9 677.0h0M1169.3 708.4h0M1186.9 661.0h0M1165.7 672.5h0M1200.7 703.4h0M1169.0 684.4h0M1177.3 711.1h0M1210.9 685.9h0M1166.7 683.5h0M1206.3 656.5h0M1223.3 651.5h0M1239.5 684.0h0M1184.0 686.3h0M1193.4 717.0h0M1234.1 706.5h0M1182.5 673.0h0M1225.2 638.6h0M1213.6 637.4h0M1167.1 677.1h0M1162.3 699.5h0M1187.0 726.0h0M1203.2 691.3h0M1189.1 724.1h0M1208.5 658.8h0M1225.9 652.2h0M1225.5 644.5h0M1169.4 690.8h0M1209.9 671.8h0M1222.3 681.2h0M1216.3 691.7h0M1175.8 684.2h0M1199.5 648.9h0M1175.2 698.9h0M1222.1 625.7h0M1221.3 652.3h0M1166.6 658.4h0M1199.4 656.9h0M1224.2 667.5h0M1179.4 670.6h0M1193.7 668.4h0M1222.1 680.7h0M1222.0 614.6h0M1204.7 641.4h0M1241.0 628.2h0M1164.9 677.5h0M1220.5 644.7h0M1221.1 636.2h0M1225.1 670.3h0M1213.5 647.1h0M1220.3 634.4h0M1222.9 645.4h0M1191.0 663.4h0M1232.8 673.5h0M1184.8 722.0h0M1166.6 684.7h0M1210.3 670.8h0M1183.0 671.4h0M1189.4 719.1h0M1199.3 720.8h0M1172.9 654.8h0M1184.3 684.3h0M1174.6 685.3h0M1177.6 672.7h0M1181.8 703.9h0M1177.5 697.1h0M1178.8 686.0h0M1191.7 712.1h0M1208.4 627.2h0M1215.3 714.1h0M1232.0 709.9h0M1235.6 710.4h0M1236.6 708.0h0M1236.2 707.4h0M1236.6 712.1h0M1234.5 709.2h0M1234.3 711.3h0M1233.8 707.5h0M1234.8 710.7h0M1235.2 708.9h0M1234.0 708.4h0M1234.6 710.1h0M1233.7 707.2h0M1234.2 707.0h0M1233.9 712.2h0M1236.5 707.5h0M1236.0 709.7h0M1234.3 710.6h0M1234.3 706.1h0M1235.1 708.0h0M1235.3 707.0h0M1236.0 711.4h0M1236.9 709.0h0M1235.9 709.6h0M1234.5 707.6h0M1235.6 709.2h0M1196.1 745.8h0M1193.6 735.0h0M1193.5 737.5h0M1193.8 737.5h0M1225.4 707.0h0M1220.4 718.3h0M1215.3 722.4h0M1161.9 641.9h0M1154.5 644.8h0M1197.2 746.9h0M1201.7 755.9h0M1200.0 769.4h0M1194.2 757.3h0M1201.2 761.3h0M1197.5 776.6h0M1195.2 753.1h0M1196.3 766.5h0M1195.3 774.6h0M1196.9 766.5h0M1197.3 768.4h0M1197.3 766.9h0M1198.5 768.1h0M1200.7 766.6h0M1195.6 774.3h0M1195.8 747.2h0M1199.6 769.9h0M1199.8 752.2h0M1195.5 778.0h0M1196.3 768.5h0M1196.6 773.7h0M1199.9 773.3h0M1196.7 775.3h0M1201.7 760.1h0M1195.6 771.3h0M1194.3 766.4h0M1195.9 760.8h0M1198.8 779.4h0M1197.4 761.9h0M1197.0 765.5h0M1197.8 759.2h0M1197.6 765.0h0M1196.7 767.9h0M1198.9 775.9h0M1197.3 765.6h0M1196.4 766.3h0M1196.7 768.8h0M1195.7 768.1h0M1196.1 757.6h0M1196.0 771.9h0M1195.9 762.1h0M1196.8 773.9h0M1196.7 775.1h0M1195.3 766.5h0M1197.8 767.4h0M1196.6 768.1h0M1196.4 757.3h0M1196.8 762.8h0M1195.8 765.5h0M1196.9 776.8h0M1238.1 672.7h0M1236.1 709.4h0M1184.7 666.2h0M1245.6 649.5h0M1236.5 621.4h0M1239.9 644.2h0M1196.2 767.7h0M1212.9 672.6h0M1236.6 705.8h0M1210.0 657.8h0M1234.8 631.8h0M1235.1 668.0h0M1212.2 725.5h0M1236.6 625.9h0M1197.9 766.0h0M1198.4 682.7h0M1198.3 724.9h0M1204.3 675.4h0M1239.7 697.6h0M1235.7 624.5h0M1200.9 756.9h0M1232.7 679.4h0M1181.8 692.0h0M1220.2 639.5h0M1245.3 668.2h0M1238.6 646.6h0M1195.6 646.0h0M1234.1 650.9h0M1240.9 623.9h0M1197.3 762.5h0M1236.1 638.3h0M1193.4 668.7h0M1244.1 654.1h0M1195.4 760.3h0M1197.6 634.2h0M1238.2 651.6h0M1228.8 626.8h0M1233.0 689.9h0M1233.8 697.8h0M1199.3 634.4h0M1241.2 641.5h0M1234.4 637.8h0" stroke="#d3d3d3" stroke-width="1.75" stroke-linecap="round" fill="none"/>
<path d="M1230.5 626.9h0M1219.2 629.7h0M1190.8 723.6h0M1177.5 728.5h0M1188.3 680.2h0M1216.3 623.9h0M1220.0 670.6h0M1235.4 648.1h0M1230.1 709.1h0M1209.1 619.7h0M1237.9 625.9h0M1235.0 633.2h0M1226.0 659.6h0M1243.5 662.2h0M1226.5 687.6h0M1231.7 675.9h0M1196.3 696.9h0M1212.9 613.0h0M1180.0 656.2h0M1241.4 649.3h0M1229.6 628.3h0M1184.2 643.2h0M1241.0 679.2h0M1182.2 689.5h0M1212.6 632.0h0M1239.7 655.2h0M1196.1 775.7h0M1214.6 619.4h0M1220.5 655.8h0M1190.4 668.9h0M1178.8 684.6h0M1218.3 694.7h0M1202.6 697.5h0M1236.8 693.8h0M1209.7 712.3h0M1202.3 722.5h0M1217.9 633.3h0M1157.9 666.1h0M1186.6 715.3h0M1239.5 681.7h0M1234.2 707.4h0M1217.6 697.3h0M1194.9 717.2h0M1216.3 612.5h0M1209.2 668.6h0M1178.6 731.3h0M1234.0 709.8h0M1201.8 637.9h0M1164.9 654.4h0M1225.6 665.4h0M1192.9 708.0h0M1236.3 688.4h0M1235.3 713.6h0M1202.1 718.3h0M1235.3 652.5h0M1239.3 671.5h0M1187.9 717.0h0M1229.2 623.3h0M1216.9 701.1h0M1198.2 766.2h0M1229.1 661.5h0M1220.4 650.2h0M1188.9 652.3h0M1222.5 679.6h0M1197.6 769.2h0M1174.9 695.2h0M1219.2 629.9h0M1236.1 645.9h0M1215.0 707.7h0M1168.1 652.8h0M1239.4 673.8h0M1168.4 674.2h0M1195.9 763.6h0M1190.7 723.2h0M1234.6 660.2h0M1204.2 653.9h0M1233.5 681.5h0M1195.1 742.0h0M1195.3 681.1h0M1203.5 720.6h0M1165.8 686.3h0M1196.4 762.1h0M1197.3 754.8h0M1185.4 729.3h0M1222.2 651.4h0M1231.4 615.6h0M1188.6 645.0h0M1239.2 647.5h0M1217.4 622.7h0M1178.5 734.1h0M1202.0 722.7h0M1206.9 626.9h0M1122.1 617.6h0M1116.2 612.7h0M1196.6 729.9h0M1204.4 678.9h0M1122.1 617.8h0M1238.1 683.9h0M1178.9 667.8h0M1225.9 608.8h0M1196.8 653.9h0M1218.2 624.7h0M1205.3 678.9h0M1177.8 669.3h0M1194.4 707.7h0M1197.6 764.0h0M1231.5 699.1h0M1226.6 688.0h0M1200.1 771.3h0M1232.3 680.8h0M1245.6 662.4h0M1207.4 636.8h0M1235.4 706.1h0M1126.5 620.0h0M1196.6 744.2h0M1167.6 700.5h0M1125.8 619.7h0M1225.1 679.3h0M1188.1 702.4h0M1208.3 676.3h0M1243.3 648.6h0M1193.4 733.6h0M1176.6 677.3h0M1224.5 702.9h0M1236.6 710.8h0M1232.3 639.4h0" stroke="#c3b2dd" stroke-width="1.7" stroke-linecap="round" fill="none"/>
<path d="M1204.0 707.8h0M1177.2 723.2h0M1075.5 719.8h0M1171.9 653.8h0M1228.3 701.8h0M1212.6 633.2h0M1119.5 618.1h0M1180.6 701.3h0M1168.7 699.9h0M1234.7 659.3h0M1233.4 625.3h0M1220.6 609.8h0M1234.4 709.4h0M1172.3 692.9h0M1214.3 687.5h0M1202.5 668.3h0M1185.9 686.2h0M1173.1 662.9h0M1196.9 772.1h0M1181.9 707.1h0M1227.8 689.3h0M1233.9 664.8h0M1159.4 679.6h0M1101.2 599.6h0M1084.8 542.8h0M1188.4 657.1h0M1234.2 677.4h0M1194.0 732.9h0M1225.1 609.9h0M1228.3 670.9h0M1205.5 630.6h0M1195.5 768.8h0M1226.7 698.1h0M1142.9 659.1h0M1181.5 664.3h0M1223.5 638.9h0M1089.1 616.9h0M1091.0 603.7h0M1205.9 629.6h0M1236.2 700.2h0M1193.9 639.2h0M1227.2 701.3h0M1234.7 711.5h0M1178.2 688.8h0M1121.3 618.1h0M1178.4 660.5h0M1163.3 661.8h0M1233.0 686.5h0M1119.8 614.5h0M1220.9 628.6h0M1207.2 721.6h0M1117.1 614.2h0M1196.2 729.3h0M1212.4 619.4h0M1194.6 635.3h0M1229.2 697.8h0M1205.4 724.5h0M1115.8 602.9h0M1211.6 651.6h0M1235.8 646.1h0M1201.0 639.3h0M1186.3 670.4h0M1121.5 616.9h0M1073.7 591.2h0M1199.3 647.1h0M1241.0 664.3h0M1222.3 671.5h0M1237.9 666.4h0M1230.4 698.2h0M1183.8 733.1h0M1154.7 652.4h0M1184.1 700.7h0M1103.8 642.1h0M1197.2 662.4h0M1240.2 652.4h0M1196.1 773.9h0M1043.9 578.5h0M1196.2 646.0h0M1214.6 650.3h0M1187.3 691.0h0M1213.6 677.4h0M1233.8 643.7h0M1173.5 726.1h0M1221.5 668.1h0M1195.7 668.4h0M1206.0 664.8h0M1218.5 670.8h0M1157.0 663.5h0M1236.6 664.6h0M1203.0 693.3h0M1226.8 610.2h0M1090.7 660.4h0M1207.4 723.3h0M1226.1 655.3h0M1217.8 616.3h0M1185.9 695.6h0M1173.4 677.2h0M1197.5 658.4h0M1219.3 624.0h0M1197.3 760.2h0M1189.8 719.7h0M1207.1 631.5h0M1220.4 679.3h0M1233.9 623.7h0M1196.2 769.9h0M1224.3 659.5h0M1137.4 652.8h0M1178.2 676.2h0M1194.8 689.3h0M1233.5 709.8h0M1197.4 697.9h0M1215.5 631.8h0M1226.0 703.3h0M1197.4 771.8h0M1153.3 650.1h0M1217.1 624.9h0M1200.7 683.6h0M1239.7 672.1h0M1218.9 632.1h0M1178.8 668.8h0M1165.6 661.5h0M1195.1 738.6h0M1215.7 681.6h0M1199.5 683.1h0M1178.0 670.5h0M1163.0 693.1h0M1227.5 687.3h0M1226.3 677.9h0M1173.1 705.1h0M1213.4 689.4h0M1238.8 643.4h0M1181.0 711.4h0M1174.3 655.9h0M1168.2 712.7h0M1182.5 667.5h0M1197.7 664.9h0M1217.8 674.3h0M1201.9 680.5h0M1211.7 632.3h0M1194.7 763.7h0M1195.0 760.1h0M1157.5 681.8h0M1220.9 652.5h0M1194.7 658.6h0M1232.6 621.3h0M1169.9 699.8h0M1160.9 682.1h0M1116.5 610.2h0M1230.8 615.1h0M1201.7 676.9h0M1202.4 700.4h0M1194.8 640.7h0M1102.9 638.5h0M1216.2 677.2h0M1182.8 708.6h0M1170.6 723.7h0M1216.6 677.8h0M1181.2 701.6h0M1156.3 644.7h0M1175.1 698.6h0M1230.5 617.5h0M1215.1 666.6h0M1201.9 694.5h0M1197.5 770.6h0M1205.0 683.2h0M1232.9 697.4h0M1200.8 692.0h0M1205.0 624.9h0M1181.1 695.4h0M1210.9 688.4h0M1237.2 646.9h0M1239.6 626.0h0M1135.5 659.7h0M1177.1 682.6h0M1182.3 672.9h0M1241.8 646.5h0M1220.8 642.3h0M1198.3 762.8h0M1174.3 701.9h0M1183.0 674.3h0M1232.2 667.9h0M1232.6 632.2h0M1232.1 617.0h0M1239.9 681.9h0M1103.3 561.4h0M1187.6 661.6h0M1190.1 680.3h0M1186.2 722.3h0M1171.7 689.8h0M1198.5 672.2h0M1208.3 624.8h0M1175.0 694.5h0M1210.5 659.2h0M1227.1 621.4h0M1090.6 658.8h0M1165.7 694.2h0M1194.7 652.2h0M1198.8 765.8h0M1172.1 724.2h0M1182.0 717.0h0M1216.5 706.6h0M1040.2 575.2h0M1180.7 712.3h0M1215.9 624.1h0M1161.4 689.5h0M1180.6 723.9h0M1196.0 775.0h0M1208.9 644.3h0M1232.9 711.0h0M1175.6 724.7h0M1215.7 620.1h0M1122.2 618.2h0M1119.4 618.1h0M1130.7 633.8h0M1194.8 690.5h0M1205.0 732.3h0M1213.1 643.0h0M1158.9 678.3h0M1181.6 677.0h0M1194.1 726.3h0M1221.7 685.9h0M1215.3 660.9h0M1197.0 750.0h0M1208.4 626.7h0M1218.4 642.3h0M1229.0 630.5h0M1226.6 609.9h0M1177.5 651.9h0M1196.0 763.7h0M1219.9 699.7h0M1212.5 622.5h0M1234.4 646.7h0M1226.9 671.7h0M1221.7 666.1h0M1173.5 700.7h0M1213.5 644.9h0M1169.6 666.8h0M1232.1 683.0h0M1161.8 690.2h0M1219.3 644.1h0M1036.5 578.1h0M1215.2 621.5h0M1214.3 661.0h0M1080.3 550.9h0M1182.1 726.3h0M1097.1 654.0h0M1201.3 640.9h0M1204.2 684.8h0M1082.5 604.2h0M1212.6 680.9h0M1222.3 699.6h0M1244.6 644.9h0M1209.4 715.8h0M1191.2 642.3h0M1194.1 729.3h0M1178.2 658.4h0M1214.9 669.9h0M1190.9 665.5h0M1192.8 739.7h0M1183.3 647.0h0M1187.0 652.1h0M1193.3 754.5h0M1225.1 693.2h0M1196.8 743.8h0M1217.9 670.6h0M1182.1 651.6h0M1223.0 663.3h0M1229.7 679.5h0M1200.5 656.3h0M1185.1 686.1h0M1194.7 768.3h0M1211.5 626.8h0M1237.3 650.3h0M1209.9 657.8h0M1190.0 712.4h0M1213.0 649.2h0M1122.9 627.5h0M1195.5 763.0h0M1181.2 688.3h0M1213.2 683.2h0M1053.4 596.2h0M1154.0 648.1h0M1197.0 688.8h0M1178.7 706.1h0M1229.1 644.9h0M1205.1 637.0h0M1204.7 667.7h0M1166.1 697.9h0M1223.9 649.7h0M1226.9 683.0h0M1190.4 677.5h0M1234.0 654.6h0M1199.4 764.2h0M1235.8 629.4h0M1195.8 763.6h0M1237.3 679.6h0M1164.5 711.6h0M1225.4 627.2h0M1197.9 632.7h0M1213.2 630.0h0M1222.3 653.3h0M1194.3 729.7h0M1202.5 628.9h0M1212.5 691.5h0M1188.3 704.0h0M1227.4 638.1h0M1175.8 701.3h0M1195.7 666.8h0M1226.5 654.6h0M1205.6 672.1h0M1229.8 697.2h0M1112.7 610.8h0M1213.7 667.3h0M1207.4 682.9h0M1205.3 725.6h0M1233.9 632.7h0" stroke="#b69ce3" stroke-width="1.7" stroke-linecap="round" fill="none"/>
<path d="M1193.5 763.1h0M1166.1 666.4h0M1231.3 640.8h0M1181.1 671.1h0M1173.6 686.3h0M1118.6 616.0h0M1191.5 675.7h0M1122.5 565.7h0M1197.2 754.1h0M1215.9 675.3h0M1177.0 689.0h0M1220.4 630.0h0M1185.4 697.4h0M1186.4 695.0h0M1194.9 678.2h0M1206.7 641.5h0M1205.7 696.9h0M1216.6 665.9h0M1187.3 657.6h0M1214.7 671.7h0M1200.5 751.7h0M1194.6 656.1h0M1215.0 688.0h0M1217.3 692.9h0M1179.9 681.8h0M1228.8 621.8h0M1222.9 669.1h0M1209.4 648.1h0M1111.3 594.9h0M1217.0 694.8h0M1194.2 774.2h0M1200.3 712.0h0M1227.1 615.1h0M1180.1 727.5h0M1238.7 655.9h0M1166.4 715.4h0M1202.4 683.5h0M1213.2 620.9h0M1204.8 632.2h0M1208.4 655.9h0M1234.4 709.1h0M1178.4 673.7h0M1223.1 655.8h0M1224.4 673.7h0M1224.2 666.9h0M1236.4 696.2h0M1210.7 667.9h0M1195.5 777.6h0M1201.2 673.0h0M1192.6 668.7h0M1184.8 646.3h0M1087.9 661.2h0M1170.5 718.2h0M1196.4 754.7h0M1203.1 661.0h0M1239.7 692.4h0M1233.9 646.5h0M1198.1 766.5h0M1136.2 660.8h0M1115.8 613.8h0M1182.8 685.2h0M1124.2 618.8h0M1198.7 772.9h0M1194.7 685.7h0M1220.0 655.1h0M1193.0 698.2h0M1223.4 703.7h0M1216.1 614.5h0M1225.1 650.9h0M1170.1 706.2h0M1197.0 768.9h0M1195.9 683.2h0M1211.4 664.7h0M1225.1 664.7h0M1167.0 674.7h0M1227.1 645.5h0M1202.5 662.0h0M1195.8 765.3h0M1214.5 649.0h0M1208.7 663.2h0M1178.0 722.5h0M1220.5 655.9h0M1087.8 555.2h0M1224.3 676.1h0M1228.7 676.1h0M1197.9 769.8h0M1223.5 614.2h0M1228.5 621.7h0M1179.6 707.2h0M1235.4 626.7h0M1227.3 640.9h0M1183.8 676.2h0M1223.5 632.2h0M1171.5 652.0h0M1163.1 675.0h0M1201.4 702.4h0M1232.2 653.5h0M1166.0 658.3h0M1205.8 735.0h0M1205.6 733.7h0M1188.2 681.6h0M1183.3 684.9h0M1219.8 645.4h0M1217.0 614.4h0M1235.3 664.4h0M1202.4 680.4h0M1220.7 687.9h0M1209.1 656.4h0M1169.4 694.4h0M1166.0 660.9h0M1219.6 631.3h0M1224.4 627.2h0M1201.6 672.0h0M1216.5 668.9h0M1205.8 733.8h0M1224.3 649.0h0M1233.7 698.7h0M1213.1 643.8h0M1163.2 708.1h0M1221.8 637.5h0M1237.2 650.9h0M1214.9 686.5h0M1186.3 691.1h0M1161.7 674.4h0M1228.3 659.2h0M1190.4 707.6h0M1209.8 645.2h0M1120.8 617.5h0M1187.5 692.6h0M1194.6 750.5h0M1205.0 724.1h0M1196.5 649.9h0M1188.1 658.3h0M1124.7 544.5h0M1200.1 695.4h0M1185.3 700.0h0M1174.3 657.7h0M1177.4 695.3h0M1157.2 672.9h0M1109.1 617.8h0M1234.7 646.5h0M1187.3 669.4h0M1213.9 672.7h0M1234.6 684.0h0M1226.9 637.4h0M1225.1 692.2h0M1189.9 716.3h0M1183.5 687.4h0M1229.2 671.8h0M1197.3 755.2h0M1220.0 679.2h0M1177.9 691.6h0M1172.5 657.7h0M1196.6 657.6h0M1211.8 661.4h0M1230.0 615.0h0M1178.8 704.7h0M1233.6 674.8h0M1193.7 691.7h0M1189.2 703.5h0M1199.3 632.8h0M1205.6 654.8h0M1187.2 689.6h0M1161.8 662.9h0M1217.8 640.9h0M1212.5 643.9h0M1218.3 666.3h0M1161.1 677.2h0M1221.2 650.0h0M1178.6 690.1h0M1166.2 683.9h0M1183.7 663.5h0M1193.4 643.8h0M1219.1 649.1h0M1221.3 677.3h0M1221.4 657.1h0M1214.3 673.0h0M1220.8 705.2h0M1206.7 669.3h0M1169.8 691.1h0M1165.3 676.9h0M1214.7 714.3h0M1196.4 715.6h0M1163.8 676.0h0M1198.3 717.1h0M1234.6 666.3h0M1179.9 716.2h0M1229.0 638.5h0M1169.7 719.6h0M1174.3 661.0h0M1236.2 624.9h0M1156.6 662.3h0M1224.7 678.3h0M1173.6 651.3h0M1155.9 656.2h0M1189.1 720.3h0M1174.8 673.9h0M1165.8 700.9h0M1235.6 709.9h0M1215.1 660.1h0M1154.9 660.8h0M1084.1 560.8h0M1210.5 682.4h0M1209.6 626.8h0M1198.0 693.4h0M1226.1 639.4h0M1222.0 629.4h0M1171.9 703.2h0M1229.3 682.8h0M1231.9 632.0h0M1215.4 697.3h0M1203.7 659.2h0M1199.1 653.8h0M1175.9 671.0h0M1219.4 701.9h0M1168.8 666.0h0M1189.1 722.7h0M1227.1 676.9h0M1192.2 711.1h0M1163.5 685.8h0M1236.4 684.7h0M1224.5 664.5h0M1192.3 709.1h0M1217.9 648.6h0M1231.4 658.7h0M1111.7 603.1h0M1173.3 696.3h0M1122.0 617.1h0M1224.3 669.7h0M1214.8 698.2h0M1225.1 629.8h0M1198.0 631.9h0M1221.1 666.1h0M1195.8 763.7h0M1111.6 615.4h0M1185.8 713.9h0M1123.8 618.1h0M1169.4 691.3h0M1198.3 636.8h0M1179.9 718.6h0M1204.7 631.6h0M1205.3 623.0h0M1159.1 658.0h0M1100.6 577.9h0M1201.3 698.8h0M1090.9 590.1h0M1230.9 639.3h0M1170.7 691.0h0M1111.2 605.3h0M1224.1 626.9h0M1185.4 666.9h0M1203.6 673.9h0M1216.2 663.7h0M1203.9 689.0h0M1235.0 628.8h0M1235.8 671.9h0M1232.1 647.3h0M1200.4 677.1h0M1199.3 670.6h0M1166.1 686.7h0M1230.5 699.2h0M1174.2 666.7h0M1218.4 671.1h0M1234.1 693.6h0M1178.0 697.5h0M1134.2 657.7h0M1175.9 651.3h0M1182.3 677.5h0M1196.8 762.1h0M1215.9 657.0h0M1180.2 650.8h0M1202.1 706.6h0M1214.9 661.6h0M1190.4 647.9h0M1196.2 768.8h0M1174.5 720.3h0M1196.7 705.5h0M1175.5 714.0h0M1222.5 667.4h0M1196.9 769.0h0M1213.8 627.8h0M1187.2 678.3h0M1195.6 775.4h0M1204.0 670.9h0M1215.7 654.6h0M1216.4 700.3h0M1214.5 674.5h0M1196.5 764.2h0M1176.7 697.7h0M1182.0 702.2h0M1159.3 689.3h0M1197.0 684.5h0M1196.4 654.9h0M1219.9 695.1h0M1217.0 615.6h0M1200.1 692.2h0M1196.6 767.7h0M1232.5 640.6h0M1176.2 690.0h0M1213.9 686.0h0M1193.1 638.6h0M1221.4 651.2h0M1214.0 669.5h0M1200.4 651.6h0M1192.2 732.7h0M1221.5 646.5h0M1198.6 667.1h0M1196.3 698.0h0M1207.9 684.1h0M1177.2 714.2h0M1195.1 678.4h0M1178.6 708.1h0M1114.1 600.9h0M1203.8 676.4h0M1087.3 565.3h0M1176.6 677.2h0M1215.6 689.7h0M1214.0 670.1h0M1195.8 691.7h0M1182.6 670.3h0M1219.1 681.6h0M1211.3 642.9h0M1199.1 665.5h0M1216.9 644.6h0M1213.7 642.3h0M1196.6 756.8h0M1118.1 555.0h0M1183.3 692.2h0M1181.9 704.3h0M1198.9 774.0h0M1201.5 638.8h0M1217.8 704.7h0M1226.5 691.8h0M1184.9 683.3h0M1222.6 687.9h0M1115.9 606.6h0M1221.6 702.5h0M1183.1 657.8h0M1186.0 700.6h0M1215.9 642.1h0M1190.0 658.1h0M1238.9 625.4h0M1232.4 665.7h0M1179.3 685.0h0M1228.0 697.0h0M1175.3 733.0h0M1188.2 700.6h0M1232.3 660.8h0M1199.1 676.8h0M1201.9 631.9h0M1225.0 615.3h0M1169.2 695.6h0M1196.5 684.8h0M1209.7 617.7h0M1167.5 664.0h0M1191.4 701.5h0M1212.5 714.0h0M1214.3 669.6h0M1167.7 676.7h0M1166.9 718.1h0M1199.7 685.0h0M1194.5 664.5h0M1197.4 753.0h0M1243.8 660.4h0M1200.4 662.3h0M1218.5 654.9h0M1191.4 670.3h0M1227.0 667.1h0M1197.9 646.4h0M1214.8 675.4h0M1214.5 647.5h0M1187.4 716.8h0M1233.9 656.2h0M1165.9 660.7h0M1215.7 619.7h0M1243.9 664.0h0M1224.7 628.5h0M1165.4 656.0h0M1171.3 685.7h0M1215.3 683.2h0M1231.0 643.5h0M1183.7 696.0h0M1213.5 642.8h0M1171.7 656.5h0M1163.4 675.2h0M1177.2 695.8h0M1159.8 706.4h0M1186.5 710.9h0M1116.6 609.8h0M1197.1 762.8h0M1194.0 709.1h0M1192.6 681.2h0M1208.8 658.9h0M1196.2 763.4h0M1222.7 609.5h0M1196.5 685.3h0M1205.9 674.2h0M1211.2 672.3h0M1226.1 681.7h0M1211.9 646.9h0M1166.9 675.2h0M1216.0 630.6h0M1193.0 738.7h0M1213.2 649.3h0M1191.2 692.6h0M1230.3 630.6h0M1207.8 658.5h0M1169.0 695.7h0M1183.1 689.8h0M1210.0 678.6h0M1241.5 661.0h0M1168.9 704.8h0M1167.2 673.7h0M1197.8 717.0h0M1186.6 691.4h0M1189.7 647.3h0M1195.2 647.6h0M1192.7 655.9h0M1193.8 666.3h0M1224.2 687.5h0M1213.1 663.0h0M1099.5 651.1h0M1224.0 675.5h0M1180.2 662.9h0M1189.9 649.7h0M1236.0 625.5h0M1190.2 684.8h0M1176.0 690.2h0M1230.2 701.4h0M1203.5 633.0h0M1162.6 651.7h0M1211.7 706.2h0M1213.6 706.1h0M1207.3 681.5h0M1198.6 754.4h0M1197.4 757.2h0M1190.7 718.4h0M1193.7 664.4h0M1216.1 702.5h0M1169.6 651.9h0M1227.9 671.6h0M1219.9 646.6h0M1208.0 670.8h0M1090.1 633.1h0M1193.2 687.7h0M1181.5 706.7h0M1163.6 708.2h0M1068.6 618.7h0M1173.4 675.2h0M1171.1 661.3h0M1205.9 700.6h0M1218.9 657.6h0M1198.2 700.6h0M1174.3 650.8h0M1195.7 748.2h0M1213.3 696.3h0M1233.7 659.8h0M1174.1 654.0h0M1186.4 668.1h0M1184.1 702.7h0M1179.5 660.4h0M1180.5 680.5h0M1170.2 684.5h0M1163.7 658.8h0M1201.4 664.2h0M1209.5 648.5h0M1229.3 651.0h0M1179.8 697.6h0M1221.2 628.6h0M1177.7 711.5h0M1200.3 658.6h0M1188.3 715.1h0M1202.6 665.2h0M1196.6 647.0h0M1166.8 716.5h0M1178.6 658.6h0M1177.5 681.5h0M1210.8 618.9h0M1213.5 630.2h0M1220.3 677.7h0M1164.7 694.2h0M1191.9 700.5h0M1232.6 646.4h0M1175.3 654.3h0M1177.9 677.6h0M1196.4 763.3h0M1219.9 644.7h0M1179.2 683.2h0M1202.8 679.7h0M1161.1 697.8h0M1161.9 708.9h0M1181.4 729.1h0M1211.9 641.1h0M1199.0 755.5h0M1204.2 647.2h0M1181.0 677.2h0M1134.0 650.7h0M1222.0 636.5h0M1185.0 714.1h0M1235.0 691.4h0M1192.6 665.3h0M1214.5 662.9h0M1191.5 695.8h0M1190.6 695.6h0M1196.0 654.7h0M1236.6 691.3h0M1206.8 629.7h0M1214.9 716.2h0M1214.9 715.0h0M1206.8 680.7h0M1179.4 714.2h0M1165.0 661.1h0M1209.0 648.3h0M1207.2 638.2h0M1174.2 731.7h0M1192.5 664.1h0M1195.6 745.7h0M1179.8 675.4h0M1232.6 620.2h0M1210.7 685.4h0M1198.6 762.5h0M1221.7 611.6h0M1159.2 679.4h0M1200.5 761.0h0M1204.9 719.9h0M1184.2 697.2h0M1176.9 689.1h0M1182.1 685.8h0M1209.6 695.6h0M1223.9 665.4h0M1198.4 667.3h0M1198.1 685.6h0M1218.3 643.6h0" stroke="#a886e8" stroke-width="1.7" stroke-linecap="round" fill="none"/>
<path d="M1193.6 769.3h0M1223.6 694.8h0M1209.7 688.2h0M1218.4 629.9h0M1194.0 771.5h0M1196.5 762.3h0M1198.4 648.9h0M1227.3 615.8h0M1184.2 665.4h0M1184.7 647.7h0M1182.6 667.2h0M1214.6 637.4h0M1193.4 656.8h0M1225.9 617.9h0M1171.6 672.1h0M1164.6 710.9h0M1196.5 765.9h0M1193.0 678.1h0M1183.6 721.4h0M1198.0 627.4h0M1218.3 626.7h0M1173.2 706.3h0M1171.9 697.3h0M1212.4 707.4h0M1202.1 702.2h0M1181.2 671.4h0M1168.0 701.9h0M1234.5 702.4h0M1194.1 671.2h0M1222.1 667.7h0M1187.5 695.2h0M1187.8 683.6h0M1204.0 716.3h0M1117.7 620.8h0M1226.9 634.8h0M1209.9 641.7h0M1101.2 600.2h0M1176.0 684.1h0M1211.5 633.2h0M1208.7 716.6h0M1203.0 683.5h0M1159.7 668.8h0M1186.9 645.6h0M1172.9 666.3h0M1188.0 709.5h0M1171.5 693.7h0M1171.6 681.6h0M1212.1 710.9h0M1175.1 686.2h0M1184.9 720.6h0M1216.7 639.4h0M1077.8 595.7h0M1085.5 593.6h0M1210.8 689.4h0M1209.1 673.0h0M1156.0 672.5h0M1194.0 732.8h0M1209.7 665.9h0M1196.3 760.6h0M1159.2 657.9h0M1183.4 676.2h0M1086.4 612.6h0M1190.1 683.3h0M1190.9 673.4h0M1200.2 635.3h0M1200.5 654.0h0M1193.6 683.6h0M1229.3 627.7h0M1222.8 642.1h0M1172.0 659.1h0M1226.9 640.3h0M1216.8 614.0h0M1202.0 665.8h0M1197.3 723.2h0M1157.7 660.3h0M1174.6 663.4h0M1155.5 647.5h0M1161.3 672.8h0M1090.9 561.1h0M1225.3 645.5h0M1181.4 713.6h0M1213.9 674.1h0M1170.4 649.7h0M1209.1 713.3h0M1189.3 712.3h0M1199.9 665.9h0M1181.3 650.8h0M1201.9 665.6h0M1201.8 757.4h0M1188.1 714.8h0M1179.2 711.1h0M1243.6 641.2h0M1183.0 676.9h0M1164.4 657.0h0M1171.4 664.1h0M1071.4 574.1h0M1224.2 620.1h0M1223.2 668.9h0M1206.8 677.9h0M1179.6 663.1h0M1215.9 643.8h0M1223.3 667.7h0M1203.7 648.4h0M1226.5 632.4h0M1104.0 615.8h0M1213.6 687.6h0M1189.0 719.5h0M1179.9 676.0h0M1199.6 729.3h0M1189.5 715.0h0M1197.2 676.0h0M1197.1 759.7h0M1211.3 618.3h0M1205.3 687.4h0M1193.7 762.5h0M1218.7 651.9h0M1191.8 640.8h0M1154.3 663.5h0M1184.4 677.9h0M1201.3 687.9h0M1175.8 667.3h0M1177.5 655.6h0M1209.9 688.2h0M1167.6 711.6h0M1198.9 653.6h0M1196.4 667.5h0M1177.4 686.4h0M1175.3 673.0h0M1191.1 680.5h0M1208.2 635.1h0M1198.4 763.8h0M1184.3 689.1h0M1178.3 651.1h0M1118.4 616.2h0M1215.9 627.7h0M1197.4 678.1h0M1174.2 712.7h0M1155.4 672.9h0M1233.9 665.7h0M1134.8 658.6h0M1226.9 685.1h0M1177.5 665.0h0M1190.8 670.4h0M1225.0 667.6h0M1204.2 660.3h0M1192.6 684.7h0M1176.2 694.0h0M1166.8 703.4h0M1176.9 714.1h0M1179.2 685.6h0M1209.4 684.5h0M1223.3 653.6h0M1208.6 629.6h0M1201.1 671.6h0M1158.0 683.8h0M1187.0 652.3h0M1234.4 708.7h0M1215.1 713.7h0M1202.0 677.1h0M1201.5 674.3h0M1195.4 694.0h0M1170.7 701.5h0M1218.6 609.3h0M1197.8 773.7h0M1212.6 649.5h0M1066.3 602.5h0M1217.1 622.2h0M1223.9 672.3h0M1201.8 755.4h0M1210.1 652.1h0M1225.9 675.8h0M1228.3 672.4h0M1212.1 719.4h0M1206.0 633.3h0M1233.7 664.7h0M1179.5 719.6h0M1209.3 676.9h0M1222.6 650.9h0M1173.0 656.5h0M1210.3 627.1h0M1195.6 672.7h0M1219.3 675.6h0M1198.0 766.2h0M1171.8 673.4h0M1217.6 687.1h0M1231.6 669.7h0M1206.1 645.8h0M1175.7 671.5h0M1179.6 708.9h0M1176.8 711.4h0M1242.5 670.0h0M1210.1 719.4h0M1171.1 668.2h0M1180.8 659.6h0M1218.9 641.2h0M1197.7 766.7h0M1184.1 692.0h0M1192.8 683.3h0M1202.1 754.4h0M1216.0 638.0h0M1177.5 682.4h0M1191.6 684.4h0M1153.7 647.0h0M1185.6 714.2h0M1170.2 710.7h0M1189.6 671.6h0M1195.2 637.2h0M1188.2 669.1h0M1172.9 702.9h0M1199.7 699.9h0M1214.7 702.9h0M1226.5 633.6h0M1193.8 698.2h0M1190.1 689.1h0M1165.2 710.6h0M1192.5 688.2h0M1170.8 705.5h0M1184.6 678.6h0M1201.5 636.1h0M1190.7 687.4h0M1222.3 631.4h0M1196.1 768.4h0M1209.3 701.9h0M1103.6 627.5h0M1221.9 653.7h0M1209.7 645.0h0M1227.5 650.4h0M1176.3 671.9h0M1221.8 635.1h0M1181.1 666.8h0M1161.6 696.0h0M1182.9 703.9h0M1182.0 665.3h0M1232.8 683.7h0M1213.6 661.9h0M1197.8 768.6h0M1219.8 626.9h0M1210.9 684.2h0M1185.1 660.6h0M1190.3 708.2h0M1205.7 683.5h0M1167.7 661.9h0M1201.2 648.0h0M1194.9 685.2h0M1195.2 760.0h0M1186.9 660.6h0M1216.2 659.5h0M1199.5 675.7h0M1194.6 686.4h0M1215.0 701.4h0M1198.1 773.9h0M1180.1 715.2h0M1166.7 696.9h0M1180.2 735.2h0M1194.9 716.5h0M1174.0 703.9h0M1181.7 673.7h0M1234.1 640.8h0M1198.8 631.6h0M1196.5 745.8h0M1196.6 772.6h0M1196.4 642.8h0M1204.5 666.6h0M1204.2 648.3h0M1180.9 692.9h0M1116.8 540.7h0M1196.4 660.7h0M1198.5 772.2h0M1188.4 682.4h0M1189.6 682.9h0M1206.2 668.7h0M1202.3 720.1h0M1195.3 684.8h0M1231.0 649.3h0M1193.0 768.4h0M1166.5 691.9h0M1234.6 710.1h0M1224.2 673.9h0M1169.6 665.4h0M1163.2 688.8h0M1223.3 613.7h0M1203.6 708.5h0M1174.2 657.4h0M1197.0 766.9h0M1173.2 722.0h0M1189.9 717.7h0M1198.6 672.4h0M1225.0 643.5h0M1203.6 690.3h0M1184.9 712.4h0M1203.1 631.7h0M1206.6 690.2h0M1183.6 697.6h0M1237.5 681.8h0M1216.3 652.9h0M1193.7 771.5h0M1173.5 672.9h0M1194.7 763.0h0M1201.5 656.3h0M1223.1 698.7h0M1219.8 670.3h0M1208.8 720.8h0M1198.5 713.6h0M1173.1 694.0h0M1168.5 704.5h0M1237.6 658.1h0M1183.4 699.8h0M1173.3 719.8h0M1183.9 693.7h0M1202.5 630.2h0M1228.6 649.5h0M1203.8 651.2h0M1185.5 711.9h0M1206.0 703.3h0M1214.3 680.8h0M1189.4 641.6h0M1191.0 699.0h0M1193.4 674.2h0M1198.2 764.5h0M1165.2 650.7h0M1160.7 662.1h0M1205.6 623.3h0M1195.3 688.7h0M1107.1 596.7h0M1213.7 651.8h0M1224.5 649.5h0M1177.0 708.7h0M1213.6 684.4h0M1224.4 682.7h0M1218.7 632.3h0M1174.2 674.1h0M1232.7 656.5h0M1180.3 690.1h0M1212.3 644.3h0M1217.7 682.1h0M1177.4 715.0h0M1219.5 633.7h0M1230.1 620.8h0M1167.8 684.4h0M1210.8 653.4h0M1065.4 700.9h0M1210.4 672.8h0M1207.5 682.2h0M1193.9 741.0h0M1198.7 709.7h0M1204.6 647.1h0M1225.7 626.6h0M1179.8 682.0h0M1230.2 690.2h0M1183.3 696.1h0M1176.8 648.4h0M1220.4 644.0h0M1214.4 633.8h0M1176.3 682.8h0M1215.0 638.2h0M1197.7 679.0h0M1199.8 663.5h0M1198.3 777.0h0M1183.5 696.1h0M1183.2 696.2h0M1182.5 693.9h0M1191.4 665.8h0M1214.5 657.0h0M1210.7 647.0h0M1172.6 671.0h0M1216.5 682.7h0M1185.6 683.2h0M1175.1 680.7h0M1215.8 611.0h0M1215.4 619.6h0M1218.2 675.9h0M1195.2 767.5h0M1183.3 705.2h0M1179.5 695.0h0M1181.2 692.4h0M1211.3 615.1h0M1217.2 669.3h0M1201.2 636.2h0M1198.2 636.9h0M1228.0 663.8h0M1194.6 701.4h0M1226.7 654.0h0M1195.9 766.5h0M1184.1 645.4h0M1206.3 663.3h0M1186.3 697.1h0M1214.5 637.2h0M1193.9 678.8h0M1192.0 641.0h0M1164.3 652.4h0M1207.4 648.8h0M1170.9 655.3h0M1194.0 738.9h0M1161.8 684.1h0M1206.7 702.8h0M1213.7 678.8h0M1206.6 647.0h0M1207.1 640.7h0M1210.1 702.5h0M1205.5 650.9h0M1195.6 699.0h0M1223.4 677.4h0M1186.5 675.8h0M1197.4 763.4h0M1210.1 617.1h0M1213.2 620.6h0M1228.0 666.6h0M1074.9 723.7h0M1209.3 673.7h0M1213.6 640.6h0M1183.4 684.5h0M1204.1 661.9h0M1225.0 685.1h0M1229.3 631.5h0M1222.1 638.9h0M1163.7 708.5h0M1196.5 669.0h0M1169.2 652.9h0M1174.3 711.7h0M1229.4 711.6h0M1200.9 628.3h0M1232.7 679.2h0M1217.7 667.9h0M1233.6 621.8h0M1193.8 648.1h0M1230.6 655.5h0M1224.8 698.5h0M1207.7 689.6h0M1198.7 718.8h0M1197.1 634.3h0M1192.9 725.1h0M1222.1 620.3h0M1222.6 675.9h0M1184.5 691.7h0M1211.6 644.8h0M1172.7 696.8h0M1188.9 667.2h0M1194.8 665.1h0M1212.8 636.7h0M1221.4 637.5h0M1192.1 651.5h0M1213.8 649.2h0M1212.6 633.6h0M1168.0 707.8h0M1195.4 683.6h0M1207.5 664.6h0M1206.9 634.0h0M1207.2 661.1h0M1182.2 710.1h0M1164.4 707.0h0M1234.6 618.4h0M1164.9 697.7h0M1168.2 675.0h0M1193.1 700.6h0M1211.0 721.3h0M1207.8 635.7h0M1210.2 631.1h0M1208.7 651.0h0M1175.7 653.9h0M1175.3 692.2h0M1238.8 628.1h0M1203.1 717.0h0M1198.6 705.3h0M1203.4 692.5h0M1192.7 711.0h0M1224.3 663.0h0M1205.9 697.3h0M1185.5 714.7h0M1191.9 674.0h0M1222.4 671.9h0M1205.0 687.2h0M1230.7 676.6h0M1211.9 666.7h0M1210.4 625.4h0M1206.8 705.0h0M1204.8 653.7h0M1206.2 650.2h0M1197.4 653.9h0M1162.5 644.3h0M1199.9 643.5h0M1223.0 638.3h0M1222.2 611.8h0M1194.1 768.6h0M1188.8 707.0h0M1170.5 704.0h0M1194.0 667.6h0M1188.4 652.9h0M1203.0 633.5h0M1213.5 663.9h0M1163.9 690.4h0M1185.7 720.7h0M1221.5 696.9h0M1222.1 662.2h0M1212.1 637.1h0M1217.4 701.2h0M1225.5 699.9h0M1176.6 677.7h0M1179.2 690.2h0M1162.7 704.5h0M1213.2 666.2h0M1198.5 711.1h0M1156.8 674.1h0M1203.7 687.3h0M1213.0 692.7h0M1213.3 682.5h0M1206.7 716.7h0M1198.6 695.6h0M1193.4 633.9h0M1210.2 650.3h0M1191.6 700.6h0M1234.0 709.1h0M1172.6 718.8h0M1169.3 702.2h0M1198.0 697.0h0M1180.1 683.4h0M1196.9 750.0h0M1162.0 713.1h0M1205.0 685.0h0M1185.6 725.1h0M1168.3 674.2h0M1166.9 709.4h0M1222.7 641.9h0M1210.7 653.8h0M1182.0 702.5h0M1215.4 647.3h0M1198.9 691.7h0M1198.2 694.3h0M1161.9 688.7h0M1200.4 711.6h0M1219.4 654.9h0M1165.0 658.3h0M1216.9 647.2h0M1172.2 718.1h0M1181.5 677.8h0M1200.1 754.2h0M1205.0 668.6h0M1187.4 716.3h0M1195.1 680.8h0M1215.3 646.9h0M1203.0 630.2h0M1214.8 635.0h0M1165.3 675.3h0M1206.9 714.8h0M1198.6 704.1h0M1175.5 716.6h0M1215.8 642.0h0M1169.7 661.9h0M1166.5 655.0h0" stroke="#9a73ed" stroke-width="1.7" stroke-linecap="round" fill="none"/>
<path d="M1199.1 719.3h0M1175.5 677.5h0M1180.8 698.3h0M1212.6 662.3h0M1214.9 689.5h0M1206.3 637.8h0M1208.3 678.8h0M1179.9 654.4h0M1207.2 652.4h0M1195.1 686.0h0M1189.9 690.3h0M1201.8 674.2h0M1177.2 662.3h0M1208.1 655.1h0M1195.8 767.6h0M1202.0 648.9h0M1188.0 668.0h0M1197.3 712.3h0M1194.5 641.9h0M1215.5 637.1h0M1177.7 690.9h0M1206.4 623.0h0M1192.3 733.2h0M1176.8 652.1h0M1189.0 703.8h0M1165.3 713.0h0M1207.4 633.4h0M1180.3 702.6h0M1217.9 640.8h0M1165.3 664.4h0M1207.5 719.8h0M1222.3 633.5h0M1211.6 631.4h0M1181.0 667.9h0M1205.2 624.4h0M1211.7 646.2h0M1206.2 673.5h0M1212.2 652.8h0M1183.7 714.3h0M1180.3 711.7h0M1229.8 663.0h0M1212.7 621.3h0M1176.3 647.1h0M1221.4 640.7h0M1188.5 675.0h0M1205.7 621.4h0M1169.1 650.9h0M1186.9 681.9h0M1197.2 778.1h0M1216.6 624.7h0M1193.9 683.7h0M1212.9 618.6h0M1176.5 678.0h0M1166.4 707.5h0M1177.9 706.3h0M1203.9 651.7h0M1196.8 665.6h0M1212.1 640.4h0M1176.6 698.7h0M1221.2 685.5h0M1201.3 630.1h0M1208.9 642.6h0M1228.3 698.9h0M1213.9 678.5h0M1204.0 648.5h0M1197.5 682.6h0M1185.0 720.9h0M1205.9 663.2h0M1226.7 688.1h0M1225.6 619.9h0M1201.5 625.1h0M1223.1 705.8h0M1169.7 650.7h0M1166.5 685.0h0M1180.9 691.9h0M1215.0 676.9h0M1191.5 667.3h0M1185.1 666.0h0M1206.3 674.1h0M1216.7 684.2h0M1212.4 647.2h0M1155.7 659.0h0M1215.1 695.0h0M1188.1 656.8h0M1195.4 705.2h0M1181.0 696.7h0M1179.0 702.2h0M1162.6 675.0h0M1182.7 670.3h0M1209.3 646.2h0M1199.3 753.4h0M1200.3 691.6h0M1204.2 686.0h0M1171.6 706.8h0M1165.0 719.1h0M1188.4 674.4h0M1178.5 679.6h0M1191.2 681.5h0M1202.8 641.7h0M1214.1 659.8h0M1196.1 770.0h0M1185.5 651.4h0M1190.6 692.2h0M1190.9 675.9h0M1197.3 682.0h0M1188.3 675.4h0M1234.7 689.8h0M1200.7 754.9h0M1179.7 657.2h0M1201.5 762.9h0M1198.8 671.7h0M1210.5 696.9h0M1195.9 775.7h0M1214.8 635.7h0M1199.2 767.3h0M1199.5 637.5h0M1182.0 706.3h0M1195.9 666.9h0M1206.6 651.4h0M1176.0 672.4h0M1197.7 760.9h0M1187.4 698.2h0M1179.5 674.4h0M1206.3 649.9h0M1178.8 676.6h0M1217.2 671.1h0M1193.1 643.9h0M1211.7 620.7h0M1170.4 684.4h0M1220.2 684.5h0M1223.0 645.7h0M1179.2 665.1h0M1223.1 642.1h0M1211.4 698.0h0M1220.5 686.9h0M1211.1 668.2h0M1222.4 670.6h0M1211.2 677.1h0M1219.0 612.0h0M1168.6 678.5h0M1191.5 690.9h0M1193.7 664.8h0M1166.9 703.9h0M1224.6 654.4h0M1168.6 697.9h0M1187.3 644.3h0M1220.4 665.0h0M1165.8 656.5h0M1182.5 695.5h0M1215.0 647.1h0M1171.3 706.6h0M1220.5 652.1h0M1184.8 657.5h0M1170.3 648.9h0M1206.2 687.7h0M1198.1 762.8h0M1198.1 674.9h0M1191.6 644.8h0M1168.0 651.1h0M1209.0 707.5h0M1213.3 707.5h0M1175.3 683.5h0M1165.6 666.0h0M1197.4 758.4h0M1175.2 673.4h0M1215.4 652.8h0M1183.2 653.8h0M1217.5 689.3h0M1204.1 636.6h0M1198.0 775.4h0M1185.9 681.3h0M1193.5 714.5h0M1198.2 655.7h0M1220.2 648.1h0M1176.5 669.0h0M1205.2 655.0h0M1204.0 656.4h0M1205.8 653.4h0M1187.4 693.8h0M1204.4 677.8h0M1179.9 657.6h0M1196.4 767.4h0M1180.7 660.3h0M1183.0 651.4h0M1224.1 668.5h0M1206.7 648.4h0M1177.2 662.4h0M1184.0 656.9h0M1208.2 634.6h0M1223.1 690.6h0M1196.7 745.3h0M1188.8 707.5h0M1198.4 755.0h0M1210.3 648.0h0M1217.5 643.4h0M1204.0 652.2h0M1174.7 720.3h0M1192.4 669.9h0M1180.9 696.9h0M1200.1 699.5h0M1195.3 674.3h0M1195.6 703.6h0M1191.3 663.0h0M1165.1 671.1h0M1223.6 697.1h0M1215.7 698.8h0M1218.6 614.0h0M1220.1 638.1h0M1200.4 672.5h0M1194.6 631.7h0M1201.5 759.7h0M1193.4 671.6h0M1186.9 645.3h0M1185.2 669.1h0M1225.5 639.5h0M1175.1 659.5h0M1189.8 701.9h0M1165.1 671.1h0M1197.1 755.7h0M1180.4 711.0h0M1186.3 697.8h0M1167.4 665.5h0M1190.0 700.8h0M1174.5 671.7h0M1187.3 665.6h0M1198.4 675.7h0M1181.9 703.2h0M1226.4 697.5h0M1196.0 753.1h0M1198.5 664.5h0M1216.4 627.3h0M1173.7 671.1h0M1180.5 671.6h0M1214.5 698.2h0M1168.0 706.6h0M1175.3 684.0h0M1205.6 683.3h0M1220.4 673.0h0M1161.5 645.2h0M1218.3 679.4h0M1188.7 677.6h0M1194.8 685.9h0M1167.6 720.1h0M1207.7 669.2h0M1196.0 700.6h0M1158.3 665.6h0M1216.3 682.5h0M1220.2 673.9h0M1182.4 681.8h0M1202.8 668.1h0M1173.0 698.4h0M1210.4 621.8h0M1186.4 700.0h0M1176.8 686.7h0M1175.4 716.9h0M1209.8 637.6h0M1223.0 663.9h0M1192.6 653.8h0M1183.6 684.3h0M1209.2 626.3h0M1153.8 655.9h0M1179.0 685.9h0M1176.4 676.3h0M1220.8 651.1h0M1198.3 692.9h0M1208.1 690.9h0M1194.5 767.6h0M1202.5 714.6h0M1181.4 684.5h0M1202.6 660.0h0M1200.5 635.1h0M1203.4 698.1h0M1158.8 683.8h0M1193.3 768.6h0M1209.6 678.1h0M1214.1 654.6h0M1206.2 641.0h0M1212.0 661.6h0M1232.2 623.0h0M1189.2 720.4h0M1182.0 651.9h0M1175.5 687.4h0M1208.4 660.1h0M1174.0 653.4h0M1203.1 715.1h0M1211.4 646.4h0M1164.0 688.2h0M1204.1 636.6h0M1214.1 675.0h0M1196.5 757.6h0M1183.8 715.4h0M1184.9 686.0h0M1181.6 699.1h0M1195.9 743.1h0M1172.8 697.9h0M1193.3 650.1h0M1219.4 650.2h0M1190.2 650.2h0M1189.4 673.8h0M1203.2 654.8h0M1203.1 700.2h0M1176.5 694.3h0M1185.2 719.4h0M1173.1 651.6h0M1209.3 654.3h0M1201.7 680.2h0M1201.6 665.0h0M1215.2 684.4h0M1180.2 692.8h0M1198.2 646.2h0M1225.2 701.2h0M1185.5 643.5h0M1194.6 768.7h0M1235.7 678.7h0M1210.7 700.1h0M1195.7 670.5h0M1169.6 690.6h0M1215.4 667.5h0M1171.1 700.5h0M1207.2 632.5h0M1205.5 691.7h0M1212.1 706.1h0M1212.2 714.0h0M1175.7 697.8h0M1198.2 678.4h0M1182.4 708.7h0M1193.2 666.9h0M1170.4 713.3h0M1217.6 681.5h0M1221.3 670.5h0M1176.2 675.0h0M1210.0 668.3h0M1179.6 646.1h0M1203.8 640.8h0M1171.6 713.0h0M1168.7 697.7h0M1209.7 699.6h0M1167.1 678.3h0M1162.6 648.7h0M1210.0 678.4h0M1213.3 682.0h0M1193.4 721.8h0M1183.6 704.8h0M1164.9 669.0h0M1207.2 636.2h0M1189.2 710.8h0M1173.4 691.1h0M1183.0 657.3h0M1186.1 679.8h0M1176.0 689.8h0M1218.0 668.5h0M1216.3 660.0h0M1211.5 707.8h0M1221.0 680.2h0M1190.5 666.9h0M1178.9 703.3h0M1213.2 636.6h0M1198.9 651.5h0M1184.6 713.8h0M1196.6 763.5h0M1218.0 626.7h0M1198.8 772.1h0M1186.3 678.9h0M1183.8 685.8h0M1212.6 624.4h0M1181.8 704.5h0M1200.0 669.6h0M1178.0 660.3h0M1187.8 664.7h0M1212.0 717.0h0M1205.7 663.7h0M1198.2 658.6h0M1218.1 661.0h0M1212.0 634.8h0M1216.2 627.3h0M1161.1 667.3h0M1184.2 687.3h0M1217.5 625.6h0M1203.5 704.3h0M1205.9 689.4h0M1223.6 635.7h0M1172.7 688.1h0M1189.3 645.7h0M1169.1 657.1h0M1181.2 721.1h0M1216.8 674.6h0M1224.1 655.7h0M1196.8 772.2h0M1180.1 671.6h0M1178.9 691.0h0M1169.9 669.7h0M1213.4 627.8h0M1167.2 667.2h0M1200.5 705.2h0M1157.7 655.4h0M1163.1 664.0h0M1209.9 696.6h0M1222.3 687.5h0M1212.4 657.7h0M1185.5 648.7h0M1194.8 678.5h0M1173.6 688.8h0M1188.6 645.9h0M1215.6 642.2h0M1155.7 670.0h0M1181.4 684.9h0M1204.6 694.5h0M1180.5 658.7h0M1159.6 692.0h0M1167.0 693.8h0M1207.1 662.5h0M1214.2 621.3h0M1170.1 669.6h0M1199.5 710.8h0M1209.9 625.4h0M1172.1 706.2h0M1202.3 636.5h0M1211.3 647.0h0M1184.9 647.0h0M1185.2 691.4h0M1159.3 686.4h0M1206.4 682.5h0M1203.6 653.5h0M1186.1 687.5h0M1215.4 671.5h0M1178.9 681.3h0M1196.0 668.2h0M1174.4 687.2h0M1224.9 648.6h0M1179.4 653.9h0M1177.5 661.7h0M1165.4 660.4h0M1203.1 658.0h0M1200.9 631.2h0M1218.8 661.3h0M1188.4 689.4h0M1220.0 614.8h0M1205.4 647.8h0M1204.8 700.6h0M1213.3 709.7h0M1203.8 664.5h0M1225.9 637.7h0M1160.8 697.9h0M1211.9 671.3h0M1204.8 643.7h0M1168.5 691.9h0M1189.2 710.7h0M1196.0 758.5h0M1179.6 699.2h0M1194.3 767.1h0M1156.2 661.1h0M1173.0 679.6h0M1181.5 696.8h0M1204.1 662.9h0M1206.2 689.8h0M1220.9 631.0h0M1185.2 668.5h0M1203.7 694.9h0M1197.9 786.6h0M1185.0 668.3h0M1186.0 670.2h0M1203.6 652.5h0M1177.9 671.9h0M1174.8 660.9h0M1171.8 701.7h0M1185.9 667.5h0M1228.6 658.2h0M1159.3 672.6h0M1180.8 670.7h0M1197.1 652.8h0M1210.7 638.8h0M1167.0 676.8h0M1170.7 659.9h0M1157.2 660.9h0M1236.2 666.1h0M1200.7 703.3h0M1229.7 709.9h0M1183.4 690.9h0M1213.8 625.5h0M1158.2 686.1h0M1175.1 658.4h0M1198.2 716.6h0M1201.4 683.5h0M1172.7 678.8h0M1207.4 707.7h0M1200.3 718.0h0M1223.6 660.5h0M1184.7 696.0h0M1189.0 719.3h0M1204.4 677.5h0M1208.4 690.4h0M1203.0 696.4h0M1197.3 765.6h0M1183.0 702.9h0M1169.9 667.5h0M1179.2 695.9h0M1219.4 627.3h0M1162.3 659.9h0M1204.1 678.1h0M1155.4 647.3h0M1205.8 716.0h0" stroke="#895ff1" stroke-width="1.7" stroke-linecap="round" fill="none"/>
<path d="M1211.1 658.3h0M1219.2 654.9h0M1178.4 680.6h0M1153.7 651.6h0M1168.6 680.1h0M1210.3 689.6h0M1217.9 646.2h0M1225.9 689.6h0M1161.0 685.2h0M1220.4 691.3h0M1164.5 710.8h0M1206.4 645.5h0M1193.6 677.8h0M1224.5 670.4h0M1189.5 705.5h0M1161.6 698.3h0M1207.1 628.8h0M1205.6 690.4h0M1171.0 720.1h0M1192.7 660.8h0M1182.0 676.0h0M1188.8 682.6h0M1172.6 715.9h0M1157.1 646.2h0M1171.1 678.9h0M1212.1 622.9h0M1206.1 675.9h0M1187.1 655.3h0M1160.3 644.7h0M1218.0 700.0h0M1185.4 668.4h0M1192.5 666.6h0M1186.6 680.0h0M1179.4 680.5h0M1178.8 698.9h0M1221.5 645.3h0M1174.0 691.5h0M1180.4 677.3h0M1220.8 642.1h0M1227.0 681.8h0M1180.2 665.0h0M1185.2 664.4h0M1212.8 697.4h0M1210.1 645.0h0M1184.0 648.1h0M1224.8 647.8h0M1210.8 716.4h0M1212.6 643.1h0M1196.3 761.4h0M1207.9 703.8h0M1175.3 710.9h0M1201.4 646.2h0M1223.3 648.3h0M1188.3 694.9h0M1156.9 678.8h0M1208.5 691.3h0M1216.3 702.3h0M1173.0 674.2h0M1213.0 638.8h0M1198.0 641.0h0M1167.7 709.0h0M1206.6 713.0h0M1216.7 689.3h0M1226.4 631.4h0M1217.4 696.1h0M1193.3 772.5h0M1159.1 644.8h0M1195.9 759.2h0M1182.5 684.7h0M1196.7 698.0h0M1191.2 657.2h0M1172.7 688.1h0M1200.3 660.7h0M1185.8 677.9h0M1161.4 688.7h0M1217.9 640.0h0M1190.2 662.6h0M1206.4 673.4h0M1189.1 672.8h0M1201.6 677.5h0M1231.0 661.6h0M1206.8 644.8h0M1201.2 648.5h0M1163.9 704.9h0M1170.8 696.6h0M1227.1 635.5h0M1163.8 671.6h0M1178.1 674.3h0M1222.1 635.1h0M1186.5 651.1h0M1205.9 689.1h0M1210.7 714.1h0M1160.3 688.9h0M1169.2 704.9h0M1182.8 715.9h0M1209.8 671.7h0M1223.1 666.8h0M1209.0 678.4h0M1171.6 701.3h0M1190.8 648.5h0M1212.5 673.1h0M1220.8 643.8h0M1214.6 650.3h0M1159.8 651.3h0M1187.3 643.8h0M1218.8 617.9h0M1197.6 656.4h0M1198.1 701.2h0M1211.5 626.4h0M1197.1 767.1h0M1182.8 688.9h0M1186.2 677.7h0M1221.7 670.1h0M1192.8 698.6h0M1215.4 632.6h0M1165.8 664.7h0M1164.7 701.1h0M1184.1 721.3h0M1200.6 653.3h0M1187.8 654.6h0M1223.9 634.4h0M1198.2 756.0h0M1204.3 712.8h0M1169.8 672.6h0M1215.2 704.1h0M1230.3 664.8h0M1204.5 683.3h0M1192.7 697.0h0M1181.1 696.2h0M1174.7 698.8h0M1201.0 630.1h0M1211.5 649.4h0M1186.3 699.5h0M1184.3 689.3h0M1200.7 679.1h0M1189.2 694.6h0M1159.2 646.8h0M1169.0 678.9h0M1200.1 649.6h0M1212.8 651.4h0M1167.8 701.8h0M1184.7 646.0h0M1221.8 701.8h0M1209.6 665.9h0M1199.8 673.6h0M1172.9 676.4h0M1183.2 686.6h0M1187.7 683.5h0M1209.9 717.7h0M1160.6 678.8h0M1207.5 714.3h0M1194.0 703.0h0M1170.7 700.0h0M1190.9 691.7h0M1200.0 683.6h0M1220.9 651.4h0M1219.0 702.3h0M1168.9 683.3h0M1196.4 715.8h0M1194.9 759.6h0M1175.1 673.1h0M1199.5 631.6h0M1197.0 666.8h0M1176.8 718.4h0M1212.4 697.1h0M1211.9 678.8h0M1179.9 667.3h0M1181.0 671.1h0M1208.8 627.5h0M1198.9 768.9h0M1171.9 685.7h0M1200.9 716.5h0M1173.3 712.8h0M1173.4 695.3h0M1208.1 664.7h0M1220.7 626.3h0M1182.9 677.9h0M1171.6 661.9h0M1212.0 638.8h0M1178.2 708.1h0M1200.2 648.8h0M1166.6 690.5h0M1162.5 682.8h0M1164.1 699.2h0M1196.6 769.2h0M1175.3 704.8h0M1217.5 697.1h0M1164.7 666.8h0M1156.8 666.4h0M1205.9 690.8h0M1222.5 631.9h0M1200.6 670.1h0M1186.3 701.8h0M1218.3 662.3h0M1172.3 674.5h0M1157.7 683.5h0M1199.0 651.3h0M1208.9 621.3h0M1208.6 648.1h0M1210.1 679.9h0M1198.5 719.5h0M1189.6 669.4h0M1208.9 640.1h0M1157.3 676.2h0M1216.3 656.7h0M1175.1 695.6h0M1175.8 651.8h0M1219.1 690.5h0M1213.5 671.6h0M1194.5 752.3h0M1173.9 657.3h0M1182.0 680.1h0M1169.2 680.4h0M1177.7 654.2h0M1218.4 681.6h0M1198.0 762.0h0M1211.8 626.6h0M1161.9 688.2h0M1185.9 699.8h0M1196.2 707.6h0M1195.2 688.3h0M1206.8 645.4h0M1169.2 690.9h0M1180.0 684.7h0M1199.9 640.9h0M1199.1 697.5h0M1215.2 635.0h0M1181.2 704.7h0M1179.9 676.2h0M1178.5 676.2h0M1154.0 655.6h0M1198.5 708.2h0M1183.9 675.0h0M1170.3 709.6h0M1176.9 683.1h0M1178.1 658.2h0M1165.2 703.0h0M1217.8 637.6h0M1202.8 654.8h0M1179.2 687.6h0M1164.1 656.8h0M1199.7 641.3h0M1224.0 645.3h0M1198.7 693.2h0M1214.1 686.0h0M1207.8 643.0h0M1203.8 648.6h0M1172.8 699.4h0M1195.7 645.6h0" stroke="#673df8" stroke-width="1.7" stroke-linecap="round" fill="none"/>
<defs><linearGradient id="gD" x1="0" y1="1" x2="0" y2="0"><stop offset="0" stop-color="#d3d3d3"/><stop offset="0.1" stop-color="#cac1d9"/><stop offset="0.2" stop-color="#c1aede"/><stop offset="0.3" stop-color="#b69ce3"/><stop offset="0.4" stop-color="#aa89e7"/><stop offset="0.5" stop-color="#9d77ec"/><stop offset="0.6" stop-color="#8e65f0"/><stop offset="0.7" stop-color="#7c51f4"/><stop offset="0.8" stop-color="#673df8"/><stop offset="0.9" stop-color="#4926fb"/><stop offset="1" stop-color="#0000ff"/></linearGradient></defs>
<rect x="1276.9" y="618.5" width="14.6" height="74.3" fill="url(#gD)"/>
<text x="1298.7" y="633.2" font-size="10.5" fill="#1a1a1a">3</text>
<line x1="1276.9" y1="629.5" x2="1279.9" y2="629.5" stroke="#fff" stroke-width="0.6"/>
<line x1="1288.5" y1="629.5" x2="1291.5" y2="629.5" stroke="#fff" stroke-width="0.6"/>
<text x="1298.7" y="653.3" font-size="10.5" fill="#1a1a1a">2</text>
<line x1="1276.9" y1="649.6" x2="1279.9" y2="649.6" stroke="#fff" stroke-width="0.6"/>
<line x1="1288.5" y1="649.6" x2="1291.5" y2="649.6" stroke="#fff" stroke-width="0.6"/>
<text x="1298.7" y="674.1" font-size="10.5" fill="#1a1a1a">1</text>
<line x1="1276.9" y1="670.4" x2="1279.9" y2="670.4" stroke="#fff" stroke-width="0.6"/>
<line x1="1288.5" y1="670.4" x2="1291.5" y2="670.4" stroke="#fff" stroke-width="0.6"/>
<text x="1298.7" y="694.8" font-size="10.5" fill="#1a1a1a">0</text>
<line x1="1276.9" y1="691.1" x2="1279.9" y2="691.1" stroke="#fff" stroke-width="0.6"/>
<line x1="1288.5" y1="691.1" x2="1291.5" y2="691.1" stroke="#fff" stroke-width="0.6"/>
<text x="13.8" y="965.4" font-size="29" font-weight="bold">E</text>
<line x1="87.2" y1="986.8" x2="87.2" y2="1187.8" stroke="#000" stroke-width="1.6"/>
<line x1="86.4" y1="1187.0" x2="288.0" y2="1187.0" stroke="#000" stroke-width="1.6"/>
<line x1="79.0" y1="1014.1" x2="87.2" y2="1014.1" stroke="#000" stroke-width="1.5"/>
<text x="72.3" y="1020.6" font-size="18" text-anchor="end" fill="#4d4d4d" textLength="24.8" lengthAdjust="spacingAndGlyphs">6.0</text>
<line x1="79.0" y1="1057.1" x2="87.2" y2="1057.1" stroke="#000" stroke-width="1.5"/>
<text x="72.3" y="1063.6" font-size="18" text-anchor="end" fill="#4d4d4d" textLength="24.8" lengthAdjust="spacingAndGlyphs">5.5</text>
<line x1="79.0" y1="1100.0" x2="87.2" y2="1100.0" stroke="#000" stroke-width="1.5"/>
<text x="72.3" y="1106.5" font-size="18" text-anchor="end" fill="#4d4d4d" textLength="24.8" lengthAdjust="spacingAndGlyphs">5.0</text>
<line x1="79.0" y1="1143.0" x2="87.2" y2="1143.0" stroke="#000" stroke-width="1.5"/>
<text x="72.3" y="1149.5" font-size="18" text-anchor="end" fill="#4d4d4d" textLength="24.8" lengthAdjust="spacingAndGlyphs">4.5</text>
<line x1="79.0" y1="1185.9" x2="87.2" y2="1185.9" stroke="#000" stroke-width="1.5"/>
<text x="72.3" y="1192.4" font-size="18" text-anchor="end" fill="#4d4d4d" textLength="24.8" lengthAdjust="spacingAndGlyphs">4.0</text>
<line x1="141.5" y1="1187.0" x2="141.5" y2="1195.3" stroke="#000" stroke-width="1.5"/>
<line x1="233.0" y1="1187.0" x2="233.0" y2="1195.3" stroke="#000" stroke-width="1.5"/>
<text x="144.4" y="1214.7" font-size="19" text-anchor="middle" fill="#4d4d4d" textLength="90.2" lengthAdjust="spacingAndGlyphs">Anti VISTA</text>
<text x="142.5" y="1237.7" font-size="19" text-anchor="middle" fill="#4d4d4d" textLength="43.4" lengthAdjust="spacingAndGlyphs">(803)</text>
<text x="238.1" y="1214.7" font-size="19" text-anchor="middle" fill="#4d4d4d" textLength="40.2" lengthAdjust="spacingAndGlyphs">hIgG</text>
<text x="99.3" y="1014.1" font-size="18.5" textLength="90.2" lengthAdjust="spacingAndGlyphs">p=8.5e−13</text>
<text transform="translate(34.1 1086) rotate(-90)" font-size="17.5" text-anchor="middle" textLength="168" lengthAdjust="spacingAndGlyphs"><tspan font-style="italic">CXCL10</tspan> expression</text>
<circle cx="141.7" cy="1074.5" r="6.0" fill="#3A80BF" stroke="#000" stroke-width="2.1"/>
<circle cx="129.3" cy="1103.2" r="6.0" fill="#3A80BF" stroke="#000" stroke-width="2.1"/>
<circle cx="154.2" cy="1103.2" r="6.0" fill="#3A80BF" stroke="#000" stroke-width="2.1"/>
<circle cx="141.7" cy="1103.2" r="6.0" fill="#3A80BF" stroke="#000" stroke-width="2.1"/>
<circle cx="141.7" cy="1114.8" r="6.0" fill="#3A80BF" stroke="#000" stroke-width="2.1"/>
<circle cx="135.5" cy="1129.2" r="6.0" fill="#3A80BF" stroke="#000" stroke-width="2.1"/>
<circle cx="147.9" cy="1129.2" r="6.0" fill="#3A80BF" stroke="#000" stroke-width="2.1"/>
<circle cx="135.5" cy="1174.8" r="6.0" fill="#3A80BF" stroke="#000" stroke-width="2.1"/>
<circle cx="147.9" cy="1174.8" r="6.0" fill="#3A80BF" stroke="#000" stroke-width="2.1"/>
<circle cx="226.7" cy="998.2" r="6.0" fill="#999999" stroke="#000" stroke-width="2.1"/>
<circle cx="239.1" cy="998.2" r="6.0" fill="#999999" stroke="#000" stroke-width="2.1"/>
<circle cx="232.9" cy="1012.1" r="6.0" fill="#999999" stroke="#000" stroke-width="2.1"/>
<circle cx="220.5" cy="1031.1" r="6.0" fill="#999999" stroke="#000" stroke-width="2.1"/>
<circle cx="232.9" cy="1031.1" r="6.0" fill="#999999" stroke="#000" stroke-width="2.1"/>
<circle cx="245.3" cy="1031.1" r="6.0" fill="#999999" stroke="#000" stroke-width="2.1"/>
<circle cx="220.5" cy="1061.4" r="6.0" fill="#999999" stroke="#000" stroke-width="2.1"/>
<circle cx="232.9" cy="1061.4" r="6.0" fill="#999999" stroke="#000" stroke-width="2.1"/>
<circle cx="245.3" cy="1061.4" r="6.0" fill="#999999" stroke="#000" stroke-width="2.1"/>
<text x="355.8" y="965.0" font-size="29" font-weight="bold">F</text>
<line x1="464.0" y1="949.0" x2="464.0" y2="1194.3" stroke="#111" stroke-width="1.6"/>
<line x1="463.3" y1="1193.6" x2="627.0" y2="1193.6" stroke="#111" stroke-width="1.6"/>
<line x1="453.1" y1="949.6" x2="464.0" y2="949.6" stroke="#111" stroke-width="1.4"/>
<text x="451.4" y="955.6" font-size="17" text-anchor="end" font-weight="bold" textLength="51.0" lengthAdjust="spacingAndGlyphs">10000</text>
<line x1="453.1" y1="998.3" x2="464.0" y2="998.3" stroke="#111" stroke-width="1.4"/>
<text x="451.4" y="1004.3" font-size="17" text-anchor="end" font-weight="bold" textLength="40.8" lengthAdjust="spacingAndGlyphs">8000</text>
<line x1="453.1" y1="1047.1" x2="464.0" y2="1047.1" stroke="#111" stroke-width="1.4"/>
<text x="451.4" y="1053.1" font-size="17" text-anchor="end" font-weight="bold" textLength="40.8" lengthAdjust="spacingAndGlyphs">6000</text>
<line x1="453.1" y1="1095.8" x2="464.0" y2="1095.8" stroke="#111" stroke-width="1.4"/>
<text x="451.4" y="1101.8" font-size="17" text-anchor="end" font-weight="bold" textLength="40.8" lengthAdjust="spacingAndGlyphs">4000</text>
<line x1="453.1" y1="1144.6" x2="464.0" y2="1144.6" stroke="#111" stroke-width="1.4"/>
<text x="451.4" y="1150.6" font-size="17" text-anchor="end" font-weight="bold" textLength="40.8" lengthAdjust="spacingAndGlyphs">2000</text>
<line x1="453.1" y1="1193.6" x2="464.0" y2="1193.6" stroke="#111" stroke-width="1.4"/>
<text x="451.4" y="1199.6" font-size="17" text-anchor="end" font-weight="bold" textLength="10.2" lengthAdjust="spacingAndGlyphs">0</text>
<line x1="510.8" y1="1193.6" x2="510.8" y2="1203.0" stroke="#111" stroke-width="1.4"/>
<line x1="581.0" y1="1193.6" x2="581.0" y2="1203.0" stroke="#111" stroke-width="1.4"/>
<circle cx="580.5" cy="963.5" r="3.9" fill="#a3a3a3"/>
<circle cx="573.2" cy="988.7" r="3.9" fill="#a3a3a3"/>
<circle cx="587.8" cy="991.8" r="3.9" fill="#a3a3a3"/>
<circle cx="580.5" cy="1005.9" r="3.9" fill="#a3a3a3"/>
<circle cx="580.5" cy="1019.0" r="3.9" fill="#a3a3a3"/>
<circle cx="580.5" cy="1053.9" r="3.9" fill="#a3a3a3"/>
<line x1="556.7" y1="998.6" x2="604.2" y2="998.6" stroke="#666" stroke-width="1.6"/>
<line x1="488.0" y1="1193.0" x2="532.0" y2="1193.0" stroke="#0b32f5" stroke-width="3.5"/>
<circle cx="490.0" cy="1192.9" r="3.4" fill="#0b32f5"/>
<circle cx="498.4" cy="1191.6" r="3.4" fill="#0b32f5"/>
<circle cx="506.5" cy="1192.9" r="3.4" fill="#0b32f5"/>
<circle cx="514.0" cy="1192.9" r="3.4" fill="#0b32f5"/>
<circle cx="522.1" cy="1192.9" r="3.4" fill="#0b32f5"/>
<circle cx="529.7" cy="1192.9" r="3.4" fill="#0b32f5"/>
<path d="M510.8 949.8V945.8H581.5V949.8" fill="none" stroke="#000" stroke-width="1.2"/>
<text x="547.1" y="945.6" font-size="17" text-anchor="middle" textLength="29.8" lengthAdjust="spacingAndGlyphs" stroke="#000" stroke-width="0.35">****</text>
<text x="493.8" y="1109.5" font-size="16" textLength="67.0" lengthAdjust="spacingAndGlyphs">p&lt;0.0001</text>
<text font-size="17.5" text-anchor="middle" textLength="169.3" lengthAdjust="spacingAndGlyphs" transform="translate(347.3 1074.0) rotate(-90)">CXCL10 expression</text>
<text font-size="17.5" text-anchor="middle" textLength="61.3" lengthAdjust="spacingAndGlyphs" transform="translate(376.2 1063.6) rotate(-90)">(pg/ml)</text>
<text font-size="19" text-anchor="end" font-weight="bold" textLength="147.0" lengthAdjust="spacingAndGlyphs" transform="translate(516.3 1217.5) rotate(-45)">Anti-VISTA (803)</text>
<text font-size="18.5" text-anchor="end" font-weight="bold" textLength="100.5" lengthAdjust="spacingAndGlyphs" transform="translate(587.3 1218.5) rotate(-45)">IgG control</text>
<text x="731.2" y="965.4" font-size="29" font-weight="bold">G</text>
<line x1="802.6" y1="1004.3" x2="802.6" y2="1550.4" stroke="#222" stroke-width="1.4"/>
<line x1="801.9" y1="1549.7" x2="954.8" y2="1549.7" stroke="#222" stroke-width="1.4"/>
<line x1="797.5" y1="1018.5" x2="802.6" y2="1018.5" stroke="#222" stroke-width="1.4"/>
<text x="719.1" y="1025.0" font-size="18.5" fill="#4d4d4d" textLength="69.3" lengthAdjust="spacingAndGlyphs">IFNGR2</text>
<circle cx="843.9" cy="1018.5" r="7.0" fill="#85b3d5"/>
<circle cx="913.2" cy="1018.5" r="7.0" fill="#fb8957"/>
<line x1="797.5" y1="1042.0" x2="802.6" y2="1042.0" stroke="#222" stroke-width="1.4"/>
<text x="726.6" y="1048.5" font-size="18.5" fill="#4d4d4d" textLength="59.8" lengthAdjust="spacingAndGlyphs">IFITM2</text>
<circle cx="843.9" cy="1042.0" r="7.7" fill="#73a1cb"/>
<circle cx="913.2" cy="1042.0" r="7.7" fill="#ed6845"/>
<line x1="797.5" y1="1065.5" x2="802.6" y2="1065.5" stroke="#222" stroke-width="1.4"/>
<text x="738.6" y="1072.0" font-size="18.5" fill="#4d4d4d" textLength="44.8" lengthAdjust="spacingAndGlyphs">LY6E</text>
<circle cx="843.9" cy="1065.5" r="8.2" fill="#79a8cf"/>
<circle cx="913.2" cy="1065.5" r="8.2" fill="#f17049"/>
<line x1="797.5" y1="1089.0" x2="802.6" y2="1089.0" stroke="#222" stroke-width="1.4"/>
<text x="741.7" y="1095.5" font-size="18.5" fill="#4d4d4d" textLength="41.0" lengthAdjust="spacingAndGlyphs">IRF7</text>
<circle cx="843.9" cy="1089.0" r="8.3" fill="#4e7eb9"/>
<circle cx="913.2" cy="1089.0" r="8.3" fill="#d9362a"/>
<line x1="797.5" y1="1112.5" x2="802.6" y2="1112.5" stroke="#222" stroke-width="1.4"/>
<text x="748.5" y="1119.0" font-size="18.5" fill="#4d4d4d" textLength="32.6" lengthAdjust="spacingAndGlyphs">IFI6</text>
<circle cx="843.9" cy="1112.5" r="8.4" fill="#75a4cd"/>
<circle cx="913.2" cy="1112.5" r="8.4" fill="#ee6b46"/>
<line x1="797.5" y1="1136.0" x2="802.6" y2="1136.0" stroke="#222" stroke-width="1.4"/>
<text x="734.2" y="1142.5" font-size="18.5" fill="#4d4d4d" textLength="50.4" lengthAdjust="spacingAndGlyphs">OASL</text>
<circle cx="843.9" cy="1136.0" r="8.6" fill="#6594c4"/>
<circle cx="913.2" cy="1136.0" r="8.6" fill="#e45139"/>
<line x1="797.5" y1="1159.5" x2="802.6" y2="1159.5" stroke="#222" stroke-width="1.4"/>
<text x="741.7" y="1166.0" font-size="18.5" fill="#4d4d4d" textLength="41.0" lengthAdjust="spacingAndGlyphs">IRF2</text>
<circle cx="843.9" cy="1159.5" r="8.7" fill="#5787bd"/>
<circle cx="913.2" cy="1159.5" r="8.7" fill="#df4431"/>
<line x1="797.5" y1="1183.0" x2="802.6" y2="1183.0" stroke="#222" stroke-width="1.4"/>
<text x="740.0" y="1189.5" font-size="18.5" fill="#4d4d4d" textLength="43.1" lengthAdjust="spacingAndGlyphs">IFI35</text>
<circle cx="843.9" cy="1183.0" r="8.8" fill="#6594c4"/>
<circle cx="913.2" cy="1183.0" r="8.8" fill="#e45139"/>
<line x1="797.5" y1="1206.5" x2="802.6" y2="1206.5" stroke="#222" stroke-width="1.4"/>
<text x="717.4" y="1213.0" font-size="18.5" fill="#4d4d4d" textLength="71.4" lengthAdjust="spacingAndGlyphs">CXCL10</text>
<circle cx="843.9" cy="1206.5" r="9.0" fill="#6392c3"/>
<circle cx="913.2" cy="1206.5" r="9.0" fill="#e34f38"/>
<line x1="797.5" y1="1230.0" x2="802.6" y2="1230.0" stroke="#222" stroke-width="1.4"/>
<text x="726.6" y="1236.5" font-size="18.5" fill="#4d4d4d" textLength="59.8" lengthAdjust="spacingAndGlyphs">IFITM1</text>
<circle cx="843.9" cy="1230.0" r="9.0" fill="#5787bd"/>
<circle cx="913.2" cy="1230.0" r="9.0" fill="#dd3e2f"/>
<line x1="797.5" y1="1253.5" x2="802.6" y2="1253.5" stroke="#222" stroke-width="1.4"/>
<text x="726.6" y="1260.0" font-size="18.5" fill="#4d4d4d" textLength="59.8" lengthAdjust="spacingAndGlyphs">IFITM3</text>
<circle cx="843.9" cy="1253.5" r="9.1" fill="#5787bd"/>
<circle cx="913.2" cy="1253.5" r="9.1" fill="#de4130"/>
<line x1="797.5" y1="1276.9" x2="802.6" y2="1276.9" stroke="#222" stroke-width="1.4"/>
<text x="731.6" y="1283.4" font-size="18.5" fill="#4d4d4d" textLength="53.6" lengthAdjust="spacingAndGlyphs">ISG20</text>
<circle cx="843.9" cy="1276.9" r="9.4" fill="#6999c7"/>
<circle cx="913.2" cy="1276.9" r="9.4" fill="#e85a3d"/>
<line x1="797.5" y1="1300.4" x2="802.6" y2="1300.4" stroke="#222" stroke-width="1.4"/>
<text x="739.2" y="1306.9" font-size="18.5" fill="#4d4d4d" textLength="44.1" lengthAdjust="spacingAndGlyphs">IFIT2</text>
<circle cx="843.9" cy="1300.4" r="9.5" fill="#5787bd"/>
<circle cx="913.2" cy="1300.4" r="9.5" fill="#df4431"/>
<line x1="797.5" y1="1323.9" x2="802.6" y2="1323.9" stroke="#222" stroke-width="1.4"/>
<text x="739.2" y="1330.4" font-size="18.5" fill="#4d4d4d" textLength="44.1" lengthAdjust="spacingAndGlyphs">IFIT1</text>
<circle cx="843.9" cy="1323.9" r="9.5" fill="#6090c2"/>
<circle cx="913.2" cy="1323.9" r="9.5" fill="#e24c36"/>
<line x1="797.5" y1="1347.4" x2="802.6" y2="1347.4" stroke="#222" stroke-width="1.4"/>
<text x="734.2" y="1353.9" font-size="18.5" fill="#4d4d4d" textLength="50.4" lengthAdjust="spacingAndGlyphs">OAS3</text>
<circle cx="843.9" cy="1347.4" r="9.6" fill="#5787bd"/>
<circle cx="913.2" cy="1347.4" r="9.6" fill="#de4130"/>
<line x1="797.5" y1="1370.9" x2="802.6" y2="1370.9" stroke="#222" stroke-width="1.4"/>
<text x="739.2" y="1377.4" font-size="18.5" fill="#4d4d4d" textLength="44.1" lengthAdjust="spacingAndGlyphs">IFIT3</text>
<circle cx="843.9" cy="1370.9" r="9.7" fill="#5080ba"/>
<circle cx="913.2" cy="1370.9" r="9.7" fill="#db3b2d"/>
<line x1="797.5" y1="1394.4" x2="802.6" y2="1394.4" stroke="#222" stroke-width="1.4"/>
<text x="737.5" y="1400.9" font-size="18.5" fill="#4d4d4d" textLength="46.2" lengthAdjust="spacingAndGlyphs">IFIH1</text>
<circle cx="843.9" cy="1394.4" r="9.9" fill="#4c7cb8"/>
<circle cx="913.2" cy="1394.4" r="9.9" fill="#d83329"/>
<line x1="797.5" y1="1417.9" x2="802.6" y2="1417.9" stroke="#222" stroke-width="1.4"/>
<text x="729.7" y="1424.4" font-size="18.5" fill="#4d4d4d" textLength="56.0" lengthAdjust="spacingAndGlyphs">STAT1</text>
<circle cx="843.9" cy="1417.9" r="10.0" fill="#4c7cb8"/>
<circle cx="913.2" cy="1417.9" r="10.0" fill="#da382b"/>
<line x1="797.5" y1="1441.4" x2="802.6" y2="1441.4" stroke="#222" stroke-width="1.4"/>
<text x="734.2" y="1447.9" font-size="18.5" fill="#4d4d4d" textLength="50.4" lengthAdjust="spacingAndGlyphs">OAS1</text>
<circle cx="843.9" cy="1441.4" r="10.1" fill="#5080ba"/>
<circle cx="913.2" cy="1441.4" r="10.1" fill="#db3b2d"/>
<line x1="797.5" y1="1464.9" x2="802.6" y2="1464.9" stroke="#222" stroke-width="1.4"/>
<text x="743.4" y="1471.4" font-size="18.5" fill="#4d4d4d" textLength="38.9" lengthAdjust="spacingAndGlyphs">MX1</text>
<circle cx="843.9" cy="1464.9" r="10.1" fill="#5585bc"/>
<circle cx="913.2" cy="1464.9" r="10.1" fill="#df4431"/>
<line x1="797.5" y1="1488.4" x2="802.6" y2="1488.4" stroke="#222" stroke-width="1.4"/>
<text x="729.7" y="1494.9" font-size="18.5" fill="#4d4d4d" textLength="56.0" lengthAdjust="spacingAndGlyphs">STAT2</text>
<circle cx="843.9" cy="1488.4" r="10.4" fill="#4e7eb9"/>
<circle cx="913.2" cy="1488.4" r="10.4" fill="#d9362a"/>
<line x1="797.5" y1="1511.9" x2="802.6" y2="1511.9" stroke="#222" stroke-width="1.4"/>
<text x="718.2" y="1518.4" font-size="18.5" fill="#4d4d4d" textLength="70.4" lengthAdjust="spacingAndGlyphs">RNF213</text>
<circle cx="843.9" cy="1511.9" r="10.5" fill="#5382bb"/>
<circle cx="913.2" cy="1511.9" r="10.5" fill="#db3b2d"/>
<line x1="797.5" y1="1535.4" x2="802.6" y2="1535.4" stroke="#222" stroke-width="1.4"/>
<text x="741.7" y="1541.9" font-size="18.5" fill="#4d4d4d" textLength="41.0" lengthAdjust="spacingAndGlyphs">IRF1</text>
<circle cx="843.9" cy="1535.4" r="11.0" fill="#4575b4"/>
<circle cx="913.2" cy="1535.4" r="11.0" fill="#d73027"/>
<line x1="843.9" y1="1549.7" x2="843.9" y2="1554.5" stroke="#222" stroke-width="1.4"/>
<line x1="913.2" y1="1549.7" x2="913.2" y2="1554.5" stroke="#222" stroke-width="1.4"/>
<text x="845.3" y="1570.6" font-size="19" text-anchor="middle" fill="#4d4d4d" textLength="90.4" lengthAdjust="spacingAndGlyphs">Anti VISTA</text>
<text x="848.9" y="1593.5" font-size="19" text-anchor="middle" fill="#4d4d4d" textLength="43.6" lengthAdjust="spacingAndGlyphs">(803)</text>
<text x="921.7" y="1570.6" font-size="19" text-anchor="middle" fill="#4d4d4d" textLength="40.4" lengthAdjust="spacingAndGlyphs">hIgG</text>
<text x="956.3" y="1135.5" font-size="17.5" textLength="105.4" lengthAdjust="spacingAndGlyphs">-log10(Pvalue)</text>
<circle cx="997.4" cy="1156.8" r="9.1" fill="#000"/>
<text x="1021.3" y="1163.5" font-size="18" textLength="21.0" lengthAdjust="spacingAndGlyphs">10</text>
<circle cx="997.4" cy="1186.1" r="9.9" fill="#000"/>
<text x="1021.3" y="1192.8" font-size="18" textLength="21.0" lengthAdjust="spacingAndGlyphs">20</text>
<circle cx="997.4" cy="1215.4" r="10.5" fill="#000"/>
<text x="1021.3" y="1221.8" font-size="18" textLength="21.0" lengthAdjust="spacingAndGlyphs">30</text>
<rect x="982.9" y="1293.1" width="29.3" height="6.4" fill="#dc3c2d"/>
<rect x="982.9" y="1299.2" width="29.3" height="6.4" fill="#e5533a"/>
<rect x="982.9" y="1305.2" width="29.3" height="6.4" fill="#ee6a46"/>
<rect x="982.9" y="1311.3" width="29.3" height="6.4" fill="#f78153"/>
<rect x="982.9" y="1317.4" width="29.3" height="6.4" fill="#fc9760"/>
<rect x="982.9" y="1323.4" width="29.3" height="6.4" fill="#fdac6e"/>
<rect x="982.9" y="1329.5" width="29.3" height="6.4" fill="#fdc17b"/>
<rect x="982.9" y="1335.6" width="29.3" height="6.4" fill="#fed689"/>
<rect x="982.9" y="1341.6" width="29.3" height="6.4" fill="#fee496"/>
<rect x="982.9" y="1347.7" width="29.3" height="6.4" fill="#feeca2"/>
<rect x="982.9" y="1353.8" width="29.3" height="6.4" fill="#fff3ad"/>
<rect x="982.9" y="1359.8" width="29.3" height="6.4" fill="#fffbb9"/>
<rect x="982.9" y="1365.9" width="29.3" height="6.4" fill="#fbfec6"/>
<rect x="982.9" y="1372.0" width="29.3" height="6.4" fill="#f3fad4"/>
<rect x="982.9" y="1378.0" width="29.3" height="6.4" fill="#ecf8e3"/>
<rect x="982.9" y="1384.1" width="29.3" height="6.4" fill="#e4f4f1"/>
<rect x="982.9" y="1390.2" width="29.3" height="6.4" fill="#d6ecf4"/>
<rect x="982.9" y="1396.2" width="29.3" height="6.4" fill="#c2e0ed"/>
<rect x="982.9" y="1402.3" width="29.3" height="6.4" fill="#afd2e6"/>
<rect x="982.9" y="1408.4" width="29.3" height="6.4" fill="#9bc6df"/>
<rect x="982.9" y="1414.4" width="29.3" height="6.4" fill="#88b6d6"/>
<rect x="982.9" y="1420.5" width="29.3" height="6.4" fill="#74a3cc"/>
<rect x="982.9" y="1426.6" width="29.3" height="6.4" fill="#6291c3"/>
<rect x="982.9" y="1432.6" width="29.3" height="6.4" fill="#4f7eb9"/>
<text x="1028.0" y="1301.2" font-size="18">1</text>
<text x="1022.0" y="1335.9" font-size="18">0.5</text>
<line x1="982.9" y1="1329.6" x2="988.0" y2="1329.6" stroke="#fff" stroke-width="1"/>
<line x1="1007.0" y1="1329.6" x2="1012.2" y2="1329.6" stroke="#fff" stroke-width="1"/>
<text x="1022.0" y="1372.0" font-size="18">0.0</text>
<line x1="982.9" y1="1365.7" x2="988.0" y2="1365.7" stroke="#fff" stroke-width="1"/>
<line x1="1007.0" y1="1365.7" x2="1012.2" y2="1365.7" stroke="#fff" stroke-width="1"/>
<text x="1022.0" y="1408.0" font-size="18">−0.5</text>
<line x1="982.9" y1="1401.7" x2="988.0" y2="1401.7" stroke="#fff" stroke-width="1"/>
<line x1="1007.0" y1="1401.7" x2="1012.2" y2="1401.7" stroke="#fff" stroke-width="1"/>
<text x="1026.0" y="1440.0" font-size="18">−1</text>
<text font-size="18" text-anchor="middle" textLength="193.4" lengthAdjust="spacingAndGlyphs" transform="translate(1069.5 1369.7) rotate(90)">Normalized expression</text>
<text x="13.8" y="1315.5" font-size="29" font-weight="bold">H</text>
<text x="241.0" y="1345.3" font-size="19.5" text-anchor="middle" textLength="243.8" lengthAdjust="spacingAndGlyphs">Interferon response pathway</text>
<text font-size="19.5" text-anchor="middle" textLength="148.0" lengthAdjust="spacingAndGlyphs" transform="translate(45.5 1446.7) rotate(-90)">Enrichment score</text>
<rect x="61.0" y="1353.4" width="364.6" height="210.0" fill="#f0f0f0"/>
<rect x="85.2" y="1358.5" width="335.1" height="143.6" fill="#fff" stroke="#c8c8c8" stroke-width="1"/>
<rect x="85.2" y="1502.1" width="335.1" height="47.4" fill="#fff" stroke="#c8c8c8" stroke-width="1"/>
<rect x="85.2" y="1549.5" width="335.1" height="12.5" fill="#fff" stroke="#c8c8c8" stroke-width="1"/>
<line x1="137.5" y1="1359.0" x2="137.5" y2="1501.6" stroke="#dcdcdc" stroke-width="0.8" stroke-dasharray="1.5 1.5"/>
<line x1="190.3" y1="1359.0" x2="190.3" y2="1501.6" stroke="#dcdcdc" stroke-width="0.8" stroke-dasharray="1.5 1.5"/>
<line x1="243.5" y1="1359.0" x2="243.5" y2="1501.6" stroke="#dcdcdc" stroke-width="0.8" stroke-dasharray="1.5 1.5"/>
<line x1="297.2" y1="1359.0" x2="297.2" y2="1501.6" stroke="#dcdcdc" stroke-width="0.8" stroke-dasharray="1.5 1.5"/>
<line x1="350.1" y1="1359.0" x2="350.1" y2="1501.6" stroke="#dcdcdc" stroke-width="0.8" stroke-dasharray="1.5 1.5"/>
<line x1="403.2" y1="1359.0" x2="403.2" y2="1501.6" stroke="#dcdcdc" stroke-width="0.8" stroke-dasharray="1.5 1.5"/>
<line x1="85.2" y1="1366.3" x2="420.3" y2="1366.3" stroke="#b0b0b0" stroke-width="1.1"/>
<text x="79.9" y="1369.2" font-size="8.3" text-anchor="end" fill="#333">0.0</text>
<line x1="85.2" y1="1382.3" x2="420.3" y2="1382.3" stroke="#dcdcdc" stroke-width="0.8" stroke-dasharray="1.5 1.5"/>
<text x="79.9" y="1385.2" font-size="8.3" text-anchor="end" fill="#333">-0.1</text>
<line x1="85.2" y1="1398.4" x2="420.3" y2="1398.4" stroke="#dcdcdc" stroke-width="0.8" stroke-dasharray="1.5 1.5"/>
<text x="79.9" y="1401.3" font-size="8.3" text-anchor="end" fill="#333">-0.2</text>
<line x1="85.2" y1="1414.5" x2="420.3" y2="1414.5" stroke="#dcdcdc" stroke-width="0.8" stroke-dasharray="1.5 1.5"/>
<text x="79.9" y="1417.4" font-size="8.3" text-anchor="end" fill="#333">-0.3</text>
<line x1="85.2" y1="1430.5" x2="420.3" y2="1430.5" stroke="#dcdcdc" stroke-width="0.8" stroke-dasharray="1.5 1.5"/>
<text x="79.9" y="1433.4" font-size="8.3" text-anchor="end" fill="#333">-0.4</text>
<line x1="85.2" y1="1446.5" x2="420.3" y2="1446.5" stroke="#dcdcdc" stroke-width="0.8" stroke-dasharray="1.5 1.5"/>
<text x="79.9" y="1449.5" font-size="8.3" text-anchor="end" fill="#333">-0.5</text>
<line x1="85.2" y1="1462.6" x2="420.3" y2="1462.6" stroke="#dcdcdc" stroke-width="0.8" stroke-dasharray="1.5 1.5"/>
<text x="79.9" y="1465.5" font-size="8.3" text-anchor="end" fill="#333">-0.6</text>
<line x1="85.2" y1="1478.6" x2="420.3" y2="1478.6" stroke="#dcdcdc" stroke-width="0.8" stroke-dasharray="1.5 1.5"/>
<text x="79.9" y="1481.5" font-size="8.3" text-anchor="end" fill="#333">-0.7</text>
<line x1="85.2" y1="1494.7" x2="420.3" y2="1494.7" stroke="#dcdcdc" stroke-width="0.8" stroke-dasharray="1.5 1.5"/>
<text x="79.9" y="1497.6" font-size="8.3" text-anchor="end" fill="#333">-0.8</text>
<line x1="140.0" y1="1353.6" x2="147.0" y2="1353.6" stroke="#d0d0d0" stroke-width="1"/>
<line x1="240.0" y1="1353.6" x2="247.0" y2="1353.6" stroke="#d0d0d0" stroke-width="1"/>
<line x1="335.0" y1="1353.6" x2="342.0" y2="1353.6" stroke="#d0d0d0" stroke-width="1"/>
<polyline points="85.2,1366.3 318.7,1483.3 322.0,1484.6 326.0,1486.2 330.0,1487.0 334.0,1488.8 338.0,1489.6 342.0,1491.2 346.0,1492.4 350.1,1494.7 352.0,1493.0 354.0,1493.6 356.0,1491.8 358.0,1492.6 360.0,1491.0 362.0,1491.8 363.5,1490.2 365.5,1487.5 367.0,1485.5 369.0,1481.5 371.0,1480.5 372.5,1478.8 374.0,1479.8 376.0,1477.5 378.5,1476.8 380.0,1474.8 382.0,1476.0 384.4,1474.4 385.5,1468.0 387.4,1460.9 388.5,1454.0 390.0,1447.0 391.9,1441.5 392.8,1430.0 393.8,1419.0 394.9,1408.7 395.6,1396.0 396.3,1385.0 397.0,1374.3 398.5,1371.0 400.0,1367.5 401.8,1364.8 403.8,1366.3" fill="none" stroke="#00e400" stroke-width="2.3" stroke-linejoin="round"/>
<line x1="182.3" y1="1502.6" x2="182.3" y2="1549.3" stroke="#555" stroke-width="1"/>
<line x1="318.7" y1="1502.6" x2="318.7" y2="1549.3" stroke="#333" stroke-width="0.9"/>
<line x1="326.2" y1="1502.6" x2="326.2" y2="1549.3" stroke="#333" stroke-width="0.9"/>
<line x1="334.3" y1="1502.6" x2="334.3" y2="1549.3" stroke="#333" stroke-width="0.9"/>
<line x1="340.2" y1="1502.6" x2="340.2" y2="1549.3" stroke="#333" stroke-width="0.9"/>
<line x1="350.7" y1="1502.6" x2="350.7" y2="1549.3" stroke="#111" stroke-width="1"/>
<line x1="352.5" y1="1502.6" x2="352.5" y2="1549.3" stroke="#111" stroke-width="1"/>
<line x1="354.6" y1="1502.6" x2="354.6" y2="1549.3" stroke="#111" stroke-width="1"/>
<line x1="357.0" y1="1502.6" x2="357.0" y2="1549.3" stroke="#111" stroke-width="1"/>
<line x1="359.1" y1="1502.6" x2="359.1" y2="1549.3" stroke="#111" stroke-width="1"/>
<line x1="362.7" y1="1502.6" x2="362.7" y2="1549.3" stroke="#111" stroke-width="1"/>
<line x1="369.5" y1="1502.6" x2="369.5" y2="1549.3" stroke="#000" stroke-width="6"/>
<line x1="376.5" y1="1502.6" x2="376.5" y2="1549.3" stroke="#000" stroke-width="1.2"/>
<line x1="378.6" y1="1502.6" x2="378.6" y2="1549.3" stroke="#000" stroke-width="1.2"/>
<line x1="384.0" y1="1502.6" x2="384.0" y2="1549.3" stroke="#000" stroke-width="1.2"/>
<line x1="387.0" y1="1502.6" x2="387.0" y2="1549.3" stroke="#000" stroke-width="1.3"/>
<line x1="389.1" y1="1502.6" x2="389.1" y2="1549.3" stroke="#000" stroke-width="1.3"/>
<line x1="391.5" y1="1502.6" x2="391.5" y2="1549.3" stroke="#000" stroke-width="1.5"/>
<line x1="397.0" y1="1502.6" x2="397.0" y2="1549.3" stroke="#000" stroke-width="6.5"/>
<line x1="401.4" y1="1502.6" x2="401.4" y2="1549.3" stroke="#000" stroke-width="1.2"/>
<line x1="366.0" y1="1502.6" x2="366.0" y2="1549.3" stroke="#000" stroke-width="1.2"/>
<line x1="373.3" y1="1502.6" x2="373.3" y2="1549.3" stroke="#000" stroke-width="1"/>
<rect x="85.2" y="1550.0" width="7.8" height="11.7" fill="#e63232"/>
<rect x="92.7" y="1550.0" width="28.4" height="11.7" fill="#f65a5a"/>
<rect x="120.8" y="1550.0" width="17.0" height="11.7" fill="#f76f86"/>
<rect x="137.5" y="1550.0" width="23.3" height="11.7" fill="#fa8a8a"/>
<rect x="160.5" y="1550.0" width="22.7" height="11.7" fill="#fcb6de"/>
<rect x="182.9" y="1550.0" width="11.3" height="11.7" fill="#fcbfe6"/>
<rect x="193.9" y="1550.0" width="57.1" height="11.7" fill="#d6d6fb"/>
<rect x="250.7" y="1550.0" width="46.8" height="11.7" fill="#c0c0f8"/>
<rect x="297.2" y="1550.0" width="32.3" height="11.7" fill="#8a8af4"/>
<rect x="329.2" y="1550.0" width="57.9" height="11.7" fill="#6a5ae8"/>
<rect x="386.8" y="1550.0" width="11.4" height="11.7" fill="#2410be"/>
<rect x="397.9" y="1550.0" width="6.2" height="11.7" fill="#4312a2"/>
<line x1="85.2" y1="1502.1" x2="85.2" y2="1562.0" stroke="#666" stroke-width="1"/>
<text x="294.3" y="1393.2" font-size="19" textLength="93.7" lengthAdjust="spacingAndGlyphs">NES=-2.28</text>
<text x="294.3" y="1416.1" font-size="19" textLength="31.0" lengthAdjust="spacingAndGlyphs">p=0</text>
<text x="14.2" y="1665.5" font-size="29" font-weight="bold">I</text>
<text x="564.5" y="1665.0" font-size="29" font-weight="bold">J</text>
<text font-size="17.5" text-anchor="middle" textLength="170.3" lengthAdjust="spacingAndGlyphs" transform="translate(34.5 1824.3) rotate(-90)">CXCL10 expression</text>
<text font-size="17.5" text-anchor="middle" textLength="61.5" lengthAdjust="spacingAndGlyphs" transform="translate(61.0 1821.5) rotate(-90)">(pg/ml)</text>
<text x="213.8" y="1665.5" font-size="23.4" text-anchor="middle" font-weight="bold" textLength="93.7" lengthAdjust="spacingAndGlyphs">Flagellin</text>
<line x1="126.3" y1="1701.1" x2="126.3" y2="1954.3" stroke="#111" stroke-width="1.6"/>
<line x1="125.5" y1="1953.5" x2="293.7" y2="1953.5" stroke="#111" stroke-width="1.6"/>
<line x1="115.7" y1="1701.9" x2="126.3" y2="1701.9" stroke="#111" stroke-width="1.6"/>
<text x="113.7" y="1708.0" font-size="17" text-anchor="end" font-weight="bold" textLength="51.2" lengthAdjust="spacingAndGlyphs">10000</text>
<line x1="115.7" y1="1752.2" x2="126.3" y2="1752.2" stroke="#111" stroke-width="1.6"/>
<text x="113.7" y="1758.3" font-size="17" text-anchor="end" font-weight="bold" textLength="41.0" lengthAdjust="spacingAndGlyphs">8000</text>
<line x1="115.7" y1="1802.5" x2="126.3" y2="1802.5" stroke="#111" stroke-width="1.6"/>
<text x="113.7" y="1808.6" font-size="17" text-anchor="end" font-weight="bold" textLength="41.0" lengthAdjust="spacingAndGlyphs">6000</text>
<line x1="115.7" y1="1852.9" x2="126.3" y2="1852.9" stroke="#111" stroke-width="1.6"/>
<text x="113.7" y="1859.0" font-size="17" text-anchor="end" font-weight="bold" textLength="41.0" lengthAdjust="spacingAndGlyphs">4000</text>
<line x1="115.7" y1="1903.2" x2="126.3" y2="1903.2" stroke="#111" stroke-width="1.6"/>
<text x="113.7" y="1909.3" font-size="17" text-anchor="end" font-weight="bold" textLength="41.0" lengthAdjust="spacingAndGlyphs">2000</text>
<line x1="115.7" y1="1953.5" x2="126.3" y2="1953.5" stroke="#111" stroke-width="1.6"/>
<text x="113.7" y="1959.6" font-size="17" text-anchor="end" font-weight="bold" textLength="10.2" lengthAdjust="spacingAndGlyphs">0</text>
<line x1="173.6" y1="1953.5" x2="173.6" y2="1963.1" stroke="#111" stroke-width="1.6"/>
<line x1="245.9" y1="1953.5" x2="245.9" y2="1963.1" stroke="#111" stroke-width="1.6"/>
<text x="147.9" y="1909.9" font-size="16" textLength="66.5" lengthAdjust="spacingAndGlyphs">p&lt;0.0001</text>
<path d="M173.4 1712.4V1708.1H247.0V1712.4" fill="none" stroke="#000" stroke-width="1.3"/>
<text x="210.2" y="1710.4" font-size="17" text-anchor="middle" textLength="30.0" lengthAdjust="spacingAndGlyphs" stroke="#000" stroke-width="0.35">****</text>
<text font-size="19" text-anchor="end" font-weight="bold" transform="translate(191.8 1983.1) rotate(-45)">hIgG</text>
<text font-size="19" text-anchor="end" font-weight="bold" textLength="147.0" lengthAdjust="spacingAndGlyphs" transform="translate(269.5 1976.3) rotate(-45)">Anti-VISTA (803)</text>
<line x1="150.5" y1="1721.2" x2="198.0" y2="1721.2" stroke="#000" stroke-width="5"/>
<line x1="160.8" y1="1716.8" x2="187.2" y2="1716.8" stroke="#000" stroke-width="1.5"/>
<line x1="160.8" y1="1725.8" x2="187.2" y2="1725.8" stroke="#000" stroke-width="1.5"/>
<line x1="173.6" y1="1716.8" x2="173.6" y2="1725.8" stroke="#000" stroke-width="1.5"/>
<line x1="222.3" y1="1952.8" x2="269.8" y2="1952.8" stroke="#000" stroke-width="5.4"/>
<circle cx="230.5" cy="1952.3" r="3.5" fill="#000"/>
<circle cx="245.8" cy="1952.3" r="3.5" fill="#000"/>
<circle cx="261.0" cy="1952.3" r="3.5" fill="#000"/>
<text x="451.7" y="1665.6" font-size="23.4" text-anchor="middle" font-weight="bold" textLength="99.9" lengthAdjust="spacingAndGlyphs">B-glucan</text>
<line x1="367.4" y1="1701.1" x2="367.4" y2="1954.1" stroke="#111" stroke-width="1.6"/>
<line x1="366.6" y1="1953.3" x2="535.5" y2="1953.3" stroke="#111" stroke-width="1.6"/>
<line x1="356.8" y1="1701.9" x2="367.4" y2="1701.9" stroke="#111" stroke-width="1.6"/>
<text x="354.7" y="1708.0" font-size="17" text-anchor="end" font-weight="bold" textLength="51.2" lengthAdjust="spacingAndGlyphs">15000</text>
<line x1="356.8" y1="1785.7" x2="367.4" y2="1785.7" stroke="#111" stroke-width="1.6"/>
<text x="354.7" y="1791.8" font-size="17" text-anchor="end" font-weight="bold" textLength="51.2" lengthAdjust="spacingAndGlyphs">10000</text>
<line x1="356.8" y1="1869.5" x2="367.4" y2="1869.5" stroke="#111" stroke-width="1.6"/>
<text x="354.7" y="1875.6" font-size="17" text-anchor="end" font-weight="bold" textLength="41.0" lengthAdjust="spacingAndGlyphs">5000</text>
<line x1="356.8" y1="1953.3" x2="367.4" y2="1953.3" stroke="#111" stroke-width="1.6"/>
<text x="354.7" y="1959.4" font-size="17" text-anchor="end" font-weight="bold" textLength="10.2" lengthAdjust="spacingAndGlyphs">0</text>
<line x1="415.3" y1="1953.3" x2="415.3" y2="1962.9" stroke="#111" stroke-width="1.6"/>
<line x1="487.2" y1="1953.3" x2="487.2" y2="1962.9" stroke="#111" stroke-width="1.6"/>
<text x="398.3" y="1909.9" font-size="16" textLength="66.6" lengthAdjust="spacingAndGlyphs">p&lt;0.0001</text>
<path d="M414.9 1774.7V1769.4H488.4V1774.7" fill="none" stroke="#000" stroke-width="1.3"/>
<text x="451.5" y="1771.7" font-size="17" text-anchor="middle" textLength="30.0" lengthAdjust="spacingAndGlyphs" stroke="#000" stroke-width="0.35">****</text>
<text font-size="19" text-anchor="end" font-weight="bold" transform="translate(434.3 1983.1) rotate(-45)">hIgG</text>
<text font-size="19" text-anchor="end" font-weight="bold" textLength="147.0" lengthAdjust="spacingAndGlyphs" transform="translate(513.8 1977.6) rotate(-45)">Anti-VISTA (803)</text>
<line x1="391.9" y1="1783.5" x2="439.7" y2="1783.5" stroke="#000" stroke-width="5"/>
<circle cx="415.5" cy="1776.3" r="3.8" fill="#000"/>
<circle cx="408.0" cy="1788.0" r="3.8" fill="#000"/>
<circle cx="423.1" cy="1788.0" r="3.8" fill="#000"/>
<line x1="463.6" y1="1953.1" x2="510.9" y2="1953.1" stroke="#000" stroke-width="5.6"/>
<line x1="474.0" y1="1953.1" x2="500.5" y2="1953.1" stroke="#7272f2" stroke-width="3.4"/>
<circle cx="471.8" cy="1952.8" r="3.6" fill="#000"/>
<circle cx="487.2" cy="1952.8" r="3.6" fill="#000"/>
<circle cx="502.6" cy="1952.8" r="3.6" fill="#000"/>
<text x="707.6" y="1663.8" font-size="23.4" text-anchor="middle" font-weight="bold" textLength="44.8" lengthAdjust="spacingAndGlyphs">LPS</text>
<line x1="624.8" y1="1698.3" x2="624.8" y2="1951.1" stroke="#111" stroke-width="1.6"/>
<line x1="624.0" y1="1950.3" x2="790.0" y2="1950.3" stroke="#111" stroke-width="1.6"/>
<line x1="614.2" y1="1699.1" x2="624.8" y2="1699.1" stroke="#111" stroke-width="1.6"/>
<text x="611.3" y="1705.2" font-size="17" text-anchor="end" font-weight="bold" textLength="39.8" lengthAdjust="spacingAndGlyphs">2000</text>
<line x1="614.2" y1="1761.9" x2="624.8" y2="1761.9" stroke="#111" stroke-width="1.6"/>
<text x="611.3" y="1768.0" font-size="17" text-anchor="end" font-weight="bold" textLength="39.8" lengthAdjust="spacingAndGlyphs">1500</text>
<line x1="614.2" y1="1824.7" x2="624.8" y2="1824.7" stroke="#111" stroke-width="1.6"/>
<text x="611.3" y="1830.8" font-size="17" text-anchor="end" font-weight="bold" textLength="39.8" lengthAdjust="spacingAndGlyphs">1000</text>
<line x1="614.2" y1="1887.5" x2="624.8" y2="1887.5" stroke="#111" stroke-width="1.6"/>
<text x="611.3" y="1893.6" font-size="17" text-anchor="end" font-weight="bold" textLength="29.8" lengthAdjust="spacingAndGlyphs">500</text>
<line x1="614.2" y1="1950.3" x2="624.8" y2="1950.3" stroke="#111" stroke-width="1.6"/>
<text x="611.3" y="1956.4" font-size="17" text-anchor="end" font-weight="bold" textLength="9.9" lengthAdjust="spacingAndGlyphs">0</text>
<line x1="671.4" y1="1950.3" x2="671.4" y2="1959.9" stroke="#111" stroke-width="1.6"/>
<line x1="743.7" y1="1950.3" x2="743.7" y2="1959.9" stroke="#111" stroke-width="1.6"/>
<text x="639.5" y="1893.6" font-size="16" textLength="66.9" lengthAdjust="spacingAndGlyphs">p&lt;0.0001</text>
<path d="M671.4 1730.4V1725.3H743.8V1730.4" fill="none" stroke="#000" stroke-width="1.3"/>
<text x="707.4" y="1727.6" font-size="17" text-anchor="middle" textLength="30.0" lengthAdjust="spacingAndGlyphs" stroke="#000" stroke-width="0.35">****</text>
<text font-size="19" text-anchor="end" font-weight="bold" transform="translate(696.3 1978.8) rotate(-45)">hIgG</text>
<text font-size="19" text-anchor="end" font-weight="bold" textLength="147.0" lengthAdjust="spacingAndGlyphs" transform="translate(774.2 1972.3) rotate(-45)">Anti-VISTA (803)</text>
<line x1="671.4" y1="1736.1" x2="671.4" y2="1771.3" stroke="#000" stroke-width="1.7"/>
<line x1="658.8" y1="1735.7" x2="684.5" y2="1735.7" stroke="#000" stroke-width="1.7"/>
<line x1="658.8" y1="1771.3" x2="684.5" y2="1771.3" stroke="#000" stroke-width="1.7"/>
<circle cx="671.4" cy="1736.1" r="3.8" fill="#000"/>
<circle cx="671.4" cy="1752.9" r="3.8" fill="#000"/>
<circle cx="671.4" cy="1771.3" r="3.8" fill="#000"/>
<line x1="727.8" y1="1923.3" x2="757.8" y2="1923.3" stroke="#7272f2" stroke-width="3"/>
<circle cx="727.8" cy="1923.6" r="3.6" fill="#000"/>
<circle cx="742.8" cy="1921.9" r="3.6" fill="#000"/>
<circle cx="757.8" cy="1923.6" r="3.6" fill="#000"/>
<text x="982.8" y="1665.6" font-size="23.4" text-anchor="middle" font-weight="bold" textLength="97.2" lengthAdjust="spacingAndGlyphs">Poly(I:C)</text>
<line x1="897.6" y1="1702.0" x2="897.6" y2="1959.5" stroke="#111" stroke-width="1.6"/>
<line x1="896.8" y1="1958.7" x2="1067.4" y2="1958.7" stroke="#111" stroke-width="1.6"/>
<line x1="887.0" y1="1702.8" x2="897.6" y2="1702.8" stroke="#111" stroke-width="1.6"/>
<text x="884.3" y="1708.9" font-size="17" text-anchor="end" font-weight="bold" textLength="52.4" lengthAdjust="spacingAndGlyphs">60000</text>
<line x1="887.0" y1="1788.1" x2="897.6" y2="1788.1" stroke="#111" stroke-width="1.6"/>
<text x="884.3" y="1794.2" font-size="17" text-anchor="end" font-weight="bold" textLength="52.4" lengthAdjust="spacingAndGlyphs">40000</text>
<line x1="887.0" y1="1873.4" x2="897.6" y2="1873.4" stroke="#111" stroke-width="1.6"/>
<text x="884.3" y="1879.5" font-size="17" text-anchor="end" font-weight="bold" textLength="52.4" lengthAdjust="spacingAndGlyphs">20000</text>
<line x1="887.0" y1="1958.7" x2="897.6" y2="1958.7" stroke="#111" stroke-width="1.6"/>
<text x="884.3" y="1964.8" font-size="17" text-anchor="end" font-weight="bold" textLength="10.5" lengthAdjust="spacingAndGlyphs">0</text>
<line x1="946.1" y1="1958.7" x2="946.1" y2="1968.3" stroke="#111" stroke-width="1.6"/>
<line x1="1019.0" y1="1958.7" x2="1019.0" y2="1968.3" stroke="#111" stroke-width="1.6"/>
<text x="914.4" y="1909.8" font-size="16" textLength="66.4" lengthAdjust="spacingAndGlyphs">p&lt;0.0001</text>
<path d="M945.7 1721.9V1717.3H1019.9V1721.9" fill="none" stroke="#000" stroke-width="1.3"/>
<text x="983.8" y="1719.0" font-size="17" text-anchor="middle" textLength="30.0" lengthAdjust="spacingAndGlyphs" stroke="#000" stroke-width="0.35">****</text>
<text font-size="19" text-anchor="end" font-weight="bold" transform="translate(965.5 1989.3) rotate(-45)">hIgG</text>
<text font-size="19" text-anchor="end" font-weight="bold" textLength="147.0" lengthAdjust="spacingAndGlyphs" transform="translate(1043.0 1981.8) rotate(-45)">Anti-VISTA (803)</text>
<line x1="921.8" y1="1735.0" x2="970.9" y2="1735.0" stroke="#000" stroke-width="5.3"/>
<line x1="933.0" y1="1729.2" x2="959.0" y2="1729.2" stroke="#000" stroke-width="1.8"/>
<line x1="933.0" y1="1740.5" x2="959.0" y2="1740.5" stroke="#000" stroke-width="1.8"/>
<line x1="946.1" y1="1729.2" x2="946.1" y2="1740.5" stroke="#000" stroke-width="1.6"/>
<line x1="1004.0" y1="1957.7" x2="1034.4" y2="1957.7" stroke="#7272f2" stroke-width="3"/>
<circle cx="1004.0" cy="1957.9" r="3.6" fill="#000"/>
<circle cx="1019.0" cy="1957.9" r="3.6" fill="#000"/>
<circle cx="1034.4" cy="1957.9" r="3.6" fill="#000"/>
<text x="55.0" y="2149.4" font-size="29" font-weight="bold">K</text>
<text x="356.0" y="2149.4" font-size="29" font-weight="bold">L</text>
<ellipse cx="163.6" cy="2300.6" rx="28.4" ry="89.3" fill="#4472C4" fill-opacity="1" stroke="#2F5597" stroke-width="2.6"/>
<ellipse cx="190.3" cy="2302.2" rx="32.1" ry="89.2" fill="#9ED59B" fill-opacity="1" stroke="#2F5597" stroke-width="2.6"/>
<clipPath id="ck"><ellipse cx="163.6" cy="2300.6" rx="28.4" ry="89.3"/></clipPath>
<ellipse cx="190.3" cy="2302.2" rx="32.1" ry="89.2" fill="#469480" clip-path="url(#ck)"/>
<ellipse cx="163.6" cy="2300.6" rx="28.4" ry="89.3" fill="none" fill-opacity="1" stroke="#2F5597" stroke-width="2.6"/>
<ellipse cx="190.3" cy="2302.2" rx="32.1" ry="89.2" fill="none" fill-opacity="1" stroke="#2F5597" stroke-width="2.6"/>
<text x="176.8" y="2304.7" font-size="17" text-anchor="middle" textLength="31.0" lengthAdjust="spacingAndGlyphs">571</text>
<text x="136.3" y="2410.6" font-size="17.5" textLength="82.1" lengthAdjust="spacingAndGlyphs">P=1e-144</text>
<text x="136.3" y="2432.9" font-size="17.5" textLength="72.6" lengthAdjust="spacingAndGlyphs">ER=2.87</text>
<text font-size="17.5" text-anchor="middle" textLength="220.8" lengthAdjust="spacingAndGlyphs" transform="translate(90.5 2275.0) rotate(-90)">3801 down genes caused</text>
<text font-size="17.5" text-anchor="middle" textLength="168.6" lengthAdjust="spacingAndGlyphs" transform="translate(113.5 2272.6) rotate(-90)">by Anti VISTA (803)</text>
<text font-size="17.5" text-anchor="middle" textLength="194.7" lengthAdjust="spacingAndGlyphs" transform="translate(253.0 2288.0) rotate(-90)">1268 up genes caused</text>
<text font-size="17.5" text-anchor="middle" textLength="111.6" lengthAdjust="spacingAndGlyphs" transform="translate(276.5 2301.0) rotate(-90)">by COVID-19</text>
<ellipse cx="426.1" cy="2305.5" rx="28.1" ry="88.8" fill="#ED7D31" fill-opacity="1" stroke="#2F5597" stroke-width="2.6"/>
<ellipse cx="463.0" cy="2307.0" rx="32.0" ry="88.8" fill="#73E1E1" fill-opacity="1" stroke="#2F5597" stroke-width="2.6"/>
<clipPath id="cl"><ellipse cx="426.1" cy="2305.5" rx="28.1" ry="88.8"/></clipPath>
<ellipse cx="463" cy="2307" rx="32" ry="88.8" fill="#72A98B" clip-path="url(#cl)"/>
<ellipse cx="426.1" cy="2305.5" rx="28.1" ry="88.8" fill="none" fill-opacity="1" stroke="#2F5597" stroke-width="2.6"/>
<ellipse cx="463.0" cy="2307.0" rx="32.0" ry="88.8" fill="none" fill-opacity="1" stroke="#2F5597" stroke-width="2.6"/>
<text x="455.4" y="2307.0" font-size="17" text-anchor="middle" textLength="41.8" lengthAdjust="spacingAndGlyphs">1162</text>
<text x="411.7" y="2416.3" font-size="17.5" textLength="82.1" lengthAdjust="spacingAndGlyphs">P=8e-203</text>
<text x="411.7" y="2439.0" font-size="17.5" textLength="73.6" lengthAdjust="spacingAndGlyphs">ER=2.25</text>
<text font-size="17.5" text-anchor="middle" textLength="193.3" lengthAdjust="spacingAndGlyphs" transform="translate(355.0 2313.5) rotate(-90)">4343 up genes caused</text>
<text font-size="17.5" text-anchor="middle" textLength="167.6" lengthAdjust="spacingAndGlyphs" transform="translate(378.5 2299.2) rotate(-90)">by Anti VISTA (803)</text>
<text font-size="17.5" text-anchor="middle" textLength="218.4" lengthAdjust="spacingAndGlyphs" transform="translate(530.5 2290.4) rotate(-90)">2889 down genes caused</text>
<text font-size="17.5" text-anchor="middle" textLength="113.0" lengthAdjust="spacingAndGlyphs" transform="translate(554.3 2316.1) rotate(-90)">by COVID-19</text>
</svg>
</body></html>
